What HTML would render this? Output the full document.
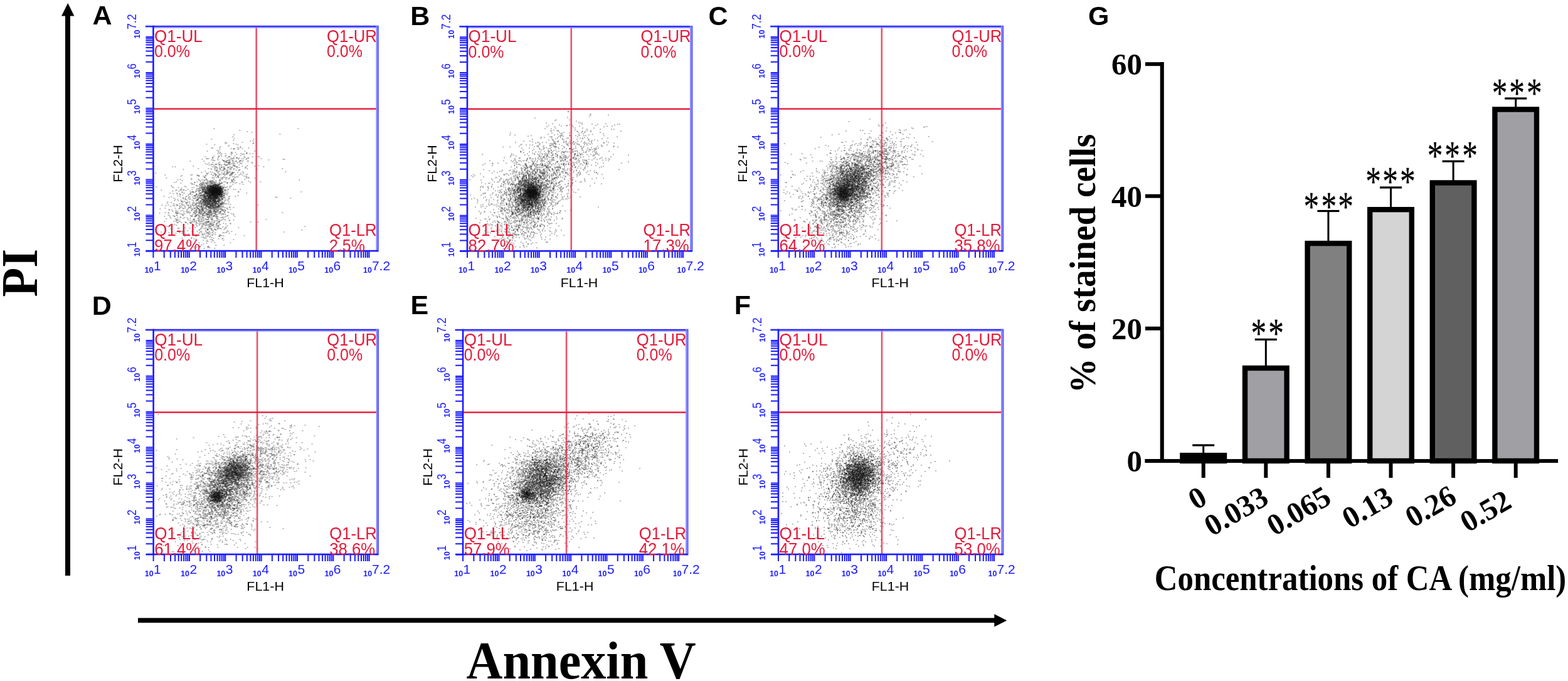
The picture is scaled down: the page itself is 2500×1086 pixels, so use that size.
<!DOCTYPE html><html><head><meta charset="utf-8"><title>Figure</title><style>html,body{margin:0;padding:0;background:#fff;overflow:hidden;}svg{display:block;}</style></head><body>
<svg width="2500" height="1086" viewBox="0 0 2500 1086">
<defs><filter id="soft" x="-5%" y="-5%" width="110%" height="110%"><feGaussianBlur stdDeviation="0.6"/></filter></defs>
<rect width="2500" height="1086" fill="#fff"/>
<rect x="104" y="24" width="8" height="894" fill="#000"/>
<polygon points="108.2,5 98,25.5 118.4,25.5" fill="#000"/>
<rect x="220" y="985.5" width="1367" height="7.6" fill="#000"/>
<polygon points="1605.3,989.5 1585.3,979.2 1585.3,999.4" fill="#000"/>
<text x="0" y="0" transform="translate(58.7,473.6) rotate(-90)" font-family="Liberation Serif, serif" font-weight="bold" font-size="83" textLength="76.6" lengthAdjust="spacingAndGlyphs">PI</text>
<text x="743.5" y="1081.8" font-family="Liberation Serif, serif" font-weight="bold" font-size="84" textLength="366.3" lengthAdjust="spacingAndGlyphs">Annexin V</text>
<text x="147.5" y="38.9" font-family="Liberation Sans, sans-serif" font-weight="bold" font-size="43">A</text>
<text x="654.2" y="39.6" font-family="Liberation Sans, sans-serif" font-weight="bold" font-size="43">B</text>
<text x="1129.5" y="39.6" font-family="Liberation Sans, sans-serif" font-weight="bold" font-size="43">C</text>
<text x="146.8" y="501.9" font-family="Liberation Sans, sans-serif" font-weight="bold" font-size="43">D</text>
<text x="654.6" y="501.4" font-family="Liberation Sans, sans-serif" font-weight="bold" font-size="43">E</text>
<text x="1170.8" y="501.4" font-family="Liberation Sans, sans-serif" font-weight="bold" font-size="43">F</text>
<text x="1735.1" y="40" font-family="Liberation Sans, sans-serif" font-weight="bold" font-size="43">G</text>
<g transform="translate(244.4,42.1)">
<g stroke="#000" stroke-width="2" stroke-opacity="0.27" fill="none" filter="url(#soft)"><path d="M149 168h2m-25 8h2m0 3h2m11 6h2m-51 9h2m8 9h2m37 1h2m0 0h2m-1 0h2m-39 1h2m-1 2h2m4 0h2m3 1h2m-18 1h2m27 0h2m-50 2h2m39 0h2m-25 2h2m17 1h2m3 0h2m-16 1h2m4 2h2m1 0h2m-3 3h2m7 3h2m-7 2h2m-13 3h2m95 4h2m-100 1h2m11 0h2m-2 0h2m-4 2h2m1 0h2m-25 5h2m42 0h2m2 1h2m-25 1h2m-10 1h2m5 1h2m16 0h2m-109 1h2m40 0h2m45 0h2m-38 1h2m-2 0h2m13 0h2m-2 0h2m-34 2h2m10 0h2m82 0h2m-87 2h2m7 0h2m-20 1h2m-5 1h2m1 0h2m18 0h2m-1 0h2m0 0h2m-13 1h2m6 0h2m0 0h2m-1 1h2m-19 1h2m9 0h2m-1 0h2m-1 0h2m1 0h2m9 0h2m-60 1h2m28 0h2m1 0h2m5 0h2m2 0h2m-1 0h2m0 0h2m6 0h2m1 0h2m-27 1h2m3 0h2m3 0h2m3 0h2m-1 0h2m0 0h2m1 0h2m-1 0h2m-2 0h2m3 0h2m-32 1h2m-1 0h2m0 0h2m0 0h2m-1 0h2m2 0h2m0 0h2m-2 0h2m0 0h2m-1 0h2m-2 0h2m-2 0h2m0 0h2m0 0h2m0 0h2m-2 0h2m-1 0h2m0 0h2m-1 0h2m-1 0h2m-23 1h2m1 0h2m0 0h2m-2 0h2m2 0h2m-2 0h2m3 0h2m3 0h2m0 0h2m2 0h2m-27 1h2m-1 0h2m3 0h2m0 0h2m-1 0h2m-2 0h2m4 0h2m-1 0h2m-2 0h2m-1 0h2m-2 0h2m-1 0h2m-2 0h2m4 0h2m26 0h2m-98 1h2m34 0h2m1 0h2m4 0h2m0 0h2m0 0h2m-1 0h2m1 0h2m1 0h2m-1 0h2m4 0h2m-2 0h2m-38 1h2m14 0h2m0 0h2m-1 0h2m0 0h2m-1 0h2m-1 0h2m-2 0h2m0 0h2m1 0h2m-2 0h2m0 0h2m-2 0h2m1 0h2m-2 0h2m-2 0h2m0 0h2m-1 0h2m-1 0h2m-36 1h2m4 0h2m0 0h2m3 0h2m1 0h2m5 0h2m-1 0h2m-2 0h2m-2 0h2m1 0h2m0 0h2m2 0h2m2 0h2m-29 1h2m8 0h2m-1 0h2m-2 0h2m-1 0h2m-2 0h2m-1 0h2m0 0h2m-2 0h2m-2 0h2m-1 0h2m0 0h2m-1 0h2m2 0h2m-1 0h2m27 0h2m-54 1h2m0 0h2m1 0h2m0 0h2m3 0h2m-1 0h2m-2 0h2m0 0h2m-1 0h2m4 0h2m0 0h2m-1 0h2m-2 0h2m-17 1h2m-2 0h2m1 0h2m-1 0h2m-1 0h2m0 0h2m4 0h2m-26 1h2m7 0h2m-1 0h2m0 0h2m-2 0h2m-1 0h2m-2 0h2m-2 0h2m-2 0h2m-1 0h2m0 0h2m-1 0h2m-1 0h2m-1 0h2m-1 0h2m2 0h2m3 0h2m0 0h2m-47 1h2m21 0h2m0 0h2m1 0h2m-1 0h2m-1 0h2m4 0h2m-1 0h2m1 0h2m5 0h2m-38 1h2m4 0h2m11 0h2m-2 0h2m-1 0h2m-1 0h2m1 0h2m-2 0h2m-2 0h2m12 0h2m-25 1h2m-2 0h2m2 0h2m0 0h2m-1 0h2m9 0h2m-48 1h2m18 0h2m6 0h2m-1 0h2m0 0h2m0 0h2m0 0h2m6 0h2m2 0h2m15 0h2m-50 1h2m5 0h2m0 0h2m3 0h2m2 0h2m-12 1h2m0 0h2m0 0h2m3 0h2m0 0h2m9 0h2m-82 1h2m40 0h2m11 0h2m1 0h2m0 0h2m-1 0h2m-1 0h2m1 0h2m-1 0h2m2 0h2m-2 0h2m-24 1h2m0 0h2m8 0h2m1 0h2m10 0h2m-52 1h2m23 0h2m7 0h2m2 0h2m8 0h2m-2 0h2m2 0h2m-41 1h2m9 0h2m4 0h2m1 0h2m-1 0h2m-2 0h2m20 0h2m-32 1h2m-1 0h2m8 0h2m-1 0h2m1 0h2m2 0h2m-2 0h2m0 0h2m-21 1h2m10 0h2m1 0h2m-22 1h2m3 0h2m-36 1h2m35 0h2m19 0h2m-27 1h2m10 0h2m0 1h2m-1 0h2m-2 0h2m0 0h2m4 0h2m-21 1h2m2 0h2m-46 1h2m31 0h2m6 0h2m1 0h2m4 0h2m4 1h2m-43 1h2m7 0h2m16 0h2m3 0h2m7 0h2m-11 1h2m5 0h2m-27 1h2m18 0h2m-53 1h2m17 0h2m32 0h2m15 0h2m-108 1h2m49 1h2m23 0h2m8 0h2m5 1h2m-39 1h2m4 1h2m3 0h2m8 0h2m1 0h2m9 0h2m-34 1h2m15 0h2m14 0h2m-2 0h2m-49 1h2m7 0h2m7 0h2m15 0h2m-68 1h2m41 0h2m14 0h2m10 0h2m-48 1h2m36 1h2m3 0h2m3 1h2m9 0h2m17 0h2m-40 1h2m-26 1h2m0 0h2m26 0h2m3 0h2m-36 1h2m18 0h2m-50 1h2m18 1h2m59 0h2m-39 1h2m-44 1h2m44 0h2m-51 1h2m40 0h2m46 0h2m-87 2h2m43 1h2m-31 1h2m41 0h2m-28 2h2m29 1h2m-25 1h2m-64 2h2m92 1h2m-40 1h2m4 0h2m4 2h2m11 0h2m-11 2h2m-50 2h2m1 0h2m69 0h2m-53 7h2m74 0h2m-57 2h2m-5 7h2m-9 4h2"/><path d="M158 183h2m-46 2h2m12 11h2m-29 2h2m3 3h2m40 1h2m3 1h2m-59 4h2m19 3h2m4 0h2m25 0h2m-12 1h2m6 0h2m-41 2h2m31 1h2m-86 1h2m52 0h2m19 2h2m1 0h2m-50 1h2m43 0h2m-20 4h2m50 0h2m-48 2h2m-1 0h2m-13 1h2m5 0h2m-23 1h2m22 1h2m-76 1h2m78 0h2m35 0h2m-56 2h2m9 3h2m-7 1h2m-14 1h2m6 0h2m-29 1h2m5 0h2m-25 1h2m70 0h2m-73 1h2m11 0h2m-13 1h2m70 0h2m-12 1h2m-40 1h2m-15 2h2m-2 0h2m39 2h2m-36 2h2m25 3h2m-36 1h2m-21 1h2m13 0h2m10 0h2m-1 0h2m-1 0h2m-18 1h2m16 0h2m-1 0h2m-1 0h2m-31 1h2m22 0h2m5 0h2m1 0h2m-22 1h2m5 0h2m14 0h2m-2 0h2m0 0h2m-32 1h2m-1 0h2m14 0h2m1 0h2m3 0h2m2 0h2m-34 1h2m5 0h2m2 0h2m3 0h2m1 0h2m2 0h2m-2 0h2m-2 0h2m-1 0h2m1 0h2m0 0h2m0 0h2m-2 0h2m-33 1h2m13 0h2m1 0h2m0 0h2m1 0h2m-1 0h2m1 0h2m2 0h2m-1 0h2m-1 0h2m-2 0h2m-40 1h2m18 0h2m-1 0h2m-1 0h2m-2 0h2m0 0h2m5 0h2m-2 0h2m6 0h2m-49 1h2m18 0h2m4 0h2m-1 0h2m-1 0h2m2 0h2m1 0h2m-2 0h2m-2 0h2m-2 0h2m1 0h2m-2 0h2m5 0h2m-61 1h2m36 0h2m-1 0h2m5 0h2m-1 0h2m-1 0h2m-2 0h2m-2 0h2m0 0h2m-2 0h2m0 0h2m-1 0h2m-1 0h2m-2 0h2m1 0h2m-55 1h2m41 0h2m0 0h2m-2 0h2m-1 0h2m-2 0h2m-1 0h2m-2 0h2m0 0h2m-2 0h2m-1 0h2m-1 0h2m-2 0h2m1 0h2m-2 0h2m-1 0h2m-41 1h2m18 0h2m2 0h2m-1 0h2m-1 0h2m-2 0h2m1 0h2m2 0h2m-1 0h2m1 0h2m-1 0h2m-27 1h2m0 0h2m4 0h2m2 0h2m-1 0h2m-1 0h2m-1 0h2m-2 0h2m-1 0h2m-2 0h2m-2 0h2m-1 0h2m-2 0h2m-2 0h2m-2 0h2m-1 0h2m-1 0h2m-1 0h2m-2 0h2m-2 0h2m-2 0h2m0 0h2m0 0h2m-2 0h2m-1 0h2m-2 0h2m-1 0h2m-49 1h2m2 0h2m17 0h2m1 0h2m3 0h2m-1 0h2m-2 0h2m0 0h2m-1 0h2m-1 0h2m-2 0h2m0 0h2m0 0h2m-2 0h2m-14 1h2m-1 0h2m5 0h2m1 0h2m-2 0h2m-1 0h2m-2 0h2m2 0h2m-68 1h2m51 0h2m1 0h2m-1 0h2m-1 0h2m0 0h2m-1 0h2m4 0h2m-2 0h2m0 0h2m-2 0h2m-19 1h2m2 0h2m-2 0h2m1 0h2m0 0h2m-1 0h2m-1 0h2m-2 0h2m-1 0h2m-1 0h2m0 0h2m-1 0h2m-19 1h2m2 0h2m1 0h2m0 0h2m0 0h2m5 0h2m1 0h2m0 0h2m-1 0h2m-50 1h2m15 0h2m1 0h2m5 0h2m-2 0h2m4 0h2m8 0h2m-29 1h2m5 0h2m0 0h2m0 0h2m-1 0h2m0 0h2m-2 0h2m2 0h2m-72 1h2m27 0h2m22 0h2m15 0h2m0 0h2m-2 0h2m1 0h2m2 0h2m-26 1h2m2 0h2m0 0h2m4 0h2m2 0h2m10 0h2m-29 1h2m9 0h2m1 0h2m0 0h2m-44 1h2m16 0h2m6 0h2m-2 0h2m13 0h2m-1 0h2m-33 1h2m5 0h2m7 0h2m16 0h2m5 0h2m-51 1h2m6 0h2m10 0h2m-1 0h2m7 0h2m3 0h2m-2 0h2m-12 1h2m8 0h2m4 0h2m-29 1h2m3 0h2m12 0h2m1 0h2m-1 0h2m13 0h2m-26 1h2m0 0h2m4 0h2m-2 0h2m0 0h2m-17 1h2m13 0h2m-18 1h2m-1 0h2m3 0h2m16 0h2m2 0h2m-14 1h2m2 0h2m7 0h2m0 0h2m3 0h2m-76 1h2m56 0h2m-33 1h2m20 0h2m-59 1h2m31 0h2m19 0h2m0 0h2m4 0h2m2 0h2m-64 1h2m43 1h2m0 0h2m5 0h2m4 0h2m2 0h2m-7 1h2m-84 1h2m57 0h2m4 0h2m32 0h2m-57 2h2m10 0h2m-2 0h2m36 0h2m-85 1h2m41 0h2m3 0h2m23 0h2m-68 2h2m60 0h2m-65 1h2m17 0h2m19 0h2m0 0h2m9 0h2m-72 1h2m38 0h2m7 0h2m17 0h2m0 0h2m-50 1h2m54 0h2m-32 1h2m6 0h2m9 0h2m-2 1h2m3 1h2m-61 1h2m28 0h2m15 0h2m-20 1h2m33 0h2m13 1h2m-41 1h2m-1 0h2m13 1h2m-55 1h2m57 0h2m-3 1h2m-57 1h2m19 0h2m40 1h2m-85 1h2m147 1h2m-130 1h2m53 0h2m-18 1h2m36 1h2m-32 1h2m-2 1h2m17 0h2m-13 1h2m-5 1h2m4 1h2m-48 1h2m34 3h2m10 0h2m-17 3h2m39 0h2m-40 2h2m-1 1h2m4 3h2m10 0h2m-24 1h2m22 0h2m-1 0h2m-61 1h2m41 2h2m15 2h2m-57 5h2m36 0h2m18 5h2m-28 2h2m-2 2h2"/><path d="M230 163h2m-76 6h2m-53 28h2m-13 12h2m49 0h2m-4 2h2m-68 1h2m41 0h2m84 0h2m-111 2h2m16 1h2m24 1h2m-30 1h2m-33 2h2m40 0h2m-27 1h2m4 0h2m-16 1h2m3 1h2m28 0h2m13 1h2m-113 1h2m62 0h2m4 1h2m6 0h2m-39 2h2m37 2h2m19 0h2m3 0h2m-31 1h2m-9 1h2m-9 2h2m13 0h2m24 0h2m-52 1h2m21 2h2m14 0h2m-27 1h2m21 0h2m13 0h2m-14 1h2m-45 3h2m33 0h2m-9 1h2m-4 1h2m-67 1h2m16 0h2m22 0h2m38 1h2m-81 1h2m38 1h2m6 0h2m56 0h2m-21 2h2m-37 1h2m18 0h2m-39 1h2m19 0h2m4 0h2m-32 1h2m25 0h2m-3 1h2m-30 1h2m9 0h2m-1 0h2m5 0h2m0 0h2m-49 1h2m19 0h2m13 0h2m7 0h2m0 0h2m3 0h2m0 0h2m3 0h2m-19 1h2m-1 0h2m-1 0h2m1 0h2m-1 0h2m-2 0h2m-68 1h2m47 0h2m3 0h2m4 0h2m-2 0h2m2 0h2m-1 0h2m-2 0h2m8 0h2m-16 1h2m-1 0h2m-1 0h2m1 0h2m0 0h2m-1 0h2m0 0h2m0 0h2m-35 1h2m4 0h2m9 0h2m0 0h2m-2 0h2m-2 0h2m0 0h2m-2 0h2m-1 0h2m0 0h2m1 0h2m1 0h2m0 0h2m-1 0h2m-52 1h2m25 0h2m2 0h2m5 0h2m0 0h2m1 0h2m0 0h2m-1 0h2m-2 0h2m-2 0h2m2 0h2m-2 0h2m-2 0h2m0 0h2m-1 0h2m-61 1h2m28 0h2m12 0h2m0 0h2m-2 0h2m0 0h2m-1 0h2m-1 0h2m1 0h2m-1 0h2m3 0h2m-74 1h2m51 0h2m-2 0h2m0 0h2m-2 0h2m2 0h2m-1 0h2m-1 0h2m-1 0h2m-2 0h2m0 0h2m2 0h2m-1 0h2m-24 1h2m0 0h2m2 0h2m4 0h2m-2 0h2m-1 0h2m-2 0h2m-2 0h2m-1 0h2m-1 0h2m-2 0h2m-1 0h2m-2 0h2m0 0h2m2 0h2m4 0h2m-24 1h2m1 0h2m-2 0h2m2 0h2m-2 0h2m-2 0h2m1 0h2m-1 0h2m-2 0h2m-1 0h2m3 0h2m-2 0h2m0 0h2m1 0h2m-31 1h2m0 0h2m1 0h2m6 0h2m-1 0h2m-1 0h2m-1 0h2m0 0h2m-2 0h2m-1 0h2m0 0h2m-2 0h2m3 0h2m0 0h2m-63 1h2m8 0h2m36 0h2m2 0h2m-1 0h2m-1 0h2m0 0h2m-2 0h2m-1 0h2m9 0h2m-35 1h2m1 0h2m-1 0h2m1 0h2m0 0h2m-2 0h2m0 0h2m-2 0h2m-2 0h2m4 0h2m-2 0h2m-1 0h2m-2 0h2m-1 0h2m-1 0h2m-2 0h2m1 0h2m-1 0h2m-1 0h2m-26 1h2m9 0h2m-1 0h2m2 0h2m1 0h2m-15 1h2m-2 0h2m1 0h2m0 0h2m0 0h2m5 0h2m-2 0h2m-39 1h2m6 0h2m1 0h2m-1 0h2m8 0h2m-1 0h2m1 0h2m1 0h2m1 0h2m-1 0h2m-1 0h2m1 0h2m-41 1h2m12 0h2m1 0h2m10 0h2m-2 0h2m4 0h2m-1 0h2m1 0h2m-1 0h2m-56 1h2m42 0h2m-2 0h2m1 0h2m94 0h2m-123 1h2m4 0h2m7 0h2m0 0h2m2 0h2m-2 0h2m2 0h2m0 0h2m-21 1h2m14 0h2m2 0h2m-17 1h2m7 0h2m11 0h2m10 0h2m-72 1h2m30 0h2m11 0h2m2 0h2m1 0h2m-35 1h2m0 0h2m8 0h2m20 0h2m3 0h2m-71 1h2m33 0h2m5 0h2m0 0h2m5 0h2m6 0h2m-14 1h2m-2 0h2m0 0h2m-68 1h2m58 0h2m12 0h2m0 0h2m-32 1h2m11 0h2m10 0h2m4 0h2m3 0h2m6 0h2m-49 1h2m4 0h2m3 0h2m16 0h2m1 0h2m-1 0h2m-1 0h2m-69 1h2m45 0h2m7 0h2m0 0h2m-2 0h2m4 0h2m-2 0h2m12 0h2m-33 1h2m2 0h2m1 0h2m6 0h2m0 0h2m8 0h2m-1 0h2m-72 1h2m-1 0h2m22 0h2m15 0h2m-1 0h2m8 0h2m4 0h2m6 0h2m-1 0h2m-27 2h2m1 0h2m5 0h2m1 0h2m-2 0h2m4 0h2m1 0h2m1 0h2m-51 1h2m15 0h2m12 0h2m14 0h2m-1 0h2m-15 1h2m8 0h2m0 0h2m3 0h2m3 0h2m-56 1h2m29 0h2m-2 1h2m5 0h2m8 0h2m-85 1h2m27 0h2m35 0h2m-57 1h2m36 0h2m1 0h2m0 0h2m15 0h2m11 0h2m-22 1h2m21 0h2m-34 1h2m14 0h2m0 0h2m8 0h2m-19 1h2m-2 0h2m-83 2h2m26 0h2m36 1h2m8 0h2m17 0h2m-15 1h2m18 0h2m-67 1h2m39 0h2m28 1h2m-86 1h2m57 1h2m17 2h2m-58 3h2m64 0h2m-91 2h2m50 0h2m2 0h2m7 0h2m5 0h2m-24 1h2m16 3h2m-24 1h2m1 1h2m-19 1h2m23 0h2m9 0h2m-40 1h2m12 0h2m25 1h2m-13 2h2m7 1h2m-17 1h2m-27 3h2m31 1h2m-61 2h2m53 0h2m14 2h2m-48 5h2m-4 13h2m13 2h2"/><path d="M127 182h2m-45 6h2m20 4h2m50 11h2m-22 3h2m4 2h2m-59 3h2m5 2h2m-1 1h2m34 1h2m-29 2h2m-1 0h2m20 2h2m-44 1h2m17 1h2m2 4h2m-9 1h2m20 0h2m21 0h2m-57 1h2m-1 1h2m23 3h2m5 4h2m-15 1h2m-31 2h2m-41 1h2m83 0h2m-49 1h2m19 0h2m22 0h2m20 0h2m-57 1h2m26 0h2m25 1h2m11 0h2m-58 3h2m18 1h2m-49 1h2m14 0h2m-31 2h2m12 0h2m1 0h2m7 0h2m34 0h2m-51 1h2m13 0h2m10 0h2m-2 2h2m19 0h2m14 0h2m-66 1h2m10 0h2m3 0h2m4 0h2m-2 0h2m-12 1h2m7 0h2m-13 1h2m1 0h2m-1 0h2m0 0h2m1 0h2m2 0h2m-100 1h2m77 0h2m1 0h2m7 0h2m2 0h2m1 0h2m-1 0h2m7 0h2m-50 1h2m17 0h2m7 0h2m4 0h2m3 0h2m16 0h2m-36 1h2m1 0h2m3 0h2m2 0h2m0 0h2m-1 0h2m-2 0h2m4 0h2m-1 0h2m-2 0h2m-26 1h2m4 0h2m0 0h2m-1 0h2m-1 0h2m-2 0h2m-1 0h2m-1 0h2m0 0h2m2 0h2m-1 0h2m-2 0h2m-1 0h2m-20 1h2m6 0h2m-1 0h2m-2 0h2m-1 0h2m1 0h2m-1 0h2m-1 0h2m0 0h2m-70 1h2m40 0h2m3 0h2m7 0h2m0 0h2m-1 0h2m7 0h2m2 0h2m5 0h2m-31 1h2m0 0h2m1 0h2m-1 0h2m4 0h2m-2 0h2m-1 0h2m-2 0h2m-1 0h2m-2 0h2m0 0h2m4 0h2m-32 1h2m11 0h2m-2 0h2m-2 0h2m-1 0h2m-2 0h2m-1 0h2m0 0h2m-2 0h2m0 0h2m-2 0h2m0 0h2m0 0h2m-2 0h2m-2 0h2m-1 0h2m-2 0h2m-1 0h2m1 0h2m-1 0h2m-2 0h2m-1 0h2m-38 1h2m13 0h2m1 0h2m-1 0h2m-1 0h2m0 0h2m0 0h2m-1 0h2m-1 0h2m-1 0h2m-2 0h2m-1 0h2m-2 0h2m-2 0h2m-1 0h2m-1 0h2m-2 0h2m-1 0h2m-1 0h2m-1 0h2m-2 0h2m-2 0h2m-1 0h2m6 0h2m-71 1h2m19 0h2m9 0h2m3 0h2m1 0h2m-2 0h2m1 0h2m-2 0h2m-1 0h2m1 0h2m4 0h2m-2 0h2m-1 0h2m-2 0h2m-1 0h2m1 0h2m0 0h2m1 0h2m-36 1h2m-2 0h2m9 0h2m0 0h2m5 0h2m2 0h2m-1 0h2m-2 0h2m1 0h2m-2 0h2m-2 0h2m-2 0h2m1 0h2m-66 1h2m42 0h2m-1 0h2m9 0h2m-1 0h2m1 0h2m-2 0h2m-2 0h2m-1 0h2m0 0h2m-1 0h2m-2 0h2m-1 0h2m-28 1h2m-1 0h2m6 0h2m-1 0h2m1 0h2m2 0h2m3 0h2m0 0h2m2 0h2m-21 1h2m5 0h2m-1 0h2m3 0h2m8 0h2m-36 1h2m2 0h2m8 0h2m1 0h2m-2 0h2m1 0h2m2 0h2m-29 1h2m4 0h2m2 0h2m1 0h2m-2 0h2m-1 0h2m1 0h2m-2 0h2m3 0h2m-1 0h2m-1 0h2m1 0h2m6 0h2m-50 1h2m22 0h2m2 0h2m3 0h2m0 0h2m-2 0h2m-1 0h2m-2 0h2m19 0h2m-74 1h2m7 0h2m17 0h2m10 0h2m0 0h2m4 0h2m-51 1h2m36 0h2m-1 0h2m-1 0h2m6 0h2m-1 0h2m121 0h2m-149 1h2m11 0h2m2 0h2m7 0h2m-1 0h2m4 0h2m3 0h2m-60 1h2m36 0h2m5 0h2m0 0h2m-18 1h2m5 0h2m2 1h2m0 0h2m8 0h2m-1 0h2m-29 1h2m4 0h2m4 0h2m-15 1h2m2 0h2m4 0h2m13 0h2m-77 1h2m47 0h2m7 0h2m-1 0h2m3 0h2m6 0h2m-81 1h2m53 0h2m0 0h2m6 0h2m4 0h2m-1 0h2m-1 0h2m4 0h2m1 0h2m-64 1h2m44 0h2m16 0h2m-20 1h2m13 0h2m-46 1h2m29 0h2m0 0h2m73 0h2m-149 1h2m12 0h2m40 0h2m6 0h2m1 1h2m11 0h2m-13 1h2m-1 0h2m3 0h2m2 0h2m-42 1h2m9 0h2m17 0h2m11 0h2m3 0h2m-47 1h2m1 0h2m-26 1h2m30 0h2m3 0h2m-11 2h2m8 0h2m17 0h2m-26 1h2m15 0h2m8 0h2m-35 1h2m44 0h2m-28 1h2m17 0h2m-85 1h2m51 0h2m3 0h2m6 0h2m22 0h2m-27 1h2m23 0h2m-31 1h2m3 0h2m36 0h2m-51 1h2m19 0h2m-33 1h2m-1 0h2m14 0h2m-6 1h2m35 0h2m-31 2h2m-48 1h2m56 0h2m-2 2h2m-20 1h2m25 0h2m67 0h2m-118 1h2m0 0h2m-32 1h2m35 0h2m23 0h2m-23 1h2m14 0h2m-44 1h2m12 0h2m1 0h2m18 0h2m1 1h2m4 0h2m-38 1h2m-29 2h2m55 0h2m3 0h2m-7 3h2m43 2h2m-99 1h2m0 0h2m-15 1h2m68 0h2m-14 2h2m-11 2h2m10 0h2m-78 1h2m75 0h2m-67 1h2m89 0h2m-72 1h2m37 1h2m9 0h2m-20 1h2m26 2h2m-17 1h2m-13 2h2m30 4h2m-18 1h2m-23 9h2"/><path d="M159 180h2m-7 3h2m-18 10h2m-35 1h2m21 1h2m-37 15h2m41 0h2m13 0h2m-18 1h2m-2 1h2m71 0h2m-99 2h2m4 0h2m19 0h2m-14 2h2m1 3h2m-37 1h2m21 0h2m-4 1h2m-9 2h2m-13 1h2m-1 0h2m32 0h2m-15 1h2m-16 1h2m6 0h2m18 0h2m-24 1h2m15 0h2m-25 1h2m-1 0h2m15 0h2m-26 2h2m-11 2h2m21 0h2m2 1h2m-116 1h2m108 2h2m-2 2h2m-21 4h2m55 0h2m-44 2h2m-39 1h2m31 0h2m-20 2h2m16 0h2m-42 2h2m37 0h2m11 0h2m3 0h2m-81 1h2m44 1h2m14 0h2m-46 1h2m25 1h2m9 0h2m0 0h2m-13 1h2m-2 0h2m3 0h2m3 0h2m-1 0h2m-2 0h2m0 0h2m-15 1h2m6 0h2m-1 0h2m-24 1h2m8 0h2m8 0h2m0 0h2m0 0h2m3 0h2m-29 1h2m-1 0h2m3 0h2m7 0h2m0 0h2m-2 0h2m0 0h2m-1 0h2m2 0h2m-2 0h2m9 0h2m-31 1h2m2 0h2m1 0h2m5 0h2m-2 0h2m0 0h2m0 0h2m0 0h2m-22 1h2m2 0h2m4 0h2m1 0h2m2 0h2m-2 0h2m0 0h2m1 0h2m-32 1h2m-1 0h2m8 0h2m4 0h2m-1 0h2m1 0h2m0 0h2m-1 0h2m-2 0h2m-2 0h2m-1 0h2m0 0h2m-17 1h2m0 0h2m-2 0h2m2 0h2m-2 0h2m-1 0h2m-1 0h2m2 0h2m0 0h2m-1 0h2m-2 0h2m-2 0h2m-18 1h2m-2 0h2m1 0h2m-1 0h2m-2 0h2m-2 0h2m0 0h2m0 0h2m-2 0h2m-2 0h2m0 0h2m-2 0h2m-1 0h2m-1 0h2m0 0h2m1 0h2m-21 1h2m0 0h2m-1 0h2m4 0h2m-2 0h2m-1 0h2m-1 0h2m-2 0h2m0 0h2m-1 0h2m-1 0h2m-1 0h2m-1 0h2m-1 0h2m0 0h2m-46 1h2m18 0h2m4 0h2m-1 0h2m3 0h2m0 0h2m-1 0h2m-2 0h2m0 0h2m-2 0h2m-1 0h2m-2 0h2m-2 0h2m-2 0h2m-2 0h2m-1 0h2m-1 0h2m1 0h2m2 0h2m-36 1h2m5 0h2m0 0h2m1 0h2m3 0h2m-1 0h2m-1 0h2m-1 0h2m-2 0h2m-1 0h2m-2 0h2m1 0h2m0 0h2m-2 0h2m-2 0h2m1 0h2m-1 0h2m-2 0h2m-1 0h2m-2 0h2m-1 0h2m-36 1h2m10 0h2m-2 0h2m13 0h2m-1 0h2m-1 0h2m-2 0h2m1 0h2m-2 0h2m-26 1h2m4 0h2m5 0h2m0 0h2m-2 0h2m6 0h2m0 0h2m-2 0h2m-28 1h2m6 0h2m1 0h2m-1 0h2m-2 0h2m-1 0h2m-1 0h2m-1 0h2m-1 0h2m3 0h2m1 0h2m-1 0h2m-21 1h2m3 0h2m2 0h2m-2 0h2m-2 0h2m-1 0h2m0 0h2m-1 0h2m0 0h2m0 0h2m-2 0h2m0 0h2m0 0h2m-33 1h2m3 0h2m-2 0h2m3 0h2m1 0h2m7 0h2m5 0h2m0 0h2m-57 1h2m19 0h2m14 0h2m-1 0h2m4 0h2m-1 0h2m3 0h2m1 0h2m2 0h2m-69 1h2m39 0h2m3 0h2m-1 0h2m-1 0h2m-1 0h2m2 0h2m-1 0h2m-1 0h2m0 0h2m0 0h2m4 0h2m-85 1h2m41 0h2m33 0h2m-39 1h2m8 0h2m1 0h2m0 0h2m9 0h2m0 0h2m2 0h2m4 0h2m15 0h2m-39 1h2m2 0h2m1 0h2m5 0h2m-1 0h2m0 0h2m-64 1h2m38 0h2m-2 0h2m7 0h2m1 1h2m2 0h2m1 0h2m10 0h2m4 0h2m-50 1h2m11 0h2m1 0h2m0 0h2m9 0h2m0 0h2m-56 1h2m45 0h2m0 0h2m-2 0h2m1 0h2m5 0h2m-33 1h2m9 0h2m2 0h2m5 0h2m-13 1h2m6 0h2m-18 1h2m6 0h2m8 0h2m-15 1h2m4 0h2m2 0h2m1 0h2m2 0h2m-17 1h2m17 0h2m-1 0h2m18 0h2m-93 1h2m39 0h2m6 0h2m3 0h2m10 0h2m-68 1h2m60 0h2m8 0h2m-78 1h2m73 0h2m-1 0h2m-36 1h2m21 0h2m-38 1h2m11 0h2m11 0h2m4 0h2m2 0h2m3 0h2m28 0h2m-88 1h2m27 0h2m4 0h2m17 0h2m-22 1h2m0 0h2m9 0h2m1 0h2m0 0h2m6 0h2m2 0h2m-2 0h2m-16 1h2m13 0h2m1 0h2m-51 1h2m21 0h2m24 0h2m-38 1h2m13 0h2m-7 1h2m11 0h2m-30 1h2m3 0h2m6 0h2m16 0h2m-37 1h2m15 0h2m15 1h2m-63 1h2m26 0h2m11 0h2m8 1h2m24 0h2m-49 1h2m4 0h2m-38 1h2m42 0h2m-11 1h2m41 0h2m-32 1h2m-38 1h2m28 0h2m-18 3h2m-28 1h2m81 1h2m-57 1h2m37 1h2m-68 1h2m11 0h2m28 0h2m-25 1h2m-6 1h2m66 0h2m-52 2h2m25 0h2m-24 1h2m23 1h2m-2 2h2m-29 1h2m13 0h2m12 0h2m-33 2h2m161 1h2m-162 4h2m6 0h2m7 0h2m-9 6h2m16 0h2m-25 3h2m0 0h2m10 0h2m-30 1h2m-1 13h2"/><path d="M96 163h2m103 9h2m-76 23h2m-26 6h2m18 2h2m0 0h2m-12 3h2m15 4h2m-49 1h2m24 3h2m12 0h2m-47 1h2m49 0h2m-12 1h2m15 2h2m-20 1h2m-30 1h2m18 0h2m5 0h2m-58 3h2m39 8h2m10 0h2m-31 3h2m50 0h2m2 0h2m-35 1h2m4 1h2m31 0h2m-133 1h2m75 0h2m24 0h2m-29 1h2m6 0h2m-25 1h2m-4 5h2m-5 2h2m17 0h2m-3 2h2m5 1h2m7 0h2m44 0h2m-82 2h2m22 0h2m-1 1h2m-16 1h2m10 0h2m0 0h2m4 0h2m-2 0h2m-39 1h2m30 0h2m-1 0h2m-24 1h2m10 0h2m-1 0h2m-2 0h2m3 0h2m-1 0h2m2 0h2m17 0h2m-36 1h2m-1 0h2m4 0h2m3 0h2m2 0h2m0 0h2m-14 1h2m-1 0h2m0 0h2m4 0h2m1 0h2m-35 1h2m3 0h2m1 0h2m4 0h2m-1 0h2m3 0h2m-2 0h2m0 0h2m0 0h2m-2 0h2m1 0h2m4 0h2m-20 1h2m-1 0h2m3 0h2m-2 0h2m5 0h2m-10 1h2m2 0h2m-1 0h2m-2 0h2m-1 0h2m2 0h2m0 0h2m2 0h2m8 0h2m-108 1h2m70 0h2m-1 0h2m-2 0h2m0 0h2m4 0h2m-1 0h2m0 0h2m-1 0h2m-2 0h2m-1 0h2m2 0h2m-2 0h2m3 0h2m-38 1h2m0 0h2m7 0h2m4 0h2m-2 0h2m0 0h2m2 0h2m-2 0h2m-1 0h2m-2 0h2m-2 0h2m0 0h2m1 0h2m-2 0h2m0 0h2m2 0h2m-2 0h2m-31 1h2m2 0h2m0 0h2m6 0h2m-1 0h2m0 0h2m1 0h2m-2 0h2m0 0h2m-1 0h2m2 0h2m1 0h2m-47 1h2m-1 0h2m12 0h2m10 0h2m1 0h2m-1 0h2m-1 0h2m-2 0h2m-1 0h2m0 0h2m-1 0h2m-1 0h2m-2 0h2m1 0h2m-2 0h2m0 0h2m-1 0h2m-25 1h2m-1 0h2m6 0h2m1 0h2m-2 0h2m0 0h2m-1 0h2m-1 0h2m-1 0h2m-2 0h2m-1 0h2m1 0h2m2 0h2m-1 0h2m0 0h2m-28 1h2m-1 0h2m-1 0h2m0 0h2m-1 0h2m-2 0h2m1 0h2m-1 0h2m-1 0h2m-1 0h2m-2 0h2m-1 0h2m-1 0h2m-2 0h2m-1 0h2m-2 0h2m-2 0h2m-2 0h2m-1 0h2m0 0h2m0 0h2m0 0h2m-2 0h2m-2 0h2m-1 0h2m-36 1h2m2 0h2m-2 0h2m9 0h2m-1 0h2m3 0h2m0 0h2m-1 0h2m-1 0h2m-1 0h2m-1 0h2m2 0h2m-1 0h2m0 0h2m2 0h2m-35 1h2m13 0h2m-2 0h2m-2 0h2m-1 0h2m-2 0h2m-2 0h2m-1 0h2m-1 0h2m2 0h2m2 0h2m1 0h2m-27 1h2m0 0h2m4 0h2m-2 0h2m0 0h2m3 0h2m-1 0h2m-2 0h2m-1 0h2m-1 0h2m0 0h2m-2 0h2m1 0h2m-2 0h2m2 0h2m-55 1h2m22 0h2m4 0h2m1 0h2m2 0h2m2 0h2m-1 0h2m-1 0h2m-1 0h2m-1 0h2m-21 1h2m5 0h2m1 0h2m-1 0h2m-2 0h2m-1 0h2m-1 0h2m-1 0h2m-1 0h2m2 0h2m-1 0h2m-2 0h2m-9 1h2m3 0h2m-22 1h2m6 0h2m3 0h2m-2 0h2m2 0h2m-1 0h2m1 0h2m-19 1h2m5 0h2m0 0h2m-2 0h2m-1 0h2m-1 0h2m0 0h2m2 0h2m0 0h2m0 0h2m-2 0h2m-16 1h2m7 0h2m-1 0h2m3 0h2m-30 1h2m14 0h2m10 0h2m-28 1h2m-1 0h2m3 0h2m1 0h2m8 0h2m4 0h2m-6 1h2m-1 0h2m-54 1h2m27 0h2m9 0h2m4 0h2m2 0h2m-2 0h2m-21 1h2m8 0h2m8 0h2m-50 1h2m-1 0h2m25 0h2m14 0h2m1 0h2m-17 1h2m-1 0h2m1 0h2m-1 0h2m11 0h2m-12 1h2m7 0h2m13 0h2m-82 1h2m46 0h2m1 0h2m2 0h2m13 0h2m-1 0h2m1 0h2m-57 1h2m19 0h2m14 0h2m-1 0h2m1 0h2m1 0h2m-33 1h2m7 0h2m-1 0h2m16 0h2m1 0h2m-2 0h2m-30 1h2m3 0h2m18 0h2m5 0h2m2 0h2m-20 1h2m3 0h2m4 0h2m-60 1h2m21 1h2m1 2h2m52 0h2m-45 1h2m9 0h2m5 0h2m-56 1h2m30 0h2m-25 1h2m2 0h2m32 0h2m-11 1h2m122 1h2m-135 1h2m13 0h2m1 0h2m14 0h2m-61 1h2m31 0h2m11 0h2m15 0h2m-34 2h2m9 0h2m1 0h2m6 0h2m-2 0h2m-34 1h2m30 0h2m-85 1h2m42 0h2m3 0h2m4 0h2m27 0h2m-14 1h2m-38 1h2m32 0h2m20 0h2m-84 1h2m71 0h2m-1 1h2m-16 1h2m3 0h2m0 0h2m10 1h2m-40 1h2m-30 1h2m32 0h2m7 2h2m-1 0h2m-7 1h2m2 0h2m18 4h2m-27 1h2m-2 0h2m7 0h2m10 1h2m-35 1h2m38 1h2m4 2h2m-60 2h2m-11 1h2m0 1h2m67 0h2m-20 1h2m10 0h2m8 1h2m-24 2h2m-22 1h2m23 6h2m-33 6h2m23 9h2"/><path d="M128 173h2m-16 14h2m11 0h2m2 1h2m1 1h2m-33 10h2m19 2h2m-18 2h2m4 0h2m32 0h2m-27 2h2m-22 2h2m15 1h2m35 0h2m9 0h2m-76 2h2m37 0h2m-43 3h2m89 0h2m-67 1h2m17 1h2m-45 2h2m20 0h2m1 1h2m-18 1h2m34 0h2m-1 0h2m-44 1h2m8 1h2m4 0h2m1 1h2m9 0h2m19 0h2m-46 2h2m5 0h2m19 0h2m70 3h2m-106 1h2m19 0h2m11 2h2m-19 2h2m-1 1h2m7 0h2m-5 2h2m3 1h2m-71 1h2m36 0h2m3 0h2m-8 2h2m2 0h2m7 1h2m17 1h2m-13 2h2m-25 1h2m-8 3h2m-56 1h2m58 0h2m26 0h2m-93 1h2m56 0h2m-1 0h2m-8 1h2m3 0h2m37 0h2m-33 2h2m-15 1h2m13 0h2m0 0h2m-1 0h2m-2 0h2m-78 1h2m61 0h2m2 0h2m1 0h2m2 0h2m-2 0h2m-15 1h2m7 0h2m-14 1h2m0 0h2m1 0h2m0 0h2m4 0h2m-14 1h2m-1 0h2m-1 0h2m0 0h2m-1 0h2m-1 0h2m-1 0h2m-1 0h2m-1 0h2m2 0h2m-2 0h2m0 0h2m-2 0h2m1 0h2m3 0h2m-13 1h2m-1 0h2m3 0h2m-2 0h2m1 0h2m0 0h2m-32 1h2m2 0h2m11 0h2m0 0h2m-58 1h2m23 0h2m8 0h2m9 0h2m1 0h2m-2 0h2m-1 0h2m-1 0h2m-1 0h2m-2 0h2m-1 0h2m-2 0h2m2 0h2m4 0h2m0 0h2m3 0h2m-41 1h2m10 0h2m2 0h2m1 0h2m-2 0h2m2 0h2m0 0h2m0 0h2m0 0h2m-15 1h2m4 0h2m1 0h2m1 0h2m-2 0h2m1 0h2m-1 0h2m-1 0h2m0 0h2m2 0h2m-30 1h2m7 0h2m-1 0h2m3 0h2m2 0h2m-1 0h2m-2 0h2m4 0h2m-68 1h2m31 0h2m10 0h2m0 0h2m0 0h2m-1 0h2m-1 0h2m-2 0h2m1 0h2m-1 0h2m0 0h2m0 0h2m-2 0h2m-1 0h2m3 0h2m23 0h2m-47 1h2m-1 0h2m-2 0h2m-1 0h2m1 0h2m-1 0h2m-2 0h2m-1 0h2m0 0h2m0 0h2m-1 0h2m-78 1h2m53 0h2m0 0h2m6 0h2m-1 0h2m0 0h2m-1 0h2m-1 0h2m2 0h2m0 0h2m-1 0h2m-1 0h2m0 0h2m10 0h2m-36 1h2m2 0h2m-1 0h2m0 0h2m1 0h2m1 0h2m-1 0h2m-2 0h2m1 0h2m0 0h2m-1 0h2m-1 0h2m-1 0h2m-18 1h2m-1 0h2m-1 0h2m0 0h2m-2 0h2m-1 0h2m1 0h2m1 0h2m1 0h2m-1 0h2m1 0h2m-68 1h2m44 0h2m-2 0h2m-1 0h2m1 0h2m0 0h2m-1 0h2m2 0h2m0 0h2m1 0h2m-34 1h2m15 0h2m8 0h2m3 0h2m28 0h2m-120 1h2m66 0h2m5 0h2m7 0h2m-1 0h2m4 0h2m-40 1h2m26 0h2m2 0h2m-1 0h2m0 0h2m-34 1h2m8 0h2m4 0h2m6 0h2m-1 0h2m0 0h2m-1 0h2m2 0h2m6 0h2m-59 1h2m6 0h2m5 0h2m-1 0h2m9 0h2m5 0h2m0 0h2m7 0h2m-2 0h2m7 0h2m3 0h2m-40 1h2m5 0h2m6 0h2m0 0h2m-2 0h2m2 0h2m2 0h2m-69 1h2m34 0h2m14 0h2m-1 0h2m5 0h2m1 0h2m-1 0h2m2 0h2m-2 0h2m14 0h2m-77 1h2m32 0h2m0 0h2m10 0h2m1 0h2m-2 0h2m9 0h2m-74 1h2m53 0h2m0 0h2m-1 0h2m2 0h2m-23 1h2m-2 0h2m7 0h2m4 0h2m0 0h2m3 0h2m0 0h2m1 0h2m-49 1h2m1 0h2m16 0h2m12 0h2m-2 0h2m8 0h2m-2 0h2m1 0h2m0 0h2m-60 1h2m26 0h2m5 0h2m3 0h2m5 0h2m4 0h2m2 0h2m-42 1h2m21 0h2m0 0h2m2 0h2m0 0h2m11 0h2m-36 1h2m1 0h2m16 0h2m2 0h2m7 0h2m0 0h2m-44 1h2m13 0h2m-71 1h2m30 0h2m-1 0h2m18 0h2m17 0h2m-1 0h2m1 0h2m-36 1h2m38 0h2m-48 1h2m50 0h2m-59 1h2m4 0h2m22 0h2m-2 0h2m0 0h2m6 0h2m2 0h2m9 0h2m20 0h2m-44 1h2m-47 1h2m53 0h2m5 0h2m-20 1h2m-13 1h2m17 0h2m11 0h2m-1 0h2m16 0h2m-34 1h2m8 0h2m3 0h2m-39 1h2m2 0h2m22 0h2m-56 1h2m25 0h2m8 1h2m15 0h2m7 0h2m1 0h2m0 0h2m4 0h2m4 0h2m-22 1h2m6 0h2m-73 1h2m34 0h2m1 1h2m22 0h2m-42 3h2m-1 0h2m34 0h2m-1 0h2m-65 1h2m40 0h2m11 0h2m8 0h2m7 2h2m-39 2h2m12 1h2m22 1h2m-6 2h2m-1 0h2m-71 1h2m49 0h2m14 0h2m-2 0h2m-15 2h2m-25 1h2m24 0h2m6 0h2m-24 1h2m7 1h2m-7 1h2m156 1h2m-157 5h2m-14 3h2m36 2h2m-64 2h2m37 1h2m-8 4h2m25 2h2m-33 3h2m12 0h2m-8 11h2m-9 2h2"/><path d="M159 186h2m-27 7h2m-2 3h2m-12 5h2m13 2h2m-37 4h2m-24 1h2m37 0h2m3 3h2m0 0h2m17 1h2m-10 2h2m-26 1h2m20 0h2m-13 3h2m-6 2h2m12 1h2m23 2h2m-16 1h2m-3 1h2m-42 2h2m8 2h2m0 0h2m-17 3h2m37 0h2m-27 2h2m-34 1h2m28 1h2m7 0h2m-27 1h2m-56 1h2m25 0h2m48 0h2m8 2h2m-27 1h2m1 1h2m3 0h2m-46 2h2m10 1h2m40 2h2m-58 1h2m19 0h2m7 0h2m11 0h2m12 0h2m-69 2h2m15 0h2m5 0h2m8 0h2m-2 0h2m-1 0h2m-1 0h2m-36 1h2m12 0h2m29 0h2m-11 1h2m3 0h2m-6 1h2m3 0h2m-24 1h2m6 0h2m3 0h2m-1 0h2m6 0h2m-17 1h2m4 0h2m-23 1h2m1 0h2m13 0h2m-1 0h2m12 0h2m-69 1h2m36 0h2m1 0h2m11 0h2m-1 0h2m3 0h2m-2 0h2m14 0h2m-73 1h2m34 0h2m6 0h2m5 0h2m1 0h2m-1 0h2m-1 0h2m3 0h2m0 0h2m-20 1h2m3 0h2m-1 0h2m-1 0h2m-1 0h2m-1 0h2m-1 0h2m-29 1h2m5 0h2m8 0h2m0 0h2m2 0h2m-2 0h2m0 0h2m-1 0h2m0 0h2m-1 0h2m0 0h2m-1 0h2m13 0h2m-48 1h2m14 0h2m-1 0h2m-1 0h2m2 0h2m-2 0h2m-1 0h2m0 0h2m-1 0h2m-2 0h2m-2 0h2m-1 0h2m-2 0h2m5 0h2m0 0h2m3 0h2m-38 1h2m7 0h2m0 0h2m-2 0h2m-1 0h2m-1 0h2m-1 0h2m-2 0h2m0 0h2m1 0h2m-2 0h2m-1 0h2m-2 0h2m-2 0h2m-2 0h2m1 0h2m-1 0h2m-2 0h2m-1 0h2m0 0h2m-67 1h2m16 0h2m26 0h2m2 0h2m-2 0h2m-2 0h2m-1 0h2m5 0h2m-2 0h2m-1 0h2m0 0h2m-2 0h2m-1 0h2m-43 1h2m16 0h2m12 0h2m-2 0h2m-1 0h2m-1 0h2m-2 0h2m0 0h2m-1 0h2m-2 0h2m-1 0h2m-1 0h2m0 0h2m-2 0h2m-1 0h2m-2 0h2m-18 1h2m5 0h2m-2 0h2m0 0h2m-2 0h2m-2 0h2m1 0h2m2 0h2m1 0h2m-1 0h2m1 0h2m-75 1h2m34 0h2m0 0h2m7 0h2m0 0h2m3 0h2m-1 0h2m-1 0h2m-1 0h2m0 0h2m-1 0h2m-2 0h2m-2 0h2m-2 0h2m-1 0h2m-1 0h2m-1 0h2m1 0h2m-2 0h2m0 0h2m2 0h2m2 0h2m33 0h2m-68 1h2m4 0h2m3 0h2m0 0h2m-1 0h2m-2 0h2m7 0h2m1 0h2m-1 0h2m-69 1h2m14 0h2m1 0h2m22 0h2m5 0h2m1 0h2m2 0h2m0 0h2m4 0h2m0 0h2m-25 1h2m3 0h2m0 0h2m-2 0h2m-1 0h2m-58 1h2m51 0h2m3 0h2m10 0h2m1 0h2m-26 1h2m0 0h2m19 0h2m-26 1h2m11 0h2m-1 0h2m-1 0h2m-26 1h2m2 0h2m8 0h2m15 0h2m-60 1h2m29 0h2m5 0h2m0 0h2m12 0h2m4 0h2m-48 1h2m1 0h2m14 0h2m1 0h2m6 0h2m-1 0h2m3 0h2m-23 1h2m3 0h2m5 0h2m12 0h2m-21 1h2m0 0h2m5 0h2m9 0h2m-45 1h2m15 0h2m4 0h2m3 0h2m1 0h2m0 0h2m6 0h2m-1 0h2m-2 0h2m11 0h2m-45 1h2m6 0h2m-1 0h2m1 0h2m0 0h2m6 0h2m-2 0h2m3 0h2m-30 1h2m2 0h2m3 0h2m1 0h2m10 0h2m-1 0h2m3 0h2m3 0h2m9 0h2m-26 1h2m-54 1h2m6 0h2m8 0h2m9 0h2m14 0h2m7 0h2m-1 0h2m5 0h2m-41 1h2m17 0h2m2 0h2m7 0h2m-26 1h2m-1 0h2m0 0h2m13 0h2m-2 0h2m13 0h2m-57 1h2m30 0h2m6 0h2m0 0h2m5 0h2m-1 0h2m-21 1h2m4 0h2m15 0h2m-50 1h2m37 0h2m8 0h2m-31 1h2m4 0h2m11 0h2m-13 1h2m1 0h2m2 0h2m2 0h2m3 0h2m16 0h2m-54 1h2m11 0h2m12 0h2m6 0h2m-59 1h2m29 0h2m0 0h2m1 0h2m8 0h2m4 0h2m-2 1h2m13 1h2m-6 1h2m-82 1h2m52 0h2m-38 1h2m-15 1h2m1 0h2m13 0h2m9 0h2m15 0h2m9 0h2m5 0h2m-64 1h2m65 0h2m-27 1h2m12 0h2m-25 1h2m29 0h2m-80 1h2m11 0h2m45 0h2m0 0h2m5 1h2m2 0h2m31 1h2m-54 1h2m8 0h2m13 0h2m9 0h2m-22 1h2m-75 2h2m50 0h2m1 0h2m15 0h2m-30 1h2m47 0h2m-1 1h2m-40 1h2m-17 1h2m9 0h2m4 0h2m-22 1h2m-16 1h2m13 0h2m13 0h2m9 0h2m24 1h2m-33 1h2m1 0h2m3 0h2m2 0h2m-21 1h2m12 0h2m4 1h2m7 1h2m-35 1h2m18 1h2m-4 1h2m26 1h2m-35 1h2m8 1h2m-2 1h2m-16 6h2m7 1h2m-22 3h2m35 0h2m-13 5h2m32 0h2m-45 6h2m13 3h2m-14 2h2"/><path d="M116 186h2m-21 3h2m24 6h2m16 0h2m18 4h2m-33 2h2m0 3h2m-5 3h2m35 1h2m-41 1h2m42 2h2m-50 1h2m-5 2h2m-7 2h2m11 0h2m-14 1h2m2 1h2m35 0h2m-59 2h2m-14 1h2m37 0h2m0 1h2m-3 1h2m-96 1h2m139 0h2m-52 1h2m-40 2h2m24 0h2m34 0h2m-51 3h2m-20 1h2m-8 2h2m48 0h2m-32 1h2m21 0h2m-24 1h2m39 1h2m-81 1h2m44 0h2m40 0h2m-79 1h2m9 3h2m20 0h2m8 0h2m-95 1h2m105 2h2m-48 2h2m16 0h2m28 0h2m-42 1h2m-13 2h2m17 0h2m42 0h2m-64 1h2m28 0h2m-20 1h2m-1 0h2m2 0h2m-14 1h2m11 0h2m-4 1h2m6 0h2m-31 1h2m0 0h2m8 0h2m14 0h2m-14 1h2m1 0h2m6 0h2m-1 0h2m19 0h2m-35 1h2m1 0h2m4 0h2m-1 0h2m0 0h2m1 0h2m-46 1h2m31 0h2m-1 0h2m-2 0h2m-2 0h2m-1 0h2m0 0h2m3 0h2m6 0h2m-25 1h2m-1 0h2m5 0h2m-1 0h2m0 0h2m-2 0h2m-1 0h2m-1 0h2m0 0h2m0 0h2m-1 0h2m-29 1h2m11 0h2m-2 0h2m-1 0h2m1 0h2m-1 0h2m-2 0h2m-1 0h2m-2 0h2m-2 0h2m-1 0h2m-2 0h2m0 0h2m-2 0h2m0 0h2m-1 0h2m-2 0h2m-1 0h2m3 0h2m-29 1h2m1 0h2m1 0h2m-2 0h2m1 0h2m-1 0h2m1 0h2m-2 0h2m-1 0h2m-1 0h2m2 0h2m-2 0h2m0 0h2m-24 1h2m6 0h2m0 0h2m-1 0h2m-1 0h2m0 0h2m1 0h2m-1 0h2m-2 0h2m0 0h2m-2 0h2m0 0h2m0 0h2m-12 1h2m2 0h2m-1 0h2m-2 0h2m-1 0h2m-1 0h2m-2 0h2m0 0h2m0 0h2m-1 0h2m-80 1h2m50 0h2m0 0h2m1 0h2m-2 0h2m0 0h2m0 0h2m-1 0h2m1 0h2m-2 0h2m-2 0h2m-2 0h2m0 0h2m-2 0h2m0 0h2m2 0h2m-14 1h2m3 0h2m0 0h2m-1 0h2m-2 0h2m1 0h2m-2 0h2m-1 0h2m-2 0h2m4 0h2m124 0h2m-148 1h2m1 0h2m-1 0h2m-1 0h2m-1 0h2m-1 0h2m-1 0h2m-2 0h2m-1 0h2m-1 0h2m-2 0h2m-2 0h2m-1 0h2m-21 1h2m1 0h2m3 0h2m0 0h2m1 0h2m-2 0h2m1 0h2m-1 0h2m0 0h2m-2 0h2m2 0h2m1 0h2m-78 1h2m50 0h2m6 0h2m-1 0h2m0 0h2m0 0h2m-1 0h2m3 0h2m-2 0h2m-1 0h2m-1 0h2m3 0h2m-43 1h2m2 0h2m12 0h2m1 0h2m8 0h2m-1 0h2m0 0h2m0 0h2m-60 1h2m22 0h2m-1 0h2m2 0h2m11 0h2m-2 0h2m3 0h2m0 0h2m0 0h2m-2 0h2m1 0h2m-1 0h2m-1 0h2m0 0h2m-1 0h2m-42 1h2m7 0h2m-1 0h2m1 0h2m5 0h2m-1 0h2m2 0h2m5 0h2m-2 0h2m0 0h2m0 0h2m1 0h2m-1 0h2m-37 1h2m11 0h2m0 0h2m8 0h2m-2 0h2m-1 0h2m8 0h2m-38 1h2m8 0h2m8 0h2m1 0h2m2 0h2m-1 0h2m0 0h2m5 0h2m-25 1h2m10 0h2m-2 0h2m0 0h2m0 0h2m-1 0h2m-1 0h2m-22 1h2m3 0h2m-1 0h2m2 0h2m-47 1h2m33 0h2m-2 0h2m3 0h2m1 0h2m2 0h2m0 0h2m0 0h2m3 0h2m-26 1h2m3 0h2m2 0h2m-2 0h2m-1 0h2m0 0h2m0 0h2m-26 1h2m7 0h2m9 0h2m5 0h2m5 0h2m-37 1h2m28 0h2m-54 1h2m45 0h2m2 0h2m3 0h2m2 0h2m-2 0h2m-1 0h2m-38 1h2m8 0h2m7 0h2m-2 0h2m5 0h2m-4 1h2m-40 1h2m10 0h2m1 0h2m8 0h2m25 0h2m-18 1h2m-13 1h2m-2 0h2m5 0h2m4 0h2m-2 0h2m1 0h2m-77 1h2m38 0h2m17 0h2m2 0h2m3 0h2m-10 1h2m12 0h2m11 0h2m-53 1h2m15 0h2m6 0h2m1 0h2m2 0h2m3 0h2m6 0h2m-23 1h2m2 0h2m4 0h2m0 0h2m14 0h2m-46 1h2m26 0h2m-42 1h2m34 0h2m-1 0h2m0 0h2m-41 1h2m14 0h2m34 0h2m-14 1h2m12 0h2m-34 1h2m31 0h2m-66 1h2m12 0h2m18 0h2m20 0h2m10 0h2m-25 1h2m13 0h2m-36 1h2m15 1h2m1 0h2m2 0h2m21 0h2m-64 1h2m17 1h2m5 0h2m22 0h2m1 0h2m-50 1h2m22 0h2m-17 1h2m4 0h2m-5 4h2m-29 1h2m-13 1h2m16 0h2m16 1h2m12 0h2m-17 2h2m-12 2h2m6 2h2m1 0h2m17 2h2m2 0h2m-61 1h2m55 1h2m22 0h2m-9 2h2m-5 3h2m-12 1h2m0 1h2m-19 1h2m11 0h2m20 0h2m-50 1h2m-30 2h2m30 0h2m-3 1h2m7 0h2m10 3h2m-9 1h2m-12 2h2m1 0h2m-36 2h2m13 0h2m22 5h2m11 2h2m23 0h2m-48 4h2"/><path d="M137 166h2m-47 14h2m64 7h2m-40 3h2m-3 1h2m17 1h2m-46 2h2m55 0h2m-18 1h2m-52 4h2m58 0h2m1 3h2m-45 1h2m-5 8h2m46 3h2m-2 2h2m-33 1h2m0 0h2m33 0h2m-45 3h2m-10 1h2m-8 3h2m30 0h2m3 1h2m-20 1h2m-22 1h2m12 0h2m-17 2h2m13 0h2m23 0h2m-38 1h2m18 1h2m-21 2h2m20 0h2m0 0h2m-26 1h2m-6 1h2m17 0h2m-19 6h2m-42 2h2m53 1h2m-32 1h2m145 0h2m-139 2h2m-2 1h2m17 0h2m24 0h2m-53 1h2m-2 0h2m-7 1h2m-1 0h2m1 0h2m18 0h2m-7 1h2m32 0h2m-66 2h2m6 0h2m10 0h2m-1 0h2m16 0h2m-28 2h2m2 0h2m2 0h2m3 0h2m5 0h2m-79 1h2m60 0h2m1 0h2m-1 0h2m-2 0h2m-1 0h2m0 0h2m-2 0h2m17 0h2m-43 1h2m-1 0h2m11 0h2m4 0h2m-2 0h2m-24 1h2m7 0h2m1 0h2m6 0h2m0 0h2m-2 0h2m0 0h2m1 0h2m-1 0h2m4 0h2m-34 1h2m12 0h2m-2 0h2m0 0h2m-2 0h2m2 0h2m0 0h2m3 0h2m-1 0h2m-1 0h2m-1 0h2m0 0h2m-30 1h2m1 0h2m5 0h2m2 0h2m-1 0h2m0 0h2m-2 0h2m1 0h2m-1 0h2m0 0h2m1 0h2m19 0h2m1 0h2m-88 1h2m34 0h2m-1 0h2m-1 0h2m4 0h2m2 0h2m-2 0h2m-2 0h2m2 0h2m-1 0h2m-1 0h2m-1 0h2m0 0h2m-2 0h2m1 0h2m-2 0h2m-1 0h2m3 0h2m-37 1h2m11 0h2m-1 0h2m-1 0h2m-1 0h2m-1 0h2m-1 0h2m-1 0h2m-1 0h2m0 0h2m-2 0h2m-1 0h2m-2 0h2m-1 0h2m3 0h2m0 0h2m0 0h2m3 0h2m-48 1h2m11 0h2m2 0h2m5 0h2m-1 0h2m-1 0h2m-2 0h2m-1 0h2m1 0h2m-1 0h2m-2 0h2m-1 0h2m-1 0h2m-2 0h2m-1 0h2m2 0h2m0 0h2m0 0h2m6 0h2m-30 1h2m-1 0h2m-2 0h2m-1 0h2m-2 0h2m2 0h2m-1 0h2m-2 0h2m-2 0h2m-1 0h2m-2 0h2m1 0h2m-2 0h2m-2 0h2m-1 0h2m-1 0h2m0 0h2m-2 0h2m-2 0h2m-1 0h2m-29 1h2m4 0h2m-1 0h2m2 0h2m-1 0h2m-1 0h2m-1 0h2m0 0h2m-1 0h2m-1 0h2m0 0h2m-1 0h2m1 0h2m-1 0h2m0 0h2m-22 1h2m5 0h2m0 0h2m0 0h2m1 0h2m-2 0h2m-1 0h2m0 0h2m-1 0h2m7 0h2m-56 1h2m8 0h2m16 0h2m8 0h2m-1 0h2m1 0h2m0 0h2m-49 1h2m18 0h2m2 0h2m6 0h2m6 0h2m-2 0h2m4 0h2m-2 0h2m-1 0h2m-1 0h2m1 0h2m-1 0h2m-42 1h2m17 0h2m-1 0h2m-2 0h2m1 0h2m-1 0h2m0 0h2m0 0h2m2 0h2m2 0h2m2 0h2m-35 1h2m1 0h2m6 0h2m2 0h2m-2 0h2m0 0h2m-2 0h2m0 0h2m-2 0h2m-2 0h2m-1 0h2m-2 0h2m-1 0h2m-1 0h2m6 0h2m2 0h2m-2 0h2m-33 1h2m2 0h2m13 0h2m-2 0h2m6 0h2m1 0h2m12 0h2m-43 1h2m-1 0h2m5 0h2m2 0h2m1 0h2m0 0h2m5 0h2m2 0h2m-23 1h2m8 0h2m6 0h2m0 0h2m87 0h2m-126 1h2m12 0h2m0 0h2m1 0h2m-1 1h2m-2 0h2m-1 1h2m2 0h2m-46 1h2m25 0h2m13 0h2m-1 0h2m-22 1h2m6 0h2m3 0h2m-47 1h2m34 0h2m2 0h2m0 0h2m13 0h2m-40 1h2m28 0h2m-2 0h2m14 0h2m-33 1h2m-1 0h2m1 0h2m12 0h2m13 0h2m-28 1h2m0 0h2m-37 1h2m14 0h2m10 0h2m0 0h2m10 0h2m12 0h2m-49 1h2m4 0h2m-2 0h2m11 1h2m2 0h2m-1 0h2m10 0h2m7 0h2m-66 1h2m21 0h2m26 0h2m8 0h2m-1 0h2m-38 1h2m15 0h2m1 0h2m1 0h2m-2 0h2m-18 1h2m0 0h2m11 0h2m18 0h2m-63 2h2m19 0h2m9 0h2m8 0h2m5 0h2m2 0h2m-33 1h2m11 0h2m2 0h2m-18 1h2m10 0h2m17 0h2m-2 0h2m-80 1h2m26 1h2m34 0h2m4 1h2m0 0h2m0 1h2m-28 1h2m-2 0h2m4 1h2m-38 1h2m79 0h2m-81 1h2m51 0h2m-33 1h2m-44 1h2m20 0h2m30 0h2m-55 2h2m14 0h2m41 0h2m12 0h2m-23 1h2m-1 1h2m9 0h2m-2 0h2m-28 1h2m11 0h2m-3 1h2m25 0h2m-25 1h2m12 1h2m5 0h2m-18 1h2m0 0h2m-4 1h2m67 0h2m-105 1h2m15 0h2m26 0h2m6 1h2m16 0h2m-34 1h2m8 0h2m-34 2h2m25 1h2m-40 4h2m21 0h2m31 0h2m-40 1h2m8 0h2m5 0h2m-22 2h2m133 3h2m-123 1h2m-1 1h2m-34 1h2m23 1h2m48 0h2m-21 2h2m-49 5h2m24 1h2m-7 1h2m-14 10h2m14 2h2"/></g>
<rect x="163" y="0" width="2.6" height="358" fill="#e41b3a" opacity="0.75"/>
<rect x="0" y="130.3" width="357" height="2.4" fill="#e41b3a"/>
<rect x="-12.6" y="-1.3" width="370.9" height="2.7" fill="#2e2eff"/>
<rect x="1" y="1.4" width="355" height="1.4" fill="#9a9aff"/>
<rect x="-1.3" y="-1.3" width="2.6" height="360.6" fill="#1a1aff"/>
<rect x="355.1" y="-1.3" width="2.2" height="360.6" fill="#8585ff"/>
<rect x="357.3" y="-1.3" width="2.2" height="360.6" fill="#5c5cff"/>
<rect x="-12" y="356.7" width="370.3" height="2.6" fill="#1a1aff"/>
<path d="M0 359v10M-12 358.3h11M17.3 359v10M-12 341.2h11M27.4 359v10M-12 331.2h11M34.5 359v10M-12 324h11M40.1 359v10M-12 318.5h11M44.6 359v10M-12 314h11M48.5 359v10M-12 310.2h11M51.8 359v10M-12 306.9h11M54.7 359v10M-12 304h11M57.4 359v10M-12 301.4h11M74.6 359v10M-12 284.3h11M84.7 359v10M-12 274.3h11M91.9 359v10M-12 267.1h11M97.4 359v10M-12 261.6h11M102 359v10M-12 257.1h11M105.8 359v10M-12 253.3h11M109.1 359v10M-12 250h11M112.1 359v10M-12 247.1h11M114.7 359v10M-12 244.5h11M132 359v10M-12 227.4h11M142.1 359v10M-12 217.4h11M149.2 359v10M-12 210.2h11M154.8 359v10M-12 204.7h11M159.3 359v10M-12 200.2h11M163.2 359v10M-12 196.4h11M166.5 359v10M-12 193.1h11M169.4 359v10M-12 190.2h11M172.1 359v10M-12 187.6h11M189.3 359v10M-12 170.5h11M199.4 359v10M-12 160.5h11M206.6 359v10M-12 153.3h11M212.1 359v10M-12 147.8h11M216.7 359v10M-12 143.3h11M220.5 359v10M-12 139.5h11M223.8 359v10M-12 136.2h11M226.8 359v10M-12 133.3h11M229.4 359v10M-12 130.7h11M246.7 359v10M-12 113.6h11M256.8 359v10M-12 103.6h11M263.9 359v10M-12 96.4h11M269.5 359v10M-12 90.9h11M274 359v10M-12 86.4h11M277.9 359v10M-12 82.6h11M281.2 359v10M-12 79.3h11M284.1 359v10M-12 76.4h11M286.8 359v10M-12 73.8h11M304 359v10M-12 56.7h11M314.1 359v10M-12 46.7h11M321.3 359v10M-12 39.5h11M326.8 359v10M-12 34h11M331.4 359v10M-12 29.5h11M335.2 359v10M-12 25.7h11M338.5 359v10M-12 22.4h11M341.5 359v10M-12 19.5h11M344.1 359v10M-12 16.9h11" stroke="#1a1aff" stroke-width="2" fill="none"/>
<text x="0" y="393" font-family="Liberation Sans, sans-serif" fill="#1a1aff"><tspan font-size="12.5" font-weight="bold" text-anchor="end">10</tspan></text>
<text x="0.5" y="389" font-family="Liberation Sans, sans-serif" font-size="21" fill="#1a1aff">1</text>
<text x="57.4" y="393" font-family="Liberation Sans, sans-serif" fill="#1a1aff"><tspan font-size="12.5" font-weight="bold" text-anchor="end">10</tspan></text>
<text x="57.9" y="389" font-family="Liberation Sans, sans-serif" font-size="21" fill="#1a1aff">2</text>
<text x="114.7" y="393" font-family="Liberation Sans, sans-serif" fill="#1a1aff"><tspan font-size="12.5" font-weight="bold" text-anchor="end">10</tspan></text>
<text x="115.2" y="389" font-family="Liberation Sans, sans-serif" font-size="21" fill="#1a1aff">3</text>
<text x="172.1" y="393" font-family="Liberation Sans, sans-serif" fill="#1a1aff"><tspan font-size="12.5" font-weight="bold" text-anchor="end">10</tspan></text>
<text x="172.6" y="389" font-family="Liberation Sans, sans-serif" font-size="21" fill="#1a1aff">4</text>
<text x="229.4" y="393" font-family="Liberation Sans, sans-serif" fill="#1a1aff"><tspan font-size="12.5" font-weight="bold" text-anchor="end">10</tspan></text>
<text x="229.9" y="389" font-family="Liberation Sans, sans-serif" font-size="21" fill="#1a1aff">5</text>
<text x="286.8" y="393" font-family="Liberation Sans, sans-serif" fill="#1a1aff"><tspan font-size="12.5" font-weight="bold" text-anchor="end">10</tspan></text>
<text x="287.2" y="389" font-family="Liberation Sans, sans-serif" font-size="21" fill="#1a1aff">6</text>
<text x="348.5" y="393" font-family="Liberation Sans, sans-serif" font-size="12.5" font-weight="bold" text-anchor="end" fill="#1a1aff">10</text>
<text x="348.5" y="389" font-family="Liberation Sans, sans-serif" font-size="21" fill="#1a1aff">7.2</text>
<g transform="translate(0,353.3) rotate(-90)"><text x="0" y="-21.4" font-family="Liberation Sans, sans-serif" font-size="12.5" font-weight="bold" text-anchor="end" fill="#1a1aff">10</text><text transform="translate(0.5,-27.4) scale(0.8,1)" font-family="Liberation Sans, sans-serif" font-size="21" fill="#1a1aff">1</text></g>
<g transform="translate(0,296.4) rotate(-90)"><text x="0" y="-21.4" font-family="Liberation Sans, sans-serif" font-size="12.5" font-weight="bold" text-anchor="end" fill="#1a1aff">10</text><text transform="translate(0.5,-27.4) scale(0.8,1)" font-family="Liberation Sans, sans-serif" font-size="21" fill="#1a1aff">2</text></g>
<g transform="translate(0,239.5) rotate(-90)"><text x="0" y="-21.4" font-family="Liberation Sans, sans-serif" font-size="12.5" font-weight="bold" text-anchor="end" fill="#1a1aff">10</text><text transform="translate(0.5,-27.4) scale(0.8,1)" font-family="Liberation Sans, sans-serif" font-size="21" fill="#1a1aff">3</text></g>
<g transform="translate(0,182.6) rotate(-90)"><text x="0" y="-21.4" font-family="Liberation Sans, sans-serif" font-size="12.5" font-weight="bold" text-anchor="end" fill="#1a1aff">10</text><text transform="translate(0.5,-27.4) scale(0.8,1)" font-family="Liberation Sans, sans-serif" font-size="21" fill="#1a1aff">4</text></g>
<g transform="translate(0,125.7) rotate(-90)"><text x="0" y="-21.4" font-family="Liberation Sans, sans-serif" font-size="12.5" font-weight="bold" text-anchor="end" fill="#1a1aff">10</text><text transform="translate(0.5,-27.4) scale(0.8,1)" font-family="Liberation Sans, sans-serif" font-size="21" fill="#1a1aff">5</text></g>
<g transform="translate(0,68.8) rotate(-90)"><text x="0" y="-21.4" font-family="Liberation Sans, sans-serif" font-size="12.5" font-weight="bold" text-anchor="end" fill="#1a1aff">10</text><text transform="translate(0.5,-27.4) scale(0.8,1)" font-family="Liberation Sans, sans-serif" font-size="21" fill="#1a1aff">6</text></g>
<g transform="translate(0,5.5) rotate(-90)"><text x="0" y="-21.4" font-family="Liberation Sans, sans-serif" font-size="12.5" font-weight="bold" text-anchor="end" fill="#1a1aff">10</text><text transform="translate(0.5,-27.4) scale(0.85,1)" font-family="Liberation Sans, sans-serif" font-size="21" fill="#1a1aff">7.2</text></g>
<text x="178.5" y="415.9" text-anchor="middle" font-family="Liberation Sans, sans-serif" font-size="19.5" textLength="59.5" lengthAdjust="spacingAndGlyphs">FL1-H</text>
<text x="0" y="0" transform="translate(-49.5,218.8) rotate(-90)" text-anchor="middle" font-family="Liberation Sans, sans-serif" font-size="19.5" textLength="59.5" lengthAdjust="spacingAndGlyphs">FL2-H</text>
<text x="1.6" y="25.2" font-family="Liberation Sans, sans-serif" font-size="28" fill="#e41b3a" textLength="76.8" lengthAdjust="spacingAndGlyphs">Q1-UL</text>
<text x="1.6" y="49.3" font-family="Liberation Sans, sans-serif" font-size="28" fill="#e41b3a" textLength="56.9" lengthAdjust="spacingAndGlyphs">0.0%</text>
<text x="276.6" y="25.2" font-family="Liberation Sans, sans-serif" font-size="28" fill="#e41b3a" textLength="79.9" lengthAdjust="spacingAndGlyphs">Q1-UR</text>
<text x="276.6" y="49.3" font-family="Liberation Sans, sans-serif" font-size="28" fill="#e41b3a" textLength="56.9" lengthAdjust="spacingAndGlyphs">0.0%</text>
<text x="1.6" y="334" font-family="Liberation Sans, sans-serif" font-size="28" fill="#e41b3a" textLength="72.5" lengthAdjust="spacingAndGlyphs">Q1-LL</text>
<text x="1.6" y="358.5" font-family="Liberation Sans, sans-serif" font-size="28" fill="#e41b3a" textLength="73.1" lengthAdjust="spacingAndGlyphs">97.4%</text>
<text x="280.6" y="334" font-family="Liberation Sans, sans-serif" font-size="28" fill="#e41b3a" textLength="75.5" lengthAdjust="spacingAndGlyphs">Q1-LR</text>
<text x="280.6" y="358.5" font-family="Liberation Sans, sans-serif" font-size="28" fill="#e41b3a" textLength="56.9" lengthAdjust="spacingAndGlyphs">2.5%</text>
</g>
<g transform="translate(745,42.3)">
<g stroke="#000" stroke-width="2" stroke-opacity="0.27" fill="none" filter="url(#soft)"><path d="M160 135h2m-3 10h2m7 15h2m-47 3h2m61 6h2m-38 1h2m10 0h2m35 2h2m-8 1h2m-45 1h2m-56 1h2m54 0h2m25 3h2m42 0h2m-51 2h2m16 1h2m-55 3h2m52 2h2m-55 1h2m21 0h2m25 0h2m-23 1h2m6 0h2m-43 1h2m42 2h2m-126 1h2m83 0h2m11 1h2m6 2h2m-47 2h2m76 0h2m-69 1h2m15 1h2m78 0h2m-143 1h2m103 0h2m8 0h2m-95 3h2m10 0h2m20 0h2m29 0h2m-46 1h2m24 0h2m24 0h2m-46 1h2m25 1h2m10 0h2m-50 1h2m28 0h2m-38 1h2m35 0h2m1 0h2m52 1h2m-66 1h2m-77 1h2m116 1h2m-122 2h2m32 0h2m40 0h2m10 3h2m9 0h2m11 0h2m-34 1h2m-10 1h2m-41 1h2m3 0h2m-1 0h2m-39 1h2m17 1h2m21 0h2m8 0h2m87 1h2m-149 1h2m37 0h2m16 0h2m14 0h2m-50 1h2m5 0h2m68 0h2m-79 1h2m66 1h2m-52 1h2m0 0h2m6 0h2m60 0h2m-100 1h2m15 0h2m14 0h2m24 0h2m-6 2h2m-72 1h2m14 0h2m19 0h2m28 0h2m-93 1h2m78 0h2m9 0h2m2 0h2m-48 1h2m24 0h2m-25 1h2m18 0h2m58 0h2m-105 1h2m11 0h2m8 0h2m21 0h2m-118 2h2m94 0h2m16 0h2m1 0h2m-22 1h2m21 1h2m-21 1h2m32 0h2m-68 1h2m10 0h2m4 0h2m8 0h2m1 0h2m-1 0h2m12 0h2m14 0h2m-86 1h2m39 0h2m4 0h2m33 0h2m-37 1h2m-1 0h2m5 0h2m17 0h2m25 0h2m11 0h2m-148 1h2m38 0h2m28 0h2m7 0h2m2 0h2m-8 1h2m-16 1h2m14 0h2m24 0h2m-81 1h2m8 0h2m27 0h2m13 0h2m4 0h2m70 0h2m-99 1h2m8 0h2m13 1h2m-1 0h2m24 0h2m8 0h2m21 0h2m-85 1h2m3 0h2m1 0h2m4 0h2m9 0h2m1 0h2m1 0h2m17 0h2m-51 1h2m6 0h2m3 0h2m1 0h2m12 0h2m7 0h2m2 0h2m-43 1h2m-1 0h2m0 0h2m4 0h2m-2 0h2m10 0h2m28 0h2m-1 0h2m-59 1h2m17 0h2m6 0h2m1 0h2m7 0h2m-32 1h2m4 0h2m0 0h2m4 0h2m4 0h2m1 0h2m14 0h2m-58 1h2m5 0h2m-1 0h2m11 0h2m1 0h2m-1 0h2m-1 0h2m-24 1h2m12 0h2m6 0h2m-1 0h2m0 0h2m-1 0h2m2 0h2m17 0h2m-96 1h2m61 0h2m-1 0h2m-1 0h2m0 0h2m1 0h2m-1 0h2m16 0h2m1 0h2m9 0h2m-39 1h2m-1 0h2m5 0h2m6 0h2m11 0h2m-50 1h2m13 0h2m1 0h2m3 0h2m1 0h2m0 0h2m-2 0h2m-1 0h2m-1 0h2m7 0h2m4 0h2m-66 1h2m20 0h2m5 0h2m7 0h2m2 0h2m-2 0h2m-1 0h2m2 0h2m-2 0h2m2 0h2m-21 1h2m1 0h2m-1 0h2m0 0h2m-1 0h2m0 0h2m0 0h2m-2 0h2m1 0h2m1 0h2m21 0h2m-69 1h2m24 0h2m-1 0h2m1 0h2m1 0h2m-1 0h2m-1 0h2m1 0h2m-1 0h2m-2 0h2m-1 0h2m0 0h2m5 0h2m1 0h2m-58 1h2m5 0h2m17 0h2m7 0h2m-1 0h2m-1 0h2m2 0h2m-1 0h2m0 0h2m-2 0h2m0 0h2m0 0h2m-52 1h2m19 0h2m11 0h2m0 0h2m2 0h2m0 0h2m-2 0h2m0 0h2m17 0h2m0 0h2m-33 1h2m-1 0h2m-1 0h2m-2 0h2m2 0h2m0 0h2m-2 0h2m-1 0h2m-1 0h2m0 0h2m0 0h2m-1 0h2m10 0h2m-64 1h2m12 0h2m9 0h2m2 0h2m0 0h2m10 0h2m-1 0h2m-2 0h2m-1 0h2m-1 0h2m1 0h2m0 0h2m-28 1h2m7 0h2m1 0h2m1 0h2m-1 0h2m0 0h2m-2 0h2m-2 0h2m-1 0h2m0 0h2m-2 0h2m0 0h2m-1 0h2m-1 0h2m7 0h2m0 0h2m-34 1h2m3 0h2m3 0h2m2 0h2m-2 0h2m1 0h2m-1 0h2m0 0h2m-1 0h2m-1 0h2m0 0h2m20 0h2m-65 1h2m10 0h2m3 0h2m3 0h2m1 0h2m-2 0h2m-2 0h2m6 0h2m-1 0h2m6 0h2m-23 1h2m4 0h2m-1 0h2m-2 0h2m0 0h2m-1 0h2m-1 0h2m-2 0h2m-2 0h2m-1 0h2m-2 0h2m21 0h2m-51 1h2m5 0h2m-1 0h2m-2 0h2m-2 0h2m4 0h2m2 0h2m1 0h2m3 0h2m-1 0h2m-1 0h2m-2 0h2m-2 0h2m-1 0h2m-2 0h2m24 0h2m15 0h2m-1 0h2m-128 1h2m57 0h2m4 0h2m3 0h2m1 0h2m-1 0h2m0 0h2m2 0h2m1 0h2m3 0h2m-2 0h2m8 0h2m9 0h2m-37 1h2m1 0h2m5 0h2m0 0h2m0 0h2m-63 1h2m3 0h2m27 0h2m4 0h2m8 0h2m1 0h2m21 0h2m-71 1h2m37 0h2m-2 0h2m10 0h2m3 0h2m35 0h2m-106 1h2m44 0h2m2 0h2m11 0h2m-1 0h2m7 0h2m12 0h2m-58 1h2m-2 0h2m6 0h2m11 0h2m-1 0h2m31 0h2m-55 1h2m-1 0h2m5 0h2m5 0h2m8 0h2m7 0h2m-29 1h2m5 0h2m14 0h2m-26 1h2m-1 0h2m3 0h2m4 0h2m-2 0h2m1 0h2m7 0h2m-1 0h2m1 0h2m-65 1h2m36 0h2m-1 0h2m0 0h2m3 0h2m1 0h2m4 0h2m-1 0h2m4 0h2m3 0h2m22 0h2m-59 1h2m11 0h2m5 0h2m7 0h2m-21 1h2m-2 0h2m4 0h2m5 0h2m-68 1h2m13 0h2m35 0h2m18 0h2m-68 1h2m35 0h2m-1 0h2m1 0h2m-2 0h2m0 0h2m8 0h2m-25 1h2m39 0h2m-42 1h2m16 0h2m4 0h2m1 0h2m-16 1h2m19 0h2m-61 1h2m32 0h2m5 0h2m4 0h2m-55 1h2m34 0h2m-35 1h2m35 0h2m5 0h2m6 0h2m-39 1h2m8 0h2m4 0h2m1 0h2m0 0h2m14 0h2m41 1h2m6 0h2m-139 1h2m34 0h2m32 0h2m-2 0h2m13 0h2m3 0h2m5 0h2m-18 1h2m6 0h2m38 1h2m-86 1h2m6 0h2m35 1h2m-10 1h2m20 0h2m2 0h2m-34 1h2m9 0h2m-62 1h2m22 1h2m15 0h2m0 0h2m35 1h2m-41 1h2m0 0h2m-77 1h2m62 0h2m6 0h2m-58 1h2m26 0h2m2 0h2m48 0h2m-47 2h2m15 0h2m-6 1h2m20 0h2m2 0h2m-10 1h2m-41 1h2m34 0h2m-22 1h2m13 0h2m3 1h2m4 0h2m7 0h2m-4 3h2m-28 3h2m-45 1h2m25 0h2m34 1h2m-44 1h2m-43 4h2m28 1h2m39 3h2m-16 1h2m-34 3h2m10 0h2m8 0h2m5 0h2m16 2h2m4 1h2m-45 7h2m41 2h2m-9 3h2m-34 4h2"/><path d="M196 141h2m-91 5h2m64 5h2m-40 4h2m45 1h2m-35 3h2m78 5h2m-87 2h2m0 3h2m63 0h2m-85 3h2m13 0h2m-1 4h2m29 0h2m61 0h2m-92 1h2m33 1h2m-51 1h2m-17 6h2m103 0h2m-118 1h2m50 0h2m-29 1h2m63 0h2m-66 1h2m-43 1h2m95 0h2m-82 2h2m0 0h2m24 0h2m32 0h2m33 0h2m-97 1h2m25 0h2m91 0h2m-90 1h2m45 1h2m-88 2h2m26 1h2m68 0h2m-83 2h2m-39 1h2m48 0h2m-48 1h2m62 0h2m-22 1h2m30 0h2m-72 1h2m25 0h2m5 0h2m-25 1h2m62 0h2m-59 1h2m8 0h2m2 1h2m27 0h2m-36 1h2m2 0h2m19 1h2m19 1h2m-71 1h2m111 0h2m-41 1h2m-20 1h2m-23 1h2m0 0h2m60 0h2m-112 1h2m30 0h2m-37 1h2m31 0h2m9 0h2m17 0h2m-79 1h2m33 0h2m34 0h2m23 1h2m5 1h2m13 0h2m-164 1h2m90 0h2m9 0h2m4 0h2m14 0h2m53 0h2m-70 1h2m49 0h2m-81 1h2m5 0h2m4 0h2m78 1h2m-29 1h2m12 0h2m-115 1h2m68 0h2m-59 1h2m38 0h2m77 0h2m-48 1h2m21 0h2m-30 1h2m-61 1h2m9 0h2m-41 1h2m37 0h2m8 0h2m23 0h2m-51 1h2m18 0h2m23 0h2m-71 1h2m51 1h2m9 0h2m-31 1h2m0 0h2m6 0h2m-1 0h2m68 0h2m-95 1h2m24 0h2m52 0h2m-158 1h2m100 0h2m10 0h2m71 0h2m-112 1h2m26 0h2m-1 0h2m19 1h2m26 0h2m1 0h2m-87 1h2m4 0h2m-12 1h2m43 0h2m38 0h2m-168 1h2m80 0h2m8 0h2m4 0h2m22 0h2m16 0h2m-42 1h2m12 0h2m-38 1h2m23 0h2m10 0h2m5 0h2m-65 1h2m37 1h2m27 0h2m-62 1h2m11 0h2m-2 0h2m-15 1h2m11 0h2m22 0h2m16 0h2m1 0h2m-30 1h2m0 0h2m-16 1h2m14 0h2m35 0h2m-85 1h2m31 0h2m4 0h2m-1 0h2m-2 0h2m18 0h2m-6 1h2m-67 1h2m4 0h2m8 0h2m10 0h2m5 0h2m9 0h2m3 0h2m2 0h2m6 0h2m-80 1h2m37 0h2m-2 0h2m22 0h2m5 0h2m44 0h2m-86 1h2m26 0h2m1 0h2m9 0h2m-39 1h2m-2 0h2m26 0h2m11 0h2m4 0h2m-35 1h2m3 0h2m0 0h2m0 0h2m2 0h2m1 0h2m50 0h2m4 0h2m-142 1h2m57 0h2m14 0h2m-2 0h2m-1 0h2m-2 0h2m2 0h2m-1 0h2m-2 0h2m0 0h2m6 0h2m32 0h2m-91 1h2m18 0h2m13 0h2m1 0h2m2 0h2m0 0h2m-36 1h2m17 0h2m4 0h2m-56 1h2m23 0h2m-1 0h2m11 0h2m23 0h2m-2 0h2m25 0h2m3 0h2m-64 1h2m7 0h2m-2 0h2m8 0h2m0 0h2m5 0h2m0 0h2m7 0h2m0 0h2m1 0h2m-42 1h2m15 0h2m0 0h2m-1 0h2m3 0h2m-2 0h2m-2 0h2m-1 0h2m1 0h2m-1 0h2m0 0h2m-1 0h2m4 0h2m14 0h2m12 0h2m-106 1h2m-2 0h2m19 0h2m0 0h2m13 0h2m0 0h2m5 0h2m2 0h2m-1 0h2m1 0h2m3 0h2m0 0h2m2 0h2m-2 0h2m-18 1h2m-1 0h2m-2 0h2m0 0h2m-2 0h2m-2 0h2m-2 0h2m-1 0h2m-2 0h2m-2 0h2m-1 0h2m1 0h2m-1 0h2m-1 0h2m-1 0h2m0 0h2m0 0h2m-1 0h2m4 0h2m-59 1h2m19 0h2m9 0h2m3 0h2m0 0h2m0 0h2m-1 0h2m-2 0h2m-1 0h2m-2 0h2m-1 0h2m-1 0h2m-2 0h2m-2 0h2m-1 0h2m-2 0h2m2 0h2m4 0h2m-27 1h2m-1 0h2m4 0h2m-2 0h2m-1 0h2m-1 0h2m5 0h2m-2 0h2m-1 0h2m-2 0h2m-1 0h2m-1 0h2m1 0h2m-25 1h2m-1 0h2m1 0h2m-2 0h2m-1 0h2m-2 0h2m0 0h2m-1 0h2m-1 0h2m5 0h2m0 0h2m2 0h2m-74 1h2m32 0h2m-1 0h2m21 0h2m-2 0h2m-1 0h2m-2 0h2m-1 0h2m1 0h2m-2 0h2m1 0h2m-2 0h2m2 0h2m2 0h2m-20 1h2m0 0h2m2 0h2m-1 0h2m-2 0h2m-1 0h2m-2 0h2m-1 0h2m1 0h2m0 0h2m25 0h2m-40 1h2m1 0h2m1 0h2m-1 0h2m0 0h2m1 0h2m0 0h2m5 0h2m8 0h2m12 0h2m-62 1h2m9 0h2m3 0h2m-2 0h2m-1 0h2m-2 0h2m-2 0h2m-1 0h2m4 0h2m0 0h2m4 0h2m-26 1h2m-1 0h2m2 0h2m-1 0h2m-1 0h2m4 0h2m2 0h2m1 0h2m-85 1h2m49 0h2m11 0h2m-1 0h2m1 0h2m2 0h2m1 0h2m8 0h2m3 0h2m-39 1h2m0 0h2m8 0h2m6 0h2m3 0h2m0 0h2m1 0h2m-34 1h2m14 0h2m5 0h2m2 0h2m-1 0h2m-1 0h2m32 0h2m17 0h2m-66 1h2m-2 0h2m1 0h2m-1 0h2m8 0h2m10 0h2m-95 1h2m55 0h2m3 0h2m19 0h2m13 0h2m2 0h2m15 0h2m-76 1h2m14 0h2m7 0h2m-37 1h2m18 0h2m1 0h2m-1 0h2m3 0h2m11 0h2m-1 0h2m10 0h2m-27 1h2m-63 1h2m53 0h2m-1 0h2m30 0h2m-16 1h2m-29 1h2m2 0h2m11 0h2m2 0h2m7 0h2m-2 0h2m10 0h2m18 0h2m-83 1h2m12 0h2m7 0h2m2 0h2m7 0h2m-2 0h2m2 0h2m36 0h2m-102 1h2m24 0h2m11 0h2m-1 0h2m6 0h2m8 0h2m22 0h2m-47 1h2m-1 0h2m1 0h2m8 0h2m8 0h2m-1 0h2m1 0h2m-2 0h2m2 0h2m2 0h2m6 0h2m-38 1h2m2 0h2m-10 1h2m14 0h2m5 0h2m4 0h2m6 0h2m-70 1h2m-2 0h2m39 0h2m31 0h2m-71 1h2m31 0h2m21 0h2m8 0h2m-16 1h2m-13 1h2m15 0h2m-74 1h2m22 0h2m8 0h2m10 0h2m8 0h2m7 1h2m7 0h2m3 0h2m7 1h2m-62 1h2m8 0h2m34 0h2m-47 1h2m7 0h2m6 0h2m4 0h2m6 0h2m8 0h2m-34 1h2m5 0h2m16 0h2m-6 1h2m11 0h2m24 0h2m-33 1h2m-30 1h2m27 0h2m2 0h2m-55 1h2m34 0h2m5 0h2m-13 1h2m12 0h2m-8 1h2m-55 1h2m43 0h2m-33 1h2m11 0h2m-20 1h2m55 0h2m-81 2h2m85 0h2m-103 1h2m25 1h2m33 0h2m19 1h2m6 0h2m-48 1h2m22 0h2m-2 0h2m-61 3h2m15 0h2m16 0h2m3 3h2m32 0h2m4 1h2m3 0h2m-22 1h2m-34 3h2m-11 3h2m5 1h2m-27 2h2m53 0h2m2 6h2m-20 1h2m-7 2h2m17 1h2m-31 9h2m-1 0h2m11 3h2m16 0h2"/><path d="M220 155h2m17 1h2m-11 3h2m-61 3h2m23 5h2m-51 8h2m-18 1h2m1 0h2m24 2h2m-59 2h2m24 1h2m13 2h2m7 1h2m-16 2h2m76 0h2m-84 1h2m-1 0h2m2 1h2m-56 6h2m115 0h2m-75 5h2m24 0h2m-60 1h2m28 0h2m0 0h2m-3 1h2m18 1h2m27 0h2m-5 1h2m4 0h2m-64 1h2m59 0h2m-91 1h2m82 1h2m-35 1h2m84 1h2m-108 1h2m12 0h2m31 0h2m-76 2h2m7 0h2m13 0h2m2 0h2m22 0h2m52 0h2m7 0h2m-89 1h2m46 0h2m-97 2h2m19 3h2m78 0h2m10 1h2m54 0h2m-143 1h2m-28 1h2m2 0h2m32 0h2m1 1h2m13 0h2m-13 2h2m-5 1h2m3 0h2m-31 1h2m42 0h2m-54 1h2m57 0h2m-22 1h2m15 0h2m-39 1h2m44 0h2m-64 1h2m48 0h2m30 0h2m10 0h2m15 1h2m-106 1h2m7 0h2m13 0h2m0 0h2m65 0h2m-115 1h2m28 0h2m40 0h2m-32 1h2m34 0h2m-85 1h2m17 0h2m43 0h2m23 0h2m-59 1h2m5 1h2m22 0h2m-2 0h2m-46 2h2m20 0h2m11 0h2m4 0h2m18 0h2m-80 1h2m5 0h2m3 0h2m1 0h2m5 0h2m57 0h2m-133 1h2m117 0h2m-49 1h2m11 0h2m55 0h2m-1 0h2m-80 1h2m-2 0h2m27 0h2m13 0h2m-56 1h2m15 0h2m8 0h2m5 0h2m38 0h2m42 0h2m-91 1h2m3 0h2m3 0h2m-64 1h2m33 0h2m0 0h2m7 0h2m31 0h2m48 0h2m-124 1h2m16 0h2m8 0h2m3 0h2m-15 1h2m7 0h2m2 0h2m29 0h2m7 0h2m33 0h2m-92 1h2m13 0h2m1 0h2m3 0h2m-23 1h2m6 0h2m4 0h2m-1 0h2m12 0h2m19 0h2m10 0h2m19 0h2m-103 1h2m23 0h2m17 0h2m5 0h2m11 0h2m70 0h2m-134 1h2m12 0h2m-1 0h2m2 0h2m3 0h2m0 0h2m6 0h2m60 0h2m-96 1h2m18 0h2m5 0h2m17 0h2m17 0h2m-82 1h2m34 0h2m2 0h2m3 0h2m7 0h2m7 0h2m0 0h2m-47 1h2m9 0h2m0 0h2m11 0h2m-1 0h2m-1 0h2m6 0h2m1 0h2m-80 1h2m44 0h2m5 0h2m-1 0h2m-2 0h2m32 0h2m-47 1h2m14 0h2m-1 0h2m3 0h2m9 0h2m1 0h2m13 0h2m-53 1h2m9 0h2m0 0h2m1 0h2m2 0h2m2 0h2m0 0h2m-1 0h2m-2 0h2m-1 0h2m-1 0h2m16 0h2m15 0h2m1 0h2m-84 1h2m28 0h2m1 0h2m3 0h2m11 0h2m5 0h2m-62 1h2m15 0h2m13 0h2m-1 0h2m-2 0h2m-1 0h2m-2 0h2m-1 0h2m-1 0h2m-1 0h2m2 0h2m12 0h2m-47 1h2m3 0h2m8 0h2m-2 0h2m5 0h2m1 0h2m0 0h2m-2 0h2m-2 0h2m0 0h2m-1 0h2m-2 0h2m1 0h2m-1 0h2m26 0h2m-73 1h2m12 0h2m15 0h2m-2 0h2m4 0h2m0 0h2m-2 0h2m-1 0h2m-1 0h2m-2 0h2m-2 0h2m0 0h2m-1 0h2m0 0h2m-18 1h2m-1 0h2m2 0h2m0 0h2m2 0h2m-2 0h2m1 0h2m4 0h2m3 0h2m0 0h2m-1 0h2m-33 1h2m2 0h2m2 0h2m-2 0h2m-2 0h2m-2 0h2m-1 0h2m-1 0h2m-2 0h2m-1 0h2m-2 0h2m1 0h2m-2 0h2m-2 0h2m0 0h2m4 0h2m34 0h2m-58 1h2m1 0h2m-1 0h2m-1 0h2m4 0h2m-2 0h2m1 0h2m-1 0h2m-1 0h2m-2 0h2m-45 1h2m27 0h2m-2 0h2m-2 0h2m1 0h2m0 0h2m1 0h2m-2 0h2m-1 0h2m1 0h2m2 0h2m58 0h2m-101 1h2m17 0h2m1 0h2m0 0h2m1 0h2m2 0h2m7 0h2m-30 1h2m6 0h2m0 0h2m-1 0h2m0 0h2m0 0h2m-2 0h2m-1 0h2m-2 0h2m0 0h2m-1 0h2m-1 0h2m-1 0h2m0 0h2m-2 0h2m0 0h2m-50 1h2m11 0h2m16 0h2m1 0h2m-2 0h2m1 0h2m3 0h2m2 0h2m-1 0h2m1 0h2m-1 0h2m-79 1h2m65 0h2m-1 0h2m-2 0h2m-2 0h2m6 0h2m-2 0h2m-26 1h2m-1 0h2m-1 0h2m-1 0h2m3 0h2m0 0h2m0 0h2m1 0h2m-1 0h2m2 0h2m-1 0h2m0 0h2m-1 0h2m-29 1h2m-1 0h2m14 0h2m0 0h2m-2 0h2m-2 0h2m0 0h2m0 0h2m-1 0h2m1 0h2m26 0h2m-56 1h2m12 0h2m-1 0h2m-2 0h2m2 0h2m3 0h2m-50 1h2m26 0h2m2 0h2m9 0h2m-1 0h2m-2 0h2m2 0h2m-2 0h2m-22 1h2m1 0h2m2 0h2m7 0h2m3 0h2m1 0h2m18 0h2m-130 1h2m57 0h2m23 0h2m-2 0h2m1 0h2m1 0h2m0 0h2m-1 0h2m-1 0h2m3 0h2m-1 0h2m0 0h2m-69 1h2m33 0h2m-1 0h2m-1 0h2m4 0h2m0 0h2m0 0h2m7 0h2m-2 0h2m0 0h2m0 0h2m16 0h2m16 0h2m-85 1h2m20 0h2m5 0h2m2 0h2m1 0h2m3 0h2m0 0h2m0 0h2m4 0h2m25 0h2m-78 1h2m64 0h2m-43 1h2m-1 0h2m11 0h2m1 0h2m3 0h2m-24 1h2m7 0h2m18 0h2m32 0h2m-58 1h2m-1 0h2m16 0h2m1 0h2m0 0h2m1 0h2m-32 1h2m-1 0h2m6 0h2m18 0h2m-64 1h2m-1 0h2m25 0h2m1 0h2m0 0h2m11 0h2m-1 0h2m-1 0h2m-1 0h2m-79 1h2m20 0h2m35 0h2m5 0h2m1 0h2m0 0h2m-24 1h2m11 0h2m0 0h2m7 0h2m1 0h2m12 0h2m-24 1h2m10 0h2m30 0h2m-29 1h2m19 0h2m-44 1h2m6 0h2m3 0h2m105 0h2m-134 1h2m7 0h2m17 0h2m-17 1h2m8 0h2m2 0h2m-24 1h2m17 0h2m17 0h2m-59 1h2m27 0h2m37 0h2m-54 1h2m12 0h2m-1 0h2m-42 1h2m4 0h2m18 0h2m24 0h2m15 0h2m-47 1h2m33 0h2m-17 1h2m-2 0h2m-27 1h2m10 0h2m-1 0h2m13 0h2m-25 1h2m28 0h2m-34 1h2m6 0h2m-29 1h2m12 0h2m26 1h2m-3 1h2m19 0h2m-52 1h2m-23 1h2m49 0h2m6 0h2m0 2h2m-25 1h2m55 0h2m-31 1h2m-39 1h2m17 0h2m2 0h2m-38 1h2m21 0h2m-40 1h2m9 0h2m11 1h2m12 0h2m42 3h2m-43 1h2m-2 0h2m-7 2h2m59 0h2m-66 2h2m-12 1h2m28 1h2m-26 1h2m-19 1h2m17 1h2m33 0h2m7 1h2m5 0h2m-52 1h2m-16 1h2m37 0h2m32 0h2m-34 2h2m-42 1h2m17 0h2m50 0h2m-42 3h2m-28 1h2m43 1h2m-17 1h2m-40 1h2m27 0h2m-25 7h2"/><path d="M182 154h2m58 2h2m-98 1h2m69 3h2m-18 2h2m8 2h2m-42 1h2m-41 1h2m8 0h2m9 3h2m29 2h2m-85 3h2m83 3h2m-45 1h2m-10 3h2m60 2h2m-32 3h2m-38 1h2m41 0h2m-90 1h2m58 0h2m30 1h2m42 0h2m-157 3h2m113 2h2m-70 1h2m53 0h2m-6 1h2m31 0h2m-60 1h2m-39 1h2m-21 1h2m49 4h2m-114 1h2m86 0h2m12 1h2m9 0h2m63 0h2m-135 1h2m27 0h2m15 1h2m24 0h2m-13 1h2m17 0h2m-20 1h2m-33 2h2m11 0h2m-3 3h2m111 0h2m-49 1h2m-102 3h2m110 1h2m-58 1h2m-42 1h2m19 0h2m12 0h2m16 0h2m17 0h2m21 0h2m-66 1h2m28 0h2m-63 1h2m6 0h2m42 0h2m-47 1h2m30 0h2m10 0h2m8 0h2m-57 1h2m10 0h2m16 1h2m35 2h2m-78 1h2m66 0h2m-94 1h2m6 0h2m-34 1h2m50 0h2m15 0h2m2 0h2m33 0h2m17 0h2m-56 2h2m39 0h2m47 0h2m-168 1h2m63 0h2m-43 1h2m21 0h2m33 0h2m-35 1h2m6 0h2m49 0h2m15 0h2m-75 1h2m-82 1h2m37 1h2m40 0h2m21 0h2m-34 1h2m17 0h2m-1 0h2m19 0h2m-47 1h2m12 0h2m22 0h2m-20 1h2m6 0h2m-40 1h2m19 0h2m1 0h2m10 0h2m3 0h2m5 0h2m18 0h2m-63 1h2m-39 1h2m67 0h2m2 0h2m0 0h2m0 0h2m-24 1h2m1 0h2m10 0h2m4 0h2m-8 1h2m76 0h2m-147 1h2m46 0h2m16 0h2m-45 1h2m6 0h2m20 0h2m-1 0h2m3 0h2m10 0h2m2 0h2m26 0h2m-62 1h2m16 0h2m27 0h2m3 0h2m-70 1h2m2 0h2m22 0h2m0 0h2m1 0h2m-1 0h2m-1 0h2m-38 1h2m1 0h2m14 0h2m4 0h2m52 0h2m-74 1h2m19 0h2m3 0h2m3 0h2m58 0h2m-115 1h2m31 0h2m0 0h2m8 0h2m0 0h2m6 0h2m3 0h2m29 0h2m-61 1h2m10 0h2m4 0h2m3 0h2m-2 0h2m32 0h2m-87 1h2m17 0h2m11 0h2m0 0h2m4 0h2m10 0h2m4 0h2m0 0h2m10 0h2m-50 1h2m13 0h2m0 0h2m3 0h2m0 0h2m6 0h2m37 0h2m-75 1h2m4 0h2m1 0h2m8 0h2m4 0h2m-2 0h2m10 0h2m-38 1h2m2 0h2m12 0h2m-1 0h2m7 0h2m1 0h2m-43 1h2m2 0h2m21 0h2m-2 0h2m3 0h2m0 0h2m2 0h2m1 0h2m0 0h2m-95 1h2m10 0h2m34 0h2m8 0h2m3 0h2m5 0h2m4 0h2m0 0h2m-1 0h2m-2 0h2m0 0h2m0 0h2m0 0h2m-1 0h2m-1 0h2m6 0h2m31 0h2m-76 1h2m7 0h2m8 0h2m3 0h2m0 0h2m1 0h2m0 0h2m0 0h2m-26 1h2m6 0h2m0 0h2m2 0h2m-1 0h2m0 0h2m-2 0h2m1 0h2m-1 0h2m-2 0h2m-2 0h2m-2 0h2m9 0h2m-42 1h2m6 0h2m5 0h2m4 0h2m0 0h2m0 0h2m-2 0h2m-2 0h2m-1 0h2m2 0h2m0 0h2m0 0h2m4 0h2m4 0h2m-49 1h2m0 0h2m1 0h2m13 0h2m-1 0h2m1 0h2m-1 0h2m-2 0h2m0 0h2m-1 0h2m-1 0h2m-2 0h2m0 0h2m-2 0h2m-1 0h2m2 0h2m2 0h2m-54 1h2m10 0h2m1 0h2m12 0h2m5 0h2m-1 0h2m4 0h2m-2 0h2m-1 0h2m-2 0h2m-2 0h2m0 0h2m-1 0h2m0 0h2m17 0h2m-46 1h2m-1 0h2m9 0h2m1 0h2m0 0h2m-2 0h2m-1 0h2m-1 0h2m1 0h2m-1 0h2m-2 0h2m-54 1h2m6 0h2m1 0h2m13 0h2m3 0h2m-1 0h2m0 0h2m0 0h2m1 0h2m-1 0h2m-2 0h2m5 0h2m-1 0h2m2 0h2m0 0h2m0 0h2m-66 1h2m23 0h2m1 0h2m10 0h2m1 0h2m2 0h2m0 0h2m-2 0h2m-1 0h2m-1 0h2m-1 0h2m-1 0h2m-2 0h2m2 0h2m1 0h2m0 0h2m14 0h2m5 0h2m-48 1h2m9 0h2m0 0h2m-2 0h2m-2 0h2m-1 0h2m1 0h2m-2 0h2m-1 0h2m5 0h2m-2 0h2m-47 1h2m2 0h2m24 0h2m2 0h2m0 0h2m-1 0h2m-1 0h2m0 0h2m9 0h2m-38 1h2m5 0h2m0 0h2m2 0h2m-2 0h2m-1 0h2m-1 0h2m0 0h2m-2 0h2m3 0h2m-2 0h2m-2 0h2m-1 0h2m-1 0h2m4 0h2m-78 1h2m42 0h2m6 0h2m6 0h2m8 0h2m0 0h2m-2 0h2m0 0h2m-32 1h2m10 0h2m-1 0h2m0 0h2m-2 0h2m-1 0h2m0 0h2m2 0h2m0 0h2m-1 0h2m7 0h2m-49 1h2m13 0h2m6 0h2m0 0h2m-1 0h2m9 0h2m-1 0h2m1 0h2m-15 1h2m7 0h2m1 0h2m2 0h2m8 0h2m-21 1h2m1 0h2m1 0h2m-64 1h2m26 0h2m8 0h2m2 0h2m1 0h2m-1 0h2m-1 0h2m2 0h2m18 0h2m-63 1h2m28 0h2m5 0h2m1 0h2m9 0h2m-33 1h2m5 0h2m16 0h2m5 0h2m0 0h2m-1 0h2m-60 1h2m27 0h2m2 0h2m3 0h2m1 0h2m1 0h2m12 0h2m26 0h2m-46 1h2m4 0h2m3 0h2m-20 1h2m8 0h2m3 0h2m14 0h2m-42 1h2m-1 0h2m7 0h2m-2 0h2m9 0h2m1 0h2m6 0h2m-23 1h2m6 0h2m1 0h2m3 0h2m0 0h2m-47 1h2m22 0h2m8 0h2m0 0h2m-1 0h2m3 0h2m-32 1h2m20 0h2m-79 1h2m73 0h2m30 0h2m-43 1h2m3 0h2m9 0h2m12 1h2m16 0h2m-37 1h2m21 0h2m-68 1h2m37 0h2m18 0h2m-55 1h2m30 0h2m3 0h2m3 0h2m4 1h2m-61 1h2m37 0h2m17 0h2m6 0h2m-54 1h2m12 0h2m0 0h2m45 0h2m-110 1h2m38 0h2m41 0h2m2 0h2m-34 1h2m18 1h2m7 0h2m-35 1h2m20 0h2m-2 0h2m32 0h2m-60 1h2m14 0h2m-47 1h2m53 0h2m4 0h2m-43 1h2m25 0h2m7 1h2m-8 1h2m9 1h2m8 0h2m-51 1h2m0 1h2m25 0h2m-3 1h2m-51 1h2m25 0h2m-2 0h2m21 0h2m-4 3h2m10 0h2m-5 1h2m31 0h2m-49 1h2m30 0h2m-61 1h2m35 0h2m-63 1h2m79 0h2m-107 1h2m53 0h2m7 0h2m2 0h2m-3 1h2m-10 1h2m11 1h2m4 0h2m-10 1h2m-16 2h2m11 0h2m-1 0h2m2 0h2m-16 1h2m1 0h2m-30 1h2m50 0h2m20 0h2m-25 1h2m17 1h2m-24 1h2m-27 1h2m6 2h2m21 3h2m-45 1h2m66 0h2m-86 5h2m29 0h2m12 3h2m39 0h2m-1 0h2m-41 5h2"/><path d="M224 141h2m-19 15h2m25 1h2m-107 1h2m47 1h2m-42 1h2m93 4h2m-39 3h2m-11 1h2m-39 4h2m-3 2h2m12 0h2m13 0h2m37 0h2m-86 2h2m79 3h2m-23 1h2m-31 1h2m-29 2h2m5 0h2m11 0h2m16 0h2m-9 1h2m-59 1h2m59 0h2m14 1h2m-57 4h2m-53 1h2m149 0h2m-71 3h2m42 0h2m-20 3h2m-59 1h2m49 0h2m-16 1h2m-59 1h2m52 0h2m33 0h2m-80 2h2m-11 1h2m90 0h2m-38 1h2m-103 1h2m121 2h2m-15 1h2m-39 1h2m2 0h2m0 0h2m29 0h2m-100 1h2m32 0h2m51 0h2m-2 1h2m-16 1h2m-21 1h2m25 0h2m24 0h2m-134 1h2m43 0h2m44 0h2m9 1h2m-84 1h2m64 0h2m-19 1h2m-10 1h2m66 0h2m1 0h2m-30 2h2m-72 1h2m90 0h2m12 0h2m-125 1h2m34 0h2m7 0h2m4 3h2m1 0h2m14 0h2m-51 1h2m3 0h2m7 1h2m23 0h2m-111 1h2m78 1h2m14 0h2m7 0h2m10 0h2m-29 1h2m38 0h2m16 0h2m20 0h2m-65 1h2m19 0h2m-61 1h2m7 0h2m14 0h2m30 0h2m-37 1h2m58 0h2m24 0h2m-97 1h2m38 0h2m-88 1h2m21 0h2m0 0h2m7 0h2m6 0h2m4 0h2m48 1h2m32 0h2m-116 1h2m25 0h2m20 0h2m6 0h2m-12 1h2m-50 1h2m9 0h2m18 0h2m0 2h2m3 0h2m26 0h2m-43 1h2m11 0h2m87 0h2m-120 1h2m12 0h2m19 0h2m18 0h2m-93 1h2m8 0h2m0 0h2m16 0h2m26 0h2m-24 1h2m2 0h2m2 0h2m-13 1h2m17 0h2m6 0h2m13 0h2m3 0h2m7 0h2m-79 1h2m7 0h2m15 0h2m22 0h2m10 0h2m-78 1h2m31 0h2m1 0h2m2 1h2m13 0h2m-1 0h2m12 0h2m-63 1h2m33 0h2m2 0h2m2 0h2m0 0h2m-2 0h2m35 0h2m-52 1h2m5 0h2m-1 0h2m2 0h2m37 0h2m70 0h2m-134 1h2m6 0h2m-2 0h2m6 0h2m3 0h2m-28 1h2m23 0h2m43 0h2m-73 1h2m6 0h2m7 0h2m-1 0h2m0 0h2m18 0h2m-96 1h2m81 0h2m-1 0h2m4 0h2m25 0h2m-70 1h2m-2 0h2m34 0h2m-1 0h2m4 0h2m-95 1h2m77 0h2m-1 0h2m-1 0h2m5 0h2m-1 0h2m4 0h2m4 0h2m7 0h2m-41 1h2m4 0h2m-1 0h2m6 0h2m-2 0h2m0 0h2m2 0h2m24 0h2m7 0h2m-77 1h2m8 0h2m-2 0h2m17 0h2m13 0h2m-58 1h2m23 0h2m4 0h2m1 0h2m0 0h2m1 0h2m-2 0h2m-2 0h2m0 0h2m-1 0h2m1 0h2m-2 0h2m-2 0h2m0 0h2m-1 0h2m-1 0h2m0 0h2m2 0h2m9 0h2m32 0h2m-88 1h2m8 0h2m2 0h2m1 0h2m7 0h2m0 0h2m-1 0h2m-2 0h2m0 0h2m1 0h2m-39 1h2m4 0h2m-1 0h2m17 0h2m0 0h2m-1 0h2m-2 0h2m-1 0h2m-2 0h2m-1 0h2m4 0h2m2 0h2m-2 0h2m1 0h2m14 0h2m28 0h2m-81 1h2m0 0h2m9 0h2m-2 0h2m-2 0h2m1 0h2m-1 0h2m0 0h2m2 0h2m-1 0h2m-1 0h2m10 0h2m-2 0h2m-2 0h2m5 0h2m-43 1h2m5 0h2m-1 0h2m0 0h2m1 0h2m-1 0h2m-1 0h2m0 0h2m-2 0h2m2 0h2m1 0h2m-1 0h2m5 0h2m-37 1h2m8 0h2m1 0h2m1 0h2m0 0h2m-2 0h2m-2 0h2m-1 0h2m0 0h2m-2 0h2m-1 0h2m-2 0h2m1 0h2m0 0h2m5 0h2m18 0h2m-110 1h2m50 0h2m9 0h2m-2 0h2m2 0h2m1 0h2m0 0h2m-1 0h2m-1 0h2m-1 0h2m-1 0h2m3 0h2m0 0h2m2 0h2m-57 1h2m23 0h2m2 0h2m0 0h2m-1 0h2m0 0h2m4 0h2m-2 0h2m0 0h2m2 0h2m-2 0h2m-2 0h2m-2 0h2m-1 0h2m0 0h2m2 0h2m0 0h2m-33 1h2m6 0h2m5 0h2m-1 0h2m0 0h2m1 0h2m0 0h2m-2 0h2m1 0h2m8 0h2m-2 0h2m-42 1h2m0 0h2m12 0h2m0 0h2m0 0h2m0 0h2m1 0h2m-2 0h2m2 0h2m2 0h2m20 0h2m-75 1h2m18 0h2m0 0h2m9 0h2m2 0h2m-2 0h2m3 0h2m-2 0h2m-1 0h2m9 0h2m-31 1h2m2 0h2m1 0h2m4 0h2m0 0h2m-1 0h2m5 0h2m12 0h2m-79 1h2m47 0h2m0 0h2m0 0h2m-1 0h2m0 0h2m-1 0h2m-1 0h2m-2 0h2m9 0h2m24 0h2m-76 1h2m15 0h2m7 0h2m-1 0h2m1 0h2m0 0h2m-1 0h2m5 0h2m3 0h2m0 0h2m-107 1h2m72 0h2m7 0h2m3 0h2m28 0h2m-72 1h2m9 0h2m16 0h2m15 0h2m4 0h2m0 0h2m8 0h2m0 0h2m-68 1h2m20 0h2m4 0h2m0 0h2m5 0h2m6 0h2m4 0h2m-1 0h2m18 0h2m-48 1h2m1 0h2m0 0h2m0 0h2m3 0h2m1 0h2m-1 0h2m26 0h2m-54 1h2m3 0h2m3 0h2m8 0h2m0 0h2m3 0h2m10 0h2m-22 1h2m-2 0h2m12 0h2m1 0h2m-35 1h2m3 0h2m8 0h2m5 0h2m3 0h2m4 0h2m10 0h2m-65 1h2m15 0h2m10 0h2m5 0h2m3 0h2m3 0h2m9 0h2m-64 1h2m32 0h2m4 0h2m1 0h2m6 0h2m-72 1h2m23 0h2m16 0h2m38 0h2m20 0h2m-67 1h2m3 0h2m12 0h2m3 0h2m31 0h2m-42 1h2m-2 0h2m7 0h2m0 0h2m10 0h2m-53 1h2m-1 0h2m3 0h2m15 0h2m12 0h2m3 0h2m2 0h2m-90 1h2m4 0h2m45 0h2m17 0h2m-2 0h2m4 0h2m3 0h2m-38 1h2m25 0h2m-2 0h2m-47 1h2m-2 0h2m21 0h2m4 0h2m6 0h2m22 0h2m2 0h2m-39 1h2m12 0h2m24 0h2m4 1h2m-53 1h2m2 0h2m10 0h2m1 0h2m-2 0h2m11 0h2m-28 1h2m15 0h2m10 0h2m-58 1h2m49 0h2m-39 1h2m11 0h2m-13 1h2m27 0h2m-17 2h2m3 0h2m3 0h2m12 1h2m3 0h2m1 0h2m15 0h2m-54 1h2m-6 1h2m4 0h2m30 0h2m-41 1h2m16 1h2m6 3h2m23 2h2m-51 2h2m-4 1h2m-35 1h2m60 0h2m-32 1h2m23 0h2m-35 1h2m12 3h2m13 0h2m12 0h2m-69 1h2m34 0h2m40 0h2m3 0h2m-51 1h2m25 0h2m-7 1h2m-4 1h2m31 0h2m-86 3h2m45 1h2m53 0h2m-98 2h2m33 0h2m-35 3h2m15 0h2m7 2h2m17 0h2m14 1h2m13 0h2m-74 6h2m62 1h2m-76 2h2m24 0h2m-23 8h2"/><path d="M141 149h2m-18 5h2m71 2h2m-42 2h2m6 0h2m15 4h2m-37 9h2m66 0h2m-41 2h2m-32 1h2m36 0h2m-36 6h2m33 4h2m-112 1h2m47 0h2m59 0h2m-3 1h2m46 0h2m-78 2h2m54 1h2m-84 1h2m5 2h2m-7 1h2m49 0h2m-88 1h2m22 0h2m81 0h2m-45 1h2m-44 1h2m83 0h2m-25 1h2m-47 1h2m-10 1h2m24 1h2m5 0h2m24 0h2m-3 1h2m-25 1h2m37 2h2m27 0h2m-54 1h2m74 0h2m-81 1h2m20 0h2m-49 1h2m-1 1h2m-97 1h2m94 0h2m-1 0h2m-5 1h2m5 0h2m12 1h2m-100 1h2m86 0h2m11 1h2m5 0h2m-68 1h2m0 0h2m30 0h2m36 0h2m-88 1h2m52 1h2m97 0h2m-128 1h2m72 0h2m-101 1h2m57 0h2m50 0h2m-57 2h2m16 0h2m-157 1h2m93 0h2m1 0h2m45 0h2m-132 1h2m47 0h2m16 0h2m13 0h2m43 1h2m-30 1h2m27 0h2m44 0h2m-76 1h2m4 0h2m-40 1h2m15 1h2m9 0h2m-45 1h2m12 0h2m44 0h2m-99 1h2m11 0h2m21 0h2m37 0h2m12 0h2m-40 1h2m-54 1h2m48 0h2m16 0h2m17 0h2m35 0h2m-63 1h2m-1 1h2m48 0h2m9 0h2m24 0h2m-117 1h2m25 0h2m0 0h2m6 0h2m29 0h2m-53 2h2m30 0h2m-48 1h2m2 0h2m7 0h2m-1 0h2m-36 1h2m39 1h2m1 0h2m-46 1h2m18 0h2m17 0h2m-45 1h2m80 0h2m-59 1h2m11 0h2m0 0h2m14 0h2m89 0h2m-131 1h2m14 0h2m34 0h2m-76 1h2m3 0h2m25 0h2m7 0h2m-1 0h2m-25 1h2m6 0h2m3 0h2m14 0h2m-29 1h2m0 1h2m1 0h2m41 0h2m-80 1h2m0 0h2m30 0h2m-2 0h2m2 0h2m1 0h2m13 0h2m-1 0h2m5 0h2m-100 1h2m47 0h2m13 0h2m12 1h2m2 0h2m11 0h2m41 0h2m-134 1h2m68 0h2m-17 1h2m9 0h2m6 0h2m12 0h2m4 0h2m-56 1h2m13 0h2m0 0h2m17 0h2m3 0h2m3 0h2m0 0h2m7 0h2m-23 1h2m-2 0h2m-2 0h2m0 0h2m-2 0h2m-54 1h2m30 0h2m8 0h2m-1 0h2m1 0h2m0 0h2m10 0h2m-40 1h2m1 0h2m5 0h2m6 0h2m4 0h2m0 0h2m0 0h2m-2 0h2m4 0h2m-1 0h2m11 0h2m6 0h2m-36 1h2m1 0h2m0 0h2m0 0h2m-1 0h2m-1 0h2m-1 0h2m-2 0h2m7 0h2m-17 1h2m2 0h2m9 0h2m33 0h2m-83 1h2m16 0h2m5 0h2m0 0h2m-1 0h2m-1 0h2m-1 0h2m6 0h2m-2 0h2m3 0h2m-32 1h2m10 0h2m1 0h2m-1 0h2m-1 0h2m-1 0h2m-2 0h2m-1 0h2m-2 0h2m3 0h2m-2 0h2m2 0h2m5 0h2m29 0h2m14 0h2m-77 1h2m-1 0h2m1 0h2m3 0h2m-1 0h2m0 0h2m12 0h2m-28 1h2m2 0h2m-1 0h2m0 0h2m1 0h2m0 0h2m-2 0h2m-2 0h2m2 0h2m23 0h2m-43 1h2m1 0h2m0 0h2m-2 0h2m-1 0h2m-1 0h2m-2 0h2m0 0h2m1 0h2m-2 0h2m0 0h2m-1 0h2m-1 0h2m-1 0h2m-56 1h2m20 0h2m16 0h2m-1 0h2m-2 0h2m4 0h2m-1 0h2m-1 0h2m-2 0h2m-2 0h2m-1 0h2m0 0h2m-2 0h2m-1 0h2m0 0h2m0 0h2m-63 1h2m37 0h2m7 0h2m-2 0h2m-2 0h2m0 0h2m-2 0h2m-1 0h2m-2 0h2m-2 0h2m-1 0h2m-2 0h2m0 0h2m-1 0h2m-2 0h2m-2 0h2m-1 0h2m-1 0h2m0 0h2m19 0h2m-74 1h2m33 0h2m1 0h2m0 0h2m-1 0h2m-2 0h2m0 0h2m0 0h2m-1 0h2m-1 0h2m-2 0h2m1 0h2m0 0h2m48 0h2m-67 1h2m0 0h2m0 0h2m-1 0h2m-1 0h2m1 0h2m1 0h2m20 0h2m12 0h2m-80 1h2m22 0h2m0 0h2m1 0h2m1 0h2m4 0h2m0 0h2m16 0h2m-37 1h2m5 0h2m1 0h2m0 0h2m4 0h2m0 0h2m-2 0h2m-2 0h2m3 0h2m0 0h2m4 0h2m-41 1h2m3 0h2m-1 0h2m0 0h2m1 0h2m-1 0h2m0 0h2m-1 0h2m0 0h2m3 0h2m-1 0h2m5 0h2m-1 0h2m-2 0h2m-23 1h2m1 0h2m-1 0h2m-1 0h2m0 0h2m-2 0h2m-1 0h2m0 0h2m-1 0h2m-1 0h2m-1 0h2m2 0h2m-1 0h2m42 0h2m-103 1h2m27 0h2m7 0h2m9 0h2m-1 0h2m9 0h2m5 0h2m2 0h2m32 0h2m3 0h2m-91 1h2m24 0h2m-2 0h2m0 0h2m0 0h2m2 0h2m-57 1h2m13 0h2m3 0h2m0 0h2m4 0h2m1 0h2m8 0h2m2 0h2m-1 0h2m-22 1h2m2 0h2m4 0h2m8 0h2m16 0h2m-52 1h2m16 0h2m1 0h2m0 0h2m8 0h2m4 0h2m1 0h2m-37 1h2m15 0h2m-1 0h2m2 0h2m2 0h2m1 0h2m-39 1h2m18 0h2m0 0h2m1 0h2m11 0h2m3 0h2m35 0h2m-59 1h2m10 0h2m-1 0h2m2 0h2m4 0h2m30 0h2m-57 1h2m2 0h2m7 0h2m0 0h2m-1 0h2m1 0h2m7 0h2m-105 1h2m31 0h2m20 0h2m26 0h2m0 0h2m-2 0h2m28 0h2m-34 1h2m-1 0h2m14 0h2m-79 1h2m25 0h2m21 0h2m6 1h2m1 0h2m1 0h2m10 0h2m1 0h2m-51 1h2m18 0h2m-1 0h2m11 0h2m12 0h2m-28 2h2m1 0h2m3 0h2m12 0h2m-36 1h2m9 0h2m5 0h2m1 0h2m15 0h2m-10 1h2m-52 1h2m31 0h2m18 0h2m-52 1h2m23 0h2m0 0h2m4 0h2m6 0h2m-1 0h2m30 0h2m-67 2h2m22 0h2m-1 0h2m9 0h2m-34 1h2m10 0h2m21 1h2m-36 1h2m-2 0h2m3 0h2m11 0h2m1 0h2m8 0h2m7 0h2m-75 1h2m32 0h2m10 0h2m11 0h2m3 0h2m2 0h2m25 0h2m-74 1h2m30 0h2m-2 0h2m-28 1h2m47 1h2m15 0h2m-50 1h2m8 0h2m4 0h2m12 0h2m-41 1h2m-32 1h2m22 0h2m14 0h2m33 0h2m-54 1h2m58 0h2m-72 1h2m7 0h2m-1 0h2m5 0h2m17 0h2m-47 1h2m38 1h2m54 0h2m-64 1h2m42 0h2m-48 1h2m50 0h2m-109 2h2m-14 2h2m28 0h2m31 2h2m-18 3h2m43 0h2m3 0h2m-31 1h2m-1 0h2m15 1h2m-25 1h2m21 0h2m14 1h2m-50 2h2m3 0h2m23 0h2m-26 1h2m8 2h2m41 0h2m-37 1h2m2 0h2m-2 0h2m-13 5h2m61 0h2m-13 1h2m-87 5h2m-14 5h2m15 0h2m45 1h2m-44 2h2m21 5h2"/><path d="M160 136h2m0 13h2m-25 1h2m81 9h2m-98 1h2m9 5h2m-6 2h2m9 0h2m31 3h2m-63 8h2m40 0h2m31 0h2m-42 1h2m45 3h2m-111 1h2m52 1h2m11 0h2m39 1h2m-85 3h2m70 0h2m-3 3h2m26 0h2m0 0h2m-20 2h2m-78 1h2m5 1h2m27 0h2m23 0h2m19 1h2m-38 1h2m5 1h2m-23 2h2m-22 1h2m49 0h2m-83 1h2m37 2h2m46 0h2m9 2h2m-56 1h2m21 0h2m-73 2h2m19 0h2m14 0h2m-3 1h2m30 0h2m-74 1h2m5 0h2m-10 1h2m12 0h2m54 0h2m-35 1h2m22 0h2m7 0h2m12 1h2m-64 1h2m4 0h2m19 0h2m-35 1h2m-51 2h2m68 0h2m-93 1h2m51 0h2m9 0h2m43 0h2m3 0h2m4 0h2m-60 1h2m15 0h2m35 0h2m-55 1h2m65 0h2m-73 1h2m6 0h2m14 0h2m-23 1h2m-6 1h2m26 0h2m14 0h2m-59 1h2m55 0h2m3 0h2m-58 2h2m8 0h2m18 0h2m16 0h2m10 0h2m1 0h2m-61 2h2m14 0h2m17 1h2m-17 1h2m-34 1h2m10 0h2m24 0h2m-46 1h2m7 0h2m36 0h2m-45 1h2m38 0h2m-55 1h2m48 0h2m1 0h2m-64 1h2m21 0h2m18 0h2m2 0h2m4 0h2m59 0h2m-110 1h2m26 0h2m38 1h2m10 0h2m15 0h2m-67 1h2m23 1h2m-78 1h2m32 0h2m5 0h2m8 0h2m4 0h2m11 0h2m-32 1h2m9 0h2m23 1h2m39 0h2m21 0h2m-102 1h2m32 0h2m-23 1h2m-20 1h2m4 0h2m28 0h2m9 0h2m30 0h2m-15 1h2m-1 0h2m-56 1h2m85 0h2m-72 1h2m22 0h2m-51 1h2m2 0h2m-1 0h2m3 0h2m5 0h2m3 0h2m23 0h2m-58 1h2m0 0h2m0 0h2m26 0h2m30 0h2m-61 1h2m5 0h2m0 0h2m5 0h2m-1 0h2m0 0h2m-2 0h2m1 0h2m2 0h2m11 0h2m5 0h2m-46 1h2m2 0h2m5 0h2m9 0h2m3 0h2m6 0h2m-1 0h2m-31 1h2m2 0h2m-1 0h2m5 0h2m6 0h2m12 0h2m-95 1h2m46 0h2m8 0h2m-2 0h2m9 0h2m2 0h2m12 0h2m-30 1h2m10 0h2m2 0h2m-1 0h2m6 0h2m-86 1h2m57 0h2m-1 0h2m3 0h2m5 0h2m-2 0h2m-23 1h2m2 0h2m6 0h2m8 0h2m3 0h2m0 0h2m-35 1h2m3 0h2m9 0h2m-1 0h2m7 0h2m2 0h2m-1 0h2m-22 1h2m0 0h2m4 0h2m-1 0h2m-1 0h2m7 0h2m25 0h2m5 0h2m-73 1h2m23 0h2m0 0h2m0 0h2m0 0h2m-2 0h2m-1 0h2m0 0h2m-1 0h2m-2 0h2m0 0h2m19 0h2m-59 1h2m4 0h2m7 0h2m-1 0h2m3 0h2m3 0h2m-1 0h2m0 0h2m-2 0h2m-1 0h2m-2 0h2m-1 0h2m-1 0h2m-1 0h2m-2 0h2m4 0h2m-56 1h2m32 0h2m0 0h2m2 0h2m-1 0h2m-2 0h2m2 0h2m-1 0h2m0 0h2m0 0h2m-1 0h2m-60 1h2m9 0h2m20 0h2m-2 0h2m7 0h2m2 0h2m1 0h2m3 0h2m-2 0h2m-2 0h2m-1 0h2m-2 0h2m2 0h2m0 0h2m2 0h2m-78 1h2m43 0h2m5 0h2m-1 0h2m-1 0h2m-1 0h2m-2 0h2m0 0h2m-2 0h2m0 0h2m0 0h2m-2 0h2m-1 0h2m2 0h2m0 0h2m-2 0h2m-1 0h2m-2 0h2m1 0h2m0 0h2m23 0h2m-66 1h2m9 0h2m-1 0h2m2 0h2m4 0h2m-2 0h2m0 0h2m-2 0h2m3 0h2m-1 0h2m-1 0h2m-2 0h2m-2 0h2m-1 0h2m0 0h2m3 0h2m-48 1h2m19 0h2m0 0h2m0 0h2m2 0h2m-2 0h2m-1 0h2m-1 0h2m-2 0h2m-1 0h2m-2 0h2m1 0h2m-2 0h2m-2 0h2m-2 0h2m0 0h2m-1 0h2m5 0h2m0 0h2m8 0h2m-49 1h2m8 0h2m8 0h2m-1 0h2m0 0h2m3 0h2m0 0h2m-1 0h2m7 0h2m-99 1h2m38 0h2m23 0h2m1 0h2m2 0h2m3 0h2m-1 0h2m-1 0h2m0 0h2m-1 0h2m-2 0h2m-1 0h2m-1 0h2m-1 0h2m-1 0h2m0 0h2m1 0h2m-1 0h2m-1 0h2m-63 1h2m37 0h2m1 0h2m2 0h2m2 0h2m-2 0h2m0 0h2m12 0h2m-37 1h2m2 0h2m6 0h2m0 0h2m-1 0h2m-1 0h2m-1 0h2m-1 0h2m-2 0h2m0 0h2m0 0h2m28 0h2m-90 1h2m49 0h2m0 0h2m-1 0h2m-1 0h2m2 0h2m10 0h2m19 0h2m-88 1h2m35 0h2m1 0h2m1 0h2m1 0h2m5 0h2m4 0h2m0 0h2m-34 1h2m0 0h2m3 0h2m8 0h2m2 0h2m2 0h2m-42 1h2m14 0h2m5 0h2m-1 0h2m-1 0h2m1 0h2m3 0h2m6 0h2m-2 0h2m47 0h2m-145 1h2m59 0h2m1 0h2m6 0h2m0 0h2m-1 0h2m-1 0h2m-2 0h2m2 0h2m-2 0h2m3 0h2m7 0h2m11 0h2m-67 1h2m20 0h2m-1 0h2m5 0h2m-1 0h2m-1 0h2m2 0h2m6 0h2m2 0h2m6 0h2m8 0h2m-33 1h2m3 0h2m8 0h2m-1 0h2m-40 1h2m13 0h2m0 0h2m35 0h2m-42 1h2m49 0h2m-60 1h2m5 0h2m6 0h2m0 0h2m0 0h2m0 0h2m3 0h2m5 0h2m3 0h2m-33 1h2m-1 0h2m15 0h2m18 0h2m8 0h2m-73 1h2m30 0h2m-1 0h2m-1 0h2m1 0h2m33 0h2m-38 1h2m-78 1h2m76 0h2m-1 0h2m-20 1h2m2 0h2m33 0h2m0 0h2m-38 1h2m15 0h2m7 0h2m20 0h2m-72 1h2m26 0h2m22 0h2m-1 0h2m-30 1h2m4 0h2m15 0h2m-45 1h2m8 0h2m-6 1h2m4 0h2m44 0h2m-38 1h2m5 0h2m-24 1h2m5 0h2m9 0h2m67 0h2m-107 1h2m22 0h2m5 0h2m19 0h2m-86 1h2m81 0h2m14 0h2m-92 1h2m42 0h2m-1 0h2m5 0h2m10 0h2m-31 1h2m14 0h2m11 0h2m-48 1h2m15 0h2m-1 0h2m47 0h2m5 0h2m13 0h2m-45 1h2m-63 1h2m36 0h2m12 0h2m-28 2h2m10 0h2m-1 0h2m-47 2h2m79 0h2m-45 1h2m78 1h2m-66 1h2m-1 0h2m40 0h2m-27 1h2m-13 1h2m-22 1h2m-16 1h2m20 0h2m28 0h2m-48 1h2m25 1h2m11 0h2m33 1h2m-107 1h2m21 0h2m-9 2h2m28 0h2m31 0h2m-41 2h2m15 1h2m13 0h2m-46 1h2m32 2h2m11 0h2m-62 1h2m87 0h2m-84 3h2m42 1h2m6 2h2m-38 1h2m19 2h2m-2 2h2m-15 2h2m-30 1h2m44 3h2m-9 3h2m-37 3h2m7 0h2m27 0h2m3 0h2m7 6h2"/><path d="M162 157h2m-24 5h2m48 4h2m-17 2h2m5 0h2m-3 1h2m-49 1h2m66 11h2m-105 2h2m52 2h2m8 0h2m52 0h2m-81 1h2m17 0h2m0 2h2m14 0h2m-56 2h2m8 0h2m27 0h2m-37 3h2m4 1h2m-2 1h2m30 0h2m2 1h2m26 0h2m-55 4h2m14 0h2m-1 0h2m44 0h2m-137 3h2m132 0h2m-10 1h2m-48 1h2m2 1h2m-79 1h2m38 0h2m-51 1h2m114 0h2m-61 1h2m29 0h2m14 0h2m-37 1h2m-22 2h2m107 0h2m-76 1h2m33 1h2m-56 1h2m39 0h2m-45 1h2m9 0h2m25 1h2m-132 1h2m33 0h2m16 1h2m22 0h2m5 0h2m3 0h2m51 0h2m9 0h2m-113 1h2m26 0h2m53 0h2m-82 1h2m66 0h2m-61 1h2m31 0h2m-27 1h2m-13 1h2m54 0h2m23 0h2m-95 1h2m38 0h2m6 0h2m0 0h2m50 1h2m4 0h2m-102 1h2m47 1h2m0 1h2m-105 1h2m50 0h2m7 0h2m8 0h2m18 0h2m36 0h2m-114 1h2m29 2h2m30 0h2m-21 1h2m6 0h2m3 0h2m27 0h2m0 0h2m15 0h2m-58 1h2m-93 1h2m78 0h2m42 0h2m11 0h2m66 0h2m-102 1h2m24 0h2m-1 0h2m-54 1h2m29 0h2m14 0h2m-36 1h2m11 0h2m-38 1h2m12 0h2m-6 1h2m17 0h2m-34 1h2m-2 0h2m26 0h2m-68 1h2m48 1h2m8 0h2m5 0h2m14 0h2m4 0h2m5 0h2m-47 1h2m4 0h2m-27 1h2m20 0h2m18 0h2m-1 0h2m9 0h2m-36 1h2m1 0h2m1 0h2m8 0h2m0 0h2m9 0h2m-54 1h2m12 0h2m8 0h2m-2 0h2m5 0h2m30 0h2m-49 1h2m10 0h2m-1 0h2m2 0h2m-1 0h2m15 0h2m21 0h2m-110 1h2m0 0h2m81 0h2m0 0h2m4 0h2m-64 1h2m15 0h2m22 0h2m20 0h2m31 0h2m-105 1h2m33 0h2m2 0h2m3 0h2m-5 1h2m2 0h2m-2 0h2m-18 1h2m4 0h2m3 0h2m7 0h2m-2 0h2m9 0h2m6 0h2m68 0h2m-118 1h2m37 0h2m44 0h2m-51 1h2m5 0h2m0 0h2m-61 1h2m5 0h2m20 0h2m1 0h2m0 0h2m4 0h2m16 0h2m-58 1h2m7 0h2m14 0h2m8 0h2m2 0h2m-1 0h2m-2 0h2m27 0h2m-57 1h2m4 0h2m-2 0h2m0 0h2m5 0h2m2 0h2m0 0h2m4 0h2m10 0h2m28 0h2m-98 1h2m26 0h2m-1 0h2m-1 0h2m6 0h2m1 0h2m-2 0h2m-1 0h2m0 0h2m0 0h2m0 0h2m0 0h2m1 0h2m0 0h2m-1 0h2m-1 0h2m-20 1h2m1 0h2m-2 0h2m-1 0h2m5 0h2m-2 0h2m-1 0h2m0 0h2m1 0h2m-1 0h2m10 0h2m-77 1h2m2 0h2m20 0h2m4 0h2m-2 0h2m13 0h2m0 0h2m0 0h2m0 0h2m1 0h2m3 0h2m-21 1h2m0 0h2m1 0h2m2 0h2m-1 0h2m-2 0h2m2 0h2m-1 0h2m-1 0h2m0 0h2m-30 1h2m6 0h2m4 0h2m2 0h2m-2 0h2m-2 0h2m-1 0h2m0 0h2m-2 0h2m1 0h2m2 0h2m-2 0h2m0 0h2m-2 0h2m8 0h2m3 0h2m6 0h2m-61 1h2m20 0h2m-1 0h2m0 0h2m-2 0h2m0 0h2m-2 0h2m0 0h2m0 0h2m12 0h2m-36 1h2m2 0h2m-1 0h2m0 0h2m-2 0h2m-2 0h2m1 0h2m-1 0h2m-2 0h2m0 0h2m-2 0h2m7 0h2m-2 0h2m-2 0h2m-1 0h2m5 0h2m1 0h2m-36 1h2m11 0h2m-1 0h2m-2 0h2m-2 0h2m-1 0h2m-2 0h2m-2 0h2m1 0h2m-2 0h2m-1 0h2m0 0h2m0 0h2m2 0h2m0 0h2m14 0h2m-86 1h2m19 0h2m31 0h2m-1 0h2m-2 0h2m0 0h2m-1 0h2m-1 0h2m-2 0h2m-1 0h2m-2 0h2m-1 0h2m0 0h2m4 0h2m-50 1h2m36 0h2m-1 0h2m-1 0h2m-2 0h2m-2 0h2m-1 0h2m3 0h2m-39 1h2m4 0h2m4 0h2m2 0h2m0 0h2m-2 0h2m1 0h2m-1 0h2m0 0h2m-1 0h2m-2 0h2m1 0h2m-2 0h2m10 0h2m42 0h2m-83 1h2m6 0h2m4 0h2m1 0h2m-1 0h2m1 0h2m-1 0h2m5 0h2m-1 0h2m-2 0h2m-2 0h2m0 0h2m-26 1h2m-2 0h2m9 0h2m5 0h2m-1 0h2m3 0h2m-2 0h2m-41 1h2m13 0h2m12 0h2m-1 0h2m1 0h2m0 0h2m0 0h2m-1 0h2m16 0h2m-43 1h2m0 0h2m9 0h2m3 0h2m27 0h2m16 0h2m-73 1h2m4 0h2m4 0h2m-2 0h2m4 0h2m-28 1h2m8 0h2m3 0h2m0 0h2m-1 0h2m-1 0h2m-1 0h2m12 0h2m-1 0h2m-2 0h2m12 0h2m-59 1h2m7 0h2m1 0h2m7 0h2m8 0h2m-2 0h2m1 0h2m8 0h2m-2 0h2m8 0h2m19 0h2m-68 1h2m13 0h2m4 0h2m-1 0h2m0 0h2m-32 1h2m18 0h2m9 0h2m8 0h2m6 0h2m0 0h2m0 0h2m-33 1h2m11 0h2m2 0h2m1 0h2m8 0h2m-35 1h2m11 0h2m3 0h2m9 0h2m9 0h2m-49 1h2m-1 0h2m3 0h2m16 0h2m-2 0h2m7 0h2m-47 1h2m14 0h2m5 0h2m2 0h2m-1 0h2m2 0h2m8 0h2m-49 1h2m7 0h2m22 0h2m5 0h2m17 0h2m-68 1h2m33 0h2m1 0h2m12 0h2m8 0h2m13 0h2m5 0h2m-61 1h2m-2 0h2m1 0h2m23 0h2m7 0h2m-45 1h2m27 0h2m3 0h2m-42 1h2m28 0h2m8 0h2m-57 1h2m4 0h2m8 0h2m26 0h2m-71 1h2m47 0h2m33 0h2m-35 1h2m0 0h2m-13 1h2m28 0h2m-23 1h2m-1 0h2m12 0h2m3 0h2m12 0h2m2 0h2m-66 1h2m44 0h2m-30 1h2m28 0h2m11 0h2m-90 1h2m45 0h2m9 0h2m-23 1h2m48 0h2m-39 1h2m8 0h2m11 0h2m41 0h2m-124 1h2m90 0h2m-64 1h2m29 0h2m18 0h2m3 1h2m-16 1h2m34 0h2m-51 1h2m30 0h2m-2 0h2m-47 1h2m33 0h2m14 0h2m22 0h2m-75 2h2m43 1h2m-29 1h2m-25 1h2m21 0h2m-1 0h2m28 1h2m-45 1h2m46 0h2m-16 1h2m-59 1h2m17 1h2m-40 1h2m34 0h2m7 1h2m27 0h2m10 0h2m-1 0h2m-82 1h2m23 0h2m18 0h2m8 1h2m-43 1h2m67 0h2m-28 2h2m-61 2h2m56 0h2m-18 1h2m-9 1h2m12 0h2m-12 2h2m-46 1h2m31 0h2m17 0h2m18 0h2m-15 1h2m-6 1h2m11 0h2m32 0h2m-31 2h2m-42 1h2m11 0h2m-17 4h2m53 2h2m-54 1h2m-6 2h2m61 2h2m-54 2h2m13 0h2"/><path d="M190 164h2m-9 3h2m-117 3h2m-3 3h2m6 0h2m85 1h2m8 0h2m14 0h2m-68 3h2m16 2h2m41 0h2m-32 2h2m52 1h2m-47 1h2m30 0h2m25 0h2m-86 1h2m30 0h2m-58 1h2m23 2h2m-56 2h2m17 0h2m45 1h2m-16 1h2m-32 1h2m131 0h2m-69 2h2m-59 1h2m76 1h2m-107 1h2m111 1h2m-10 1h2m-87 1h2m6 0h2m32 0h2m16 0h2m-17 1h2m16 2h2m10 1h2m-112 1h2m134 0h2m-78 1h2m-1 0h2m7 0h2m-12 3h2m-52 1h2m72 0h2m61 0h2m-95 1h2m48 0h2m-53 1h2m6 0h2m79 1h2m3 0h2m-128 1h2m67 0h2m-37 1h2m-26 1h2m-27 1h2m23 0h2m34 1h2m-38 1h2m2 0h2m59 0h2m-22 1h2m1 0h2m-62 1h2m72 1h2m-74 1h2m33 0h2m-17 1h2m10 0h2m3 0h2m39 0h2m-79 1h2m13 0h2m-20 1h2m54 0h2m25 0h2m-75 1h2m-2 1h2m31 0h2m-16 1h2m4 0h2m14 0h2m-67 1h2m-4 2h2m14 0h2m7 0h2m7 0h2m-24 1h2m11 0h2m55 0h2m-44 1h2m25 0h2m-74 1h2m46 0h2m9 0h2m8 0h2m-85 1h2m61 0h2m-64 1h2m37 0h2m0 0h2m14 0h2m2 0h2m-1 0h2m-46 1h2m38 0h2m2 0h2m-19 1h2m-1 0h2m11 0h2m1 0h2m-7 1h2m38 0h2m-113 1h2m42 0h2m3 0h2m44 0h2m0 0h2m-90 1h2m55 0h2m1 0h2m1 0h2m20 0h2m-39 1h2m-1 0h2m1 0h2m-16 1h2m-17 1h2m24 0h2m22 0h2m-35 1h2m8 0h2m20 0h2m-45 1h2m17 1h2m-9 1h2m-1 0h2m0 0h2m6 0h2m-1 0h2m1 0h2m3 0h2m-21 1h2m5 0h2m-23 1h2m4 0h2m7 0h2m10 0h2m16 0h2m-63 1h2m13 0h2m5 0h2m11 0h2m3 0h2m3 0h2m-35 1h2m22 0h2m8 0h2m4 0h2m5 0h2m-40 1h2m6 0h2m3 0h2m9 0h2m-60 1h2m37 0h2m8 0h2m1 0h2m-1 0h2m1 0h2m6 0h2m19 0h2m10 0h2m-127 1h2m22 0h2m39 0h2m10 0h2m0 0h2m-2 0h2m2 0h2m0 0h2m-1 0h2m14 0h2m-45 1h2m-1 0h2m13 0h2m-1 0h2m0 0h2m7 0h2m-27 1h2m2 0h2m2 0h2m6 0h2m0 0h2m-2 0h2m0 0h2m1 0h2m0 0h2m23 0h2m-54 1h2m1 0h2m1 0h2m-1 0h2m14 0h2m-2 0h2m4 0h2m7 0h2m-1 0h2m-60 1h2m24 0h2m0 0h2m-1 0h2m0 0h2m-1 0h2m1 0h2m1 0h2m-2 0h2m1 0h2m-2 0h2m-1 0h2m12 0h2m53 0h2m-95 1h2m2 0h2m2 0h2m-2 0h2m-1 0h2m0 0h2m5 0h2m-1 0h2m-2 0h2m-2 0h2m1 0h2m-1 0h2m-2 0h2m-2 0h2m-39 1h2m2 0h2m13 0h2m3 0h2m-1 0h2m-1 0h2m0 0h2m0 0h2m0 0h2m2 0h2m-1 0h2m7 0h2m-41 1h2m2 0h2m14 0h2m-2 0h2m4 0h2m-2 0h2m-1 0h2m-2 0h2m-2 0h2m-1 0h2m0 0h2m1 0h2m1 0h2m3 0h2m9 0h2m-34 1h2m-1 0h2m0 0h2m-2 0h2m1 0h2m-1 0h2m-1 0h2m8 0h2m0 0h2m51 0h2m-87 1h2m8 0h2m-1 0h2m-1 0h2m1 0h2m0 0h2m-2 0h2m-1 0h2m-1 0h2m0 0h2m-1 0h2m4 0h2m1 0h2m-92 1h2m43 0h2m0 0h2m19 0h2m-1 0h2m1 0h2m1 0h2m-1 0h2m-2 0h2m-1 0h2m-1 0h2m-2 0h2m-1 0h2m-1 0h2m-1 0h2m1 0h2m2 0h2m-91 1h2m44 0h2m18 0h2m4 0h2m1 0h2m-2 0h2m1 0h2m-1 0h2m-2 0h2m-1 0h2m-2 0h2m-2 0h2m-2 0h2m0 0h2m3 0h2m1 0h2m-1 0h2m-33 1h2m7 0h2m4 0h2m-2 0h2m2 0h2m-1 0h2m-2 0h2m0 0h2m-2 0h2m-1 0h2m0 0h2m6 0h2m-52 1h2m2 0h2m8 0h2m0 0h2m6 0h2m2 0h2m-2 0h2m-2 0h2m3 0h2m1 0h2m-2 0h2m-24 1h2m2 0h2m12 0h2m-2 0h2m-1 0h2m-1 0h2m18 0h2m-2 0h2m-46 1h2m6 0h2m-2 0h2m2 0h2m1 0h2m3 0h2m-1 0h2m1 0h2m-2 0h2m1 0h2m2 0h2m-1 0h2m2 0h2m-63 1h2m13 0h2m6 0h2m11 0h2m2 0h2m0 0h2m2 0h2m1 0h2m0 0h2m3 0h2m69 0h2m-102 1h2m9 0h2m5 0h2m2 0h2m3 0h2m-2 0h2m8 0h2m-37 1h2m18 0h2m8 0h2m-36 1h2m16 0h2m2 0h2m2 0h2m-1 0h2m0 0h2m2 0h2m-29 1h2m17 0h2m-70 1h2m32 0h2m20 0h2m-1 0h2m4 0h2m3 0h2m-2 0h2m5 0h2m4 0h2m1 0h2m-91 1h2m55 0h2m9 0h2m5 0h2m5 0h2m0 0h2m10 0h2m-73 1h2m22 0h2m6 0h2m2 0h2m7 0h2m1 0h2m-1 0h2m-29 2h2m5 0h2m6 0h2m27 0h2m0 0h2m-21 1h2m2 0h2m-2 0h2m3 0h2m-81 1h2m49 0h2m6 0h2m8 0h2m4 0h2m-1 0h2m15 0h2m-31 1h2m-1 0h2m11 0h2m-79 1h2m-1 0h2m57 0h2m1 0h2m2 0h2m17 0h2m-70 1h2m18 0h2m6 0h2m20 0h2m4 0h2m41 0h2m-107 1h2m43 0h2m10 0h2m-30 1h2m10 0h2m-2 0h2m1 0h2m12 0h2m-40 1h2m26 0h2m-1 0h2m-2 0h2m4 0h2m13 0h2m-38 1h2m3 0h2m2 0h2m1 0h2m-40 1h2m39 0h2m-1 0h2m-2 0h2m11 0h2m-53 1h2m13 0h2m4 0h2m2 0h2m20 0h2m5 0h2m1 0h2m-29 1h2m7 0h2m-33 1h2m22 0h2m1 0h2m53 0h2m-58 1h2m3 0h2m3 0h2m0 0h2m1 0h2m3 0h2m0 0h2m-11 1h2m4 0h2m17 0h2m0 1h2m-61 1h2m52 0h2m-59 1h2m-2 0h2m0 0h2m-1 0h2m8 0h2m8 0h2m4 0h2m11 0h2m19 0h2m-38 1h2m2 0h2m-14 1h2m0 1h2m3 0h2m-5 1h2m-34 1h2m13 1h2m17 0h2m13 0h2m11 0h2m-15 1h2m0 0h2m4 0h2m-93 1h2m6 0h2m76 0h2m-17 1h2m2 0h2m21 0h2m-50 2h2m5 0h2m19 1h2m-58 1h2m39 0h2m-31 1h2m28 2h2m15 0h2m-72 1h2m61 1h2m3 1h2m8 1h2m-63 1h2m13 0h2m18 0h2m14 0h2m-41 3h2m50 1h2m-94 2h2m36 1h2m8 1h2m29 1h2m-33 1h2m40 1h2m-42 1h2m0 0h2m7 2h2m-19 3h2m58 2h2m-85 4h2m4 6h2m27 3h2m-22 2h2"/><path d="M195 140h2m-3 3h2m-19 10h2m0 1h2m-23 4h2m44 0h2m-73 5h2m39 4h2m68 0h2m-108 6h2m-23 4h2m17 4h2m43 2h2m-80 1h2m10 3h2m53 0h2m23 1h2m-98 1h2m58 0h2m-49 1h2m26 1h2m-22 1h2m31 0h2m26 0h2m-43 1h2m3 2h2m4 0h2m48 0h2m-31 4h2m-23 1h2m22 0h2m27 1h2m-80 2h2m12 0h2m64 0h2m-65 2h2m25 0h2m-58 1h2m11 0h2m46 0h2m-62 2h2m4 0h2m-11 1h2m89 0h2m-97 1h2m8 1h2m52 0h2m50 0h2m-112 1h2m34 0h2m54 0h2m-70 1h2m15 0h2m28 0h2m-1 0h2m-153 1h2m32 0h2m10 0h2m0 0h2m5 0h2m1 0h2m58 1h2m34 0h2m-7 1h2m5 0h2m-145 2h2m41 1h2m72 0h2m-14 1h2m2 0h2m-59 3h2m7 0h2m76 1h2m-76 1h2m1 0h2m-25 1h2m-20 1h2m8 0h2m28 1h2m12 0h2m110 0h2m-133 1h2m3 0h2m47 0h2m-31 1h2m-39 1h2m-26 1h2m27 0h2m40 0h2m-53 1h2m3 0h2m22 1h2m27 0h2m25 1h2m-99 1h2m76 0h2m-62 1h2m-2 0h2m40 0h2m-54 1h2m5 0h2m10 0h2m2 0h2m8 0h2m5 0h2m-44 1h2m9 1h2m16 0h2m11 0h2m10 0h2m-66 1h2m0 0h2m17 0h2m38 0h2m-53 1h2m-10 1h2m16 0h2m19 0h2m17 0h2m-137 1h2m91 0h2m11 0h2m-21 1h2m3 0h2m70 0h2m-118 1h2m37 0h2m-1 0h2m-1 0h2m8 0h2m-1 0h2m7 0h2m10 0h2m23 0h2m-92 1h2m22 0h2m23 0h2m-2 0h2m19 0h2m20 0h2m-69 1h2m1 0h2m23 0h2m-10 1h2m10 0h2m4 0h2m9 0h2m-55 1h2m52 0h2m-47 1h2m36 0h2m-56 1h2m-1 0h2m33 0h2m-21 1h2m0 0h2m1 0h2m4 0h2m9 0h2m18 0h2m-34 1h2m-2 0h2m-1 0h2m1 0h2m2 0h2m30 0h2m18 0h2m-72 1h2m0 0h2m0 0h2m2 0h2m0 0h2m3 0h2m7 0h2m-2 0h2m20 0h2m-100 1h2m56 0h2m0 0h2m7 0h2m-1 0h2m4 0h2m21 0h2m18 0h2m-66 1h2m4 0h2m2 0h2m1 0h2m1 0h2m-2 0h2m3 0h2m5 0h2m4 0h2m-47 1h2m3 0h2m11 0h2m-2 0h2m-2 0h2m-2 0h2m-1 0h2m2 0h2m0 0h2m1 0h2m23 0h2m-73 1h2m13 0h2m15 0h2m12 0h2m-1 0h2m-1 0h2m33 0h2m-72 1h2m8 0h2m6 0h2m5 0h2m0 0h2m3 0h2m0 0h2m-62 1h2m25 0h2m4 0h2m2 0h2m2 0h2m-1 0h2m0 0h2m0 0h2m-2 0h2m-1 0h2m-1 0h2m-2 0h2m-1 0h2m0 0h2m-1 0h2m-2 0h2m-1 0h2m-1 0h2m-2 0h2m-2 0h2m0 0h2m2 0h2m2 0h2m14 0h2m6 0h2m-66 1h2m9 0h2m1 0h2m2 0h2m1 0h2m-1 0h2m-2 0h2m-1 0h2m-2 0h2m-1 0h2m0 0h2m1 0h2m0 0h2m29 0h2m-47 1h2m4 0h2m-2 0h2m1 0h2m-1 0h2m-2 0h2m-1 0h2m-1 0h2m-2 0h2m-2 0h2m-2 0h2m-1 0h2m-1 0h2m-2 0h2m-2 0h2m6 0h2m31 0h2m-76 1h2m2 0h2m0 0h2m0 0h2m12 0h2m0 0h2m-2 0h2m-1 0h2m-2 0h2m1 0h2m9 0h2m7 0h2m12 0h2m13 0h2m-99 1h2m24 0h2m10 0h2m-1 0h2m3 0h2m1 0h2m-2 0h2m-1 0h2m-1 0h2m0 0h2m-2 0h2m0 0h2m-2 0h2m0 0h2m-2 0h2m-2 0h2m0 0h2m0 0h2m15 0h2m-104 1h2m39 0h2m7 0h2m16 0h2m-1 0h2m-1 0h2m-2 0h2m0 0h2m4 0h2m1 0h2m-1 0h2m-22 1h2m-1 0h2m3 0h2m1 0h2m1 0h2m-2 0h2m-2 0h2m3 0h2m-2 0h2m1 0h2m2 0h2m43 0h2m-105 1h2m27 0h2m2 0h2m4 0h2m7 0h2m4 0h2m0 0h2m0 0h2m0 0h2m6 0h2m24 0h2m-147 1h2m39 0h2m41 0h2m-2 0h2m-1 0h2m6 0h2m1 0h2m0 0h2m-1 0h2m-2 0h2m0 0h2m-1 0h2m2 0h2m-56 1h2m31 0h2m-1 0h2m4 0h2m0 0h2m-1 0h2m4 0h2m-1 0h2m-1 0h2m-1 0h2m-37 1h2m6 0h2m1 0h2m3 0h2m-1 0h2m7 0h2m-1 0h2m-2 0h2m-2 0h2m0 0h2m-2 0h2m0 0h2m-1 0h2m-1 0h2m8 0h2m0 0h2m-44 1h2m16 0h2m5 0h2m0 0h2m2 0h2m4 0h2m-34 1h2m5 0h2m6 0h2m-1 0h2m5 0h2m0 0h2m2 0h2m4 0h2m-42 1h2m9 0h2m11 0h2m5 0h2m-45 1h2m10 0h2m8 0h2m12 0h2m0 0h2m-1 0h2m13 0h2m36 0h2m-81 1h2m19 0h2m6 0h2m0 0h2m-1 0h2m-1 0h2m-21 1h2m-2 0h2m12 0h2m-1 0h2m2 0h2m0 0h2m2 0h2m0 0h2m-104 1h2m48 0h2m25 0h2m1 0h2m2 0h2m0 0h2m4 0h2m-31 1h2m4 0h2m0 0h2m4 0h2m-22 1h2m0 0h2m8 0h2m-1 0h2m2 0h2m4 0h2m-1 0h2m4 0h2m-1 0h2m0 0h2m29 0h2m-73 1h2m3 0h2m12 0h2m-1 0h2m5 0h2m6 0h2m3 0h2m4 0h2m19 0h2m-64 1h2m4 0h2m14 0h2m1 0h2m0 0h2m9 0h2m1 0h2m9 0h2m-54 1h2m27 0h2m-2 0h2m4 0h2m-46 1h2m23 0h2m3 0h2m9 0h2m-1 0h2m3 0h2m-30 1h2m17 0h2m-9 1h2m27 0h2m-29 1h2m1 0h2m3 0h2m6 0h2m4 0h2m-107 1h2m56 0h2m6 0h2m9 0h2m0 0h2m5 0h2m-1 0h2m0 0h2m-1 0h2m-10 1h2m0 0h2m4 0h2m8 0h2m-6 1h2m0 0h2m-1 0h2m-58 1h2m7 0h2m47 0h2m1 0h2m4 1h2m-36 1h2m13 0h2m-45 1h2m26 0h2m-42 2h2m-7 1h2m101 0h2m-92 1h2m13 0h2m24 0h2m5 0h2m11 0h2m-36 1h2m12 0h2m-9 2h2m-24 1h2m26 0h2m-47 2h2m47 0h2m10 1h2m-9 1h2m-44 1h2m9 0h2m5 0h2m34 2h2m12 0h2m-11 1h2m-42 1h2m43 0h2m-89 1h2m6 0h2m33 0h2m10 0h2m30 0h2m-75 2h2m73 0h2m3 0h2m-57 2h2m26 0h2m-55 1h2m65 0h2m-42 1h2m9 3h2m-19 1h2m17 0h2m-42 1h2m-8 1h2m24 0h2m11 0h2m24 0h2m-53 1h2m77 1h2m-83 2h2m-36 2h2m44 0h2m12 1h2m-7 1h2m-16 2h2m36 0h2m-3 2h2m-55 3h2m45 1h2m-37 4h2m38 1h2"/></g>
<rect x="164.5" y="0" width="2.6" height="358" fill="#e41b3a" opacity="0.75"/>
<rect x="0" y="130.3" width="357" height="2.4" fill="#e41b3a"/>
<rect x="-12.6" y="-1.3" width="370.9" height="2.7" fill="#2e2eff"/>
<rect x="1" y="1.4" width="355" height="1.4" fill="#9a9aff"/>
<rect x="-1.3" y="-1.3" width="2.6" height="360.6" fill="#1a1aff"/>
<rect x="355.1" y="-1.3" width="2.2" height="360.6" fill="#8585ff"/>
<rect x="357.3" y="-1.3" width="2.2" height="360.6" fill="#5c5cff"/>
<rect x="-12" y="356.7" width="370.3" height="2.6" fill="#1a1aff"/>
<path d="M0 359v10M-12 358.3h11M17.3 359v10M-12 341.2h11M27.4 359v10M-12 331.2h11M34.5 359v10M-12 324h11M40.1 359v10M-12 318.5h11M44.6 359v10M-12 314h11M48.5 359v10M-12 310.2h11M51.8 359v10M-12 306.9h11M54.7 359v10M-12 304h11M57.4 359v10M-12 301.4h11M74.6 359v10M-12 284.3h11M84.7 359v10M-12 274.3h11M91.9 359v10M-12 267.1h11M97.4 359v10M-12 261.6h11M102 359v10M-12 257.1h11M105.8 359v10M-12 253.3h11M109.1 359v10M-12 250h11M112.1 359v10M-12 247.1h11M114.7 359v10M-12 244.5h11M132 359v10M-12 227.4h11M142.1 359v10M-12 217.4h11M149.2 359v10M-12 210.2h11M154.8 359v10M-12 204.7h11M159.3 359v10M-12 200.2h11M163.2 359v10M-12 196.4h11M166.5 359v10M-12 193.1h11M169.4 359v10M-12 190.2h11M172.1 359v10M-12 187.6h11M189.3 359v10M-12 170.5h11M199.4 359v10M-12 160.5h11M206.6 359v10M-12 153.3h11M212.1 359v10M-12 147.8h11M216.7 359v10M-12 143.3h11M220.5 359v10M-12 139.5h11M223.8 359v10M-12 136.2h11M226.8 359v10M-12 133.3h11M229.4 359v10M-12 130.7h11M246.7 359v10M-12 113.6h11M256.8 359v10M-12 103.6h11M263.9 359v10M-12 96.4h11M269.5 359v10M-12 90.9h11M274 359v10M-12 86.4h11M277.9 359v10M-12 82.6h11M281.2 359v10M-12 79.3h11M284.1 359v10M-12 76.4h11M286.8 359v10M-12 73.8h11M304 359v10M-12 56.7h11M314.1 359v10M-12 46.7h11M321.3 359v10M-12 39.5h11M326.8 359v10M-12 34h11M331.4 359v10M-12 29.5h11M335.2 359v10M-12 25.7h11M338.5 359v10M-12 22.4h11M341.5 359v10M-12 19.5h11M344.1 359v10M-12 16.9h11" stroke="#1a1aff" stroke-width="2" fill="none"/>
<text x="0" y="393" font-family="Liberation Sans, sans-serif" fill="#1a1aff"><tspan font-size="12.5" font-weight="bold" text-anchor="end">10</tspan></text>
<text x="0.5" y="389" font-family="Liberation Sans, sans-serif" font-size="21" fill="#1a1aff">1</text>
<text x="57.4" y="393" font-family="Liberation Sans, sans-serif" fill="#1a1aff"><tspan font-size="12.5" font-weight="bold" text-anchor="end">10</tspan></text>
<text x="57.9" y="389" font-family="Liberation Sans, sans-serif" font-size="21" fill="#1a1aff">2</text>
<text x="114.7" y="393" font-family="Liberation Sans, sans-serif" fill="#1a1aff"><tspan font-size="12.5" font-weight="bold" text-anchor="end">10</tspan></text>
<text x="115.2" y="389" font-family="Liberation Sans, sans-serif" font-size="21" fill="#1a1aff">3</text>
<text x="172.1" y="393" font-family="Liberation Sans, sans-serif" fill="#1a1aff"><tspan font-size="12.5" font-weight="bold" text-anchor="end">10</tspan></text>
<text x="172.6" y="389" font-family="Liberation Sans, sans-serif" font-size="21" fill="#1a1aff">4</text>
<text x="229.4" y="393" font-family="Liberation Sans, sans-serif" fill="#1a1aff"><tspan font-size="12.5" font-weight="bold" text-anchor="end">10</tspan></text>
<text x="229.9" y="389" font-family="Liberation Sans, sans-serif" font-size="21" fill="#1a1aff">5</text>
<text x="286.8" y="393" font-family="Liberation Sans, sans-serif" fill="#1a1aff"><tspan font-size="12.5" font-weight="bold" text-anchor="end">10</tspan></text>
<text x="287.2" y="389" font-family="Liberation Sans, sans-serif" font-size="21" fill="#1a1aff">6</text>
<text x="348.5" y="393" font-family="Liberation Sans, sans-serif" font-size="12.5" font-weight="bold" text-anchor="end" fill="#1a1aff">10</text>
<text x="348.5" y="389" font-family="Liberation Sans, sans-serif" font-size="21" fill="#1a1aff">7.2</text>
<g transform="translate(0,353.3) rotate(-90)"><text x="0" y="-21.4" font-family="Liberation Sans, sans-serif" font-size="12.5" font-weight="bold" text-anchor="end" fill="#1a1aff">10</text><text transform="translate(0.5,-27.4) scale(0.8,1)" font-family="Liberation Sans, sans-serif" font-size="21" fill="#1a1aff">1</text></g>
<g transform="translate(0,296.4) rotate(-90)"><text x="0" y="-21.4" font-family="Liberation Sans, sans-serif" font-size="12.5" font-weight="bold" text-anchor="end" fill="#1a1aff">10</text><text transform="translate(0.5,-27.4) scale(0.8,1)" font-family="Liberation Sans, sans-serif" font-size="21" fill="#1a1aff">2</text></g>
<g transform="translate(0,239.5) rotate(-90)"><text x="0" y="-21.4" font-family="Liberation Sans, sans-serif" font-size="12.5" font-weight="bold" text-anchor="end" fill="#1a1aff">10</text><text transform="translate(0.5,-27.4) scale(0.8,1)" font-family="Liberation Sans, sans-serif" font-size="21" fill="#1a1aff">3</text></g>
<g transform="translate(0,182.6) rotate(-90)"><text x="0" y="-21.4" font-family="Liberation Sans, sans-serif" font-size="12.5" font-weight="bold" text-anchor="end" fill="#1a1aff">10</text><text transform="translate(0.5,-27.4) scale(0.8,1)" font-family="Liberation Sans, sans-serif" font-size="21" fill="#1a1aff">4</text></g>
<g transform="translate(0,125.7) rotate(-90)"><text x="0" y="-21.4" font-family="Liberation Sans, sans-serif" font-size="12.5" font-weight="bold" text-anchor="end" fill="#1a1aff">10</text><text transform="translate(0.5,-27.4) scale(0.8,1)" font-family="Liberation Sans, sans-serif" font-size="21" fill="#1a1aff">5</text></g>
<g transform="translate(0,68.8) rotate(-90)"><text x="0" y="-21.4" font-family="Liberation Sans, sans-serif" font-size="12.5" font-weight="bold" text-anchor="end" fill="#1a1aff">10</text><text transform="translate(0.5,-27.4) scale(0.8,1)" font-family="Liberation Sans, sans-serif" font-size="21" fill="#1a1aff">6</text></g>
<g transform="translate(0,5.5) rotate(-90)"><text x="0" y="-21.4" font-family="Liberation Sans, sans-serif" font-size="12.5" font-weight="bold" text-anchor="end" fill="#1a1aff">10</text><text transform="translate(0.5,-27.4) scale(0.85,1)" font-family="Liberation Sans, sans-serif" font-size="21" fill="#1a1aff">7.2</text></g>
<text x="178.5" y="415.9" text-anchor="middle" font-family="Liberation Sans, sans-serif" font-size="19.5" textLength="59.5" lengthAdjust="spacingAndGlyphs">FL1-H</text>
<text x="0" y="0" transform="translate(-49.5,218.8) rotate(-90)" text-anchor="middle" font-family="Liberation Sans, sans-serif" font-size="19.5" textLength="59.5" lengthAdjust="spacingAndGlyphs">FL2-H</text>
<text x="1.6" y="25.2" font-family="Liberation Sans, sans-serif" font-size="28" fill="#e41b3a" textLength="76.8" lengthAdjust="spacingAndGlyphs">Q1-UL</text>
<text x="1.6" y="49.3" font-family="Liberation Sans, sans-serif" font-size="28" fill="#e41b3a" textLength="56.9" lengthAdjust="spacingAndGlyphs">0.0%</text>
<text x="276.6" y="25.2" font-family="Liberation Sans, sans-serif" font-size="28" fill="#e41b3a" textLength="79.9" lengthAdjust="spacingAndGlyphs">Q1-UR</text>
<text x="276.6" y="49.3" font-family="Liberation Sans, sans-serif" font-size="28" fill="#e41b3a" textLength="56.9" lengthAdjust="spacingAndGlyphs">0.0%</text>
<text x="1.6" y="334" font-family="Liberation Sans, sans-serif" font-size="28" fill="#e41b3a" textLength="72.5" lengthAdjust="spacingAndGlyphs">Q1-LL</text>
<text x="1.6" y="358.5" font-family="Liberation Sans, sans-serif" font-size="28" fill="#e41b3a" textLength="73.1" lengthAdjust="spacingAndGlyphs">82.7%</text>
<text x="280.6" y="334" font-family="Liberation Sans, sans-serif" font-size="28" fill="#e41b3a" textLength="75.5" lengthAdjust="spacingAndGlyphs">Q1-LR</text>
<text x="280.6" y="358.5" font-family="Liberation Sans, sans-serif" font-size="28" fill="#e41b3a" textLength="73.1" lengthAdjust="spacingAndGlyphs">17.3%</text>
</g>
<g transform="translate(1240.8,42.1)">
<g stroke="#000" stroke-width="2" stroke-opacity="0.27" fill="none" filter="url(#soft)"><path d="M160 159h2m52 4h2m-109 4h2m83 2h2m4 3h2m9 0h2m-39 7h2m-14 1h2m-9 3h2m-24 2h2m37 0h2m-49 2h2m24 1h2m7 0h2m8 0h2m-44 2h2m37 0h2m17 0h2m-40 2h2m52 0h2m-55 1h2m15 0h2m13 1h2m-37 1h2m22 0h2m-27 2h2m83 1h2m-79 1h2m29 0h2m6 1h2m-68 1h2m40 0h2m5 0h2m-28 2h2m-32 1h2m42 0h2m-1 1h2m23 0h2m-7 1h2m10 0h2m-97 1h2m16 0h2m7 0h2m58 0h2m-54 1h2m30 0h2m-1 0h2m-71 1h2m72 0h2m-41 1h2m31 1h2m-63 1h2m19 0h2m22 0h2m5 0h2m19 0h2m17 0h2m-69 2h2m43 0h2m-33 1h2m18 0h2m-70 1h2m13 0h2m17 0h2m20 0h2m15 0h2m-64 1h2m-1 0h2m28 0h2m6 0h2m46 0h2m-94 1h2m1 1h2m0 0h2m13 0h2m5 0h2m25 0h2m5 0h2m-1 0h2m-81 1h2m12 0h2m38 0h2m5 0h2m-58 1h2m40 0h2m1 0h2m9 0h2m-47 1h2m7 0h2m0 0h2m7 0h2m0 1h2m10 0h2m5 0h2m3 0h2m2 0h2m-62 1h2m37 0h2m41 0h2m-76 1h2m34 0h2m3 0h2m6 0h2m17 0h2m-65 1h2m8 0h2m19 0h2m22 0h2m7 0h2m16 0h2m-128 1h2m61 0h2m3 0h2m-15 1h2m44 0h2m-28 1h2m-2 0h2m10 0h2m-110 1h2m61 0h2m18 0h2m3 0h2m1 0h2m29 0h2m0 0h2m-51 1h2m40 0h2m0 0h2m23 0h2m-40 1h2m46 0h2m-106 1h2m45 0h2m-43 1h2m8 0h2m1 0h2m10 0h2m0 0h2m0 0h2m13 0h2m10 0h2m-58 1h2m3 0h2m41 0h2m43 0h2m-87 1h2m10 0h2m25 0h2m-1 0h2m38 0h2m-182 1h2m21 0h2m41 0h2m30 0h2m12 0h2m5 0h2m5 0h2m11 0h2m3 0h2m-47 1h2m4 0h2m10 0h2m15 0h2m3 0h2m8 0h2m-82 1h2m13 0h2m24 0h2m3 0h2m3 0h2m8 0h2m7 0h2m-74 1h2m32 0h2m8 0h2m1 0h2m3 0h2m14 0h2m-1 0h2m44 0h2m-85 1h2m0 0h2m-2 0h2m21 0h2m11 0h2m-74 1h2m35 0h2m11 0h2m0 0h2m2 0h2m3 0h2m5 0h2m-44 1h2m10 0h2m12 0h2m12 0h2m8 0h2m6 0h2m-71 1h2m17 0h2m-1 0h2m-1 0h2m-2 0h2m9 0h2m1 0h2m0 0h2m5 0h2m-58 1h2m8 0h2m27 0h2m9 0h2m9 0h2m1 0h2m-2 0h2m-62 1h2m19 0h2m4 0h2m2 0h2m4 0h2m-17 1h2m4 0h2m2 0h2m26 0h2m1 0h2m-77 1h2m10 0h2m9 0h2m7 0h2m11 0h2m11 0h2m2 0h2m-1 0h2m1 0h2m7 0h2m4 0h2m58 0h2m-107 1h2m5 0h2m2 0h2m5 0h2m6 0h2m-46 1h2m21 0h2m6 0h2m0 0h2m11 0h2m0 0h2m5 0h2m-18 1h2m8 0h2m45 0h2m-97 1h2m-1 0h2m25 0h2m6 0h2m25 0h2m-58 1h2m6 0h2m6 0h2m4 0h2m0 0h2m-1 0h2m-1 0h2m16 0h2m-54 1h2m34 0h2m-21 1h2m1 0h2m0 0h2m0 0h2m4 0h2m5 0h2m-1 0h2m5 0h2m-2 0h2m1 0h2m-74 1h2m44 0h2m0 0h2m18 0h2m-32 1h2m-1 0h2m1 0h2m4 0h2m12 0h2m49 0h2m-78 1h2m12 0h2m7 0h2m0 0h2m-1 0h2m15 0h2m4 0h2m-60 1h2m13 0h2m3 0h2m3 0h2m-2 0h2m1 0h2m-1 0h2m3 0h2m8 0h2m2 0h2m-43 1h2m3 0h2m-1 0h2m-1 0h2m0 0h2m2 0h2m3 0h2m3 0h2m1 0h2m4 0h2m-23 1h2m-2 0h2m0 0h2m-1 0h2m-2 0h2m0 0h2m-2 0h2m3 0h2m-1 0h2m11 0h2m8 0h2m5 0h2m-80 1h2m22 0h2m2 0h2m-1 0h2m0 0h2m-1 0h2m-1 0h2m-1 0h2m-1 0h2m3 0h2m-1 0h2m-2 0h2m2 0h2m-2 0h2m-2 0h2m-1 0h2m10 0h2m7 0h2m24 0h2m25 0h2m9 0h2m-100 1h2m0 0h2m-2 0h2m1 0h2m-1 0h2m11 0h2m14 0h2m-50 1h2m4 0h2m4 0h2m-1 0h2m-1 0h2m-2 0h2m2 0h2m-1 0h2m-2 0h2m0 0h2m2 0h2m35 0h2m-142 1h2m68 0h2m2 0h2m5 0h2m7 0h2m2 0h2m-1 0h2m-1 0h2m10 0h2m-1 0h2m0 0h2m9 0h2m-49 1h2m2 0h2m1 0h2m-2 0h2m2 0h2m1 0h2m-1 0h2m3 0h2m-1 0h2m0 0h2m-2 0h2m1 0h2m0 0h2m2 0h2m1 0h2m13 0h2m20 0h2m-77 1h2m-1 0h2m0 0h2m-1 0h2m-2 0h2m6 0h2m2 0h2m1 0h2m1 0h2m4 0h2m-2 0h2m0 0h2m0 0h2m4 0h2m5 0h2m6 0h2m10 0h2m-74 1h2m13 0h2m0 0h2m5 0h2m3 0h2m1 0h2m1 0h2m9 0h2m-43 1h2m-1 0h2m14 0h2m1 0h2m-1 0h2m-1 0h2m7 0h2m1 0h2m2 0h2m3 0h2m5 0h2m28 0h2m-58 1h2m3 0h2m0 0h2m9 0h2m0 0h2m0 0h2m3 0h2m4 0h2m-43 1h2m2 0h2m2 0h2m-2 0h2m-1 0h2m0 0h2m-1 0h2m0 0h2m14 0h2m-2 0h2m0 0h2m-2 0h2m13 0h2m-111 1h2m50 0h2m2 0h2m1 0h2m6 0h2m2 0h2m-1 0h2m0 0h2m-2 0h2m12 0h2m14 0h2m-62 1h2m25 0h2m-2 0h2m0 0h2m3 0h2m29 0h2m27 0h2m-73 1h2m4 0h2m0 0h2m-1 0h2m6 0h2m-82 1h2m11 0h2m25 0h2m18 0h2m2 0h2m-1 0h2m-1 0h2m-41 1h2m1 0h2m22 0h2m13 0h2m8 0h2m-45 1h2m13 0h2m10 0h2m-1 0h2m1 0h2m3 0h2m0 0h2m-20 1h2m8 0h2m2 0h2m0 0h2m0 0h2m13 0h2m-73 1h2m37 0h2m6 0h2m13 0h2m5 0h2m14 0h2m-20 1h2m6 0h2m-2 0h2m-62 1h2m42 0h2m2 0h2m-52 1h2m29 0h2m7 0h2m-16 1h2m6 0h2m9 0h2m-1 1h2m-9 1h2m0 0h2m4 0h2m51 0h2m-87 1h2m45 0h2m18 0h2m-72 1h2m4 0h2m7 0h2m-12 2h2m45 0h2m6 0h2m0 1h2m-27 1h2m17 0h2m-53 1h2m29 0h2m-13 1h2m-2 1h2m30 0h2m-53 1h2m9 0h2m52 0h2m-82 1h2m-1 0h2m50 0h2m-35 1h2m13 0h2m6 0h2m11 0h2m-43 1h2m12 0h2m31 0h2m-62 1h2m20 0h2m-9 1h2m30 0h2m-38 1h2m13 1h2m33 1h2m-56 1h2m34 0h2m-58 1h2m53 0h2m-44 3h2m1 0h2m12 0h2m13 0h2m-81 1h2m27 0h2m16 1h2m48 0h2m-33 1h2m2 0h2m21 0h2m-37 1h2m-18 1h2m14 0h2m6 0h2m-15 1h2m8 1h2m7 1h2m20 1h2m14 1h2m8 0h2m-86 1h2m20 1h2m-7 3h2m36 0h2m13 1h2m25 0h2m-42 1h2m18 0h2m-43 1h2m25 1h2m-73 1h2m12 1h2m28 0h2m-13 2h2m9 0h2m-8 1h2m15 0h2m-24 1h2m19 1h2m3 3h2m-33 1h2m-34 1h2m18 2h2m88 0h2m-62 3h2m-35 4h2m27 0h2"/><path d="M236 160h2m-66 2h2m20 8h2m-35 4h2m13 2h2m61 0h2m-75 1h2m-1 5h2m4 0h2m-26 1h2m-44 1h2m72 0h2m12 0h2m-67 5h2m29 0h2m-47 1h2m-39 1h2m48 6h2m46 0h2m-74 1h2m35 0h2m9 0h2m0 0h2m44 0h2m-113 1h2m52 0h2m11 1h2m16 1h2m5 0h2m1 0h2m-80 2h2m59 0h2m0 0h2m-40 1h2m27 0h2m63 0h2m-84 1h2m17 0h2m-28 1h2m7 0h2m9 0h2m-6 1h2m14 0h2m15 0h2m4 0h2m-68 1h2m22 0h2m13 0h2m-57 1h2m87 0h2m-87 1h2m-13 1h2m-5 1h2m20 0h2m15 0h2m34 0h2m-2 0h2m-93 1h2m35 0h2m3 1h2m1 0h2m30 0h2m-73 1h2m68 0h2m-34 1h2m57 0h2m-61 1h2m39 0h2m-54 1h2m42 0h2m19 0h2m-170 1h2m96 0h2m8 0h2m1 1h2m-1 0h2m29 0h2m23 0h2m13 0h2m-75 1h2m7 0h2m-11 1h2m16 0h2m35 0h2m-105 1h2m3 0h2m10 0h2m33 0h2m50 0h2m-3 1h2m-88 1h2m23 0h2m-1 0h2m1 0h2m8 0h2m-48 1h2m8 0h2m2 0h2m7 0h2m12 0h2m19 0h2m21 0h2m-54 1h2m19 0h2m6 0h2m5 0h2m9 0h2m8 0h2m-79 1h2m28 0h2m8 0h2m-29 1h2m4 0h2m-56 1h2m42 0h2m27 0h2m8 0h2m-124 1h2m74 0h2m2 0h2m25 0h2m14 0h2m17 0h2m-74 1h2m9 0h2m89 0h2m-93 1h2m13 0h2m20 0h2m-1 0h2m0 0h2m17 0h2m-41 1h2m0 0h2m3 0h2m1 0h2m5 0h2m-56 1h2m5 0h2m19 0h2m13 0h2m2 0h2m0 0h2m8 0h2m0 0h2m29 0h2m-77 1h2m3 0h2m16 0h2m56 0h2m-112 1h2m24 0h2m14 0h2m8 0h2m-1 0h2m76 0h2m-102 1h2m6 0h2m41 0h2m-62 1h2m7 0h2m6 0h2m4 1h2m2 0h2m91 0h2m-128 1h2m20 0h2m4 0h2m-2 0h2m-2 0h2m9 0h2m-50 1h2m5 0h2m5 0h2m0 0h2m10 0h2m4 0h2m6 0h2m-52 1h2m10 0h2m24 0h2m-1 0h2m1 0h2m3 0h2m-1 0h2m1 0h2m0 0h2m1 0h2m-1 0h2m13 0h2m21 0h2m-58 1h2m3 0h2m-1 0h2m-1 0h2m-1 0h2m-1 0h2m5 0h2m13 0h2m14 0h2m0 0h2m-55 1h2m-1 0h2m0 0h2m15 0h2m-52 1h2m10 0h2m16 0h2m-1 0h2m20 0h2m9 0h2m42 0h2m-113 1h2m33 0h2m2 0h2m2 0h2m28 0h2m-56 1h2m22 0h2m-1 0h2m18 0h2m-1 0h2m39 0h2m-171 1h2m68 0h2m12 0h2m13 0h2m6 0h2m2 0h2m32 0h2m-64 1h2m4 0h2m8 0h2m-2 0h2m20 0h2m-2 0h2m21 0h2m35 0h2m-125 1h2m24 0h2m6 0h2m15 0h2m8 0h2m9 0h2m-56 1h2m2 0h2m4 0h2m13 0h2m18 0h2m-37 1h2m9 0h2m-2 0h2m1 0h2m1 0h2m1 0h2m10 0h2m4 0h2m-49 1h2m9 0h2m2 0h2m-1 0h2m5 0h2m8 0h2m20 0h2m-63 1h2m5 0h2m6 0h2m5 0h2m2 0h2m6 0h2m6 0h2m7 0h2m1 0h2m0 0h2m12 0h2m-74 1h2m14 0h2m0 0h2m5 0h2m4 0h2m10 0h2m1 0h2m-1 0h2m2 0h2m31 0h2m17 0h2m-89 1h2m1 0h2m4 0h2m10 0h2m4 0h2m-1 0h2m8 0h2m-35 1h2m6 0h2m10 0h2m-1 0h2m-1 0h2m-1 0h2m-2 0h2m-1 0h2m-38 1h2m3 0h2m-2 0h2m2 0h2m1 0h2m-1 0h2m-1 0h2m2 0h2m-1 0h2m-2 0h2m3 0h2m7 0h2m8 0h2m6 0h2m6 0h2m-67 1h2m2 0h2m2 0h2m-1 0h2m-1 0h2m4 0h2m4 0h2m-2 0h2m3 0h2m-1 0h2m8 0h2m-1 0h2m-2 0h2m0 0h2m1 0h2m-1 0h2m-46 1h2m10 0h2m2 0h2m-1 0h2m3 0h2m-1 0h2m3 0h2m-1 0h2m1 0h2m2 0h2m3 0h2m0 0h2m4 0h2m3 0h2m-40 1h2m1 0h2m-1 0h2m-1 0h2m19 0h2m3 0h2m-46 1h2m7 0h2m0 0h2m0 0h2m-1 0h2m1 0h2m-1 0h2m2 0h2m-1 0h2m-1 0h2m8 0h2m11 0h2m-2 0h2m-1 0h2m-47 1h2m-1 0h2m-1 0h2m4 0h2m2 0h2m-1 0h2m2 0h2m-2 0h2m-1 0h2m0 0h2m2 0h2m9 0h2m-80 1h2m21 0h2m7 0h2m5 0h2m11 0h2m1 0h2m-2 0h2m-1 0h2m3 0h2m25 0h2m-77 1h2m31 0h2m1 0h2m8 0h2m10 0h2m1 0h2m6 0h2m0 0h2m0 0h2m6 0h2m-65 1h2m11 0h2m-1 0h2m1 0h2m2 0h2m2 0h2m2 0h2m-1 0h2m-2 0h2m-2 0h2m3 0h2m1 0h2m16 0h2m-40 1h2m0 0h2m0 0h2m-2 0h2m-2 0h2m-1 0h2m2 0h2m0 0h2m12 0h2m19 0h2m6 0h2m-77 1h2m17 0h2m-1 0h2m-1 0h2m2 0h2m-2 0h2m-1 0h2m3 0h2m2 0h2m-1 0h2m-30 1h2m13 0h2m-1 0h2m-1 0h2m3 0h2m-1 0h2m-2 0h2m-1 0h2m11 0h2m17 0h2m-51 1h2m7 0h2m-2 0h2m0 0h2m-1 0h2m1 0h2m1 0h2m3 0h2m24 0h2m-73 1h2m12 0h2m8 0h2m1 0h2m4 0h2m-2 0h2m-1 0h2m1 0h2m-2 0h2m22 0h2m-71 1h2m9 0h2m29 0h2m0 0h2m-1 0h2m3 0h2m8 0h2m9 0h2m5 0h2m-78 1h2m1 0h2m29 0h2m7 0h2m21 0h2m15 0h2m-69 1h2m16 0h2m4 0h2m-2 0h2m11 0h2m-21 1h2m0 0h2m11 0h2m3 0h2m-2 0h2m15 0h2m-47 1h2m1 0h2m9 0h2m9 0h2m-2 0h2m11 0h2m-25 1h2m-6 1h2m9 0h2m-26 1h2m29 0h2m4 0h2m-40 1h2m19 0h2m-13 1h2m18 0h2m13 0h2m24 0h2m-90 1h2m22 1h2m12 0h2m14 0h2m-2 0h2m30 0h2m-73 1h2m11 0h2m-26 1h2m25 0h2m-1 0h2m14 0h2m15 0h2m-47 1h2m7 0h2m4 0h2m16 0h2m-22 1h2m-44 1h2m64 0h2m-62 1h2m48 0h2m-22 1h2m2 0h2m-6 1h2m5 0h2m-62 1h2m37 0h2m9 0h2m2 0h2m47 0h2m-58 1h2m1 0h2m2 0h2m4 0h2m-15 1h2m-1 0h2m-19 1h2m10 0h2m7 0h2m33 0h2m-79 1h2m28 0h2m4 0h2m23 1h2m24 0h2m-69 1h2m57 1h2m-78 1h2m18 0h2m18 0h2m2 0h2m25 3h2m-46 2h2m41 0h2m-40 2h2m-63 1h2m32 0h2m73 0h2m-69 1h2m-30 1h2m25 0h2m65 0h2m-78 1h2m29 0h2m3 1h2m4 0h2m9 2h2m37 0h2m-74 1h2m53 0h2m-58 1h2m27 0h2m-40 3h2m8 0h2m6 0h2m12 0h2m47 0h2m-101 1h2m-5 1h2m18 3h2m0 0h2m-28 1h2m80 0h2m-68 1h2m23 1h2m-40 2h2m1 0h2m85 1h2m-77 1h2m90 1h2m-60 2h2m8 0h2m23 0h2m14 0h2m-62 2h2m-7 3h2m5 0h2m10 0h2m-79 1h2m-17 1h2m66 2h2m-14 2h2m22 1h2m14 0h2m21 0h2m-18 4h2"/><path d="M118 183h2m20 3h2m14 0h2m20 1h2m3 1h2m-26 1h2m-86 1h2m125 0h2m-90 1h2m32 0h2m21 0h2m22 0h2m-42 1h2m-52 2h2m7 0h2m33 0h2m60 4h2m-29 1h2m-48 1h2m31 0h2m-48 3h2m6 0h2m41 0h2m12 0h2m-74 1h2m11 0h2m24 0h2m4 0h2m-114 1h2m76 0h2m13 0h2m14 2h2m2 0h2m-54 1h2m84 0h2m-96 1h2m25 0h2m11 0h2m7 0h2m-14 1h2m-43 1h2m3 0h2m89 0h2m-67 1h2m0 1h2m-9 1h2m3 0h2m12 0h2m-43 1h2m8 0h2m9 0h2m-35 1h2m30 0h2m-1 0h2m35 0h2m17 0h2m-2 0h2m14 0h2m-106 2h2m32 0h2m1 0h2m49 0h2m-100 1h2m7 1h2m29 0h2m-1 0h2m28 0h2m3 0h2m-1 0h2m2 0h2m14 1h2m-99 1h2m1 0h2m16 0h2m1 0h2m22 0h2m0 0h2m15 0h2m12 0h2m-58 1h2m12 0h2m16 0h2m23 0h2m14 0h2m-85 1h2m13 0h2m18 0h2m-1 0h2m20 0h2m3 0h2m-44 1h2m5 1h2m49 0h2m6 0h2m-82 1h2m27 0h2m6 0h2m-29 1h2m31 0h2m1 0h2m-35 1h2m4 0h2m-9 1h2m-1 0h2m2 0h2m48 0h2m-91 1h2m9 0h2m10 0h2m3 0h2m3 0h2m1 0h2m6 0h2m9 0h2m7 0h2m3 0h2m37 0h2m-132 1h2m9 0h2m45 0h2m-2 0h2m6 0h2m1 0h2m3 0h2m14 0h2m46 0h2m-127 1h2m45 0h2m18 0h2m-30 1h2m3 0h2m55 0h2m-78 1h2m0 0h2m18 0h2m2 0h2m-1 0h2m5 0h2m5 0h2m2 0h2m24 0h2m-150 1h2m75 0h2m4 0h2m27 0h2m4 0h2m-57 1h2m11 0h2m6 0h2m2 0h2m7 0h2m28 0h2m0 0h2m-39 1h2m9 0h2m0 0h2m-1 0h2m-1 0h2m8 0h2m2 0h2m-100 1h2m22 0h2m33 0h2m-2 0h2m19 0h2m1 0h2m6 0h2m-56 1h2m38 0h2m-2 0h2m6 0h2m9 0h2m-83 1h2m9 0h2m10 0h2m17 0h2m-1 0h2m5 0h2m21 0h2m11 0h2m-57 1h2m91 0h2m-102 1h2m1 0h2m13 0h2m0 0h2m10 0h2m21 0h2m-58 1h2m0 0h2m2 0h2m18 0h2m4 0h2m3 0h2m4 0h2m-2 0h2m16 0h2m5 0h2m-74 1h2m0 0h2m19 0h2m6 0h2m-1 0h2m35 0h2m-49 1h2m21 0h2m-2 0h2m-27 1h2m11 0h2m-1 0h2m0 0h2m-2 0h2m8 0h2m35 0h2m-80 1h2m11 0h2m30 0h2m-36 1h2m1 0h2m16 0h2m7 0h2m-2 0h2m-60 1h2m4 0h2m18 0h2m2 0h2m4 0h2m4 0h2m0 0h2m25 0h2m14 0h2m-69 1h2m7 0h2m8 0h2m1 0h2m5 0h2m9 0h2m3 0h2m12 0h2m-87 1h2m23 0h2m32 0h2m40 0h2m-92 1h2m27 0h2m-1 0h2m2 0h2m-1 0h2m1 0h2m0 0h2m4 0h2m6 0h2m18 0h2m11 0h2m-65 1h2m-2 0h2m5 0h2m-1 0h2m10 0h2m8 0h2m-76 1h2m6 0h2m29 0h2m15 0h2m2 0h2m4 0h2m2 0h2m0 0h2m14 0h2m43 0h2m-125 1h2m25 0h2m11 0h2m-1 0h2m2 0h2m16 0h2m0 0h2m1 0h2m-26 1h2m0 0h2m-1 0h2m4 0h2m-1 0h2m14 0h2m9 0h2m-42 1h2m1 0h2m2 0h2m-2 0h2m-2 0h2m8 0h2m-2 0h2m12 0h2m14 0h2m5 0h2m-89 1h2m16 0h2m1 0h2m11 0h2m-1 0h2m-1 0h2m7 0h2m14 0h2m3 0h2m11 0h2m-95 1h2m46 0h2m0 0h2m-2 0h2m4 0h2m1 0h2m16 0h2m0 0h2m-103 1h2m54 0h2m6 0h2m3 0h2m2 0h2m6 0h2m-2 0h2m9 0h2m7 0h2m16 0h2m-65 1h2m2 0h2m1 0h2m-2 0h2m1 0h2m5 0h2m7 0h2m-1 0h2m-1 0h2m2 0h2m0 0h2m-2 0h2m6 0h2m4 0h2m-52 1h2m1 0h2m1 0h2m1 0h2m-1 0h2m-2 0h2m-1 0h2m1 0h2m-2 0h2m0 0h2m3 0h2m8 0h2m14 0h2m-37 1h2m-2 0h2m0 0h2m1 0h2m2 0h2m18 0h2m-37 1h2m6 0h2m-2 0h2m-2 0h2m-1 0h2m-2 0h2m-2 0h2m13 0h2m5 0h2m3 0h2m4 0h2m3 0h2m-126 1h2m63 0h2m0 0h2m8 0h2m1 0h2m2 0h2m0 0h2m1 0h2m6 0h2m18 0h2m3 0h2m-1 0h2m1 0h2m5 0h2m20 0h2m0 0h2m-165 1h2m76 0h2m6 0h2m0 0h2m0 0h2m0 0h2m-2 0h2m-2 0h2m-1 0h2m2 0h2m-2 0h2m-2 0h2m2 0h2m3 0h2m5 0h2m1 0h2m-106 1h2m52 0h2m2 0h2m5 0h2m10 0h2m3 0h2m-1 0h2m-2 0h2m5 0h2m7 0h2m0 0h2m4 0h2m-37 1h2m-1 0h2m-1 0h2m-2 0h2m0 0h2m3 0h2m2 0h2m-1 0h2m6 0h2m1 0h2m-22 1h2m11 0h2m-24 1h2m4 0h2m4 0h2m-1 0h2m2 0h2m2 0h2m0 0h2m7 0h2m-1 0h2m1 0h2m1 0h2m-47 1h2m12 0h2m3 0h2m-2 0h2m41 0h2m-72 1h2m8 0h2m13 0h2m-1 0h2m3 0h2m1 0h2m38 0h2m-94 1h2m43 0h2m8 0h2m-1 0h2m29 0h2m-58 1h2m1 0h2m4 0h2m11 0h2m10 0h2m5 0h2m-36 1h2m4 0h2m3 0h2m0 0h2m6 0h2m-1 0h2m4 0h2m2 0h2m-76 1h2m18 0h2m-1 0h2m3 0h2m24 0h2m-1 0h2m45 0h2m-148 1h2m60 0h2m26 0h2m10 0h2m12 0h2m4 0h2m-34 1h2m3 0h2m1 0h2m5 0h2m-1 0h2m24 0h2m-88 1h2m37 0h2m0 0h2m4 0h2m13 0h2m-45 1h2m13 0h2m18 1h2m10 0h2m-59 1h2m3 0h2m5 0h2m16 0h2m23 0h2m0 0h2m-34 1h2m13 0h2m-16 1h2m55 0h2m-74 1h2m34 0h2m-1 0h2m-63 1h2m57 0h2m4 0h2m34 0h2m-66 1h2m-26 1h2m15 0h2m17 0h2m-2 0h2m4 0h2m29 0h2m-20 1h2m18 0h2m36 0h2m-66 1h2m1 0h2m-96 1h2m70 0h2m16 0h2m-14 1h2m27 0h2m8 0h2m-34 1h2m7 0h2m16 0h2m-2 1h2m-24 1h2m3 1h2m28 0h2m-68 2h2m25 0h2m-30 1h2m0 0h2m9 0h2m0 0h2m-1 0h2m-12 1h2m20 0h2m12 0h2m-66 1h2m30 1h2m-28 1h2m53 0h2m7 0h2m-16 1h2m7 0h2m-53 1h2m16 0h2m10 0h2m7 0h2m0 1h2m11 0h2m-83 1h2m29 0h2m6 0h2m13 0h2m19 0h2m6 0h2m-61 1h2m2 0h2m-35 2h2m130 0h2m-82 1h2m4 0h2m2 1h2m-36 1h2m-1 0h2m36 0h2m-28 1h2m28 0h2m-18 2h2m3 0h2m4 0h2m-24 1h2m-28 1h2m27 0h2m2 0h2m15 1h2m10 0h2m-36 2h2m-17 1h2m-16 2h2m27 0h2m-2 1h2m7 0h2m-5 1h2m0 0h2m13 0h2m0 2h2m-4 1h2m2 1h2m-72 2h2m74 1h2m-86 2h2m20 0h2m48 1h2m-29 2h2m1 0h2m-32 2h2m40 0h2m-1 0h2m-34 1h2m34 3h2m18 0h2m-34 3h2"/><path d="M112 152h2m119 8h2m-49 10h2m-7 3h2m-38 3h2m0 2h2m14 3h2m16 5h2m-55 1h2m26 1h2m-41 1h2m61 1h2m-35 2h2m-85 1h2m87 0h2m-30 3h2m44 1h2m-58 1h2m14 0h2m44 0h2m7 0h2m-34 1h2m3 0h2m-19 1h2m-16 1h2m20 0h2m48 0h2m-94 1h2m22 1h2m3 0h2m22 0h2m-71 1h2m73 0h2m5 0h2m-99 1h2m31 0h2m19 1h2m-1 0h2m3 0h2m21 0h2m-35 1h2m5 0h2m55 0h2m-52 1h2m27 0h2m31 0h2m-89 1h2m20 0h2m0 0h2m68 0h2m-172 1h2m78 0h2m62 0h2m-1 0h2m-68 1h2m-87 1h2m63 0h2m56 0h2m10 0h2m-51 1h2m49 0h2m-21 2h2m-1 0h2m5 0h2m-59 1h2m47 0h2m31 0h2m-30 1h2m-32 1h2m32 0h2m9 0h2m-57 1h2m8 0h2m47 0h2m-56 1h2m-2 0h2m-1 0h2m0 0h2m36 0h2m-53 2h2m7 0h2m-22 1h2m21 0h2m11 0h2m14 0h2m-38 1h2m15 0h2m5 0h2m8 0h2m12 0h2m8 0h2m-78 1h2m14 0h2m-1 0h2m5 0h2m-2 0h2m27 0h2m11 0h2m6 0h2m-97 1h2m45 0h2m10 0h2m30 0h2m-70 1h2m0 0h2m8 0h2m11 0h2m3 0h2m1 0h2m13 0h2m-5 1h2m13 0h2m42 0h2m-123 1h2m29 0h2m-1 0h2m6 0h2m7 0h2m12 0h2m-13 1h2m-36 1h2m22 0h2m5 0h2m28 0h2m-46 1h2m1 0h2m6 0h2m38 0h2m-108 1h2m8 0h2m9 0h2m13 0h2m16 0h2m31 0h2m-59 1h2m37 0h2m-39 1h2m9 0h2m3 0h2m4 0h2m16 0h2m3 0h2m1 0h2m-2 0h2m1 0h2m8 0h2m7 0h2m-56 1h2m-1 0h2m4 0h2m-2 0h2m5 0h2m4 0h2m21 0h2m-134 1h2m87 0h2m6 0h2m15 0h2m19 0h2m-53 1h2m15 0h2m-76 1h2m73 0h2m16 0h2m2 0h2m-1 0h2m-40 1h2m4 0h2m-1 0h2m2 0h2m-1 0h2m3 0h2m3 0h2m-1 0h2m22 0h2m-139 1h2m87 0h2m13 0h2m12 0h2m-48 1h2m0 0h2m-1 0h2m-2 0h2m1 0h2m19 0h2m2 0h2m27 0h2m24 0h2m-130 1h2m44 0h2m0 0h2m0 0h2m26 0h2m-2 0h2m-33 1h2m15 0h2m21 0h2m-47 1h2m-2 0h2m13 0h2m-1 0h2m4 0h2m5 0h2m7 0h2m-57 1h2m-2 0h2m17 0h2m3 0h2m6 0h2m9 0h2m0 0h2m4 0h2m15 0h2m-2 0h2m3 0h2m11 0h2m17 0h2m3 0h2m-79 1h2m0 0h2m-1 0h2m15 0h2m1 0h2m2 0h2m3 0h2m-49 1h2m13 0h2m2 0h2m2 0h2m65 0h2m-93 1h2m31 0h2m-1 0h2m6 0h2m2 0h2m-58 1h2m14 0h2m4 0h2m4 0h2m9 0h2m15 0h2m-49 1h2m5 0h2m1 0h2m12 0h2m1 0h2m11 0h2m6 0h2m-43 1h2m4 0h2m-1 0h2m26 0h2m-53 1h2m3 0h2m7 0h2m1 0h2m3 0h2m0 0h2m-1 0h2m2 0h2m4 0h2m12 0h2m0 0h2m-42 1h2m2 0h2m0 0h2m16 0h2m5 0h2m7 0h2m7 0h2m-43 1h2m1 0h2m0 0h2m3 0h2m0 0h2m1 0h2m2 0h2m3 0h2m11 0h2m-50 1h2m-1 0h2m5 0h2m5 0h2m-1 0h2m8 0h2m3 0h2m5 0h2m19 0h2m3 0h2m-80 1h2m4 0h2m11 0h2m9 0h2m-1 0h2m-1 0h2m6 0h2m4 0h2m18 0h2m-62 1h2m-1 0h2m15 0h2m0 0h2m1 0h2m0 0h2m-2 0h2m1 0h2m4 0h2m26 0h2m2 0h2m6 0h2m-100 1h2m3 0h2m17 0h2m9 0h2m8 0h2m1 0h2m16 0h2m1 0h2m-57 1h2m1 0h2m3 0h2m15 0h2m0 0h2m-1 0h2m1 0h2m1 0h2m5 0h2m9 0h2m8 0h2m14 0h2m-75 1h2m5 0h2m7 0h2m0 0h2m7 0h2m3 0h2m12 0h2m23 0h2m-68 1h2m6 0h2m7 0h2m2 0h2m1 0h2m3 0h2m1 0h2m1 0h2m17 0h2m18 0h2m-92 1h2m9 0h2m-1 0h2m5 0h2m12 0h2m-2 0h2m0 0h2m-1 0h2m-2 0h2m-2 0h2m4 0h2m4 0h2m0 0h2m-2 0h2m2 0h2m14 0h2m-91 1h2m37 0h2m0 0h2m-1 0h2m5 0h2m2 0h2m-1 0h2m0 0h2m1 0h2m0 0h2m0 0h2m17 0h2m-49 1h2m12 0h2m-1 0h2m3 0h2m5 0h2m6 0h2m0 0h2m-27 1h2m1 0h2m9 0h2m6 0h2m11 0h2m-74 1h2m30 0h2m3 0h2m10 0h2m5 0h2m6 0h2m2 0h2m-43 1h2m0 0h2m1 0h2m5 0h2m4 0h2m0 0h2m0 0h2m-1 0h2m0 0h2m3 0h2m8 0h2m-40 1h2m5 0h2m0 0h2m-1 0h2m0 0h2m1 0h2m-1 0h2m0 0h2m4 0h2m2 0h2m0 0h2m2 0h2m-35 1h2m8 0h2m0 0h2m-1 0h2m1 0h2m2 0h2m3 0h2m4 0h2m6 0h2m-81 1h2m31 0h2m12 0h2m5 0h2m-1 0h2m-2 0h2m-2 0h2m-2 0h2m-1 0h2m2 0h2m1 0h2m0 0h2m0 0h2m-1 0h2m17 0h2m-39 1h2m0 0h2m2 0h2m3 0h2m2 0h2m-2 0h2m18 0h2m-41 1h2m0 0h2m-1 0h2m6 0h2m0 0h2m0 0h2m0 0h2m6 0h2m5 0h2m-1 0h2m14 0h2m-53 1h2m-1 0h2m-2 0h2m4 0h2m1 0h2m-1 0h2m1 0h2m3 0h2m9 0h2m10 0h2m-51 1h2m4 0h2m7 0h2m1 0h2m-2 0h2m0 0h2m13 0h2m-1 0h2m1 0h2m4 0h2m-31 1h2m3 0h2m-2 0h2m-26 1h2m25 0h2m16 0h2m-66 1h2m23 0h2m19 0h2m0 0h2m15 0h2m-61 1h2m17 0h2m0 0h2m4 0h2m16 0h2m-79 1h2m60 0h2m22 0h2m-20 1h2m19 0h2m-27 1h2m2 0h2m4 0h2m1 0h2m5 1h2m-2 0h2m13 0h2m-77 1h2m49 0h2m-32 1h2m8 0h2m2 0h2m22 0h2m-54 1h2m17 0h2m30 0h2m14 0h2m-65 1h2m21 0h2m3 0h2m3 0h2m26 0h2m-31 1h2m2 0h2m-2 0h2m32 0h2m-19 1h2m-44 1h2m10 0h2m48 0h2m2 0h2m-18 1h2m-97 1h2m27 0h2m23 0h2m54 0h2m-58 1h2m-2 0h2m2 0h2m23 0h2m5 0h2m-78 1h2m4 0h2m10 0h2m44 0h2m-17 1h2m14 0h2m8 0h2m0 0h2m-69 1h2m34 0h2m14 0h2m23 0h2m-16 1h2m-52 1h2m11 1h2m4 0h2m6 0h2m-3 1h2m-14 1h2m6 0h2m73 0h2m-114 1h2m6 0h2m10 0h2m-1 1h2m21 0h2m5 0h2m34 1h2m-75 1h2m13 0h2m10 0h2m2 1h2m0 1h2m-50 2h2m27 0h2m10 0h2m49 0h2m-94 1h2m128 0h2m-76 1h2m-14 1h2m-32 1h2m19 0h2m-14 2h2m9 1h2m-29 1h2m-6 1h2m21 0h2m54 0h2m-39 1h2m-48 1h2m45 0h2m11 0h2m-55 1h2m6 0h2m-5 1h2m54 0h2m-13 1h2m5 0h2m-10 4h2m-35 3h2m-1 3h2m2 1h2m-5 3h2m17 0h2m17 0h2m-3 2h2m-8 8h2m-25 4h2m23 0h2"/><path d="M159 157h2m-24 14h2m32 7h2m-1 0h2m42 0h2m-46 2h2m-1 0h2m-13 3h2m-64 2h2m67 1h2m1 0h2m-43 1h2m25 1h2m35 0h2m-56 3h2m17 0h2m1 0h2m14 2h2m-3 1h2m-9 2h2m4 1h2m-96 1h2m40 0h2m35 0h2m2 0h2m15 0h2m-24 1h2m-28 1h2m29 0h2m-39 1h2m17 0h2m15 0h2m1 0h2m-12 1h2m5 0h2m-84 1h2m59 1h2m67 0h2m-80 1h2m37 0h2m-57 1h2m1 0h2m35 2h2m10 0h2m-64 1h2m27 0h2m12 0h2m9 0h2m16 0h2m-140 1h2m59 0h2m17 0h2m39 1h2m-42 1h2m16 0h2m1 0h2m23 0h2m-31 1h2m3 0h2m-42 2h2m80 0h2m-104 1h2m20 1h2m-2 1h2m33 0h2m3 0h2m7 2h2m13 0h2m-64 1h2m11 0h2m13 0h2m10 0h2m-26 1h2m44 0h2m-85 1h2m34 0h2m15 0h2m1 0h2m12 0h2m0 0h2m13 0h2m-87 1h2m38 0h2m21 0h2m23 0h2m-56 1h2m65 0h2m-102 1h2m30 0h2m-2 0h2m16 0h2m12 0h2m42 0h2m-103 1h2m15 0h2m22 0h2m-52 1h2m0 0h2m5 0h2m14 0h2m19 0h2m16 0h2m10 0h2m23 0h2m-123 1h2m51 0h2m0 0h2m20 0h2m1 0h2m-54 1h2m7 0h2m3 0h2m3 0h2m9 0h2m1 0h2m31 0h2m-1 0h2m-1 0h2m-77 1h2m31 0h2m21 0h2m25 0h2m-141 1h2m67 0h2m7 0h2m-1 0h2m6 0h2m1 0h2m19 0h2m-2 0h2m7 0h2m-59 1h2m21 0h2m6 0h2m7 0h2m27 0h2m-97 1h2m29 0h2m20 0h2m1 0h2m18 0h2m20 0h2m-57 1h2m3 0h2m-1 0h2m-30 1h2m24 0h2m7 0h2m47 0h2m-61 1h2m11 0h2m7 0h2m-57 1h2m23 0h2m5 0h2m5 0h2m-44 1h2m31 0h2m4 0h2m4 0h2m16 0h2m-39 1h2m65 0h2m-89 1h2m24 0h2m0 0h2m-1 0h2m8 0h2m15 0h2m-61 1h2m14 0h2m2 0h2m22 0h2m15 0h2m-73 1h2m31 0h2m-1 0h2m1 0h2m11 0h2m9 0h2m14 0h2m-53 1h2m1 0h2m12 0h2m16 0h2m13 0h2m-49 1h2m-1 0h2m8 0h2m-2 0h2m2 0h2m7 0h2m3 0h2m1 0h2m-94 1h2m16 0h2m46 0h2m-1 0h2m10 0h2m23 0h2m-72 1h2m1 0h2m15 0h2m-2 0h2m5 0h2m11 0h2m1 0h2m13 0h2m-35 1h2m8 0h2m0 0h2m5 0h2m9 0h2m14 0h2m26 0h2m-167 1h2m91 0h2m-2 0h2m12 0h2m8 0h2m2 0h2m50 0h2m-109 1h2m-1 0h2m21 0h2m3 0h2m0 0h2m7 0h2m-57 1h2m30 0h2m6 0h2m-1 0h2m1 0h2m1 0h2m14 0h2m-28 1h2m6 0h2m16 0h2m0 0h2m5 0h2m-47 1h2m-1 0h2m11 0h2m2 0h2m12 0h2m2 0h2m18 0h2m27 0h2m0 0h2m-78 1h2m-2 0h2m7 0h2m2 0h2m18 0h2m5 0h2m24 0h2m6 0h2m-96 1h2m13 0h2m11 0h2m5 0h2m1 0h2m32 0h2m-62 1h2m-1 0h2m-2 0h2m8 0h2m2 0h2m0 0h2m11 0h2m7 0h2m5 0h2m-63 1h2m16 0h2m2 0h2m9 0h2m-16 1h2m-2 0h2m0 0h2m0 0h2m2 0h2m-1 0h2m0 0h2m-1 0h2m6 0h2m4 0h2m6 0h2m23 0h2m-81 1h2m9 0h2m-1 0h2m6 0h2m2 0h2m8 0h2m4 0h2m23 0h2m4 0h2m-64 1h2m12 0h2m0 0h2m0 0h2m-1 0h2m-2 0h2m0 0h2m3 0h2m-1 0h2m3 0h2m-1 0h2m3 0h2m-97 1h2m58 0h2m1 0h2m3 0h2m1 0h2m3 0h2m1 0h2m0 0h2m1 0h2m3 0h2m14 0h2m-46 1h2m3 0h2m11 0h2m-1 0h2m-1 0h2m15 0h2m37 0h2m-139 1h2m63 0h2m1 0h2m0 0h2m1 0h2m1 0h2m-2 0h2m2 0h2m49 0h2m-85 1h2m19 0h2m0 0h2m0 0h2m0 0h2m3 0h2m-1 0h2m6 0h2m7 0h2m4 0h2m0 0h2m0 0h2m1 0h2m1 0h2m-65 1h2m11 0h2m-1 0h2m-2 0h2m2 0h2m-1 0h2m0 0h2m-1 0h2m0 0h2m-1 0h2m-1 0h2m6 0h2m1 0h2m24 0h2m-57 1h2m2 0h2m1 0h2m4 0h2m0 0h2m-2 0h2m2 0h2m-1 0h2m-1 0h2m17 0h2m-1 0h2m6 0h2m44 0h2m-129 1h2m37 0h2m0 0h2m-1 0h2m4 0h2m-2 0h2m5 0h2m1 0h2m0 0h2m23 0h2m-86 1h2m29 0h2m6 0h2m-2 0h2m-1 0h2m1 0h2m1 0h2m-1 0h2m2 0h2m1 0h2m0 0h2m7 0h2m0 0h2m3 0h2m5 0h2m7 0h2m-104 1h2m25 0h2m23 0h2m8 0h2m3 0h2m-1 0h2m1 0h2m0 0h2m-2 0h2m4 0h2m1 0h2m15 0h2m-62 1h2m14 0h2m0 0h2m-1 0h2m-1 0h2m-2 0h2m2 0h2m-2 0h2m-2 0h2m2 0h2m0 0h2m-1 0h2m5 0h2m11 0h2m-77 1h2m9 0h2m17 0h2m3 0h2m5 0h2m1 0h2m2 0h2m-1 0h2m-2 0h2m21 0h2m-36 1h2m19 0h2m-1 0h2m9 0h2m0 0h2m2 0h2m-71 1h2m34 0h2m1 0h2m-1 0h2m29 0h2m-108 1h2m51 0h2m10 0h2m7 0h2m-2 0h2m11 0h2m-57 1h2m21 0h2m9 0h2m9 0h2m13 0h2m4 0h2m-79 1h2m27 0h2m17 0h2m1 0h2m-1 0h2m10 0h2m2 0h2m0 0h2m-2 0h2m-63 1h2m1 0h2m26 0h2m10 0h2m10 0h2m4 0h2m-47 1h2m68 0h2m-62 1h2m1 0h2m12 0h2m0 0h2m10 0h2m-43 1h2m12 0h2m11 0h2m0 0h2m1 0h2m6 0h2m28 0h2m-98 1h2m20 0h2m19 0h2m-1 0h2m41 0h2m7 0h2m-75 1h2m11 0h2m26 0h2m14 0h2m-63 1h2m-1 0h2m7 0h2m42 0h2m1 0h2m27 0h2m-107 1h2m40 0h2m23 0h2m-46 1h2m29 0h2m3 0h2m22 0h2m0 0h2m-52 1h2m4 0h2m54 0h2m-114 1h2m46 0h2m15 0h2m2 0h2m6 0h2m8 0h2m-32 1h2m-1 0h2m2 0h2m-38 1h2m49 0h2m15 0h2m-112 1h2m96 0h2m8 0h2m-50 1h2m12 1h2m-3 1h2m4 0h2m-1 0h2m13 0h2m5 0h2m-30 1h2m25 0h2m1 0h2m-75 1h2m17 0h2m26 0h2m15 0h2m-32 2h2m44 0h2m-55 1h2m84 0h2m-81 1h2m17 1h2m-16 1h2m25 0h2m-29 1h2m3 0h2m15 0h2m-18 1h2m22 0h2m27 0h2m-93 1h2m11 0h2m40 0h2m-82 1h2m85 0h2m-55 2h2m22 1h2m30 0h2m27 0h2m-55 1h2m4 0h2m-53 1h2m30 0h2m-6 1h2m27 0h2m4 0h2m-52 1h2m27 0h2m-39 2h2m26 0h2m30 2h2m-33 1h2m22 0h2m-35 1h2m17 1h2m37 0h2m-44 2h2m-3 1h2m6 3h2m-2 0h2m2 0h2m-53 2h2m17 0h2m13 0h2m16 0h2m-85 1h2m64 1h2m15 1h2m-72 4h2m18 0h2m33 2h2m-43 2h2m61 0h2m28 0h2m-56 1h2m61 0h2m-78 2h2m-9 2h2m50 0h2m-10 3h2m-32 7h2"/><path d="M231 161h2m-41 4h2m-64 1h2m62 0h2m-30 4h2m-24 1h2m50 9h2m-24 1h2m-35 4h2m18 0h2m-154 2h2m130 2h2m44 0h2m-53 1h2m28 1h2m0 0h2m7 0h2m32 0h2m-30 2h2m-2 0h2m-18 2h2m-1 0h2m-76 2h2m61 1h2m-13 1h2m21 0h2m1 0h2m-24 1h2m2 0h2m8 0h2m30 0h2m19 0h2m-86 2h2m24 0h2m3 1h2m-47 1h2m0 0h2m48 0h2m-66 1h2m54 0h2m8 0h2m-32 3h2m12 0h2m13 0h2m6 0h2m-79 1h2m22 0h2m-1 0h2m27 0h2m-13 1h2m17 1h2m10 0h2m-96 1h2m50 0h2m12 0h2m3 0h2m25 0h2m-84 1h2m53 0h2m7 1h2m-32 1h2m5 0h2m0 0h2m26 0h2m23 0h2m-116 1h2m27 1h2m4 0h2m28 0h2m19 1h2m-57 1h2m47 0h2m16 0h2m7 0h2m-110 1h2m40 0h2m76 0h2m-94 1h2m15 0h2m64 0h2m5 0h2m-76 1h2m14 0h2m1 0h2m-38 1h2m3 0h2m-1 0h2m57 0h2m-74 1h2m3 0h2m25 0h2m-36 1h2m20 0h2m10 0h2m-2 0h2m-9 1h2m0 0h2m5 0h2m-51 1h2m1 0h2m9 0h2m15 0h2m19 0h2m4 0h2m27 0h2m2 0h2m-67 1h2m1 0h2m5 0h2m5 0h2m9 0h2m28 0h2m5 0h2m-100 1h2m18 0h2m79 0h2m-71 1h2m18 0h2m19 0h2m-60 1h2m-1 0h2m9 0h2m2 0h2m-1 0h2m5 0h2m2 0h2m-1 0h2m30 0h2m-70 1h2m23 0h2m11 0h2m10 0h2m2 0h2m-35 1h2m-1 0h2m12 0h2m0 0h2m0 0h2m4 0h2m22 0h2m-57 1h2m44 0h2m13 0h2m-91 1h2m21 0h2m28 0h2m-1 0h2m-2 0h2m4 0h2m93 0h2m-123 1h2m0 0h2m14 0h2m42 0h2m-92 1h2m17 0h2m25 0h2m6 0h2m3 0h2m7 0h2m-62 1h2m2 0h2m1 0h2m-1 0h2m13 0h2m41 0h2m-80 1h2m10 0h2m19 0h2m12 0h2m3 0h2m-1 0h2m16 0h2m17 0h2m-69 1h2m10 0h2m18 0h2m5 0h2m0 0h2m-41 1h2m17 0h2m50 0h2m-56 1h2m-2 0h2m3 0h2m-1 0h2m0 0h2m-31 1h2m21 0h2m16 0h2m0 0h2m-46 1h2m6 0h2m-1 0h2m1 0h2m6 0h2m2 0h2m5 0h2m8 0h2m-51 1h2m16 0h2m3 0h2m-1 0h2m6 0h2m5 0h2m-1 0h2m-1 0h2m6 0h2m8 0h2m17 0h2m-62 1h2m20 0h2m-2 0h2m2 0h2m-47 1h2m14 0h2m7 0h2m-2 0h2m7 0h2m5 0h2m-75 1h2m28 0h2m13 0h2m16 0h2m3 0h2m13 0h2m-1 0h2m0 0h2m28 0h2m-83 1h2m10 0h2m1 0h2m4 0h2m6 0h2m7 0h2m-2 0h2m-1 0h2m3 0h2m-1 0h2m5 0h2m-52 1h2m-1 0h2m9 0h2m1 0h2m-1 0h2m-2 0h2m0 0h2m-24 1h2m4 0h2m16 0h2m23 0h2m9 0h2m-50 1h2m5 0h2m-2 0h2m-1 0h2m4 0h2m11 0h2m1 0h2m-24 1h2m0 0h2m4 0h2m19 0h2m5 0h2m-37 1h2m1 0h2m16 0h2m4 0h2m6 0h2m12 0h2m0 0h2m-140 1h2m71 0h2m28 0h2m-115 1h2m81 0h2m8 0h2m1 0h2m1 0h2m31 0h2m-53 1h2m0 0h2m3 0h2m-1 0h2m-2 0h2m0 0h2m1 0h2m-2 0h2m0 0h2m-2 0h2m-1 0h2m19 0h2m0 0h2m-2 0h2m-1 0h2m4 0h2m-108 1h2m54 0h2m-2 0h2m4 0h2m2 0h2m-1 0h2m3 0h2m3 0h2m1 0h2m3 0h2m1 0h2m0 0h2m9 0h2m25 0h2m30 0h2m-108 1h2m6 0h2m9 0h2m10 0h2m1 0h2m2 0h2m0 0h2m9 0h2m-42 1h2m11 0h2m0 0h2m-2 0h2m4 0h2m0 0h2m37 0h2m-94 1h2m2 0h2m9 0h2m4 0h2m4 0h2m1 0h2m-1 0h2m3 0h2m3 0h2m1 0h2m-2 0h2m2 0h2m-1 0h2m12 0h2m27 0h2m-69 1h2m7 0h2m-1 0h2m-2 0h2m-1 0h2m-1 0h2m9 0h2m2 0h2m1 0h2m53 0h2m-82 1h2m-1 0h2m3 0h2m-2 0h2m-1 0h2m0 0h2m7 0h2m0 0h2m0 0h2m32 0h2m29 0h2m-173 1h2m75 0h2m6 0h2m1 0h2m-1 0h2m-2 0h2m-1 0h2m-1 0h2m12 0h2m12 0h2m0 0h2m-44 1h2m2 0h2m-2 0h2m1 0h2m-1 0h2m-2 0h2m1 0h2m-1 0h2m0 0h2m29 0h2m-63 1h2m13 0h2m5 0h2m2 0h2m-1 0h2m0 0h2m-2 0h2m-1 0h2m-2 0h2m2 0h2m0 0h2m1 0h2m34 0h2m-115 1h2m2 0h2m21 0h2m22 0h2m0 0h2m3 0h2m1 0h2m-1 0h2m3 0h2m-2 0h2m0 0h2m-1 0h2m35 0h2m-57 1h2m1 0h2m-1 0h2m3 0h2m-2 0h2m3 0h2m0 0h2m1 0h2m1 0h2m10 0h2m33 0h2m-77 1h2m14 0h2m2 0h2m-1 0h2m4 0h2m-2 0h2m3 0h2m-37 1h2m5 0h2m2 0h2m7 0h2m-1 0h2m-1 0h2m-1 0h2m1 0h2m1 0h2m20 0h2m-100 1h2m39 0h2m15 0h2m10 0h2m11 0h2m-38 1h2m17 0h2m5 0h2m8 0h2m6 0h2m0 0h2m11 0h2m-55 1h2m7 0h2m-1 0h2m-1 0h2m3 0h2m1 0h2m-1 0h2m18 0h2m13 0h2m3 0h2m-93 1h2m19 0h2m18 0h2m-1 0h2m-1 0h2m-24 1h2m11 0h2m10 0h2m18 0h2m-1 0h2m12 0h2m-76 1h2m3 0h2m31 0h2m5 0h2m1 0h2m3 0h2m10 0h2m-44 1h2m9 0h2m-1 0h2m11 0h2m16 0h2m-2 0h2m2 0h2m-40 1h2m13 0h2m13 0h2m-2 0h2m16 0h2m-62 1h2m25 0h2m4 0h2m6 0h2m18 0h2m18 0h2m-67 1h2m37 0h2m-69 1h2m1 0h2m8 0h2m-1 0h2m2 0h2m23 0h2m-1 0h2m9 0h2m-1 0h2m-42 1h2m5 0h2m1 0h2m11 0h2m-31 1h2m10 0h2m5 0h2m2 0h2m3 1h2m10 0h2m-30 1h2m6 0h2m-2 0h2m-2 0h2m13 0h2m7 0h2m-25 1h2m69 0h2m-95 1h2m6 0h2m7 0h2m4 0h2m4 0h2m4 0h2m-37 1h2m29 0h2m-12 1h2m13 0h2m5 0h2m4 0h2m15 0h2m-46 2h2m-20 1h2m9 0h2m0 0h2m0 0h2m-1 0h2m-1 0h2m10 0h2m-89 1h2m82 0h2m-109 1h2m76 0h2m12 0h2m0 0h2m-22 1h2m9 0h2m13 0h2m8 0h2m5 0h2m3 0h2m-24 2h2m-56 1h2m27 0h2m41 0h2m-65 1h2m2 0h2m19 0h2m57 1h2m-127 1h2m54 0h2m61 0h2m-48 1h2m27 0h2m4 0h2m-25 2h2m27 0h2m-42 1h2m33 1h2m-55 1h2m32 0h2m24 0h2m-68 1h2m12 0h2m29 1h2m-19 1h2m-4 2h2m8 0h2m-5 1h2m21 0h2m-56 1h2m-16 1h2m13 1h2m-5 2h2m7 1h2m-17 2h2m35 1h2m-20 3h2m-7 1h2m-16 1h2m75 0h2m-40 1h2m19 0h2m-25 1h2m0 0h2m7 0h2m-35 2h2m24 2h2m-52 1h2m85 1h2m-132 1h2m41 2h2m14 0h2m29 1h2m-20 4h2m-19 4h2"/><path d="M203 165h2m-71 1h2m11 1h2m45 2h2m-100 3h2m65 2h2m23 4h2m-48 3h2m101 3h2m-85 2h2m4 3h2m42 0h2m7 0h2m-119 1h2m33 0h2m5 3h2m27 0h2m22 1h2m-30 1h2m1 0h2m46 2h2m-124 2h2m49 0h2m11 2h2m-84 1h2m40 0h2m15 0h2m8 0h2m-44 1h2m-91 1h2m89 0h2m20 0h2m19 1h2m60 0h2m-79 1h2m51 0h2m-60 1h2m-14 1h2m16 0h2m47 0h2m-80 1h2m17 0h2m14 0h2m5 0h2m0 0h2m-31 1h2m21 0h2m4 0h2m8 0h2m-31 1h2m35 0h2m1 0h2m-87 1h2m53 0h2m6 0h2m47 0h2m9 0h2m-68 1h2m9 0h2m19 0h2m-1 0h2m-71 1h2m29 0h2m32 0h2m-72 1h2m31 0h2m1 0h2m0 0h2m23 0h2m-69 1h2m4 0h2m14 0h2m2 0h2m1 0h2m36 0h2m24 0h2m-94 1h2m66 0h2m-57 1h2m0 0h2m10 1h2m0 0h2m9 0h2m24 0h2m-70 1h2m7 0h2m-1 0h2m33 0h2m10 0h2m22 0h2m-84 1h2m18 0h2m2 1h2m-2 0h2m0 0h2m-8 1h2m11 0h2m0 0h2m40 0h2m-98 1h2m43 0h2m24 0h2m-42 1h2m16 0h2m0 0h2m23 0h2m-25 1h2m51 0h2m-98 1h2m20 0h2m16 0h2m0 0h2m-33 1h2m3 0h2m8 0h2m2 0h2m9 0h2m-1 0h2m24 0h2m-15 1h2m13 0h2m18 0h2m-84 1h2m18 0h2m27 0h2m11 0h2m-1 0h2m5 0h2m-61 1h2m8 0h2m-2 0h2m4 0h2m2 0h2m11 0h2m21 0h2m-72 1h2m1 0h2m7 0h2m25 0h2m3 0h2m-45 1h2m2 0h2m14 0h2m1 0h2m-2 0h2m3 0h2m5 0h2m-1 0h2m7 0h2m8 0h2m-46 1h2m18 0h2m-2 0h2m33 0h2m-1 0h2m-64 1h2m10 0h2m64 0h2m-82 1h2m6 0h2m9 0h2m5 0h2m-29 1h2m12 0h2m4 0h2m20 0h2m-39 1h2m2 0h2m4 0h2m11 0h2m2 0h2m9 0h2m-43 1h2m3 0h2m-2 0h2m-1 0h2m-1 0h2m-1 0h2m0 0h2m3 0h2m3 0h2m-1 0h2m4 0h2m0 0h2m17 0h2m8 0h2m7 0h2m-68 1h2m3 0h2m1 0h2m4 0h2m2 0h2m11 0h2m0 0h2m12 0h2m11 0h2m-51 1h2m8 0h2m1 0h2m1 0h2m38 0h2m-65 1h2m26 0h2m4 0h2m0 0h2m42 0h2m-148 1h2m30 0h2m7 0h2m16 0h2m6 0h2m13 0h2m-2 0h2m1 0h2m-1 0h2m4 0h2m-21 1h2m13 0h2m37 0h2m4 0h2m-126 1h2m10 0h2m14 0h2m11 0h2m3 0h2m-2 0h2m16 0h2m36 0h2m-60 1h2m3 0h2m3 0h2m10 0h2m2 0h2m0 0h2m8 0h2m-9 1h2m0 0h2m3 0h2m30 0h2m-80 1h2m25 0h2m-1 0h2m-59 1h2m25 0h2m9 0h2m25 0h2m19 0h2m6 1h2m23 0h2m-85 1h2m0 0h2m1 0h2m13 0h2m12 0h2m0 0h2m3 0h2m-77 1h2m39 0h2m-51 1h2m36 0h2m17 0h2m-1 0h2m0 0h2m-2 0h2m4 0h2m3 0h2m14 0h2m25 0h2m-80 1h2m17 0h2m5 0h2m9 0h2m0 0h2m-2 0h2m4 0h2m3 0h2m0 0h2m6 0h2m-2 0h2m-58 1h2m8 0h2m7 0h2m0 0h2m-1 0h2m7 0h2m1 0h2m8 0h2m-1 0h2m-58 1h2m10 0h2m18 0h2m4 0h2m0 0h2m6 0h2m6 0h2m-40 1h2m7 0h2m-1 0h2m4 0h2m1 0h2m-2 0h2m0 0h2m4 0h2m28 0h2m-62 1h2m1 0h2m2 0h2m4 0h2m3 0h2m13 0h2m4 0h2m13 0h2m-61 1h2m4 0h2m0 0h2m1 0h2m10 0h2m-1 0h2m0 0h2m2 0h2m8 0h2m1 0h2m2 0h2m11 0h2m-74 1h2m14 0h2m3 0h2m6 0h2m8 0h2m4 0h2m8 0h2m-40 1h2m2 0h2m2 0h2m-1 0h2m-1 0h2m-1 0h2m-2 0h2m1 0h2m4 0h2m1 0h2m-2 0h2m15 0h2m4 0h2m0 0h2m-2 0h2m-66 1h2m9 0h2m7 0h2m-2 0h2m2 0h2m-2 0h2m25 0h2m15 0h2m27 0h2m-97 1h2m8 0h2m5 0h2m-1 0h2m2 0h2m6 0h2m2 0h2m-1 0h2m0 0h2m2 0h2m-1 0h2m11 0h2m-52 1h2m7 0h2m-2 0h2m-2 0h2m4 0h2m9 0h2m0 0h2m11 0h2m1 0h2m35 0h2m-84 1h2m7 0h2m-1 0h2m7 0h2m-1 0h2m1 0h2m3 0h2m8 0h2m5 0h2m-2 0h2m-83 1h2m48 0h2m-2 0h2m2 0h2m0 0h2m-2 0h2m8 0h2m12 0h2m4 0h2m0 0h2m-67 1h2m9 0h2m16 0h2m0 0h2m-1 0h2m2 0h2m21 0h2m3 0h2m6 0h2m-75 1h2m14 0h2m8 0h2m0 0h2m1 0h2m4 0h2m18 0h2m-40 1h2m4 0h2m5 0h2m-4 1h2m-1 0h2m0 0h2m0 0h2m6 0h2m-2 0h2m1 0h2m5 0h2m4 0h2m8 0h2m13 0h2m-110 1h2m20 0h2m26 0h2m-1 0h2m-2 0h2m-1 0h2m-2 0h2m5 0h2m-2 0h2m-1 0h2m1 0h2m-1 0h2m15 0h2m7 0h2m2 0h2m26 0h2m4 0h2m-84 1h2m6 0h2m1 0h2m-2 0h2m-2 0h2m2 0h2m-1 0h2m25 0h2m22 0h2m-124 1h2m41 0h2m14 0h2m-1 0h2m0 0h2m-1 0h2m-1 0h2m3 0h2m11 0h2m4 0h2m0 0h2m5 0h2m-60 1h2m5 0h2m1 0h2m3 0h2m5 0h2m1 0h2m-2 0h2m3 0h2m11 0h2m-17 1h2m0 0h2m22 0h2m-57 1h2m22 0h2m0 0h2m4 0h2m0 0h2m26 0h2m-49 1h2m2 0h2m2 0h2m1 0h2m0 0h2m-67 1h2m59 0h2m-1 0h2m-1 0h2m-1 0h2m42 0h2m-66 1h2m44 0h2m21 0h2m-98 1h2m11 0h2m3 0h2m15 0h2m9 0h2m-31 1h2m15 0h2m3 0h2m6 0h2m0 0h2m9 0h2m0 0h2m18 0h2m-57 1h2m14 0h2m27 0h2m-1 0h2m-46 1h2m0 0h2m16 0h2m28 0h2m-2 0h2m-47 1h2m-2 0h2m-1 0h2m20 0h2m-44 1h2m12 0h2m24 0h2m15 0h2m-51 1h2m39 0h2m7 0h2m-94 1h2m54 0h2m8 0h2m0 0h2m17 0h2m4 0h2m0 0h2m-102 1h2m72 0h2m-53 1h2m39 0h2m25 0h2m-11 1h2m-19 1h2m32 0h2m-105 1h2m36 0h2m24 0h2m-1 0h2m3 0h2m27 1h2m-25 1h2m14 0h2m-2 0h2m23 0h2m-45 1h2m11 0h2m-64 1h2m28 0h2m68 0h2m-52 1h2m6 0h2m-64 2h2m23 0h2m25 0h2m-20 2h2m0 0h2m-36 1h2m22 1h2m-2 0h2m16 0h2m25 0h2m-50 1h2m15 0h2m5 0h2m13 0h2m-33 1h2m23 1h2m-18 1h2m3 0h2m-23 1h2m35 1h2m1 0h2m4 0h2m-46 1h2m-35 2h2m69 0h2m-66 2h2m53 2h2m-15 1h2m0 1h2m-23 2h2m26 0h2m44 0h2m-17 1h2m-83 4h2m45 4h2m-27 1h2m26 0h2m1 0h2m-1 0h2m-39 3h2m35 1h2m-18 1h2m-63 2h2m26 0h2m3 0h2m25 0h2m17 3h2m-16 3h2m12 6h2m-19 4h2"/><path d="M170 154h2m40 8h2m-129 11h2m72 4h2m38 2h2m-51 3h2m17 0h2m23 2h2m-94 1h2m53 2h2m13 2h2m32 2h2m2 1h2m-63 1h2m25 0h2m-63 1h2m18 0h2m46 1h2m20 0h2m-38 2h2m13 1h2m-18 1h2m-2 0h2m0 0h2m-11 1h2m16 0h2m4 0h2m-24 1h2m0 0h2m-45 1h2m26 0h2m-24 1h2m0 0h2m51 0h2m32 2h2m-97 1h2m16 0h2m20 0h2m-35 1h2m99 0h2m-87 1h2m10 0h2m49 1h2m-78 1h2m21 0h2m13 0h2m-70 1h2m11 0h2m57 0h2m-4 1h2m-48 2h2m29 0h2m0 0h2m25 0h2m-134 1h2m13 0h2m81 0h2m39 0h2m10 0h2m-59 1h2m-140 1h2m71 0h2m67 0h2m-110 1h2m145 0h2m-86 1h2m28 0h2m21 0h2m17 0h2m-61 1h2m17 0h2m8 0h2m50 0h2m2 0h2m-104 1h2m46 0h2m10 0h2m17 0h2m-97 1h2m8 0h2m1 0h2m37 0h2m18 0h2m22 0h2m-80 3h2m20 0h2m45 0h2m-81 1h2m3 0h2m7 0h2m1 0h2m17 0h2m2 0h2m1 0h2m-20 1h2m33 0h2m-50 1h2m0 0h2m7 0h2m0 0h2m7 0h2m34 0h2m-52 1h2m10 0h2m1 0h2m2 0h2m1 0h2m20 0h2m-58 1h2m-22 1h2m15 0h2m9 0h2m1 0h2m0 0h2m7 0h2m0 0h2m21 0h2m6 0h2m-62 1h2m2 0h2m-1 0h2m3 0h2m54 0h2m-1 0h2m-27 1h2m10 0h2m6 0h2m2 0h2m8 0h2m-123 1h2m37 0h2m8 0h2m10 1h2m2 0h2m13 0h2m3 0h2m-34 1h2m3 1h2m-2 0h2m7 0h2m66 0h2m-89 1h2m11 0h2m7 0h2m2 0h2m1 0h2m9 0h2m-58 1h2m29 0h2m0 0h2m3 0h2m-2 0h2m6 0h2m11 0h2m4 0h2m-64 1h2m6 0h2m6 0h2m19 0h2m28 0h2m10 0h2m-75 1h2m2 0h2m0 0h2m14 0h2m-2 0h2m3 0h2m3 0h2m-51 1h2m20 0h2m20 0h2m6 0h2m10 0h2m-38 1h2m1 0h2m0 0h2m19 0h2m5 0h2m4 0h2m-64 1h2m8 0h2m14 0h2m0 0h2m1 0h2m3 0h2m3 0h2m9 0h2m-81 1h2m13 0h2m23 0h2m-1 0h2m2 0h2m15 0h2m-2 0h2m53 0h2m-106 1h2m16 0h2m13 0h2m-1 0h2m5 0h2m8 0h2m0 0h2m0 0h2m2 0h2m22 0h2m45 0h2m-111 1h2m1 0h2m4 0h2m12 0h2m0 0h2m4 0h2m2 0h2m10 0h2m-2 0h2m-67 1h2m13 0h2m12 0h2m5 0h2m0 0h2m0 0h2m7 0h2m16 0h2m-2 0h2m9 0h2m-52 1h2m7 0h2m-33 1h2m13 0h2m2 0h2m2 0h2m3 0h2m6 0h2m19 0h2m4 0h2m23 0h2m-71 1h2m1 0h2m1 0h2m5 0h2m-1 0h2m5 0h2m1 0h2m1 0h2m1 0h2m25 0h2m-58 1h2m5 0h2m4 0h2m3 0h2m49 0h2m-83 1h2m19 0h2m3 0h2m0 0h2m2 0h2m1 0h2m6 0h2m7 0h2m-47 1h2m-2 0h2m5 0h2m1 0h2m0 0h2m14 0h2m4 0h2m3 0h2m7 0h2m-54 1h2m19 0h2m6 0h2m-28 1h2m-1 0h2m10 0h2m0 0h2m11 0h2m1 0h2m3 0h2m28 0h2m-102 1h2m35 0h2m1 0h2m1 0h2m5 0h2m9 0h2m8 0h2m13 0h2m-65 1h2m13 0h2m2 0h2m1 0h2m6 0h2m16 0h2m-1 0h2m12 0h2m-64 1h2m-2 0h2m6 0h2m1 0h2m0 0h2m-2 0h2m1 0h2m3 0h2m3 0h2m1 0h2m2 0h2m1 0h2m-2 0h2m2 0h2m-1 0h2m-27 1h2m-1 0h2m0 0h2m3 0h2m3 0h2m-2 0h2m2 0h2m-1 0h2m6 0h2m-39 1h2m8 0h2m-1 0h2m1 0h2m5 0h2m1 0h2m20 0h2m0 0h2m13 0h2m-61 1h2m1 0h2m6 0h2m0 0h2m-1 0h2m0 0h2m5 0h2m1 0h2m-1 0h2m-89 1h2m64 0h2m3 0h2m1 0h2m-1 0h2m-1 0h2m1 0h2m-1 0h2m-2 0h2m-2 0h2m1 0h2m-79 1h2m57 0h2m1 0h2m6 0h2m-1 0h2m10 0h2m-1 0h2m0 0h2m3 0h2m1 0h2m-40 1h2m4 0h2m5 0h2m-2 0h2m3 0h2m-1 0h2m-2 0h2m-1 0h2m1 0h2m1 0h2m-1 0h2m-31 1h2m10 0h2m5 0h2m29 0h2m-60 1h2m14 0h2m-1 0h2m1 0h2m-1 0h2m-1 0h2m0 0h2m-1 0h2m3 0h2m6 0h2m-21 1h2m0 0h2m4 0h2m0 0h2m-2 0h2m-2 0h2m-2 0h2m-1 0h2m3 0h2m5 0h2m-1 0h2m6 0h2m11 0h2m-2 0h2m-77 1h2m26 0h2m3 0h2m-2 0h2m3 0h2m-1 0h2m0 0h2m59 0h2m-87 1h2m6 0h2m5 0h2m9 0h2m1 0h2m3 0h2m14 0h2m29 0h2m-74 1h2m3 0h2m-1 0h2m-2 0h2m2 0h2m-2 0h2m0 0h2m-2 0h2m0 0h2m-2 0h2m-1 0h2m5 0h2m6 0h2m-54 1h2m18 0h2m2 0h2m-1 0h2m-2 0h2m-1 0h2m-2 0h2m0 0h2m-2 0h2m1 0h2m-2 0h2m-2 0h2m5 0h2m0 0h2m0 0h2m2 0h2m-66 1h2m17 0h2m16 0h2m4 0h2m4 0h2m0 0h2m13 0h2m3 0h2m-41 1h2m17 0h2m12 0h2m-57 1h2m3 0h2m1 0h2m8 0h2m15 0h2m-1 0h2m-1 0h2m5 0h2m12 0h2m7 0h2m3 0h2m-52 1h2m2 0h2m-2 0h2m-1 0h2m0 0h2m8 0h2m6 0h2m-62 1h2m37 0h2m4 0h2m6 0h2m0 0h2m3 0h2m0 0h2m3 0h2m5 0h2m38 0h2m-77 1h2m2 0h2m6 0h2m19 0h2m-34 1h2m3 0h2m4 0h2m7 0h2m-47 1h2m16 0h2m-13 1h2m3 0h2m10 0h2m2 0h2m3 0h2m4 0h2m7 0h2m-2 0h2m7 0h2m-74 1h2m38 0h2m1 0h2m-20 1h2m22 0h2m18 0h2m-45 1h2m1 0h2m2 0h2m-2 0h2m0 0h2m2 0h2m52 0h2m-78 1h2m17 0h2m11 0h2m28 0h2m-82 1h2m39 0h2m22 0h2m18 0h2m-44 1h2m32 0h2m-39 1h2m11 0h2m-27 1h2m49 0h2m-72 1h2m31 0h2m-33 1h2m31 0h2m8 0h2m17 0h2m-20 1h2m1 0h2m41 0h2m-97 1h2m42 0h2m3 0h2m-33 1h2m-18 2h2m10 0h2m13 0h2m27 0h2m-27 1h2m34 0h2m-9 1h2m-102 1h2m69 0h2m9 0h2m4 1h2m-35 1h2m11 0h2m0 0h2m1 0h2m-37 1h2m15 0h2m32 0h2m-19 1h2m40 0h2m-77 1h2m39 0h2m0 2h2m48 0h2m-69 1h2m4 0h2m4 1h2m-23 1h2m-11 2h2m13 0h2m16 0h2m-54 1h2m26 0h2m24 0h2m30 0h2m-81 1h2m40 1h2m62 0h2m-56 2h2m50 0h2m-86 2h2m20 0h2m-51 1h2m8 0h2m34 0h2m7 0h2m-1 0h2m-24 1h2m29 0h2m-79 1h2m21 0h2m4 1h2m29 2h2m-18 1h2m36 0h2m-82 1h2m31 0h2m27 3h2m-50 1h2m21 4h2m37 1h2m-55 4h2m33 0h2m-59 1h2m51 0h2m16 1h2m-21 1h2m-27 3h2m61 2h2m-52 1h2m25 4h2"/><path d="M145 148h2m19 9h2m3 10h2m5 1h2m-16 1h2m-99 8h2m135 0h2m1 1h2m-54 2h2m-6 4h2m2 0h2m-11 1h2m3 0h2m31 2h2m-41 4h2m-9 1h2m60 0h2m-40 1h2m23 0h2m-27 1h2m53 0h2m-161 1h2m52 1h2m107 0h2m-73 1h2m-48 1h2m65 0h2m24 1h2m6 1h2m-63 1h2m-64 1h2m112 0h2m-161 1h2m128 0h2m-53 1h2m53 0h2m-60 1h2m53 0h2m-46 2h2m37 0h2m-74 1h2m71 0h2m-113 1h2m28 0h2m51 0h2m34 0h2m-28 2h2m19 0h2m2 0h2m-1 0h2m-33 1h2m-35 1h2m4 0h2m4 0h2m23 0h2m8 0h2m25 0h2m-63 1h2m1 0h2m4 0h2m26 0h2m-94 1h2m31 1h2m-15 1h2m33 0h2m43 0h2m0 0h2m1 0h2m-8 2h2m-69 2h2m10 0h2m4 0h2m-1 0h2m84 0h2m-83 1h2m4 0h2m8 0h2m19 0h2m21 0h2m6 0h2m-109 1h2m14 0h2m3 0h2m1 0h2m2 0h2m3 0h2m27 0h2m33 0h2m43 0h2m-141 1h2m0 0h2m54 0h2m8 0h2m34 0h2m-69 1h2m6 0h2m32 0h2m5 0h2m-80 1h2m17 0h2m1 0h2m11 0h2m-1 0h2m-4 1h2m13 0h2m19 0h2m-68 1h2m40 0h2m14 0h2m-73 1h2m20 0h2m25 0h2m0 0h2m8 0h2m-75 1h2m57 0h2m-1 0h2m14 0h2m19 0h2m-73 1h2m14 1h2m22 0h2m4 0h2m-70 1h2m18 0h2m2 0h2m7 0h2m0 0h2m-2 0h2m2 0h2m28 0h2m7 0h2m9 0h2m-68 1h2m18 0h2m14 0h2m-14 1h2m5 0h2m0 0h2m11 0h2m8 0h2m14 0h2m-63 1h2m2 0h2m-1 0h2m-2 0h2m0 0h2m1 0h2m5 0h2m2 0h2m1 0h2m9 0h2m12 0h2m-55 1h2m3 0h2m-1 0h2m-26 1h2m18 0h2m9 0h2m-2 0h2m1 0h2m14 0h2m16 0h2m-105 1h2m42 0h2m7 0h2m-2 0h2m6 0h2m4 0h2m9 0h2m-1 0h2m4 0h2m10 0h2m-48 1h2m7 0h2m7 0h2m6 0h2m-114 1h2m88 0h2m3 0h2m43 0h2m-74 1h2m18 0h2m11 0h2m9 0h2m1 0h2m0 0h2m4 0h2m-54 1h2m8 0h2m2 0h2m16 0h2m10 0h2m6 0h2m11 0h2m-52 1h2m13 0h2m-39 1h2m14 0h2m4 0h2m7 0h2m4 0h2m6 0h2m6 0h2m0 0h2m10 0h2m-26 1h2m0 0h2m1 0h2m-29 1h2m-1 0h2m6 0h2m6 0h2m10 0h2m2 0h2m-1 0h2m-1 0h2m-31 1h2m-1 0h2m1 0h2m8 0h2m2 0h2m5 0h2m8 0h2m-1 0h2m-39 1h2m22 0h2m-2 0h2m2 0h2m-59 1h2m7 0h2m1 0h2m65 0h2m-74 1h2m3 0h2m11 0h2m-2 0h2m1 0h2m3 0h2m6 0h2m3 0h2m12 0h2m9 0h2m-116 1h2m56 0h2m8 0h2m10 0h2m10 0h2m1 0h2m4 0h2m-2 0h2m18 0h2m-68 1h2m0 0h2m12 0h2m1 0h2m5 0h2m-2 0h2m1 0h2m17 0h2m-53 1h2m-1 0h2m9 0h2m6 0h2m3 0h2m-30 1h2m5 0h2m1 0h2m1 0h2m-2 0h2m0 0h2m1 0h2m7 0h2m0 0h2m-1 0h2m-44 1h2m-2 0h2m5 0h2m2 0h2m12 0h2m1 0h2m3 0h2m1 0h2m2 0h2m-1 0h2m-1 0h2m4 0h2m2 0h2m-79 1h2m35 0h2m2 0h2m25 0h2m15 0h2m33 0h2m-92 1h2m14 0h2m2 0h2m0 0h2m14 0h2m0 0h2m-1 0h2m3 0h2m-1 0h2m11 0h2m-55 1h2m4 0h2m1 0h2m4 0h2m3 0h2m-2 0h2m-1 0h2m3 0h2m1 0h2m17 0h2m-79 1h2m24 0h2m18 0h2m0 0h2m2 0h2m0 0h2m4 0h2m7 0h2m4 0h2m5 0h2m-115 1h2m61 0h2m3 0h2m18 0h2m4 0h2m23 0h2m-48 1h2m4 0h2m1 0h2m8 0h2m-2 0h2m0 0h2m25 0h2m-60 1h2m8 0h2m-2 0h2m0 0h2m17 0h2m22 0h2m-62 1h2m1 0h2m4 0h2m1 0h2m0 0h2m2 0h2m3 0h2m0 0h2m-1 0h2m0 0h2m12 0h2m-38 1h2m9 0h2m-2 0h2m-2 0h2m0 0h2m2 0h2m-1 0h2m-1 0h2m43 0h2m-57 1h2m-1 0h2m3 0h2m-2 0h2m0 0h2m-2 0h2m1 0h2m1 0h2m-29 1h2m-1 0h2m3 0h2m0 0h2m0 0h2m1 0h2m-1 0h2m1 0h2m5 0h2m3 0h2m-1 0h2m-1 0h2m1 0h2m-32 1h2m-1 0h2m-1 0h2m3 0h2m0 0h2m3 0h2m-1 0h2m-1 0h2m2 0h2m-2 0h2m18 0h2m-59 1h2m1 0h2m4 0h2m2 0h2m12 0h2m-2 0h2m12 0h2m7 0h2m15 0h2m14 0h2m-81 1h2m7 0h2m6 0h2m0 0h2m1 0h2m5 0h2m2 0h2m2 0h2m16 0h2m-96 1h2m55 0h2m-1 0h2m1 0h2m1 0h2m-1 0h2m-1 0h2m1 0h2m0 0h2m22 0h2m-38 1h2m-1 0h2m4 0h2m0 0h2m0 0h2m1 0h2m3 0h2m2 0h2m4 0h2m7 0h2m-63 1h2m16 0h2m0 0h2m3 0h2m0 0h2m3 0h2m9 0h2m41 0h2m-73 1h2m-2 0h2m0 0h2m-1 0h2m0 0h2m6 0h2m-2 0h2m-1 0h2m3 0h2m0 0h2m-2 0h2m19 0h2m-36 1h2m6 0h2m4 0h2m2 0h2m5 0h2m12 0h2m-62 1h2m6 0h2m1 0h2m0 0h2m-2 0h2m3 0h2m4 0h2m6 0h2m0 0h2m-2 0h2m2 0h2m-1 0h2m-34 1h2m17 0h2m0 0h2m26 0h2m-1 0h2m-55 1h2m22 0h2m-2 0h2m1 0h2m15 0h2m-65 1h2m31 0h2m-11 1h2m25 0h2m14 0h2m-42 1h2m9 0h2m3 0h2m-2 0h2m-1 0h2m10 0h2m-51 1h2m26 0h2m17 0h2m37 0h2m-102 1h2m0 0h2m48 0h2m-1 0h2m-41 1h2m36 0h2m16 0h2m4 0h2m-45 1h2m7 0h2m-1 0h2m68 0h2m-93 1h2m21 0h2m0 0h2m2 0h2m9 0h2m10 0h2m21 0h2m-71 1h2m4 0h2m20 0h2m11 0h2m-2 0h2m40 0h2m0 0h2m-91 1h2m18 0h2m11 0h2m-43 1h2m20 0h2m19 0h2m36 0h2m5 0h2m-59 1h2m11 1h2m13 0h2m28 1h2m-95 2h2m34 0h2m-16 1h2m11 0h2m32 0h2m1 0h2m-36 2h2m22 0h2m0 0h2m18 0h2m-83 1h2m12 0h2m17 0h2m-8 1h2m-9 1h2m8 0h2m21 0h2m5 0h2m-40 1h2m-1 0h2m17 0h2m-40 1h2m35 0h2m4 0h2m37 0h2m-84 1h2m11 0h2m6 0h2m26 0h2m-24 1h2m33 0h2m-50 1h2m-25 1h2m39 0h2m-47 3h2m4 0h2m35 0h2m-26 1h2m44 0h2m-21 1h2m11 0h2m1 0h2m5 0h2m-7 1h2m25 1h2m-34 1h2m-67 1h2m30 3h2m41 0h2m-16 1h2m2 1h2m-17 1h2m-41 1h2m20 1h2m-10 1h2m3 0h2m37 0h2m-37 1h2m-1 1h2m9 2h2m-2 1h2m-31 1h2m19 0h2m4 0h2m1 2h2m8 0h2m-16 1h2m-16 4h2m34 2h2m23 0h2m-77 3h2m24 0h2m-24 5h2m3 0h2m46 2h2m-88 2h2"/><path d="M166 159h2m32 7h2m-58 12h2m33 1h2m-50 1h2m8 0h2m34 3h2m7 1h2m31 1h2m-51 1h2m-6 1h2m-47 2h2m28 0h2m3 0h2m-10 2h2m-4 1h2m18 0h2m-72 2h2m14 4h2m40 0h2m-37 1h2m40 1h2m-19 3h2m27 0h2m16 1h2m-73 1h2m21 0h2m-27 1h2m62 0h2m-60 1h2m16 0h2m2 0h2m54 0h2m-84 1h2m77 1h2m-109 1h2m49 0h2m34 0h2m20 0h2m-51 1h2m-44 1h2m9 0h2m46 0h2m0 0h2m39 0h2m-179 1h2m82 0h2m15 0h2m3 0h2m18 0h2m-15 1h2m-23 2h2m10 0h2m3 0h2m-45 1h2m44 0h2m3 0h2m0 0h2m-47 1h2m27 0h2m-23 1h2m2 0h2m28 0h2m-32 1h2m-14 1h2m7 0h2m24 0h2m10 0h2m5 0h2m-63 1h2m59 0h2m-57 1h2m17 0h2m37 0h2m-68 1h2m46 0h2m8 0h2m-68 1h2m26 0h2m10 0h2m-53 1h2m15 0h2m20 0h2m40 0h2m10 0h2m-46 1h2m10 0h2m36 0h2m-85 1h2m2 0h2m8 0h2m1 0h2m6 0h2m13 0h2m14 0h2m11 0h2m11 0h2m-81 1h2m26 0h2m-37 1h2m12 0h2m13 0h2m0 0h2m33 0h2m-58 1h2m16 0h2m3 0h2m16 0h2m17 0h2m25 0h2m-109 1h2m20 0h2m2 0h2m17 0h2m0 1h2m4 0h2m5 0h2m-36 1h2m2 0h2m7 0h2m7 0h2m-33 1h2m-2 0h2m0 0h2m12 0h2m22 0h2m0 0h2m29 0h2m-92 1h2m5 0h2m17 0h2m7 0h2m1 0h2m6 0h2m-1 0h2m0 0h2m28 0h2m40 0h2m-118 1h2m3 0h2m9 0h2m16 0h2m-1 0h2m17 0h2m3 0h2m0 0h2m11 0h2m-87 1h2m5 0h2m12 0h2m17 0h2m62 0h2m-78 1h2m17 0h2m1 0h2m-37 1h2m0 0h2m11 0h2m22 0h2m5 0h2m0 0h2m-28 1h2m-2 0h2m6 0h2m3 0h2m25 0h2m33 0h2m-1 0h2m-81 1h2m-1 0h2m-1 0h2m0 0h2m0 0h2m-7 1h2m15 0h2m0 0h2m0 0h2m-1 0h2m2 0h2m-32 1h2m-1 0h2m2 0h2m2 0h2m3 0h2m-1 0h2m-1 0h2m-2 0h2m7 0h2m19 0h2m8 0h2m-87 1h2m-1 0h2m21 0h2m0 0h2m10 0h2m3 0h2m11 0h2m10 0h2m12 0h2m-87 1h2m18 0h2m12 0h2m5 0h2m17 0h2m1 0h2m-2 0h2m-49 1h2m21 0h2m4 0h2m1 0h2m2 0h2m27 0h2m-66 1h2m7 0h2m-1 0h2m2 0h2m-1 0h2m-2 0h2m-2 0h2m3 0h2m2 0h2m0 0h2m0 0h2m-2 0h2m-10 1h2m3 0h2m15 0h2m3 0h2m-103 1h2m29 0h2m30 0h2m6 0h2m5 0h2m4 0h2m0 0h2m6 0h2m-65 1h2m14 0h2m24 0h2m0 0h2m3 0h2m17 0h2m-64 1h2m5 0h2m1 0h2m7 0h2m8 0h2m12 0h2m7 0h2m-1 0h2m36 0h2m-97 1h2m5 0h2m20 0h2m-1 0h2m3 0h2m-1 0h2m6 0h2m1 0h2m0 0h2m2 0h2m8 0h2m-2 0h2m58 0h2m-110 1h2m8 0h2m3 0h2m0 0h2m15 0h2m-2 0h2m27 0h2m-78 1h2m5 0h2m17 0h2m1 0h2m7 0h2m2 0h2m-2 0h2m-1 0h2m2 0h2m-1 0h2m2 0h2m-1 0h2m2 0h2m-65 1h2m23 0h2m1 0h2m24 0h2m-2 0h2m15 0h2m3 0h2m-46 1h2m3 0h2m17 0h2m1 0h2m4 0h2m-64 1h2m16 0h2m1 0h2m-1 0h2m2 0h2m4 0h2m4 0h2m5 0h2m-29 1h2m6 0h2m0 0h2m4 0h2m-1 0h2m-2 0h2m7 0h2m-1 0h2m0 0h2m-1 0h2m2 0h2m2 0h2m0 0h2m18 0h2m-61 1h2m8 0h2m5 0h2m5 0h2m-1 0h2m1 0h2m0 0h2m10 0h2m-126 1h2m81 0h2m9 0h2m-2 0h2m3 0h2m-1 0h2m0 0h2m15 0h2m29 0h2m-71 1h2m-1 0h2m12 0h2m0 0h2m-1 0h2m-1 0h2m-1 0h2m-1 0h2m8 0h2m-2 0h2m-2 0h2m4 0h2m1 0h2m6 0h2m-84 1h2m25 0h2m9 0h2m4 0h2m1 0h2m4 0h2m-1 0h2m0 0h2m-2 0h2m1 0h2m15 0h2m-82 1h2m15 0h2m28 0h2m2 0h2m-2 0h2m2 0h2m-1 0h2m3 0h2m8 0h2m-25 1h2m-1 0h2m1 0h2m1 0h2m2 0h2m5 0h2m9 0h2m-50 1h2m2 0h2m12 0h2m2 0h2m3 0h2m-1 0h2m-1 0h2m7 0h2m3 0h2m-31 1h2m4 0h2m2 0h2m-1 0h2m-2 0h2m0 0h2m-2 0h2m0 0h2m4 0h2m-2 0h2m5 0h2m41 0h2m-110 1h2m29 0h2m3 0h2m13 0h2m1 0h2m-2 0h2m7 0h2m-2 0h2m19 0h2m1 0h2m18 0h2m8 0h2m-101 1h2m13 0h2m-2 0h2m-1 0h2m6 0h2m-2 0h2m-2 0h2m-1 0h2m7 0h2m-1 0h2m2 0h2m-1 0h2m-2 0h2m1 0h2m15 0h2m-48 1h2m5 0h2m1 0h2m6 0h2m-2 0h2m1 0h2m0 0h2m15 0h2m6 0h2m-32 1h2m5 0h2m9 0h2m7 0h2m3 0h2m4 0h2m-128 1h2m62 0h2m10 0h2m-2 0h2m3 0h2m-1 0h2m-1 0h2m-1 0h2m0 0h2m-1 0h2m-2 0h2m-33 1h2m19 0h2m10 0h2m35 0h2m-69 1h2m2 0h2m13 0h2m-1 0h2m0 0h2m-2 0h2m-1 0h2m4 0h2m2 0h2m0 0h2m2 0h2m3 0h2m-40 1h2m6 0h2m0 0h2m8 0h2m1 0h2m2 0h2m0 0h2m1 0h2m32 0h2m-73 1h2m10 0h2m14 0h2m-1 0h2m6 0h2m4 0h2m-55 1h2m28 0h2m-1 0h2m2 0h2m5 0h2m7 0h2m0 0h2m22 0h2m-66 1h2m15 0h2m3 0h2m2 0h2m4 0h2m43 0h2m-124 1h2m56 0h2m4 0h2m-2 0h2m3 0h2m-1 0h2m-1 0h2m14 0h2m-58 1h2m28 0h2m39 0h2m-59 1h2m8 0h2m21 0h2m-16 1h2m6 0h2m-2 0h2m-2 0h2m13 0h2m6 0h2m-2 0h2m-54 1h2m9 0h2m-1 0h2m8 0h2m8 0h2m-22 1h2m37 0h2m30 0h2m-64 1h2m-2 0h2m-1 0h2m9 0h2m3 0h2m-52 1h2m25 0h2m1 0h2m-38 1h2m27 0h2m3 0h2m6 0h2m13 0h2m-65 1h2m12 0h2m33 0h2m-2 0h2m0 0h2m6 0h2m-25 1h2m-1 0h2m-22 1h2m16 0h2m35 0h2m-48 1h2m32 0h2m0 0h2m2 0h2m-1 0h2m-47 1h2m51 1h2m-40 1h2m-8 1h2m12 0h2m19 0h2m-19 1h2m46 1h2m-48 1h2m11 0h2m-32 1h2m-34 1h2m37 0h2m-23 1h2m29 0h2m2 0h2m4 0h2m-8 1h2m16 0h2m40 0h2m-37 1h2m-41 1h2m-34 1h2m22 0h2m6 0h2m8 0h2m39 1h2m-66 1h2m7 0h2m31 0h2m33 0h2m-41 2h2m-40 1h2m-21 1h2m30 2h2m30 0h2m-9 2h2m-47 1h2m14 0h2m11 1h2m0 0h2m25 0h2m-4 3h2m-74 1h2m48 0h2m-62 1h2m21 1h2m24 1h2m-47 2h2m32 2h2m12 0h2m12 4h2m16 0h2m-95 3h2m80 1h2m23 0h2m-63 5h2m21 1h2"/></g>
<rect x="163.7" y="0" width="2.6" height="358" fill="#e41b3a" opacity="0.75"/>
<rect x="0" y="130.3" width="357" height="2.4" fill="#e41b3a"/>
<rect x="-12.6" y="-1.3" width="370.9" height="2.7" fill="#2e2eff"/>
<rect x="1" y="1.4" width="355" height="1.4" fill="#9a9aff"/>
<rect x="-1.3" y="-1.3" width="2.6" height="360.6" fill="#1a1aff"/>
<rect x="355.1" y="-1.3" width="2.2" height="360.6" fill="#8585ff"/>
<rect x="357.3" y="-1.3" width="2.2" height="360.6" fill="#5c5cff"/>
<rect x="-12" y="356.7" width="370.3" height="2.6" fill="#1a1aff"/>
<path d="M0 359v10M-12 358.3h11M17.3 359v10M-12 341.2h11M27.4 359v10M-12 331.2h11M34.5 359v10M-12 324h11M40.1 359v10M-12 318.5h11M44.6 359v10M-12 314h11M48.5 359v10M-12 310.2h11M51.8 359v10M-12 306.9h11M54.7 359v10M-12 304h11M57.4 359v10M-12 301.4h11M74.6 359v10M-12 284.3h11M84.7 359v10M-12 274.3h11M91.9 359v10M-12 267.1h11M97.4 359v10M-12 261.6h11M102 359v10M-12 257.1h11M105.8 359v10M-12 253.3h11M109.1 359v10M-12 250h11M112.1 359v10M-12 247.1h11M114.7 359v10M-12 244.5h11M132 359v10M-12 227.4h11M142.1 359v10M-12 217.4h11M149.2 359v10M-12 210.2h11M154.8 359v10M-12 204.7h11M159.3 359v10M-12 200.2h11M163.2 359v10M-12 196.4h11M166.5 359v10M-12 193.1h11M169.4 359v10M-12 190.2h11M172.1 359v10M-12 187.6h11M189.3 359v10M-12 170.5h11M199.4 359v10M-12 160.5h11M206.6 359v10M-12 153.3h11M212.1 359v10M-12 147.8h11M216.7 359v10M-12 143.3h11M220.5 359v10M-12 139.5h11M223.8 359v10M-12 136.2h11M226.8 359v10M-12 133.3h11M229.4 359v10M-12 130.7h11M246.7 359v10M-12 113.6h11M256.8 359v10M-12 103.6h11M263.9 359v10M-12 96.4h11M269.5 359v10M-12 90.9h11M274 359v10M-12 86.4h11M277.9 359v10M-12 82.6h11M281.2 359v10M-12 79.3h11M284.1 359v10M-12 76.4h11M286.8 359v10M-12 73.8h11M304 359v10M-12 56.7h11M314.1 359v10M-12 46.7h11M321.3 359v10M-12 39.5h11M326.8 359v10M-12 34h11M331.4 359v10M-12 29.5h11M335.2 359v10M-12 25.7h11M338.5 359v10M-12 22.4h11M341.5 359v10M-12 19.5h11M344.1 359v10M-12 16.9h11" stroke="#1a1aff" stroke-width="2" fill="none"/>
<text x="0" y="393" font-family="Liberation Sans, sans-serif" fill="#1a1aff"><tspan font-size="12.5" font-weight="bold" text-anchor="end">10</tspan></text>
<text x="0.5" y="389" font-family="Liberation Sans, sans-serif" font-size="21" fill="#1a1aff">1</text>
<text x="57.4" y="393" font-family="Liberation Sans, sans-serif" fill="#1a1aff"><tspan font-size="12.5" font-weight="bold" text-anchor="end">10</tspan></text>
<text x="57.9" y="389" font-family="Liberation Sans, sans-serif" font-size="21" fill="#1a1aff">2</text>
<text x="114.7" y="393" font-family="Liberation Sans, sans-serif" fill="#1a1aff"><tspan font-size="12.5" font-weight="bold" text-anchor="end">10</tspan></text>
<text x="115.2" y="389" font-family="Liberation Sans, sans-serif" font-size="21" fill="#1a1aff">3</text>
<text x="172.1" y="393" font-family="Liberation Sans, sans-serif" fill="#1a1aff"><tspan font-size="12.5" font-weight="bold" text-anchor="end">10</tspan></text>
<text x="172.6" y="389" font-family="Liberation Sans, sans-serif" font-size="21" fill="#1a1aff">4</text>
<text x="229.4" y="393" font-family="Liberation Sans, sans-serif" fill="#1a1aff"><tspan font-size="12.5" font-weight="bold" text-anchor="end">10</tspan></text>
<text x="229.9" y="389" font-family="Liberation Sans, sans-serif" font-size="21" fill="#1a1aff">5</text>
<text x="286.8" y="393" font-family="Liberation Sans, sans-serif" fill="#1a1aff"><tspan font-size="12.5" font-weight="bold" text-anchor="end">10</tspan></text>
<text x="287.2" y="389" font-family="Liberation Sans, sans-serif" font-size="21" fill="#1a1aff">6</text>
<text x="348.5" y="393" font-family="Liberation Sans, sans-serif" font-size="12.5" font-weight="bold" text-anchor="end" fill="#1a1aff">10</text>
<text x="348.5" y="389" font-family="Liberation Sans, sans-serif" font-size="21" fill="#1a1aff">7.2</text>
<g transform="translate(0,353.3) rotate(-90)"><text x="0" y="-21.4" font-family="Liberation Sans, sans-serif" font-size="12.5" font-weight="bold" text-anchor="end" fill="#1a1aff">10</text><text transform="translate(0.5,-27.4) scale(0.8,1)" font-family="Liberation Sans, sans-serif" font-size="21" fill="#1a1aff">1</text></g>
<g transform="translate(0,296.4) rotate(-90)"><text x="0" y="-21.4" font-family="Liberation Sans, sans-serif" font-size="12.5" font-weight="bold" text-anchor="end" fill="#1a1aff">10</text><text transform="translate(0.5,-27.4) scale(0.8,1)" font-family="Liberation Sans, sans-serif" font-size="21" fill="#1a1aff">2</text></g>
<g transform="translate(0,239.5) rotate(-90)"><text x="0" y="-21.4" font-family="Liberation Sans, sans-serif" font-size="12.5" font-weight="bold" text-anchor="end" fill="#1a1aff">10</text><text transform="translate(0.5,-27.4) scale(0.8,1)" font-family="Liberation Sans, sans-serif" font-size="21" fill="#1a1aff">3</text></g>
<g transform="translate(0,182.6) rotate(-90)"><text x="0" y="-21.4" font-family="Liberation Sans, sans-serif" font-size="12.5" font-weight="bold" text-anchor="end" fill="#1a1aff">10</text><text transform="translate(0.5,-27.4) scale(0.8,1)" font-family="Liberation Sans, sans-serif" font-size="21" fill="#1a1aff">4</text></g>
<g transform="translate(0,125.7) rotate(-90)"><text x="0" y="-21.4" font-family="Liberation Sans, sans-serif" font-size="12.5" font-weight="bold" text-anchor="end" fill="#1a1aff">10</text><text transform="translate(0.5,-27.4) scale(0.8,1)" font-family="Liberation Sans, sans-serif" font-size="21" fill="#1a1aff">5</text></g>
<g transform="translate(0,68.8) rotate(-90)"><text x="0" y="-21.4" font-family="Liberation Sans, sans-serif" font-size="12.5" font-weight="bold" text-anchor="end" fill="#1a1aff">10</text><text transform="translate(0.5,-27.4) scale(0.8,1)" font-family="Liberation Sans, sans-serif" font-size="21" fill="#1a1aff">6</text></g>
<g transform="translate(0,5.5) rotate(-90)"><text x="0" y="-21.4" font-family="Liberation Sans, sans-serif" font-size="12.5" font-weight="bold" text-anchor="end" fill="#1a1aff">10</text><text transform="translate(0.5,-27.4) scale(0.85,1)" font-family="Liberation Sans, sans-serif" font-size="21" fill="#1a1aff">7.2</text></g>
<text x="178.5" y="415.9" text-anchor="middle" font-family="Liberation Sans, sans-serif" font-size="19.5" textLength="59.5" lengthAdjust="spacingAndGlyphs">FL1-H</text>
<text x="0" y="0" transform="translate(-49.5,218.8) rotate(-90)" text-anchor="middle" font-family="Liberation Sans, sans-serif" font-size="19.5" textLength="59.5" lengthAdjust="spacingAndGlyphs">FL2-H</text>
<text x="1.6" y="25.2" font-family="Liberation Sans, sans-serif" font-size="28" fill="#e41b3a" textLength="76.8" lengthAdjust="spacingAndGlyphs">Q1-UL</text>
<text x="1.6" y="49.3" font-family="Liberation Sans, sans-serif" font-size="28" fill="#e41b3a" textLength="56.9" lengthAdjust="spacingAndGlyphs">0.0%</text>
<text x="276.6" y="25.2" font-family="Liberation Sans, sans-serif" font-size="28" fill="#e41b3a" textLength="79.9" lengthAdjust="spacingAndGlyphs">Q1-UR</text>
<text x="276.6" y="49.3" font-family="Liberation Sans, sans-serif" font-size="28" fill="#e41b3a" textLength="56.9" lengthAdjust="spacingAndGlyphs">0.0%</text>
<text x="1.6" y="334" font-family="Liberation Sans, sans-serif" font-size="28" fill="#e41b3a" textLength="72.5" lengthAdjust="spacingAndGlyphs">Q1-LL</text>
<text x="1.6" y="358.5" font-family="Liberation Sans, sans-serif" font-size="28" fill="#e41b3a" textLength="73.1" lengthAdjust="spacingAndGlyphs">64.2%</text>
<text x="280.6" y="334" font-family="Liberation Sans, sans-serif" font-size="28" fill="#e41b3a" textLength="75.5" lengthAdjust="spacingAndGlyphs">Q1-LR</text>
<text x="280.6" y="358.5" font-family="Liberation Sans, sans-serif" font-size="28" fill="#e41b3a" textLength="73.1" lengthAdjust="spacingAndGlyphs">35.8%</text>
</g>
<g transform="translate(244.6,526)">
<g stroke="#000" stroke-width="2" stroke-opacity="0.27" fill="none" filter="url(#soft)"><path d="M177 141h2m6 4h2m22 0h2m-11 5h2m-54 5h2m4 2h2m50 0h2m-60 2h2m49 2h2m-17 1h2m5 5h2m-19 1h2m7 0h2m5 0h2m-62 3h2m0 0h2m37 0h2m27 0h2m-33 5h2m42 0h2m-96 1h2m14 0h2m46 0h2m-10 3h2m50 0h2m-65 1h2m15 1h2m-72 2h2m41 1h2m0 1h2m-3 2h2m22 0h2m-62 1h2m58 0h2m7 0h2m-1 1h2m1 0h2m39 1h2m-78 1h2m20 0h2m-31 1h2m22 0h2m-42 1h2m2 0h2m1 0h2m-17 1h2m-3 1h2m10 0h2m78 0h2m-32 1h2m13 0h2m-87 1h2m38 0h2m-17 1h2m-46 1h2m58 0h2m2 0h2m18 1h2m-56 1h2m17 0h2m-12 1h2m1 0h2m20 0h2m27 0h2m-86 1h2m19 0h2m35 0h2m-2 0h2m-41 1h2m4 0h2m78 0h2m-66 1h2m22 0h2m15 0h2m-50 1h2m19 0h2m7 0h2m42 0h2m-103 1h2m29 1h2m-47 1h2m26 0h2m13 0h2m-2 0h2m16 0h2m57 0h2m-193 1h2m95 0h2m23 0h2m-30 1h2m29 0h2m43 0h2m-81 1h2m20 0h2m8 0h2m-56 1h2m23 0h2m1 0h2m13 0h2m-38 1h2m67 0h2m-59 1h2m7 0h2m3 0h2m0 0h2m-1 0h2m2 0h2m33 0h2m3 0h2m28 0h2m-137 1h2m44 0h2m11 0h2m58 0h2m-79 1h2m7 0h2m0 0h2m2 0h2m-2 0h2m3 0h2m6 0h2m56 0h2m-116 1h2m51 0h2m5 0h2m-30 1h2m1 0h2m0 0h2m2 0h2m51 0h2m22 0h2m16 0h2m17 0h2m-157 1h2m10 0h2m20 0h2m-1 0h2m-1 0h2m8 0h2m13 0h2m9 0h2m-125 1h2m50 0h2m26 0h2m11 0h2m29 0h2m22 0h2m-73 1h2m8 0h2m4 0h2m5 0h2m7 0h2m5 0h2m-38 1h2m0 0h2m3 0h2m-1 0h2m2 0h2m-44 1h2m24 0h2m-2 0h2m2 0h2m2 0h2m-1 0h2m7 0h2m2 0h2m4 0h2m31 0h2m-66 1h2m5 0h2m4 0h2m-2 0h2m1 0h2m2 0h2m-1 0h2m1 0h2m6 0h2m52 0h2m2 0h2m9 0h2m12 0h2m-150 1h2m15 0h2m13 0h2m12 0h2m0 0h2m3 0h2m0 0h2m2 0h2m-2 0h2m2 0h2m10 0h2m17 0h2m-84 1h2m-2 0h2m18 0h2m17 0h2m0 0h2m0 0h2m4 0h2m-1 0h2m8 0h2m-69 1h2m34 0h2m2 0h2m2 0h2m27 0h2m-99 1h2m27 0h2m36 0h2m3 0h2m7 0h2m-80 1h2m30 0h2m20 0h2m-1 0h2m10 0h2m6 0h2m0 0h2m14 0h2m20 0h2m-127 1h2m62 0h2m5 0h2m1 0h2m4 0h2m-1 0h2m26 0h2m1 0h2m-44 1h2m4 0h2m10 0h2m9 0h2m2 0h2m-34 1h2m12 0h2m3 0h2m8 0h2m-44 1h2m4 0h2m11 0h2m7 0h2m8 0h2m22 0h2m-53 1h2m8 0h2m2 0h2m-31 1h2m20 0h2m0 0h2m0 0h2m4 0h2m-41 1h2m14 0h2m-1 0h2m3 0h2m1 0h2m0 0h2m9 0h2m62 0h2m-142 1h2m25 0h2m6 0h2m34 0h2m2 0h2m1 0h2m-44 1h2m-1 0h2m6 0h2m5 0h2m12 0h2m4 0h2m15 0h2m2 0h2m43 0h2m-55 1h2m3 0h2m17 0h2m-81 1h2m19 0h2m-1 0h2m66 0h2m-144 1h2m52 0h2m15 0h2m11 0h2m9 0h2m11 0h2m22 0h2m20 0h2m31 0h2m-115 1h2m11 0h2m31 0h2m2 0h2m48 0h2m-122 1h2m12 0h2m3 0h2m16 0h2m4 0h2m14 0h2m-43 1h2m3 0h2m13 0h2m0 0h2m-31 1h2m16 0h2m8 0h2m-1 0h2m0 0h2m0 0h2m47 0h2m-164 1h2m21 0h2m26 0h2m31 0h2m5 0h2m-57 1h2m54 0h2m18 0h2m86 0h2m-71 1h2m-39 1h2m-17 1h2m1 0h2m3 0h2m12 0h2m28 0h2m6 0h2m-73 1h2m-12 1h2m18 0h2m-1 0h2m13 0h2m6 0h2m-28 1h2m2 0h2m-1 0h2m-1 0h2m2 0h2m11 0h2m5 0h2m1 0h2m-56 1h2m34 0h2m-22 1h2m9 0h2m10 0h2m22 0h2m-83 1h2m33 0h2m24 0h2m0 0h2m18 0h2m12 0h2m-77 1h2m17 0h2m7 0h2m26 0h2m-74 1h2m12 0h2m17 0h2m-2 0h2m1 0h2m-2 0h2m6 0h2m4 0h2m4 0h2m-55 1h2m2 0h2m18 0h2m7 0h2m0 0h2m-2 0h2m4 0h2m21 0h2m4 0h2m-90 1h2m36 0h2m-1 0h2m-2 0h2m5 0h2m0 0h2m1 0h2m-1 0h2m-2 0h2m-1 1h2m11 0h2m2 0h2m0 0h2m16 0h2m23 0h2m-66 1h2m-2 0h2m-1 0h2m-2 0h2m5 0h2m1 0h2m-39 1h2m19 0h2m0 0h2m3 0h2m-14 1h2m1 0h2m3 0h2m-2 0h2m-2 0h2m2 0h2m-1 0h2m19 0h2m47 0h2m-96 1h2m11 0h2m-2 0h2m1 0h2m0 0h2m-2 0h2m0 0h2m-2 0h2m0 0h2m9 0h2m-48 1h2m23 0h2m5 0h2m2 0h2m0 0h2m-20 1h2m2 0h2m0 0h2m4 0h2m1 0h2m-1 0h2m1 0h2m-2 0h2m2 0h2m49 0h2m-99 1h2m33 0h2m1 0h2m-1 0h2m-15 1h2m15 0h2m-23 1h2m13 0h2m1 0h2m-50 1h2m19 0h2m12 0h2m0 0h2m-2 0h2m6 0h2m30 0h2m7 0h2m-81 1h2m36 0h2m17 0h2m-1 0h2m-66 1h2m33 0h2m1 0h2m54 0h2m-77 1h2m31 0h2m14 0h2m-80 1h2m30 0h2m-16 1h2m44 0h2m7 0h2m-3 1h2m8 0h2m15 0h2m-47 1h2m1 0h2m-1 0h2m4 0h2m7 1h2m-56 1h2m-1 0h2m45 0h2m-34 1h2m35 0h2m-2 0h2m-1 0h2m-1 0h2m-82 1h2m54 0h2m36 0h2m-42 1h2m-21 1h2m50 0h2m-47 1h2m22 0h2m4 0h2m-36 1h2m11 0h2m20 0h2m17 0h2m-72 1h2m28 0h2m23 0h2m-49 1h2m18 0h2m20 0h2m24 0h2m-34 1h2m-57 1h2m24 0h2m32 0h2m13 0h2m-11 1h2m-53 1h2m17 0h2m-1 0h2m50 0h2m-19 2h2m3 0h2m-2 0h2m-44 1h2m17 0h2m19 0h2m3 0h2m-42 1h2m-10 1h2m38 0h2m-61 1h2m53 0h2m1 0h2m5 0h2m-38 1h2m65 0h2m-111 2h2m49 0h2m-32 1h2m3 1h2m11 0h2m18 1h2m4 2h2m-63 1h2m52 0h2m13 0h2m22 0h2m-60 1h2m-16 1h2m5 0h2m6 0h2m-50 1h2m24 0h2m40 2h2m-8 5h2m-63 5h2m69 0h2m23 0h2m-25 1h2m35 1h2m-86 1h2m-22 2h2m65 7h2m44 2h2m-87 4h2m49 1h2m-115 1h2"/><path d="M111 167h2m35 4h2m4 3h2m-25 1h2m43 1h2m-41 1h2m11 0h2m10 0h2m-57 5h2m49 1h2m20 0h2m2 0h2m-56 1h2m24 1h2m9 3h2m3 1h2m-138 2h2m44 0h2m20 1h2m4 0h2m16 1h2m-1 1h2m57 0h2m3 1h2m-39 1h2m5 1h2m20 0h2m-46 1h2m19 0h2m-30 1h2m16 0h2m-25 1h2m31 0h2m6 0h2m16 0h2m0 0h2m26 1h2m27 0h2m-102 1h2m-37 1h2m20 0h2m22 0h2m-64 1h2m66 0h2m-47 1h2m3 0h2m21 0h2m-27 1h2m2 0h2m49 0h2m11 0h2m23 0h2m-85 2h2m1 0h2m0 0h2m7 0h2m45 0h2m-28 1h2m36 0h2m-121 1h2m34 0h2m15 0h2m-14 1h2m-1 0h2m-2 0h2m0 0h2m-1 0h2m6 0h2m1 0h2m-6 1h2m0 0h2m-81 1h2m59 0h2m7 0h2m8 0h2m9 0h2m-1 0h2m38 0h2m-43 1h2m-37 1h2m16 0h2m-2 0h2m2 0h2m5 0h2m66 0h2m-108 1h2m16 0h2m0 0h2m6 0h2m3 0h2m0 0h2m61 0h2m3 0h2m-88 1h2m1 0h2m38 0h2m11 0h2m-2 0h2m-87 1h2m15 0h2m2 0h2m2 0h2m1 0h2m3 0h2m19 0h2m0 0h2m12 0h2m-63 1h2m9 0h2m-1 0h2m19 0h2m5 0h2m19 0h2m-86 1h2m11 0h2m17 0h2m11 0h2m7 0h2m2 0h2m4 0h2m26 0h2m-58 1h2m2 0h2m10 0h2m2 0h2m-37 1h2m13 0h2m3 0h2m5 0h2m0 0h2m28 0h2m0 0h2m24 0h2m-168 1h2m77 0h2m8 0h2m1 0h2m1 0h2m6 0h2m-1 0h2m10 0h2m-10 1h2m1 0h2m7 0h2m-61 1h2m15 0h2m2 0h2m1 0h2m-2 0h2m0 0h2m4 0h2m7 0h2m-2 0h2m0 0h2m2 0h2m-1 0h2m9 0h2m0 0h2m-128 1h2m31 0h2m56 0h2m4 0h2m0 0h2m54 0h2m-69 1h2m11 0h2m11 0h2m9 0h2m66 0h2m-153 1h2m3 0h2m50 0h2m-1 0h2m2 0h2m5 0h2m0 0h2m0 0h2m16 0h2m19 0h2m18 0h2m12 0h2m-180 1h2m87 0h2m3 0h2m4 0h2m6 0h2m-1 0h2m-61 1h2m6 0h2m24 0h2m-2 0h2m-1 0h2m10 0h2m1 0h2m0 0h2m16 0h2m4 0h2m3 0h2m-74 1h2m15 0h2m2 0h2m1 0h2m3 0h2m5 0h2m1 0h2m5 0h2m-28 1h2m-2 0h2m0 0h2m4 0h2m6 0h2m3 0h2m1 0h2m10 0h2m-70 1h2m18 0h2m15 0h2m-1 0h2m1 0h2m16 0h2m-1 0h2m0 0h2m1 0h2m-84 1h2m43 0h2m11 0h2m3 0h2m-2 0h2m3 0h2m23 0h2m30 0h2m4 0h2m-74 1h2m9 0h2m-2 0h2m30 0h2m-88 1h2m24 0h2m12 0h2m16 0h2m-1 0h2m-31 1h2m26 0h2m14 0h2m14 0h2m-107 1h2m28 0h2m21 0h2m6 0h2m1 0h2m2 0h2m-41 1h2m34 0h2m10 0h2m44 0h2m8 0h2m27 0h2m-128 1h2m8 0h2m3 0h2m20 0h2m11 0h2m-43 1h2m16 0h2m4 0h2m99 0h2m-134 1h2m6 0h2m-7 1h2m124 0h2m-133 1h2m12 0h2m17 0h2m-40 1h2m-1 0h2m9 0h2m11 0h2m6 0h2m6 0h2m-1 0h2m-26 1h2m7 0h2m-92 1h2m57 0h2m54 0h2m7 0h2m-61 1h2m18 0h2m-2 0h2m-1 0h2m15 0h2m0 0h2m2 0h2m12 0h2m-149 1h2m53 0h2m27 0h2m5 0h2m20 0h2m13 0h2m47 0h2m-114 1h2m14 0h2m0 0h2m15 0h2m33 0h2m5 0h2m-78 1h2m40 0h2m-1 0h2m33 0h2m65 0h2m-122 1h2m4 0h2m-1 0h2m12 0h2m3 0h2m30 0h2m23 0h2m2 0h2m-89 1h2m27 0h2m26 0h2m-103 1h2m53 0h2m-1 0h2m3 0h2m15 0h2m-17 1h2m-1 0h2m0 0h2m1 0h2m9 0h2m73 0h2m-168 1h2m57 0h2m26 0h2m0 0h2m-49 1h2m19 0h2m-74 1h2m71 0h2m1 0h2m-1 0h2m4 0h2m30 0h2m-58 1h2m3 0h2m-2 0h2m1 0h2m13 0h2m-53 1h2m19 0h2m5 0h2m1 0h2m13 0h2m2 0h2m0 0h2m-20 1h2m0 0h2m2 0h2m11 0h2m29 0h2m20 0h2m-140 1h2m26 0h2m17 0h2m17 0h2m-2 0h2m-1 0h2m-2 0h2m-2 0h2m0 0h2m19 0h2m20 0h2m5 0h2m9 0h2m-108 1h2m34 0h2m1 0h2m0 0h2m0 0h2m-1 0h2m3 0h2m2 0h2m2 0h2m6 0h2m17 0h2m-50 1h2m9 0h2m-1 0h2m4 0h2m-2 0h2m11 0h2m13 0h2m-74 1h2m18 0h2m8 0h2m2 0h2m4 0h2m-1 0h2m0 0h2m34 0h2m-45 1h2m2 0h2m7 0h2m-21 1h2m0 0h2m-2 0h2m1 0h2m-1 0h2m-1 0h2m4 0h2m0 0h2m-27 1h2m7 0h2m4 0h2m-1 0h2m-1 0h2m-1 0h2m-1 0h2m0 0h2m-1 0h2m1 0h2m-35 1h2m7 0h2m8 0h2m-1 0h2m-2 0h2m-2 0h2m1 0h2m-1 0h2m0 0h2m-1 0h2m1 0h2m5 0h2m4 0h2m-50 1h2m23 0h2m0 0h2m-1 0h2m-1 0h2m-1 0h2m0 0h2m5 0h2m15 0h2m29 0h2m-94 1h2m26 0h2m0 0h2m4 0h2m0 0h2m40 0h2m-42 1h2m-1 0h2m2 0h2m16 0h2m-100 1h2m55 0h2m14 0h2m0 0h2m4 0h2m57 0h2m-84 1h2m5 0h2m-2 0h2m1 0h2m10 0h2m-42 1h2m-6 1h2m31 0h2m7 0h2m-22 1h2m32 0h2m-69 1h2m57 0h2m25 0h2m-61 1h2m-1 0h2m3 0h2m5 0h2m22 0h2m1 0h2m-2 0h2m-95 1h2m56 0h2m2 0h2m-1 0h2m100 0h2m-108 1h2m4 0h2m-14 1h2m8 0h2m6 0h2m8 0h2m5 0h2m-40 1h2m33 0h2m13 0h2m20 0h2m-95 1h2m28 0h2m19 0h2m18 0h2m-67 1h2m60 0h2m-38 1h2m14 0h2m17 0h2m-28 1h2m35 1h2m-72 1h2m12 0h2m-6 1h2m-23 1h2m78 1h2m-129 2h2m60 0h2m36 1h2m7 0h2m22 1h2m-54 1h2m18 0h2m-34 4h2m14 0h2m-28 2h2m-41 1h2m97 0h2m27 0h2m-62 1h2m12 0h2m6 0h2m-53 1h2m46 1h2m-57 2h2m3 1h2m16 0h2m45 0h2m15 0h2m-73 2h2m26 0h2m-5 1h2m25 1h2m24 0h2m-14 1h2m-47 1h2m9 1h2m-37 1h2m46 0h2m-79 4h2m70 0h2m22 0h2m-51 3h2m-40 4h2m48 0h2m30 5h2m-61 1h2m-46 3h2m26 2h2m-26 4h2m33 4h2m2 5h2m10 1h2"/><path d="M147 157h2m67 4h2m-39 1h2m-34 8h2m23 3h2m46 0h2m-22 2h2m-3 1h2m-48 1h2m8 1h2m23 3h2m24 0h2m-64 2h2m1 1h2m1 1h2m4 0h2m-9 1h2m0 0h2m40 0h2m-72 1h2m2 0h2m27 0h2m23 0h2m-32 1h2m34 0h2m-49 1h2m13 0h2m9 0h2m12 0h2m2 1h2m-34 1h2m9 0h2m15 1h2m-100 1h2m38 2h2m-2 0h2m0 1h2m-47 1h2m80 2h2m-26 1h2m8 0h2m0 0h2m-17 1h2m70 0h2m-101 1h2m-1 0h2m11 0h2m-58 1h2m60 0h2m-1 1h2m2 1h2m-20 1h2m9 0h2m11 0h2m7 0h2m-60 1h2m12 0h2m13 1h2m5 0h2m14 0h2m21 0h2m-52 1h2m15 0h2m13 0h2m35 0h2m-60 2h2m-2 0h2m4 0h2m7 0h2m-42 1h2m21 0h2m28 0h2m-43 1h2m5 0h2m0 0h2m1 0h2m-1 0h2m47 0h2m-133 1h2m31 0h2m35 0h2m-1 0h2m8 0h2m45 0h2m-139 1h2m84 0h2m6 0h2m-80 1h2m39 0h2m38 0h2m1 0h2m2 0h2m-75 1h2m43 0h2m4 0h2m7 0h2m37 0h2m-2 0h2m-2 0h2m13 0h2m-84 1h2m18 0h2m0 0h2m-1 0h2m5 0h2m-33 1h2m1 0h2m2 0h2m0 0h2m3 0h2m23 0h2m6 0h2m51 0h2m1 0h2m-206 1h2m84 0h2m15 0h2m29 0h2m20 0h2m55 0h2m-175 1h2m68 0h2m0 0h2m6 0h2m2 0h2m2 0h2m1 0h2m1 0h2m43 0h2m-98 1h2m25 1h2m-1 0h2m21 0h2m-2 0h2m4 0h2m-38 1h2m6 0h2m-1 0h2m4 0h2m-2 0h2m4 0h2m0 0h2m2 0h2m2 0h2m5 0h2m-29 1h2m0 0h2m18 0h2m-1 0h2m3 0h2m21 0h2m-99 1h2m12 0h2m35 0h2m0 0h2m4 0h2m7 0h2m29 0h2m-58 1h2m4 0h2m-1 0h2m4 0h2m-1 0h2m-1 0h2m8 0h2m-1 0h2m5 0h2m30 0h2m-108 1h2m10 0h2m33 0h2m5 0h2m-2 0h2m15 0h2m2 0h2m17 0h2m10 0h2m-84 1h2m15 0h2m0 0h2m10 0h2m-1 0h2m0 0h2m0 0h2m4 0h2m41 0h2m-88 1h2m0 0h2m2 0h2m17 0h2m6 0h2m2 0h2m1 0h2m1 0h2m13 0h2m17 0h2m9 0h2m-76 1h2m-2 0h2m5 0h2m10 0h2m-2 0h2m5 0h2m4 0h2m-86 1h2m10 0h2m0 0h2m27 0h2m5 0h2m5 0h2m-1 0h2m6 0h2m7 0h2m0 0h2m4 0h2m5 0h2m-132 1h2m70 0h2m6 0h2m10 0h2m-1 0h2m4 0h2m14 0h2m3 0h2m1 0h2m11 0h2m55 0h2m-103 1h2m1 0h2m1 0h2m4 0h2m0 0h2m-11 1h2m8 0h2m9 0h2m10 0h2m-37 1h2m8 0h2m7 0h2m2 0h2m5 0h2m9 0h2m42 0h2m-114 1h2m27 0h2m2 0h2m11 0h2m54 0h2m7 0h2m-120 1h2m6 0h2m42 0h2m-1 0h2m21 0h2m-61 1h2m23 0h2m2 0h2m6 0h2m-2 0h2m-36 1h2m7 0h2m7 0h2m1 0h2m-4 1h2m14 0h2m8 0h2m-117 1h2m40 0h2m4 0h2m30 0h2m2 0h2m0 0h2m1 0h2m3 0h2m54 0h2m-86 1h2m58 0h2m20 0h2m-154 1h2m76 0h2m5 0h2m19 0h2m9 0h2m-41 1h2m2 0h2m4 1h2m1 0h2m14 0h2m-38 1h2m36 0h2m14 0h2m15 0h2m-100 1h2m31 0h2m0 0h2m9 0h2m-2 0h2m2 0h2m-50 1h2m5 0h2m28 0h2m2 0h2m29 0h2m37 0h2m-89 1h2m5 0h2m21 0h2m59 0h2m-74 1h2m17 0h2m10 0h2m0 0h2m55 0h2m-98 1h2m8 0h2m102 0h2m-166 1h2m32 0h2m5 0h2m14 0h2m-1 0h2m0 0h2m6 0h2m0 0h2m2 0h2m-110 1h2m25 0h2m28 0h2m6 0h2m7 0h2m4 0h2m4 0h2m5 0h2m-108 1h2m70 0h2m15 0h2m6 0h2m13 0h2m2 0h2m10 0h2m9 0h2m2 0h2m-67 1h2m10 0h2m15 0h2m0 0h2m-43 1h2m15 0h2m-2 0h2m-2 0h2m49 0h2m-66 1h2m16 0h2m10 0h2m-34 1h2m7 0h2m1 0h2m6 0h2m0 0h2m-2 0h2m8 0h2m15 0h2m11 0h2m-58 1h2m6 0h2m-1 0h2m7 0h2m35 0h2m-2 0h2m-60 1h2m17 0h2m2 0h2m5 0h2m-1 0h2m2 0h2m15 0h2m-47 1h2m2 0h2m13 0h2m3 0h2m27 0h2m0 0h2m-50 1h2m1 0h2m-1 0h2m7 0h2m5 0h2m43 0h2m-100 1h2m31 0h2m0 0h2m1 0h2m0 0h2m3 0h2m0 0h2m7 0h2m-65 1h2m1 0h2m1 0h2m16 0h2m4 0h2m15 0h2m23 0h2m67 0h2m-119 1h2m7 0h2m1 0h2m0 0h2m-1 0h2m3 0h2m-2 0h2m-1 0h2m2 0h2m2 0h2m17 0h2m-46 1h2m5 0h2m0 0h2m0 0h2m-1 0h2m-1 0h2m-1 0h2m1 0h2m-20 1h2m2 0h2m-1 0h2m4 0h2m1 0h2m0 0h2m-1 0h2m-2 0h2m0 0h2m-2 0h2m-1 0h2m0 0h2m12 0h2m-28 1h2m-1 0h2m-2 0h2m3 0h2m6 0h2m8 0h2m62 0h2m-142 1h2m52 0h2m1 0h2m0 0h2m1 0h2m0 0h2m3 0h2m-1 0h2m1 0h2m-23 1h2m0 0h2m-1 0h2m7 0h2m3 0h2m-1 0h2m3 0h2m-31 1h2m0 0h2m0 0h2m10 0h2m-12 1h2m2 0h2m3 0h2m4 0h2m6 0h2m12 0h2m-49 1h2m18 0h2m4 0h2m-76 1h2m90 0h2m4 0h2m12 1h2m-133 1h2m71 0h2m11 0h2m2 0h2m22 0h2m18 0h2m-87 1h2m8 0h2m36 0h2m-50 1h2m38 0h2m0 0h2m69 0h2m-124 1h2m20 0h2m18 0h2m17 0h2m14 0h2m-45 2h2m63 0h2m-114 1h2m49 0h2m3 0h2m2 0h2m-76 1h2m62 0h2m27 0h2m7 0h2m12 0h2m-18 1h2m-12 1h2m-39 1h2m23 0h2m10 0h2m-94 2h2m51 0h2m47 0h2m-22 1h2m-26 1h2m22 0h2m25 0h2m-52 1h2m2 0h2m-16 2h2m2 0h2m5 0h2m-39 1h2m38 0h2m7 0h2m2 0h2m-3 2h2m-25 1h2m8 0h2m17 1h2m-79 2h2m0 0h2m4 0h2m5 0h2m16 0h2m0 0h2m38 2h2m-26 1h2m50 0h2m-18 1h2m11 1h2m45 0h2m-105 2h2m42 0h2m-23 2h2m45 0h2m-56 1h2m1 0h2m-10 1h2m-42 1h2m12 1h2m75 0h2m-52 4h2m15 0h2m-12 2h2m-3 2h2m50 1h2m-23 2h2m-68 4h2m13 6h2m48 1h2m-41 11h2m-58 7h2"/><path d="M189 141h2m-13 8h2m1 1h2m4 3h2m30 2h2m-86 1h2m26 1h2m33 3h2m-14 2h2m-25 6h2m3 2h2m-57 1h2m81 0h2m-37 4h2m55 0h2m-62 1h2m6 2h2m-48 3h2m20 1h2m9 2h2m4 2h2m-11 1h2m18 0h2m-2 0h2m-43 2h2m104 0h2m-93 2h2m-1 0h2m31 0h2m-17 1h2m5 0h2m29 0h2m-1 1h2m3 0h2m-112 1h2m81 0h2m-12 2h2m2 0h2m33 1h2m-107 2h2m37 0h2m-19 1h2m29 0h2m42 0h2m-66 1h2m31 1h2m-51 1h2m10 0h2m-6 2h2m14 0h2m8 0h2m32 0h2m-46 1h2m-1 1h2m-36 1h2m6 0h2m5 0h2m6 0h2m-67 1h2m54 0h2m9 0h2m23 0h2m14 0h2m-82 1h2m16 0h2m7 0h2m115 0h2m-128 1h2m32 0h2m-43 1h2m-2 0h2m6 0h2m-1 0h2m15 0h2m8 0h2m-1 0h2m-28 1h2m22 0h2m-23 1h2m0 0h2m0 0h2m6 0h2m4 0h2m-1 0h2m-2 0h2m-25 1h2m10 0h2m3 0h2m7 0h2m18 0h2m20 0h2m-95 1h2m25 0h2m9 0h2m5 0h2m-2 0h2m8 0h2m19 0h2m-67 1h2m7 0h2m2 0h2m29 0h2m-71 1h2m39 0h2m0 0h2m8 0h2m-1 0h2m11 0h2m17 0h2m9 0h2m7 0h2m-105 1h2m13 0h2m15 0h2m6 0h2m5 0h2m5 0h2m80 0h2m-156 1h2m42 0h2m7 0h2m-1 0h2m5 0h2m-1 0h2m7 0h2m2 0h2m53 0h2m-92 1h2m18 0h2m0 0h2m4 0h2m51 0h2m4 0h2m36 0h2m-115 1h2m0 0h2m-1 0h2m-1 0h2m8 0h2m4 0h2m10 0h2m3 0h2m34 0h2m-1 0h2m-181 1h2m59 0h2m61 0h2m1 0h2m7 0h2m2 0h2m1 0h2m-85 1h2m31 0h2m9 0h2m2 0h2m-1 0h2m5 0h2m7 0h2m32 0h2m-58 1h2m31 0h2m6 0h2m37 0h2m-94 1h2m-2 0h2m0 0h2m-1 0h2m9 0h2m0 0h2m5 0h2m1 0h2m-1 0h2m7 0h2m-30 1h2m7 0h2m2 0h2m-1 0h2m-1 0h2m1 0h2m0 0h2m-2 0h2m-2 0h2m21 0h2m85 0h2m-159 1h2m12 0h2m5 0h2m13 0h2m14 0h2m-2 0h2m3 0h2m3 0h2m-55 1h2m13 0h2m20 0h2m-2 0h2m15 0h2m1 0h2m10 0h2m4 0h2m6 0h2m-60 1h2m11 0h2m3 0h2m1 0h2m24 0h2m-80 1h2m21 0h2m5 0h2m-1 0h2m0 0h2m3 0h2m5 0h2m11 0h2m-69 1h2m31 0h2m3 0h2m9 0h2m-2 0h2m-1 0h2m-2 0h2m5 0h2m8 0h2m11 0h2m-81 1h2m42 0h2m15 0h2m4 0h2m101 0h2m-147 1h2m10 0h2m4 0h2m9 0h2m-26 1h2m7 0h2m1 0h2m5 0h2m8 0h2m0 0h2m18 0h2m-63 1h2m18 0h2m2 0h2m7 0h2m-1 0h2m-18 1h2m-52 1h2m20 0h2m2 0h2m17 0h2m-1 0h2m-2 0h2m5 0h2m13 0h2m-2 0h2m-97 1h2m72 0h2m13 0h2m-1 0h2m2 1h2m19 0h2m-69 1h2m4 0h2m2 0h2m7 0h2m6 0h2m2 0h2m20 0h2m-44 1h2m11 0h2m2 0h2m8 0h2m10 0h2m-121 1h2m74 0h2m43 0h2m56 0h2m-164 1h2m53 0h2m7 0h2m32 0h2m82 0h2m-123 1h2m9 0h2m4 0h2m13 0h2m1 0h2m-2 0h2m9 0h2m11 0h2m-84 1h2m10 0h2m49 0h2m19 0h2m-78 1h2m17 0h2m-1 0h2m17 0h2m-1 0h2m11 0h2m12 0h2m-129 1h2m119 0h2m48 0h2m-32 1h2m-84 1h2m-1 0h2m17 0h2m9 0h2m3 0h2m14 0h2m0 0h2m-1 0h2m5 0h2m0 0h2m36 0h2m-133 1h2m46 0h2m5 0h2m-1 0h2m-2 0h2m16 0h2m6 0h2m4 0h2m3 0h2m2 0h2m-84 1h2m-1 0h2m23 0h2m9 0h2m53 0h2m1 0h2m-94 1h2m28 0h2m35 0h2m32 0h2m-106 1h2m9 0h2m4 0h2m26 0h2m12 0h2m45 0h2m-87 1h2m10 0h2m18 0h2m0 0h2m-40 1h2m23 0h2m6 0h2m1 0h2m27 0h2m-69 1h2m10 0h2m4 0h2m10 0h2m0 0h2m-42 1h2m9 0h2m8 0h2m-1 0h2m21 0h2m10 0h2m27 0h2m-71 1h2m10 0h2m-76 1h2m34 0h2m-1 0h2m21 0h2m1 0h2m8 0h2m24 0h2m14 0h2m14 0h2m9 0h2m-86 1h2m2 0h2m7 0h2m2 0h2m-1 0h2m1 0h2m13 0h2m6 0h2m-76 1h2m31 0h2m13 0h2m19 0h2m50 0h2m-91 1h2m10 0h2m-1 0h2m-1 0h2m2 0h2m9 0h2m-31 1h2m0 0h2m2 0h2m-2 0h2m-2 0h2m2 0h2m-1 0h2m-2 0h2m0 0h2m-1 0h2m-2 0h2m-1 0h2m1 0h2m0 0h2m18 0h2m-104 1h2m61 0h2m0 0h2m-1 0h2m-1 0h2m-1 0h2m3 0h2m-1 0h2m-1 0h2m-1 0h2m11 0h2m-30 1h2m2 0h2m3 0h2m0 0h2m0 0h2m1 0h2m-2 0h2m-1 0h2m6 0h2m9 0h2m-29 1h2m-1 0h2m8 0h2m0 0h2m28 0h2m3 0h2m-55 1h2m7 0h2m3 0h2m-68 1h2m46 0h2m3 0h2m3 0h2m-14 1h2m5 0h2m7 0h2m16 0h2m6 0h2m-39 1h2m2 0h2m-2 0h2m2 0h2m2 0h2m3 0h2m-2 0h2m22 0h2m-41 1h2m3 0h2m28 0h2m-53 1h2m15 0h2m0 0h2m1 0h2m5 0h2m4 0h2m-1 0h2m13 0h2m-1 0h2m29 0h2m9 0h2m-120 1h2m40 0h2m5 0h2m16 0h2m-80 1h2m73 0h2m16 0h2m-92 1h2m52 0h2m-2 0h2m-33 1h2m19 0h2m73 0h2m-134 1h2m43 0h2m16 0h2m-34 1h2m0 0h2m25 0h2m-2 0h2m34 0h2m10 0h2m1 0h2m-31 1h2m6 0h2m-8 1h2m-45 1h2m64 0h2m-1 0h2m-51 1h2m0 0h2m-1 1h2m-24 1h2m39 0h2m13 0h2m-85 1h2m44 0h2m11 1h2m-9 1h2m28 0h2m-11 1h2m-2 0h2m28 0h2m-43 1h2m29 0h2m-20 1h2m-44 1h2m1 0h2m19 0h2m-1 0h2m4 2h2m5 0h2m-5 1h2m18 2h2m-61 2h2m46 0h2m-43 2h2m67 0h2m-87 2h2m6 2h2m42 0h2m2 0h2m-8 1h2m-26 1h2m-54 1h2m17 0h2m10 0h2m48 0h2m0 1h2m-78 1h2m16 1h2m21 0h2m42 0h2m-52 1h2m10 0h2m48 0h2m-33 1h2m14 0h2m-51 1h2m48 0h2m11 3h2m-28 2h2m-22 4h2m-25 2h2m34 1h2m-25 1h2m-1 0h2m-18 1h2m19 5h2m-2 2h2m-4 3h2m-50 3h2m105 6h2"/><path d="M179 138h2m6 7h2m74 9h2m-115 3h2m27 4h2m3 0h2m-16 3h2m45 1h2m-49 5h2m-5 1h2m-53 7h2m95 0h2m-131 2h2m34 0h2m76 0h2m-4 1h2m-54 2h2m51 0h2m-8 1h2m10 1h2m-71 1h2m77 1h2m-86 3h2m44 0h2m5 0h2m-67 1h2m64 0h2m-91 1h2m143 0h2m-88 1h2m-79 1h2m38 1h2m35 1h2m-11 1h2m-1 0h2m11 0h2m11 0h2m2 0h2m11 1h2m-44 1h2m-5 1h2m9 0h2m39 0h2m-97 1h2m28 0h2m10 0h2m-2 0h2m37 0h2m10 0h2m-173 1h2m103 0h2m17 0h2m6 0h2m5 0h2m-53 1h2m33 0h2m16 0h2m-71 1h2m32 0h2m0 0h2m11 0h2m-6 2h2m26 0h2m-24 1h2m22 0h2m30 0h2m-104 1h2m25 0h2m5 0h2m-44 1h2m63 0h2m20 0h2m74 0h2m-134 1h2m-1 0h2m8 0h2m29 0h2m-73 1h2m-1 0h2m32 0h2m6 0h2m5 0h2m23 0h2m22 1h2m-1 0h2m-82 1h2m10 0h2m7 0h2m-48 1h2m23 0h2m38 0h2m7 0h2m65 0h2m-128 1h2m18 0h2m-2 0h2m2 0h2m4 0h2m30 0h2m5 0h2m30 0h2m6 0h2m-109 1h2m24 0h2m-1 0h2m10 0h2m2 0h2m-24 1h2m-1 0h2m-1 0h2m15 0h2m10 0h2m-34 1h2m10 0h2m0 0h2m0 0h2m1 0h2m-42 1h2m7 0h2m7 0h2m9 0h2m-1 0h2m4 0h2m3 0h2m34 0h2m1 0h2m-76 1h2m16 0h2m0 0h2m-1 0h2m7 0h2m6 0h2m-25 1h2m0 0h2m6 0h2m0 0h2m-2 0h2m11 0h2m5 0h2m0 0h2m47 0h2m-112 1h2m16 0h2m5 0h2m1 0h2m20 0h2m8 0h2m2 0h2m-2 0h2m13 0h2m12 0h2m2 0h2m-79 1h2m0 0h2m0 0h2m2 0h2m0 0h2m-1 0h2m4 0h2m-24 1h2m7 0h2m-1 0h2m8 0h2m-29 1h2m-2 0h2m1 0h2m19 0h2m-2 0h2m-1 0h2m-2 0h2m4 0h2m-37 1h2m2 0h2m8 0h2m0 0h2m4 0h2m1 0h2m-2 0h2m8 0h2m20 0h2m15 0h2m-88 1h2m32 0h2m0 0h2m5 0h2m-1 0h2m-1 0h2m5 0h2m54 0h2m-96 1h2m8 0h2m-1 0h2m1 0h2m12 0h2m5 0h2m-1 0h2m49 0h2m4 0h2m-99 1h2m10 0h2m6 0h2m2 0h2m4 0h2m2 0h2m-1 0h2m-1 0h2m13 0h2m2 0h2m-50 1h2m11 0h2m-2 0h2m0 0h2m8 0h2m1 0h2m-29 1h2m7 0h2m9 0h2m7 0h2m17 0h2m18 0h2m18 0h2m-130 1h2m7 0h2m32 0h2m2 0h2m5 0h2m-1 0h2m3 0h2m-2 0h2m1 0h2m0 0h2m1 0h2m7 0h2m2 0h2m-1 0h2m-63 1h2m20 0h2m21 0h2m3 0h2m-41 1h2m4 0h2m0 0h2m10 0h2m-2 0h2m4 0h2m0 0h2m1 0h2m-25 1h2m17 0h2m2 0h2m-15 1h2m5 0h2m17 0h2m-121 1h2m43 0h2m37 0h2m7 0h2m49 0h2m53 0h2m-159 1h2m51 0h2m-44 1h2m28 0h2m10 0h2m7 0h2m4 0h2m6 0h2m3 0h2m0 0h2m25 0h2m38 0h2m-144 1h2m34 0h2m5 0h2m-1 0h2m1 0h2m-29 1h2m17 0h2m14 0h2m38 0h2m-89 1h2m5 0h2m11 0h2m-1 0h2m21 0h2m2 0h2m-74 1h2m50 0h2m7 0h2m8 0h2m18 0h2m-73 1h2m4 0h2m13 0h2m3 0h2m-2 0h2m0 0h2m0 0h2m14 0h2m30 0h2m-60 1h2m6 0h2m2 0h2m4 0h2m10 0h2m8 0h2m18 0h2m-60 1h2m21 0h2m-36 1h2m32 0h2m30 0h2m-1 0h2m-117 1h2m47 0h2m35 0h2m7 0h2m14 0h2m3 0h2m-74 1h2m0 0h2m21 0h2m-44 1h2m30 0h2m12 0h2m-1 0h2m-24 1h2m1 0h2m68 0h2m-79 1h2m30 0h2m29 0h2m-142 1h2m84 0h2m9 0h2m5 0h2m10 0h2m5 0h2m59 0h2m-142 1h2m64 0h2m7 0h2m-45 1h2m-2 0h2m13 0h2m6 0h2m0 0h2m32 0h2m30 0h2m-110 1h2m5 0h2m26 0h2m-1 0h2m-1 0h2m5 0h2m-1 0h2m-2 0h2m24 0h2m-52 1h2m10 0h2m5 0h2m49 0h2m-110 1h2m17 0h2m10 0h2m9 0h2m4 0h2m25 0h2m-45 1h2m27 0h2m7 0h2m-1 0h2m-26 1h2m-2 0h2m1 0h2m-1 0h2m7 0h2m-34 1h2m8 0h2m2 0h2m4 0h2m-2 0h2m2 0h2m1 0h2m-16 1h2m1 0h2m0 0h2m1 0h2m0 0h2m5 0h2m0 0h2m4 0h2m6 0h2m-37 1h2m-1 0h2m4 0h2m2 0h2m9 0h2m6 0h2m-37 1h2m5 0h2m0 0h2m-2 0h2m3 0h2m10 0h2m6 0h2m20 0h2m5 0h2m-63 1h2m4 0h2m4 0h2m-2 0h2m4 0h2m-1 0h2m40 0h2m-104 1h2m44 0h2m2 0h2m17 0h2m8 0h2m-67 1h2m30 0h2m-1 0h2m2 0h2m0 0h2m2 0h2m2 0h2m32 0h2m-94 1h2m43 0h2m0 0h2m-2 0h2m1 0h2m4 0h2m18 0h2m25 0h2m-102 1h2m25 0h2m11 0h2m-1 0h2m-2 0h2m-2 0h2m3 0h2m0 0h2m3 0h2m51 0h2m-78 1h2m1 0h2m7 0h2m45 0h2m-52 1h2m0 0h2m-2 0h2m3 0h2m21 0h2m6 0h2m-86 1h2m34 0h2m4 0h2m2 0h2m2 0h2m3 0h2m-16 1h2m2 0h2m5 0h2m2 0h2m-1 0h2m16 0h2m-21 1h2m1 0h2m-30 1h2m-34 1h2m17 0h2m30 0h2m7 0h2m24 0h2m2 0h2m29 0h2m-132 1h2m52 0h2m3 0h2m16 0h2m-71 1h2m4 1h2m52 0h2m-1 0h2m6 0h2m8 0h2m-34 1h2m-40 1h2m45 0h2m4 1h2m-84 1h2m90 0h2m-41 1h2m2 0h2m9 0h2m19 0h2m19 0h2m-10 1h2m-62 1h2m-11 1h2m18 0h2m-11 1h2m25 0h2m-26 1h2m58 0h2m-49 1h2m7 0h2m14 1h2m1 0h2m-29 1h2m2 1h2m-68 1h2m54 0h2m28 0h2m-1 1h2m-35 1h2m28 1h2m4 0h2m-20 1h2m-42 1h2m14 0h2m16 0h2m26 0h2m-52 1h2m40 0h2m-22 2h2m-28 1h2m2 2h2m12 0h2m72 0h2m-62 3h2m6 0h2m0 0h2m10 0h2m-66 2h2m75 0h2m-55 1h2m-21 3h2m69 0h2m-61 1h2m41 0h2m-59 2h2m14 0h2m-9 2h2m26 0h2m10 0h2m-56 2h2m32 0h2m3 3h2m35 2h2m-63 2h2m10 2h2m-10 1h2m-8 2h2m6 6h2m54 1h2m-42 2h2m-11 5h2m62 2h2m-119 5h2m8 0h2"/><path d="M7 135h2m131 11h2m77 6h2m-37 3h2m18 2h2m-26 6h2m20 4h2m-59 2h2m32 3h2m12 2h2m-69 2h2m51 5h2m-8 1h2m23 0h2m-61 4h2m-7 1h2m81 1h2m-74 1h2m-41 1h2m60 0h2m75 0h2m-98 2h2m-42 1h2m110 0h2m-60 1h2m60 0h2m-82 1h2m16 0h2m13 0h2m24 0h2m-57 1h2m21 1h2m-42 1h2m53 0h2m-40 1h2m39 0h2m32 0h2m-98 1h2m28 0h2m-35 1h2m-25 1h2m29 0h2m34 0h2m-37 1h2m7 0h2m63 0h2m-101 2h2m12 0h2m9 0h2m26 0h2m-127 1h2m83 0h2m1 1h2m2 0h2m11 0h2m3 0h2m3 0h2m27 0h2m-71 1h2m17 1h2m10 0h2m4 0h2m-5 1h2m5 0h2m37 0h2m-92 2h2m0 0h2m6 0h2m16 0h2m25 0h2m1 0h2m28 0h2m-106 1h2m1 0h2m23 0h2m11 0h2m5 0h2m0 0h2m19 0h2m-88 1h2m72 0h2m-32 1h2m3 0h2m19 0h2m-1 0h2m-45 1h2m23 0h2m10 0h2m7 0h2m2 0h2m23 0h2m-46 1h2m5 0h2m6 0h2m16 0h2m4 0h2m-67 1h2m22 0h2m8 0h2m24 0h2m-36 1h2m26 0h2m13 0h2m17 0h2m-89 1h2m10 0h2m1 0h2m3 0h2m-1 0h2m0 0h2m1 0h2m2 0h2m13 0h2m-70 1h2m27 0h2m9 0h2m5 0h2m4 0h2m57 0h2m22 0h2m-110 1h2m1 0h2m0 0h2m0 0h2m11 0h2m0 0h2m12 0h2m1 0h2m0 0h2m45 0h2m22 0h2m-115 1h2m4 0h2m6 0h2m3 0h2m-2 0h2m2 0h2m-2 0h2m8 0h2m68 0h2m-112 1h2m35 0h2m2 0h2m3 0h2m-65 1h2m43 0h2m-1 0h2m9 0h2m4 0h2m55 0h2m-130 1h2m20 0h2m0 0h2m8 0h2m31 0h2m9 0h2m38 0h2m-102 1h2m29 0h2m0 0h2m8 0h2m-29 1h2m3 0h2m1 0h2m-1 0h2m5 0h2m1 0h2m-1 0h2m10 0h2m-39 1h2m1 0h2m13 0h2m5 0h2m0 0h2m1 0h2m0 0h2m16 0h2m-130 1h2m73 0h2m0 0h2m8 0h2m1 0h2m1 0h2m0 0h2m-1 0h2m7 0h2m-58 1h2m-1 0h2m34 0h2m-1 0h2m1 0h2m2 0h2m-2 0h2m4 0h2m3 0h2m3 0h2m0 0h2m2 0h2m0 0h2m-51 1h2m17 0h2m7 0h2m-2 0h2m-2 0h2m0 0h2m1 0h2m6 0h2m2 0h2m-38 1h2m2 0h2m5 0h2m-1 0h2m0 0h2m-2 0h2m4 0h2m8 0h2m-64 1h2m1 0h2m30 0h2m19 0h2m4 0h2m-1 0h2m-1 0h2m-38 1h2m12 0h2m7 0h2m7 0h2m12 0h2m-69 1h2m5 0h2m16 0h2m25 0h2m3 0h2m1 0h2m-57 1h2m24 0h2m5 0h2m-2 0h2m6 0h2m1 0h2m-2 0h2m1 0h2m1 0h2m1 0h2m1 0h2m5 0h2m21 0h2m-71 1h2m15 0h2m9 0h2m-36 1h2m69 0h2m-62 1h2m5 0h2m-21 1h2m8 0h2m4 0h2m-22 1h2m9 0h2m4 0h2m1 0h2m2 0h2m10 0h2m51 0h2m-67 1h2m-1 0h2m10 0h2m3 0h2m13 0h2m0 0h2m28 0h2m-115 1h2m43 0h2m7 0h2m-2 0h2m7 0h2m0 0h2m30 0h2m17 0h2m-55 1h2m-69 1h2m1 0h2m33 0h2m-2 0h2m38 0h2m12 0h2m-84 1h2m17 0h2m7 0h2m8 0h2m-1 0h2m7 0h2m-2 0h2m9 0h2m-46 1h2m-1 0h2m7 0h2m5 0h2m5 0h2m5 0h2m9 0h2m16 0h2m-83 1h2m-2 0h2m0 0h2m31 0h2m5 0h2m1 0h2m0 0h2m-1 0h2m18 0h2m-58 1h2m8 0h2m14 0h2m18 0h2m8 0h2m9 0h2m-72 1h2m0 0h2m14 0h2m1 0h2m16 0h2m6 0h2m3 0h2m2 0h2m2 0h2m-69 1h2m50 0h2m11 0h2m11 0h2m-58 2h2m7 0h2m16 0h2m19 0h2m10 0h2m7 0h2m-66 1h2m2 0h2m18 0h2m0 0h2m-42 1h2m25 0h2m-2 0h2m34 0h2m-57 1h2m-1 0h2m2 0h2m2 0h2m70 0h2m-83 1h2m41 0h2m-45 1h2m1 0h2m3 0h2m2 0h2m-2 0h2m1 0h2m0 0h2m42 0h2m-113 1h2m53 0h2m0 0h2m1 0h2m1 0h2m0 0h2m24 0h2m-39 1h2m6 0h2m4 0h2m2 0h2m7 0h2m2 0h2m24 0h2m0 0h2m-76 1h2m13 0h2m1 0h2m0 0h2m1 0h2m7 0h2m-2 0h2m-95 1h2m15 0h2m5 0h2m35 0h2m15 0h2m2 0h2m42 0h2m-55 1h2m5 0h2m11 0h2m55 0h2m-83 1h2m7 0h2m69 0h2m-78 1h2m0 0h2m-1 0h2m-2 0h2m1 0h2m0 0h2m2 0h2m-2 0h2m0 0h2m0 0h2m-2 0h2m-1 0h2m3 0h2m16 0h2m8 0h2m-50 1h2m1 0h2m45 0h2m-121 1h2m-2 0h2m36 0h2m27 0h2m4 0h2m4 0h2m3 0h2m3 0h2m-13 1h2m0 0h2m-13 1h2m1 0h2m4 0h2m-2 0h2m5 0h2m15 0h2m16 0h2m-120 1h2m50 0h2m17 0h2m2 0h2m0 0h2m34 0h2m5 0h2m-85 1h2m-1 0h2m0 0h2m20 0h2m6 0h2m0 0h2m1 0h2m2 0h2m9 0h2m4 0h2m6 0h2m-1 0h2m14 0h2m-98 2h2m34 0h2m8 0h2m-1 0h2m0 0h2m0 0h2m-34 2h2m15 0h2m48 0h2m-66 1h2m14 0h2m-1 0h2m17 0h2m3 0h2m-97 1h2m22 0h2m64 0h2m8 0h2m-48 1h2m12 0h2m19 0h2m-2 0h2m8 0h2m11 0h2m-49 1h2m34 0h2m-2 0h2m-14 1h2m22 0h2m2 0h2m-28 1h2m7 0h2m-41 1h2m6 0h2m6 0h2m4 0h2m27 0h2m-29 1h2m-2 0h2m14 0h2m-9 1h2m1 0h2m-1 0h2m5 0h2m19 0h2m-6 1h2m-57 1h2m-10 1h2m6 0h2m24 0h2m11 0h2m-65 1h2m46 0h2m-47 1h2m46 0h2m-16 1h2m26 0h2m0 0h2m-38 1h2m6 0h2m-64 1h2m5 0h2m38 0h2m-71 1h2m49 0h2m31 0h2m-30 1h2m13 0h2m-30 2h2m21 0h2m37 0h2m-91 2h2m55 0h2m-16 1h2m14 0h2m14 1h2m-52 3h2m8 1h2m60 1h2m38 0h2m-50 1h2m-54 1h2m7 0h2m9 1h2m-24 1h2m31 0h2m37 0h2m-20 1h2m-47 1h2m20 2h2m11 0h2m18 0h2m-82 2h2m36 2h2m63 0h2m1 2h2m-101 3h2m47 1h2m0 0h2m27 0h2m-67 5h2m-32 1h2m75 4h2m-18 1h2m6 0h2m-68 1h2m88 0h2m5 5h2m-31 1h2m-42 1h2m4 3h2m-20 5h2m-8 3h2"/><path d="M173 137h2m-21 8h2m43 4h2m18 4h2m-38 9h2m37 2h2m-40 4h2m-34 2h2m-91 2h2m119 0h2m11 0h2m28 0h2m-193 2h2m166 2h2m-55 1h2m10 1h2m26 1h2m-61 1h2m10 0h2m36 5h2m-40 3h2m31 0h2m-64 1h2m47 2h2m29 0h2m-193 1h2m164 0h2m-65 1h2m61 1h2m5 1h2m20 0h2m56 0h2m-147 1h2m85 0h2m-90 2h2m43 0h2m14 0h2m18 1h2m2 0h2m25 0h2m-87 2h2m-1 0h2m7 0h2m-33 2h2m30 0h2m34 0h2m19 0h2m-13 1h2m4 0h2m-55 1h2m-37 1h2m8 0h2m52 0h2m-74 1h2m30 0h2m23 0h2m-18 1h2m16 0h2m-82 1h2m-2 0h2m41 0h2m55 0h2m-73 2h2m5 0h2m21 0h2m21 1h2m-68 1h2m14 0h2m5 0h2m4 0h2m-35 1h2m34 0h2m-2 0h2m-1 0h2m6 0h2m30 0h2m-55 1h2m1 0h2m0 0h2m1 0h2m4 0h2m-2 0h2m-2 0h2m-68 1h2m61 0h2m4 0h2m-1 0h2m7 0h2m-25 1h2m2 0h2m-1 0h2m6 0h2m3 0h2m13 0h2m21 0h2m-61 1h2m5 0h2m3 0h2m5 0h2m-26 1h2m7 0h2m3 0h2m11 0h2m1 0h2m4 0h2m27 0h2m-89 1h2m4 0h2m10 0h2m9 0h2m4 0h2m0 0h2m1 0h2m2 0h2m-1 0h2m0 0h2m6 0h2m2 0h2m11 0h2m48 0h2m-89 1h2m0 0h2m6 0h2m0 0h2m1 0h2m-11 1h2m-2 0h2m1 0h2m-2 0h2m1 0h2m10 0h2m3 0h2m18 0h2m-2 0h2m-77 1h2m-2 0h2m15 0h2m5 0h2m17 0h2m-31 1h2m-5 1h2m8 0h2m6 0h2m47 0h2m-76 1h2m6 0h2m3 0h2m15 0h2m7 0h2m-2 0h2m31 0h2m-74 1h2m4 0h2m-2 0h2m9 0h2m1 0h2m-1 0h2m0 0h2m-1 0h2m4 0h2m31 0h2m-80 1h2m49 0h2m7 0h2m52 0h2m-126 1h2m-1 0h2m17 0h2m4 0h2m9 0h2m-1 0h2m6 0h2m0 0h2m1 0h2m11 0h2m-14 1h2m10 0h2m2 0h2m55 0h2m-101 1h2m3 0h2m-1 0h2m3 0h2m1 0h2m15 0h2m-1 0h2m0 0h2m-2 0h2m34 0h2m-56 1h2m-1 0h2m5 0h2m14 0h2m33 0h2m-107 1h2m26 0h2m3 0h2m-2 0h2m5 0h2m-1 0h2m16 0h2m-2 0h2m-39 1h2m4 0h2m-1 0h2m8 0h2m24 0h2m30 0h2m-115 1h2m27 0h2m19 0h2m13 0h2m4 0h2m2 0h2m13 0h2m21 0h2m4 0h2m-78 1h2m20 0h2m11 0h2m-1 0h2m3 0h2m24 0h2m10 0h2m-173 1h2m74 0h2m10 0h2m4 0h2m14 0h2m55 0h2m-65 1h2m8 0h2m18 0h2m1 0h2m0 0h2m18 0h2m-73 1h2m-2 0h2m7 0h2m4 0h2m0 0h2m8 0h2m18 0h2m-45 1h2m1 0h2m13 0h2m2 0h2m2 0h2m7 0h2m7 0h2m5 0h2m-82 1h2m25 0h2m5 0h2m2 0h2m6 0h2m3 0h2m1 0h2m4 0h2m10 0h2m-39 1h2m9 0h2m0 0h2m-2 0h2m1 0h2m0 0h2m40 0h2m8 0h2m-104 1h2m27 0h2m89 0h2m-101 1h2m9 0h2m3 0h2m1 0h2m5 0h2m11 0h2m29 0h2m-92 1h2m33 0h2m2 0h2m2 0h2m16 0h2m7 0h2m-87 1h2m25 0h2m29 0h2m18 0h2m-75 1h2m8 0h2m12 0h2m0 0h2m-1 0h2m0 0h2m15 0h2m21 0h2m6 0h2m19 0h2m-85 1h2m1 0h2m2 0h2m4 0h2m18 0h2m-1 0h2m2 0h2m9 0h2m24 0h2m-77 1h2m8 0h2m44 0h2m11 0h2m32 0h2m-116 1h2m45 0h2m4 0h2m43 0h2m-104 1h2m25 0h2m40 0h2m-58 1h2m-2 0h2m16 0h2m2 0h2m3 0h2m19 0h2m-62 1h2m34 0h2m27 0h2m9 0h2m-48 1h2m46 0h2m-110 1h2m3 0h2m59 0h2m2 0h2m8 0h2m-41 1h2m24 0h2m1 0h2m3 0h2m-1 0h2m10 0h2m-35 1h2m12 0h2m3 0h2m15 0h2m-45 1h2m6 0h2m-2 0h2m-1 0h2m1 0h2m19 0h2m1 0h2m6 0h2m-58 1h2m13 0h2m9 0h2m-8 1h2m0 0h2m-2 0h2m3 0h2m0 0h2m2 0h2m20 0h2m-49 1h2m-2 0h2m8 0h2m4 0h2m-1 0h2m30 0h2m-33 1h2m-1 0h2m-1 0h2m2 0h2m15 0h2m-108 1h2m52 0h2m14 0h2m2 0h2m-1 0h2m6 0h2m-1 0h2m17 0h2m7 0h2m25 0h2m-69 1h2m1 0h2m1 0h2m1 0h2m1 0h2m1 0h2m32 0h2m6 0h2m-58 1h2m-2 0h2m2 0h2m0 0h2m-1 0h2m1 0h2m-1 0h2m2 0h2m-22 1h2m0 0h2m4 0h2m2 0h2m3 0h2m-2 0h2m1 0h2m5 0h2m4 0h2m-103 1h2m57 0h2m5 0h2m5 0h2m-2 0h2m1 0h2m1 0h2m0 0h2m-1 0h2m4 0h2m9 0h2m12 0h2m-48 1h2m2 0h2m0 0h2m9 0h2m1 0h2m12 0h2m3 0h2m7 0h2m-128 1h2m17 0h2m65 0h2m8 0h2m11 0h2m-1 0h2m3 0h2m10 0h2m-54 1h2m9 0h2m-4 1h2m1 0h2m1 0h2m27 0h2m24 0h2m6 0h2m-70 1h2m2 0h2m2 0h2m-2 0h2m13 0h2m-62 1h2m21 0h2m5 0h2m14 0h2m1 0h2m39 0h2m-45 1h2m15 0h2m0 0h2m1 0h2m-87 1h2m52 0h2m2 0h2m0 0h2m-2 0h2m7 0h2m5 0h2m-26 1h2m3 0h2m11 0h2m10 0h2m9 0h2m-77 1h2m33 0h2m8 0h2m2 0h2m-74 1h2m35 0h2m-5 1h2m36 0h2m19 0h2m20 0h2m-47 1h2m-15 1h2m6 0h2m6 0h2m1 0h2m-57 1h2m34 0h2m6 0h2m26 0h2m-111 1h2m104 1h2m-56 1h2m26 0h2m2 0h2m12 0h2m3 1h2m-27 1h2m8 1h2m15 0h2m-71 1h2m41 0h2m42 0h2m5 0h2m-51 1h2m21 1h2m-101 2h2m19 0h2m17 0h2m45 0h2m-7 1h2m-4 1h2m16 0h2m-83 1h2m30 0h2m55 1h2m-58 1h2m24 0h2m34 0h2m-62 1h2m9 0h2m31 1h2m-57 1h2m11 0h2m56 0h2m-21 2h2m20 0h2m-62 1h2m15 0h2m-4 1h2m-31 1h2m31 3h2m-17 1h2m-14 1h2m40 0h2m-21 2h2m5 1h2m81 1h2m-130 1h2m5 0h2m27 1h2m44 0h2m20 1h2m-49 2h2m-6 1h2m-5 1h2m-33 1h2m-47 1h2m64 0h2m-33 1h2m42 4h2m-11 1h2m1 1h2m-57 3h2m30 0h2m21 3h2m3 0h2m2 5h2m-14 1h2m30 4h2m26 0h2"/><path d="M186 142h2m-37 10h2m88 0h2m-19 1h2m-63 2h2m72 6h2m-63 2h2m0 2h2m1 0h2m37 1h2m-5 3h2m37 0h2m-92 3h2m12 6h2m54 2h2m-137 2h2m107 0h2m40 0h2m-160 1h2m36 0h2m-46 1h2m64 0h2m-27 1h2m53 0h2m-65 2h2m69 0h2m10 0h2m-34 1h2m24 0h2m-111 1h2m27 0h2m8 0h2m7 0h2m30 0h2m-30 1h2m41 1h2m0 0h2m20 0h2m-86 1h2m40 0h2m-14 1h2m22 0h2m-41 1h2m32 0h2m24 0h2m-131 1h2m48 0h2m48 2h2m-138 1h2m64 0h2m18 0h2m61 0h2m-58 1h2m21 0h2m-21 1h2m-12 1h2m17 1h2m4 0h2m-10 1h2m19 0h2m-44 1h2m1 0h2m14 0h2m26 0h2m-31 1h2m23 0h2m-23 1h2m-9 1h2m11 0h2m7 0h2m27 0h2m-59 1h2m11 0h2m-22 1h2m11 0h2m7 0h2m11 0h2m60 0h2m-45 1h2m-65 1h2m12 0h2m1 0h2m0 0h2m2 0h2m15 0h2m-54 1h2m3 0h2m9 0h2m11 0h2m-1 0h2m1 0h2m7 0h2m25 0h2m45 0h2m-118 1h2m7 0h2m11 0h2m16 0h2m7 0h2m-47 1h2m18 0h2m8 0h2m18 0h2m-43 1h2m7 0h2m10 0h2m10 0h2m5 0h2m17 0h2m27 0h2m-87 1h2m17 0h2m-2 0h2m-1 0h2m11 0h2m-128 1h2m96 0h2m22 0h2m-1 0h2m-2 0h2m9 0h2m26 0h2m-51 1h2m1 0h2m-40 1h2m38 0h2m10 0h2m18 0h2m-53 1h2m2 0h2m4 0h2m0 0h2m3 0h2m0 0h2m61 0h2m-88 1h2m9 0h2m-1 0h2m-1 0h2m-1 0h2m12 0h2m3 0h2m33 0h2m-116 1h2m35 0h2m10 0h2m-2 0h2m-1 0h2m-1 0h2m-2 0h2m3 0h2m17 0h2m-45 1h2m13 0h2m3 0h2m2 0h2m13 0h2m6 0h2m5 0h2m-69 1h2m23 0h2m5 0h2m0 0h2m-1 0h2m-1 0h2m-2 0h2m12 0h2m8 0h2m2 0h2m47 0h2m-92 1h2m4 0h2m6 0h2m9 0h2m2 0h2m3 0h2m18 0h2m3 0h2m54 0h2m-101 1h2m40 0h2m-60 1h2m-2 0h2m23 0h2m12 0h2m-50 1h2m6 0h2m1 0h2m0 0h2m9 0h2m0 0h2m11 0h2m3 0h2m-1 0h2m-29 1h2m-2 0h2m2 0h2m-1 0h2m2 0h2m-1 0h2m13 0h2m7 0h2m12 0h2m-72 1h2m5 0h2m14 0h2m19 0h2m2 0h2m-47 1h2m16 0h2m6 0h2m1 0h2m-2 0h2m-1 0h2m7 0h2m7 0h2m20 0h2m0 0h2m3 0h2m-89 1h2m13 0h2m3 0h2m0 0h2m7 0h2m13 0h2m-42 1h2m2 0h2m12 0h2m8 0h2m6 0h2m3 0h2m-67 1h2m39 0h2m4 0h2m0 0h2m9 0h2m2 0h2m1 0h2m-84 1h2m38 0h2m7 0h2m24 0h2m-1 0h2m5 0h2m51 0h2m-139 1h2m11 0h2m30 0h2m5 0h2m-1 0h2m4 0h2m-2 0h2m1 0h2m21 0h2m2 0h2m5 0h2m-143 1h2m89 0h2m13 0h2m3 0h2m9 0h2m-1 0h2m0 0h2m3 0h2m42 0h2m-86 1h2m7 0h2m0 0h2m-2 0h2m9 0h2m1 0h2m40 0h2m48 0h2m-113 1h2m7 0h2m20 0h2m-54 1h2m5 0h2m4 0h2m11 0h2m2 0h2m3 0h2m27 0h2m-33 1h2m45 0h2m-129 1h2m32 0h2m37 0h2m31 0h2m-75 1h2m17 0h2m35 0h2m-23 1h2m5 0h2m31 0h2m45 0h2m9 0h2m-103 1h2m2 0h2m12 0h2m-14 1h2m-1 0h2m29 0h2m-49 1h2m15 0h2m3 0h2m18 0h2m4 0h2m-1 0h2m-34 1h2m2 0h2m20 0h2m45 0h2m-82 1h2m4 0h2m32 0h2m-44 1h2m-1 0h2m2 0h2m47 0h2m59 0h2m-165 1h2m30 0h2m1 0h2m30 0h2m16 0h2m-25 1h2m5 0h2m24 0h2m-87 1h2m19 0h2m40 0h2m22 0h2m49 0h2m-101 1h2m3 0h2m-1 0h2m-21 1h2m29 0h2m-32 1h2m4 0h2m5 0h2m9 0h2m2 0h2m-20 1h2m-2 0h2m3 0h2m10 0h2m37 0h2m-63 1h2m-1 0h2m4 0h2m2 0h2m7 0h2m0 0h2m2 0h2m17 0h2m-52 1h2m19 0h2m4 0h2m-24 1h2m0 0h2m0 0h2m39 0h2m-1 0h2m-67 1h2m6 0h2m10 0h2m-1 0h2m0 0h2m-2 0h2m4 0h2m32 0h2m-65 1h2m13 0h2m-1 0h2m1 0h2m2 0h2m-2 0h2m-2 0h2m8 0h2m-1 0h2m-1 0h2m19 0h2m-43 1h2m49 0h2m-133 1h2m65 0h2m4 0h2m3 0h2m6 0h2m2 0h2m2 0h2m4 0h2m0 0h2m-35 1h2m14 0h2m-1 0h2m-1 0h2m3 0h2m3 0h2m1 0h2m-1 0h2m11 0h2m-51 1h2m13 0h2m-1 0h2m0 0h2m2 0h2m-1 0h2m3 0h2m16 0h2m56 0h2m-121 1h2m23 0h2m3 0h2m1 0h2m-2 0h2m3 0h2m10 0h2m6 0h2m53 0h2m-88 1h2m25 0h2m0 0h2m20 0h2m-70 1h2m26 0h2m17 0h2m18 0h2m-37 1h2m17 0h2m-37 1h2m1 0h2m0 0h2m3 0h2m2 0h2m-2 0h2m10 0h2m15 0h2m6 0h2m-83 1h2m0 0h2m32 0h2m1 0h2m-2 0h2m9 0h2m8 0h2m-59 1h2m26 0h2m7 0h2m-2 0h2m2 0h2m1 0h2m12 0h2m13 0h2m-69 1h2m25 0h2m1 0h2m0 0h2m-1 0h2m28 0h2m5 0h2m-46 1h2m-1 0h2m3 0h2m0 0h2m3 0h2m-24 1h2m15 0h2m8 2h2m-52 1h2m12 0h2m23 0h2m12 0h2m21 0h2m-55 1h2m24 0h2m49 0h2m-97 1h2m38 0h2m11 0h2m4 0h2m-48 1h2m20 0h2m2 0h2m13 0h2m-37 1h2m20 0h2m49 0h2m-94 1h2m7 0h2m-6 1h2m29 0h2m24 0h2m-2 0h2m-35 1h2m11 0h2m-44 1h2m26 0h2m11 0h2m-20 1h2m59 0h2m-104 1h2m64 0h2m-26 1h2m-50 1h2m44 0h2m11 0h2m9 0h2m-28 1h2m23 0h2m-31 1h2m44 0h2m14 0h2m-76 1h2m-66 1h2m85 0h2m0 0h2m3 0h2m5 0h2m-30 1h2m31 0h2m-26 2h2m58 1h2m-57 1h2m22 1h2m25 1h2m13 0h2m-120 2h2m9 1h2m0 0h2m26 0h2m1 0h2m17 0h2m-59 1h2m38 0h2m-4 1h2m34 0h2m-27 3h2m-32 1h2m44 1h2m22 0h2m15 0h2m-34 1h2m-45 2h2m19 0h2m-13 2h2m113 0h2m-103 1h2m0 1h2m-30 4h2m4 0h2m-27 2h2m11 1h2m67 2h2m-103 6h2m36 0h2m-20 3h2m8 3h2m43 2h2m-16 5h2m-17 4h2"/><path d="M128 147h2m9 3h2m33 0h2m-9 1h2m48 2h2m-27 4h2m-40 6h2m19 3h2m25 0h2m-70 5h2m61 0h2m15 3h2m-34 3h2m-5 1h2m-15 1h2m2 0h2m0 0h2m-4 1h2m-1 0h2m-13 2h2m43 1h2m-17 4h2m41 0h2m-31 1h2m-98 1h2m39 0h2m15 0h2m2 0h2m14 0h2m-29 2h2m12 0h2m31 0h2m-38 3h2m6 1h2m19 0h2m-76 1h2m50 1h2m-56 1h2m26 0h2m-12 1h2m-43 2h2m5 0h2m71 0h2m10 0h2m-85 1h2m-1 0h2m29 0h2m4 0h2m37 0h2m-50 2h2m6 0h2m26 0h2m-30 1h2m-124 1h2m106 0h2m-2 0h2m4 0h2m7 1h2m100 0h2m-132 1h2m-4 1h2m14 0h2m4 0h2m4 0h2m-21 1h2m-1 0h2m78 0h2m-89 1h2m1 0h2m3 0h2m6 0h2m76 0h2m-102 1h2m5 0h2m6 0h2m-2 0h2m4 0h2m1 0h2m31 0h2m-74 1h2m23 0h2m17 0h2m2 0h2m1 0h2m13 0h2m24 0h2m-110 1h2m26 0h2m2 0h2m3 0h2m10 0h2m5 0h2m4 0h2m-27 1h2m71 0h2m-70 1h2m-1 0h2m3 0h2m-1 0h2m-2 0h2m20 0h2m13 0h2m-101 1h2m46 0h2m-1 0h2m1 0h2m10 0h2m6 0h2m-20 1h2m11 0h2m10 0h2m-63 1h2m13 0h2m7 0h2m11 0h2m8 0h2m5 0h2m2 0h2m64 0h2m-75 1h2m0 0h2m-36 1h2m2 0h2m0 0h2m15 0h2m-2 0h2m12 0h2m9 0h2m12 0h2m-93 1h2m36 0h2m8 0h2m10 0h2m0 0h2m-1 0h2m-1 0h2m15 0h2m6 0h2m22 0h2m-83 1h2m18 0h2m-2 0h2m7 0h2m4 0h2m1 0h2m-83 1h2m29 0h2m21 0h2m6 0h2m0 0h2m0 0h2m-1 0h2m2 0h2m-1 0h2m1 0h2m1 0h2m-58 1h2m4 0h2m7 0h2m8 0h2m1 0h2m-1 0h2m-1 0h2m1 0h2m6 0h2m68 0h2m-85 1h2m6 0h2m0 0h2m-2 0h2m1 0h2m-2 0h2m2 0h2m7 0h2m28 0h2m7 0h2m-115 1h2m20 0h2m10 0h2m20 0h2m25 0h2m10 0h2m-62 1h2m17 0h2m8 0h2m-1 0h2m4 0h2m-1 0h2m9 0h2m29 0h2m7 0h2m-111 1h2m12 0h2m14 0h2m10 0h2m6 0h2m-1 0h2m1 0h2m53 0h2m-100 1h2m28 0h2m7 0h2m1 0h2m4 0h2m-13 1h2m-2 0h2m1 0h2m1 0h2m8 0h2m-86 1h2m32 0h2m6 0h2m26 0h2m10 0h2m8 0h2m-41 1h2m2 0h2m2 0h2m7 0h2m16 0h2m11 0h2m6 0h2m-133 1h2m61 0h2m8 0h2m10 0h2m44 0h2m14 0h2m-81 1h2m13 0h2m-1 0h2m0 0h2m18 0h2m40 0h2m-93 1h2m15 0h2m8 0h2m1 0h2m8 0h2m1 0h2m-1 0h2m12 0h2m-80 1h2m36 0h2m2 0h2m1 0h2m1 0h2m18 0h2m-26 1h2m7 0h2m2 0h2m-35 1h2m16 0h2m6 0h2m-1 0h2m0 0h2m1 0h2m-1 0h2m8 0h2m-31 1h2m11 0h2m0 0h2m6 0h2m2 0h2m8 0h2m-142 1h2m87 0h2m11 0h2m7 0h2m5 0h2m3 0h2m19 0h2m3 0h2m-73 1h2m-1 0h2m0 0h2m9 0h2m17 0h2m2 0h2m-63 1h2m22 0h2m3 0h2m24 0h2m-2 0h2m0 0h2m14 0h2m-73 1h2m7 0h2m44 0h2m-1 0h2m18 0h2m35 0h2m-102 1h2m6 0h2m10 0h2m1 0h2m9 0h2m20 0h2m-55 1h2m11 0h2m13 0h2m14 0h2m-1 0h2m0 0h2m7 0h2m-7 1h2m-2 0h2m19 0h2m-62 1h2m25 0h2m17 0h2m-46 1h2m46 0h2m-2 0h2m-53 1h2m6 0h2m9 0h2m32 0h2m-56 1h2m12 0h2m10 0h2m58 0h2m-49 1h2m-4 1h2m7 0h2m6 0h2m-96 1h2m33 0h2m3 1h2m4 0h2m-1 0h2m7 0h2m9 0h2m10 0h2m7 0h2m57 0h2m-139 1h2m9 0h2m2 0h2m24 0h2m29 0h2m-45 1h2m16 0h2m6 0h2m2 0h2m11 0h2m-34 1h2m4 0h2m2 0h2m6 0h2m18 0h2m-45 1h2m4 0h2m4 0h2m2 0h2m-31 1h2m8 0h2m-1 0h2m3 0h2m1 0h2m33 0h2m-65 1h2m2 0h2m9 0h2m-2 0h2m2 0h2m2 0h2m1 0h2m3 0h2m22 0h2m8 0h2m3 0h2m-110 1h2m30 0h2m22 0h2m34 0h2m9 0h2m-54 1h2m1 0h2m-1 0h2m1 0h2m2 0h2m14 0h2m7 0h2m-35 1h2m-1 0h2m-1 0h2m3 0h2m1 0h2m-2 0h2m47 0h2m-56 1h2m5 0h2m-1 0h2m2 0h2m35 0h2m9 0h2m-141 1h2m68 0h2m3 0h2m0 0h2m5 0h2m-1 0h2m32 0h2m7 0h2m8 0h2m28 0h2m-104 1h2m8 0h2m6 0h2m-2 0h2m-1 0h2m0 0h2m-2 0h2m2 0h2m-1 0h2m-20 1h2m0 0h2m1 0h2m2 0h2m19 0h2m-62 1h2m-2 0h2m15 0h2m14 0h2m-1 0h2m5 0h2m17 0h2m5 0h2m-53 1h2m2 0h2m12 0h2m-1 0h2m1 0h2m40 0h2m-59 1h2m27 0h2m4 0h2m0 0h2m29 0h2m-85 1h2m11 0h2m5 0h2m20 0h2m10 0h2m7 0h2m-120 1h2m63 0h2m5 0h2m2 0h2m0 0h2m-2 0h2m0 0h2m-1 0h2m3 0h2m-58 1h2m20 0h2m25 0h2m-2 0h2m10 0h2m9 0h2m-65 1h2m18 0h2m5 0h2m12 0h2m2 0h2m32 0h2m-55 1h2m51 0h2m24 0h2m-28 1h2m-41 1h2m-52 1h2m27 0h2m8 0h2m9 0h2m3 0h2m3 0h2m49 0h2m-96 1h2m52 0h2m9 0h2m-45 1h2m15 0h2m-82 1h2m50 0h2m1 0h2m9 0h2m16 0h2m36 0h2m-117 1h2m3 2h2m46 0h2m14 0h2m9 0h2m16 0h2m-32 2h2m40 0h2m-68 2h2m5 0h2m11 0h2m-29 2h2m31 0h2m-43 1h2m47 0h2m4 1h2m11 0h2m-35 1h2m3 0h2m5 0h2m26 0h2m-18 1h2m-74 1h2m31 0h2m19 0h2m-1 0h2m11 0h2m-72 1h2m62 0h2m20 0h2m-70 1h2m33 0h2m14 0h2m-83 2h2m58 0h2m18 0h2m22 0h2m-55 1h2m16 0h2m15 0h2m-33 1h2m30 0h2m-90 1h2m58 0h2m8 1h2m-48 2h2m33 0h2m8 0h2m1 2h2m-41 1h2m21 1h2m53 0h2m-63 1h2m-1 0h2m-3 1h2m3 0h2m43 0h2m-84 1h2m18 0h2m4 1h2m65 2h2m-61 1h2m31 0h2m-26 6h2m58 3h2m-94 2h2m93 0h2m-82 5h2m38 0h2m-50 1h2m2 12h2m93 3h2"/><path d="M184 143h2m-60 13h2m89 0h2m-10 3h2m-68 2h2m27 0h2m-33 8h2m-40 1h2m55 1h2m37 1h2m-35 3h2m-15 3h2m-7 2h2m-1 3h2m12 2h2m-14 3h2m13 0h2m46 0h2m-62 1h2m43 0h2m-12 2h2m-24 1h2m30 0h2m-61 1h2m50 0h2m2 4h2m-67 1h2m44 0h2m-27 1h2m26 0h2m9 0h2m-112 1h2m105 0h2m-47 1h2m-9 1h2m27 0h2m-2 1h2m29 0h2m-174 1h2m94 0h2m61 1h2m-76 1h2m97 0h2m-164 1h2m71 0h2m1 0h2m-1 0h2m6 0h2m33 0h2m26 0h2m45 0h2m-126 1h2m2 0h2m-1 0h2m18 0h2m10 0h2m19 0h2m-51 2h2m20 0h2m19 0h2m-45 1h2m26 0h2m27 0h2m38 0h2m-98 1h2m9 0h2m14 0h2m41 0h2m-125 1h2m60 0h2m11 0h2m0 0h2m-1 0h2m-63 1h2m0 0h2m13 0h2m11 0h2m6 0h2m38 0h2m11 0h2m45 0h2m-108 1h2m3 0h2m56 0h2m-115 1h2m44 0h2m25 0h2m-25 1h2m-1 0h2m9 0h2m-10 1h2m1 0h2m0 0h2m-1 0h2m4 0h2m4 0h2m25 0h2m-65 1h2m5 0h2m8 0h2m3 0h2m3 0h2m1 0h2m-2 0h2m5 0h2m0 0h2m-21 1h2m20 0h2m8 0h2m26 0h2m-105 1h2m11 0h2m15 0h2m-2 0h2m13 0h2m-10 1h2m6 0h2m-2 0h2m9 0h2m4 0h2m-65 1h2m1 0h2m32 0h2m9 0h2m3 0h2m66 0h2m-113 1h2m5 0h2m3 0h2m5 0h2m27 0h2m0 0h2m-2 0h2m34 0h2m-147 1h2m31 0h2m69 0h2m-2 0h2m1 0h2m-49 1h2m13 0h2m0 0h2m10 0h2m1 0h2m5 0h2m2 0h2m21 0h2m41 0h2m-88 1h2m1 0h2m-1 0h2m0 0h2m1 0h2m0 0h2m-52 1h2m10 0h2m7 0h2m11 0h2m8 0h2m-1 0h2m13 0h2m-1 0h2m0 0h2m13 0h2m-103 1h2m36 0h2m9 0h2m9 0h2m13 0h2m18 0h2m34 0h2m12 0h2m-157 1h2m70 0h2m3 0h2m0 0h2m12 0h2m-1 0h2m4 0h2m3 0h2m14 0h2m22 0h2m-105 1h2m24 0h2m13 0h2m-1 0h2m37 0h2m-2 0h2m33 0h2m-111 1h2m3 0h2m-2 0h2m2 0h2m10 0h2m6 0h2m4 0h2m-1 0h2m-1 0h2m-1 0h2m1 0h2m4 0h2m-34 1h2m2 0h2m1 0h2m1 0h2m0 0h2m0 0h2m6 0h2m5 0h2m8 0h2m45 0h2m-94 1h2m10 0h2m25 0h2m-1 0h2m-2 0h2m3 0h2m6 0h2m-56 1h2m-2 0h2m2 0h2m16 0h2m0 0h2m2 0h2m2 0h2m5 0h2m33 0h2m-120 1h2m52 0h2m1 0h2m32 0h2m20 0h2m-90 1h2m2 0h2m23 0h2m0 0h2m5 0h2m0 0h2m16 0h2m-75 1h2m37 0h2m24 0h2m52 0h2m-90 1h2m7 0h2m0 0h2m33 0h2m10 0h2m-58 1h2m-2 0h2m6 0h2m8 0h2m6 0h2m1 0h2m5 0h2m2 0h2m32 0h2m-87 1h2m20 0h2m46 0h2m7 0h2m-138 1h2m75 0h2m-1 0h2m8 0h2m2 0h2m0 0h2m32 0h2m-71 1h2m19 0h2m1 0h2m-2 0h2m4 0h2m0 0h2m7 0h2m-34 1h2m13 0h2m1 0h2m9 0h2m45 0h2m-100 1h2m22 0h2m2 0h2m0 0h2m1 0h2m13 0h2m-43 1h2m12 0h2m1 0h2m7 0h2m0 0h2m3 0h2m108 0h2m-127 1h2m17 0h2m6 0h2m-2 0h2m4 0h2m-58 1h2m8 0h2m3 0h2m-47 1h2m21 0h2m17 0h2m21 0h2m-21 1h2m8 0h2m3 0h2m12 0h2m1 0h2m30 0h2m-27 1h2m-97 1h2m80 0h2m-60 1h2m33 0h2m-2 0h2m20 0h2m-10 1h2m8 0h2m14 0h2m-48 1h2m52 0h2m-91 1h2m22 0h2m7 0h2m9 0h2m0 0h2m29 0h2m-59 1h2m20 0h2m3 0h2m10 0h2m11 0h2m2 0h2m-99 1h2m41 0h2m0 0h2m10 0h2m5 0h2m6 0h2m10 0h2m17 0h2m-120 1h2m78 0h2m1 0h2m11 0h2m7 0h2m5 0h2m6 0h2m1 0h2m-65 1h2m5 0h2m-2 0h2m2 0h2m-2 0h2m-2 0h2m0 0h2m2 0h2m12 0h2m-26 1h2m6 0h2m21 0h2m22 0h2m0 0h2m4 0h2m-61 1h2m3 0h2m3 0h2m-1 0h2m2 0h2m0 0h2m1 0h2m0 0h2m-26 1h2m-1 0h2m4 0h2m-1 0h2m12 0h2m19 0h2m-47 1h2m0 0h2m-2 0h2m1 0h2m3 0h2m-1 0h2m-1 0h2m4 0h2m-1 0h2m5 0h2m0 0h2m17 0h2m-106 1h2m58 0h2m1 0h2m0 0h2m0 0h2m-1 0h2m30 0h2m-64 1h2m17 0h2m-1 0h2m-1 0h2m3 0h2m0 0h2m-2 0h2m-1 0h2m1 0h2m-1 0h2m-2 0h2m44 0h2m-60 1h2m3 0h2m4 0h2m-2 0h2m7 0h2m-2 0h2m10 0h2m1 0h2m3 0h2m-38 1h2m1 0h2m17 0h2m-22 1h2m-2 0h2m1 0h2m7 0h2m21 0h2m-48 1h2m7 0h2m3 0h2m-1 0h2m7 0h2m8 0h2m13 0h2m-2 0h2m-133 1h2m71 0h2m18 0h2m2 0h2m0 0h2m-12 1h2m0 0h2m-1 0h2m0 0h2m0 0h2m8 0h2m7 0h2m-49 1h2m24 0h2m-2 0h2m1 0h2m-58 2h2m38 0h2m15 0h2m2 0h2m-35 1h2m47 0h2m8 0h2m-37 1h2m0 0h2m14 0h2m17 0h2m-48 1h2m24 0h2m-75 1h2m24 0h2m27 0h2m2 0h2m2 0h2m-2 0h2m3 0h2m19 0h2m40 0h2m-127 1h2m75 0h2m9 0h2m-77 1h2m35 0h2m-1 0h2m3 0h2m0 0h2m7 0h2m13 0h2m-58 1h2m14 0h2m39 0h2m-2 0h2m-66 1h2m11 0h2m13 0h2m14 1h2m-23 1h2m24 0h2m1 0h2m3 0h2m0 1h2m4 0h2m0 0h2m-35 1h2m9 0h2m-16 1h2m31 0h2m-26 2h2m0 0h2m5 1h2m-4 1h2m8 1h2m-91 1h2m42 0h2m6 0h2m-62 1h2m54 0h2m18 0h2m-36 1h2m11 0h2m46 0h2m-130 1h2m74 1h2m17 0h2m6 0h2m-30 1h2m28 0h2m-40 1h2m62 0h2m13 0h2m-74 1h2m4 0h2m3 0h2m20 0h2m3 0h2m-65 1h2m1 0h2m-28 1h2m69 0h2m16 0h2m-54 1h2m59 1h2m19 0h2m-91 2h2m68 3h2m23 0h2m-86 1h2m51 0h2m-58 1h2m10 0h2m46 1h2m-46 2h2m6 1h2m1 4h2m-37 3h2m3 0h2m38 0h2m17 2h2m8 1h2m-74 3h2m-24 2h2m51 2h2m-31 1h2m-13 2h2m30 1h2m22 2h2"/></g>
<rect x="164.2" y="0" width="2.6" height="358" fill="#e41b3a" opacity="0.75"/>
<rect x="0" y="130.3" width="357" height="2.4" fill="#e41b3a"/>
<rect x="-12.6" y="-1.3" width="370.9" height="2.7" fill="#2e2eff"/>
<rect x="1" y="1.4" width="355" height="1.4" fill="#9a9aff"/>
<rect x="-1.3" y="-1.3" width="2.6" height="360.6" fill="#1a1aff"/>
<rect x="355.1" y="-1.3" width="2.2" height="360.6" fill="#8585ff"/>
<rect x="357.3" y="-1.3" width="2.2" height="360.6" fill="#5c5cff"/>
<rect x="-12" y="356.7" width="370.3" height="2.6" fill="#1a1aff"/>
<path d="M0 359v10M-12 358.3h11M17.3 359v10M-12 341.2h11M27.4 359v10M-12 331.2h11M34.5 359v10M-12 324h11M40.1 359v10M-12 318.5h11M44.6 359v10M-12 314h11M48.5 359v10M-12 310.2h11M51.8 359v10M-12 306.9h11M54.7 359v10M-12 304h11M57.4 359v10M-12 301.4h11M74.6 359v10M-12 284.3h11M84.7 359v10M-12 274.3h11M91.9 359v10M-12 267.1h11M97.4 359v10M-12 261.6h11M102 359v10M-12 257.1h11M105.8 359v10M-12 253.3h11M109.1 359v10M-12 250h11M112.1 359v10M-12 247.1h11M114.7 359v10M-12 244.5h11M132 359v10M-12 227.4h11M142.1 359v10M-12 217.4h11M149.2 359v10M-12 210.2h11M154.8 359v10M-12 204.7h11M159.3 359v10M-12 200.2h11M163.2 359v10M-12 196.4h11M166.5 359v10M-12 193.1h11M169.4 359v10M-12 190.2h11M172.1 359v10M-12 187.6h11M189.3 359v10M-12 170.5h11M199.4 359v10M-12 160.5h11M206.6 359v10M-12 153.3h11M212.1 359v10M-12 147.8h11M216.7 359v10M-12 143.3h11M220.5 359v10M-12 139.5h11M223.8 359v10M-12 136.2h11M226.8 359v10M-12 133.3h11M229.4 359v10M-12 130.7h11M246.7 359v10M-12 113.6h11M256.8 359v10M-12 103.6h11M263.9 359v10M-12 96.4h11M269.5 359v10M-12 90.9h11M274 359v10M-12 86.4h11M277.9 359v10M-12 82.6h11M281.2 359v10M-12 79.3h11M284.1 359v10M-12 76.4h11M286.8 359v10M-12 73.8h11M304 359v10M-12 56.7h11M314.1 359v10M-12 46.7h11M321.3 359v10M-12 39.5h11M326.8 359v10M-12 34h11M331.4 359v10M-12 29.5h11M335.2 359v10M-12 25.7h11M338.5 359v10M-12 22.4h11M341.5 359v10M-12 19.5h11M344.1 359v10M-12 16.9h11" stroke="#1a1aff" stroke-width="2" fill="none"/>
<text x="0" y="393" font-family="Liberation Sans, sans-serif" fill="#1a1aff"><tspan font-size="12.5" font-weight="bold" text-anchor="end">10</tspan></text>
<text x="0.5" y="389" font-family="Liberation Sans, sans-serif" font-size="21" fill="#1a1aff">1</text>
<text x="57.4" y="393" font-family="Liberation Sans, sans-serif" fill="#1a1aff"><tspan font-size="12.5" font-weight="bold" text-anchor="end">10</tspan></text>
<text x="57.9" y="389" font-family="Liberation Sans, sans-serif" font-size="21" fill="#1a1aff">2</text>
<text x="114.7" y="393" font-family="Liberation Sans, sans-serif" fill="#1a1aff"><tspan font-size="12.5" font-weight="bold" text-anchor="end">10</tspan></text>
<text x="115.2" y="389" font-family="Liberation Sans, sans-serif" font-size="21" fill="#1a1aff">3</text>
<text x="172.1" y="393" font-family="Liberation Sans, sans-serif" fill="#1a1aff"><tspan font-size="12.5" font-weight="bold" text-anchor="end">10</tspan></text>
<text x="172.6" y="389" font-family="Liberation Sans, sans-serif" font-size="21" fill="#1a1aff">4</text>
<text x="229.4" y="393" font-family="Liberation Sans, sans-serif" fill="#1a1aff"><tspan font-size="12.5" font-weight="bold" text-anchor="end">10</tspan></text>
<text x="229.9" y="389" font-family="Liberation Sans, sans-serif" font-size="21" fill="#1a1aff">5</text>
<text x="286.8" y="393" font-family="Liberation Sans, sans-serif" fill="#1a1aff"><tspan font-size="12.5" font-weight="bold" text-anchor="end">10</tspan></text>
<text x="287.2" y="389" font-family="Liberation Sans, sans-serif" font-size="21" fill="#1a1aff">6</text>
<text x="348.5" y="393" font-family="Liberation Sans, sans-serif" font-size="12.5" font-weight="bold" text-anchor="end" fill="#1a1aff">10</text>
<text x="348.5" y="389" font-family="Liberation Sans, sans-serif" font-size="21" fill="#1a1aff">7.2</text>
<g transform="translate(0,353.3) rotate(-90)"><text x="0" y="-21.4" font-family="Liberation Sans, sans-serif" font-size="12.5" font-weight="bold" text-anchor="end" fill="#1a1aff">10</text><text transform="translate(0.5,-27.4) scale(0.8,1)" font-family="Liberation Sans, sans-serif" font-size="21" fill="#1a1aff">1</text></g>
<g transform="translate(0,296.4) rotate(-90)"><text x="0" y="-21.4" font-family="Liberation Sans, sans-serif" font-size="12.5" font-weight="bold" text-anchor="end" fill="#1a1aff">10</text><text transform="translate(0.5,-27.4) scale(0.8,1)" font-family="Liberation Sans, sans-serif" font-size="21" fill="#1a1aff">2</text></g>
<g transform="translate(0,239.5) rotate(-90)"><text x="0" y="-21.4" font-family="Liberation Sans, sans-serif" font-size="12.5" font-weight="bold" text-anchor="end" fill="#1a1aff">10</text><text transform="translate(0.5,-27.4) scale(0.8,1)" font-family="Liberation Sans, sans-serif" font-size="21" fill="#1a1aff">3</text></g>
<g transform="translate(0,182.6) rotate(-90)"><text x="0" y="-21.4" font-family="Liberation Sans, sans-serif" font-size="12.5" font-weight="bold" text-anchor="end" fill="#1a1aff">10</text><text transform="translate(0.5,-27.4) scale(0.8,1)" font-family="Liberation Sans, sans-serif" font-size="21" fill="#1a1aff">4</text></g>
<g transform="translate(0,125.7) rotate(-90)"><text x="0" y="-21.4" font-family="Liberation Sans, sans-serif" font-size="12.5" font-weight="bold" text-anchor="end" fill="#1a1aff">10</text><text transform="translate(0.5,-27.4) scale(0.8,1)" font-family="Liberation Sans, sans-serif" font-size="21" fill="#1a1aff">5</text></g>
<g transform="translate(0,68.8) rotate(-90)"><text x="0" y="-21.4" font-family="Liberation Sans, sans-serif" font-size="12.5" font-weight="bold" text-anchor="end" fill="#1a1aff">10</text><text transform="translate(0.5,-27.4) scale(0.8,1)" font-family="Liberation Sans, sans-serif" font-size="21" fill="#1a1aff">6</text></g>
<g transform="translate(0,5.5) rotate(-90)"><text x="0" y="-21.4" font-family="Liberation Sans, sans-serif" font-size="12.5" font-weight="bold" text-anchor="end" fill="#1a1aff">10</text><text transform="translate(0.5,-27.4) scale(0.85,1)" font-family="Liberation Sans, sans-serif" font-size="21" fill="#1a1aff">7.2</text></g>
<text x="178.5" y="415.9" text-anchor="middle" font-family="Liberation Sans, sans-serif" font-size="19.5" textLength="59.5" lengthAdjust="spacingAndGlyphs">FL1-H</text>
<text x="0" y="0" transform="translate(-49.5,218.8) rotate(-90)" text-anchor="middle" font-family="Liberation Sans, sans-serif" font-size="19.5" textLength="59.5" lengthAdjust="spacingAndGlyphs">FL2-H</text>
<text x="1.6" y="25.2" font-family="Liberation Sans, sans-serif" font-size="28" fill="#e41b3a" textLength="76.8" lengthAdjust="spacingAndGlyphs">Q1-UL</text>
<text x="1.6" y="49.3" font-family="Liberation Sans, sans-serif" font-size="28" fill="#e41b3a" textLength="56.9" lengthAdjust="spacingAndGlyphs">0.0%</text>
<text x="276.6" y="25.2" font-family="Liberation Sans, sans-serif" font-size="28" fill="#e41b3a" textLength="79.9" lengthAdjust="spacingAndGlyphs">Q1-UR</text>
<text x="276.6" y="49.3" font-family="Liberation Sans, sans-serif" font-size="28" fill="#e41b3a" textLength="56.9" lengthAdjust="spacingAndGlyphs">0.0%</text>
<text x="1.6" y="334" font-family="Liberation Sans, sans-serif" font-size="28" fill="#e41b3a" textLength="72.5" lengthAdjust="spacingAndGlyphs">Q1-LL</text>
<text x="1.6" y="358.5" font-family="Liberation Sans, sans-serif" font-size="28" fill="#e41b3a" textLength="73.1" lengthAdjust="spacingAndGlyphs">61.4%</text>
<text x="280.6" y="334" font-family="Liberation Sans, sans-serif" font-size="28" fill="#e41b3a" textLength="75.5" lengthAdjust="spacingAndGlyphs">Q1-LR</text>
<text x="280.6" y="358.5" font-family="Liberation Sans, sans-serif" font-size="28" fill="#e41b3a" textLength="73.1" lengthAdjust="spacingAndGlyphs">38.6%</text>
</g>
<g transform="translate(738.1,526.1)">
<g stroke="#000" stroke-width="2" stroke-opacity="0.27" fill="none" filter="url(#soft)"><path d="M200 134h2m-24 8h2m60 1h2m-2 7h2m-54 8h2m25 1h2m14 0h2m12 4h2m-35 3h2m-57 1h2m51 1h2m-9 2h2m-14 1h2m-1 0h2m-33 1h2m38 0h2m35 0h2m-83 1h2m31 0h2m33 0h2m2 0h2m-129 1h2m19 0h2m10 0h2m14 0h2m55 3h2m6 0h2m-54 1h2m93 0h2m-94 1h2m51 0h2m-5 1h2m-92 1h2m51 0h2m30 0h2m-4 1h2m-96 2h2m37 0h2m21 0h2m-78 1h2m100 0h2m-101 1h2m88 0h2m-87 1h2m44 0h2m-5 2h2m-16 1h2m5 0h2m65 0h2m12 0h2m-59 2h2m18 0h2m28 0h2m-119 1h2m52 0h2m43 0h2m1 0h2m-121 1h2m110 1h2m21 1h2m8 0h2m-58 1h2m-29 1h2m-32 1h2m78 0h2m-83 1h2m46 0h2m-53 1h2m114 0h2m-148 1h2m111 0h2m-1 0h2m12 0h2m32 0h2m-86 1h2m46 0h2m-63 1h2m4 0h2m37 0h2m52 0h2m-107 1h2m28 0h2m24 0h2m-68 1h2m-26 1h2m82 0h2m-80 1h2m0 0h2m2 0h2m8 0h2m29 0h2m1 0h2m58 0h2m-107 1h2m34 0h2m1 0h2m-129 1h2m138 0h2m3 0h2m-80 1h2m6 0h2m5 0h2m2 0h2m66 0h2m32 0h2m-108 1h2m62 0h2m-123 1h2m24 0h2m40 0h2m21 0h2m-48 1h2m9 0h2m2 0h2m-2 0h2m28 0h2m-2 0h2m55 0h2m-96 1h2m29 0h2m15 0h2m21 0h2m-59 1h2m68 0h2m-88 1h2m8 0h2m26 0h2m4 0h2m12 0h2m-55 1h2m9 0h2m0 0h2m67 0h2m-80 1h2m2 0h2m13 0h2m-1 0h2m10 0h2m5 0h2m67 0h2m-137 1h2m13 0h2m-2 0h2m5 0h2m9 0h2m67 0h2m-1 0h2m-123 1h2m35 0h2m0 0h2m7 0h2m2 0h2m15 0h2m16 0h2m-32 1h2m24 0h2m22 0h2m-52 1h2m-1 0h2m1 0h2m-2 0h2m8 0h2m46 0h2m-82 1h2m59 0h2m1 0h2m5 0h2m-122 1h2m49 0h2m1 0h2m96 0h2m-110 1h2m5 0h2m36 0h2m44 0h2m3 0h2m-104 1h2m-1 0h2m73 0h2m-117 1h2m11 0h2m32 0h2m4 0h2m5 0h2m21 0h2m-2 0h2m4 0h2m-78 1h2m22 0h2m22 0h2m11 0h2m19 0h2m35 0h2m-65 1h2m57 0h2m-103 1h2m22 0h2m5 0h2m20 0h2m12 0h2m3 0h2m61 0h2m-134 1h2m3 0h2m23 0h2m0 0h2m4 0h2m1 0h2m7 0h2m-1 0h2m0 0h2m14 0h2m2 0h2m-110 1h2m44 0h2m40 0h2m12 0h2m5 0h2m1 0h2m-48 1h2m4 0h2m-2 0h2m10 0h2m4 0h2m-55 1h2m14 0h2m17 0h2m2 0h2m10 0h2m2 0h2m-20 1h2m2 0h2m-1 0h2m13 0h2m-41 1h2m9 0h2m17 0h2m19 0h2m3 0h2m-84 1h2m10 0h2m7 0h2m-1 0h2m11 0h2m-1 0h2m0 0h2m20 0h2m-5 1h2m5 0h2m-57 1h2m14 0h2m12 0h2m11 0h2m4 0h2m-48 1h2m2 0h2m13 0h2m23 0h2m-63 1h2m1 0h2m11 0h2m12 0h2m10 0h2m2 0h2m0 0h2m0 0h2m17 0h2m-120 1h2m59 0h2m14 0h2m10 0h2m2 0h2m5 0h2m13 0h2m-47 1h2m6 0h2m7 0h2m2 0h2m-1 0h2m1 0h2m23 0h2m11 0h2m-85 1h2m28 0h2m3 0h2m3 0h2m6 0h2m0 0h2m3 0h2m12 0h2m-1 0h2m8 0h2m-114 1h2m31 0h2m15 0h2m11 0h2m6 0h2m6 0h2m8 0h2m6 0h2m-1 0h2m-54 1h2m-1 0h2m5 0h2m-2 0h2m12 0h2m10 0h2m1 0h2m1 0h2m0 0h2m13 0h2m7 0h2m-98 1h2m56 0h2m8 0h2m-2 0h2m19 0h2m-60 1h2m16 0h2m18 0h2m5 0h2m16 0h2m6 0h2m3 0h2m-73 1h2m0 0h2m1 0h2m19 0h2m0 0h2m10 0h2m22 0h2m-69 1h2m13 0h2m5 0h2m4 0h2m-38 1h2m9 0h2m13 0h2m12 0h2m11 0h2m6 0h2m56 0h2m-98 1h2m7 0h2m8 0h2m22 0h2m1 0h2m-78 1h2m18 0h2m24 0h2m3 0h2m16 0h2m6 0h2m-69 1h2m10 0h2m2 0h2m-1 0h2m4 0h2m1 0h2m5 0h2m14 0h2m-1 0h2m-88 1h2m29 0h2m17 0h2m9 0h2m6 0h2m1 0h2m-37 1h2m13 0h2m8 0h2m2 0h2m1 0h2m-2 0h2m-40 1h2m20 0h2m13 0h2m3 0h2m15 0h2m-51 1h2m0 0h2m-1 0h2m9 0h2m0 0h2m18 0h2m-65 1h2m18 0h2m3 0h2m-2 0h2m2 0h2m-1 0h2m-1 0h2m-1 0h2m1 0h2m-1 0h2m2 0h2m6 0h2m9 0h2m-1 0h2m-68 1h2m-2 0h2m28 0h2m2 0h2m6 0h2m2 0h2m4 0h2m-36 1h2m5 0h2m12 0h2m18 0h2m53 0h2m-81 1h2m-1 0h2m3 0h2m1 0h2m33 0h2m26 0h2m-89 1h2m2 0h2m2 0h2m8 0h2m9 0h2m7 0h2m-37 1h2m10 0h2m11 0h2m14 0h2m-1 0h2m-60 1h2m19 0h2m0 0h2m-2 0h2m15 0h2m-1 0h2m8 0h2m0 0h2m-54 1h2m5 0h2m8 0h2m0 0h2m3 0h2m1 0h2m-1 0h2m-1 0h2m1 0h2m3 0h2m-2 0h2m17 0h2m12 0h2m-52 1h2m2 0h2m1 0h2m31 0h2m15 0h2m-52 1h2m1 0h2m0 0h2m-1 0h2m2 0h2m6 0h2m12 0h2m-25 1h2m5 0h2m-73 1h2m26 0h2m4 0h2m19 0h2m4 0h2m24 0h2m20 0h2m-104 1h2m32 0h2m25 1h2m-12 1h2m19 0h2m7 1h2m-17 1h2m2 0h2m0 0h2m-121 1h2m99 0h2m10 0h2m13 0h2m24 0h2m2 0h2m-44 1h2m-44 1h2m10 0h2m-28 1h2m24 0h2m31 0h2m-21 1h2m15 0h2m12 0h2m-43 1h2m73 0h2m8 0h2m-53 2h2m39 0h2m-43 1h2m1 0h2m-36 1h2m33 0h2m37 0h2m-71 1h2m-15 1h2m3 0h2m5 0h2m5 0h2m-51 1h2m28 0h2m99 0h2m-98 2h2m-21 1h2m13 0h2m4 0h2m8 0h2m12 0h2m11 0h2m60 0h2m-91 1h2m4 0h2m-66 1h2m73 0h2m-54 1h2m28 0h2m1 0h2m43 0h2m-92 1h2m31 0h2m18 1h2m11 0h2m-17 1h2m-44 1h2m68 0h2m-47 2h2m26 0h2m49 1h2m-92 1h2m27 0h2m17 1h2m36 1h2m-99 1h2m114 0h2m-30 1h2m17 2h2m-130 1h2m54 0h2m-24 2h2m27 0h2m13 1h2m-4 1h2m-41 1h2m38 1h2m2 0h2m22 0h2m0 1h2m-63 1h2m-88 1h2m87 0h2m28 0h2m-15 1h2m-75 1h2m74 0h2m9 0h2m-40 1h2m67 0h2m-45 3h2m-73 1h2m79 0h2m23 0h2m-84 1h2m54 0h2m23 2h2m-25 1h2m-54 1h2m24 0h2m36 0h2m43 2h2m-40 3h2m-18 7h2m-53 3h2m-10 3h2m76 0h2m-47 1h2"/><path d="M235 138h2m-24 8h2m14 0h2m8 5h2m32 2h2m-72 2h2m19 5h2m-84 1h2m25 2h2m89 2h2m-59 1h2m17 1h2m-59 1h2m28 0h2m34 0h2m-51 1h2m-42 2h2m59 0h2m7 0h2m3 1h2m-2 0h2m-30 2h2m18 0h2m29 0h2m-159 1h2m100 1h2m68 0h2m-17 1h2m-71 1h2m20 0h2m7 0h2m-17 1h2m-3 1h2m4 0h2m-22 1h2m3 0h2m-14 1h2m6 0h2m5 0h2m-34 1h2m19 0h2m13 0h2m46 0h2m-66 2h2m76 0h2m-114 1h2m71 1h2m-66 2h2m39 0h2m22 0h2m-84 2h2m32 0h2m16 0h2m-29 1h2m9 0h2m5 0h2m-48 1h2m65 0h2m20 1h2m-2 0h2m-96 1h2m36 0h2m-62 1h2m13 0h2m61 0h2m12 0h2m7 0h2m14 0h2m-86 1h2m51 0h2m6 0h2m18 3h2m-89 1h2m1 0h2m-5 1h2m60 2h2m-105 1h2m97 0h2m-42 1h2m36 0h2m-49 1h2m3 0h2m95 0h2m-153 1h2m16 0h2m13 0h2m3 0h2m10 0h2m27 0h2m23 0h2m-64 1h2m41 0h2m2 0h2m21 0h2m-118 2h2m38 0h2m0 0h2m0 0h2m2 0h2m3 0h2m28 0h2m30 0h2m4 0h2m-90 1h2m8 0h2m2 0h2m6 0h2m-31 1h2m6 0h2m11 0h2m31 0h2m30 0h2m-57 1h2m-1 0h2m2 0h2m9 0h2m46 0h2m10 0h2m-102 1h2m6 0h2m16 0h2m12 0h2m-11 1h2m36 0h2m40 0h2m-132 1h2m32 0h2m11 0h2m13 0h2m3 0h2m17 0h2m11 0h2m-61 1h2m-2 0h2m0 0h2m7 0h2m6 0h2m12 0h2m-1 0h2m35 0h2m10 0h2m-108 1h2m26 0h2m21 0h2m-48 1h2m0 0h2m8 0h2m0 0h2m57 0h2m-62 1h2m69 0h2m80 0h2m-186 1h2m17 0h2m7 0h2m3 0h2m31 0h2m-85 1h2m5 0h2m2 0h2m8 0h2m16 0h2m4 0h2m19 0h2m37 0h2m-94 1h2m62 0h2m56 0h2m16 0h2m-116 1h2m-1 0h2m14 0h2m7 0h2m16 0h2m-65 1h2m13 0h2m0 0h2m22 0h2m2 0h2m53 0h2m3 0h2m-98 1h2m32 0h2m5 0h2m5 0h2m44 0h2m-113 1h2m38 0h2m-2 0h2m2 0h2m0 0h2m22 0h2m-59 1h2m5 0h2m3 0h2m5 0h2m4 0h2m30 0h2m22 0h2m-82 1h2m12 0h2m30 0h2m-51 1h2m8 0h2m-1 0h2m1 0h2m11 0h2m12 0h2m65 0h2m-126 1h2m5 0h2m7 0h2m2 0h2m2 0h2m11 0h2m9 0h2m12 0h2m4 0h2m-63 1h2m3 0h2m26 0h2m3 0h2m14 0h2m56 0h2m-133 1h2m31 0h2m12 0h2m6 0h2m25 0h2m3 0h2m4 0h2m10 0h2m27 0h2m-102 1h2m20 0h2m15 0h2m1 0h2m2 0h2m1 0h2m38 0h2m-98 1h2m1 0h2m14 0h2m10 0h2m0 0h2m1 0h2m76 0h2m-62 1h2m4 0h2m-52 1h2m4 0h2m2 0h2m13 0h2m-2 0h2m5 0h2m0 0h2m2 0h2m3 0h2m20 0h2m-60 1h2m25 0h2m5 0h2m-53 1h2m1 0h2m16 0h2m19 0h2m10 0h2m-45 1h2m-2 0h2m5 0h2m9 0h2m0 0h2m8 0h2m-1 0h2m13 0h2m-84 1h2m42 0h2m30 0h2m-61 1h2m20 0h2m-1 0h2m0 0h2m7 0h2m16 0h2m43 0h2m-93 1h2m17 0h2m0 0h2m-1 0h2m21 0h2m-66 1h2m24 0h2m19 0h2m3 0h2m5 0h2m2 0h2m13 0h2m1 0h2m8 0h2m-118 1h2m24 0h2m10 0h2m3 0h2m5 0h2m8 0h2m2 0h2m1 0h2m24 0h2m1 0h2m-77 1h2m23 0h2m-1 0h2m8 0h2m3 0h2m3 0h2m17 0h2m-58 1h2m13 0h2m1 0h2m2 0h2m0 0h2m-1 0h2m2 0h2m2 0h2m5 0h2m0 0h2m1 0h2m3 0h2m-1 0h2m14 0h2m35 0h2m-82 1h2m15 0h2m10 0h2m-74 1h2m28 0h2m14 0h2m2 0h2m-1 0h2m-1 0h2m4 0h2m9 0h2m0 0h2m-55 1h2m25 0h2m56 0h2m-93 1h2m30 0h2m25 0h2m24 0h2m-87 1h2m1 0h2m19 0h2m-2 0h2m-1 0h2m0 0h2m35 0h2m-100 1h2m33 0h2m1 0h2m24 0h2m8 0h2m34 0h2m-60 1h2m-1 0h2m0 0h2m9 0h2m14 0h2m1 0h2m0 0h2m-2 0h2m2 0h2m31 0h2m-69 1h2m20 0h2m1 0h2m13 0h2m10 0h2m2 0h2m7 0h2m-38 1h2m14 0h2m3 0h2m-59 1h2m7 0h2m21 0h2m16 0h2m-2 0h2m9 0h2m-89 1h2m36 0h2m2 0h2m2 0h2m30 0h2m-85 1h2m31 0h2m8 0h2m4 0h2m8 0h2m16 0h2m3 0h2m-54 1h2m6 0h2m1 0h2m-1 0h2m0 0h2m-1 0h2m0 0h2m-47 1h2m28 0h2m5 0h2m-2 0h2m-2 0h2m7 0h2m4 0h2m2 0h2m0 0h2m-2 0h2m2 0h2m56 0h2m-90 1h2m-1 0h2m-1 0h2m1 0h2m3 0h2m3 0h2m6 0h2m23 0h2m-1 0h2m-72 1h2m10 0h2m12 0h2m0 0h2m0 0h2m19 0h2m1 0h2m-41 1h2m83 0h2m-126 1h2m43 0h2m-2 0h2m2 0h2m10 0h2m11 0h2m7 0h2m-67 1h2m23 0h2m0 0h2m-1 0h2m37 0h2m58 0h2m-98 1h2m21 0h2m-49 1h2m44 0h2m8 0h2m-60 1h2m19 0h2m9 0h2m3 0h2m26 0h2m11 0h2m-58 1h2m16 0h2m17 0h2m16 0h2m16 0h2m-86 1h2m9 0h2m12 0h2m13 0h2m-35 1h2m2 0h2m0 0h2m2 0h2m38 0h2m44 0h2m-95 1h2m58 0h2m-65 1h2m13 0h2m2 0h2m6 0h2m-37 1h2m-60 1h2m80 0h2m-31 1h2m30 1h2m7 1h2m24 0h2m-66 1h2m30 0h2m3 0h2m14 0h2m-30 1h2m13 0h2m-7 1h2m27 1h2m-46 1h2m-54 2h2m44 0h2m6 0h2m-61 1h2m24 0h2m20 0h2m11 0h2m-58 1h2m64 0h2m11 0h2m-15 1h2m-64 1h2m42 0h2m-2 1h2m7 0h2m7 0h2m12 0h2m17 0h2m-64 1h2m26 1h2m-45 1h2m52 0h2m0 0h2m-90 1h2m53 0h2m-21 1h2m41 0h2m8 0h2m1 0h2m53 0h2m-63 1h2m-23 1h2m-2 0h2m4 1h2m-67 1h2m17 0h2m-43 1h2m40 0h2m20 0h2m51 2h2m-72 1h2m26 0h2m22 0h2m37 2h2m-100 1h2m61 0h2m-34 1h2m7 0h2m2 0h2m-25 2h2m23 0h2m85 0h2m-86 1h2m5 0h2m-92 1h2m61 0h2m23 0h2m15 0h2m-57 1h2m74 0h2m-47 1h2m25 0h2m-67 1h2m78 1h2m-58 1h2m4 1h2m26 1h2m0 0h2m-25 2h2m-17 1h2m9 1h2m8 1h2m-7 1h2m14 0h2m-45 1h2m-26 1h2m16 0h2m17 0h2m13 1h2m-17 2h2m-15 1h2m4 1h2m19 2h2m11 0h2m-46 10h2m-80 7h2"/><path d="M209 160h2m35 4h2m-66 2h2m38 0h2m-31 2h2m-42 1h2m43 1h2m-57 1h2m19 1h2m42 0h2m14 0h2m-35 1h2m-5 4h2m-46 1h2m53 0h2m25 0h2m-42 1h2m39 0h2m-50 1h2m-70 2h2m71 0h2m11 1h2m-26 1h2m-21 1h2m43 1h2m-68 1h2m36 0h2m62 0h2m-60 2h2m-31 1h2m39 0h2m-61 1h2m-8 1h2m31 0h2m-44 1h2m-2 0h2m15 0h2m81 0h2m-38 1h2m-33 1h2m15 0h2m13 0h2m28 0h2m-109 1h2m27 0h2m51 0h2m56 3h2m-104 1h2m1 0h2m8 0h2m65 0h2m-90 1h2m19 0h2m0 0h2m39 0h2m9 0h2m-17 2h2m27 0h2m-88 1h2m25 0h2m44 0h2m-52 1h2m-1 0h2m-1 0h2m-54 2h2m3 0h2m-1 0h2m-1 0h2m20 0h2m-107 1h2m76 0h2m6 0h2m8 0h2m51 0h2m32 0h2m-95 1h2m-1 0h2m21 0h2m-4 1h2m8 0h2m15 0h2m-90 1h2m9 0h2m0 0h2m74 0h2m8 0h2m30 0h2m-68 1h2m37 0h2m-117 1h2m57 0h2m85 0h2m-129 1h2m27 0h2m36 0h2m-140 1h2m39 0h2m-2 0h2m35 0h2m5 0h2m5 0h2m3 0h2m45 0h2m-62 1h2m8 0h2m15 0h2m5 0h2m3 0h2m1 0h2m0 0h2m1 0h2m59 0h2m-120 1h2m22 0h2m2 0h2m0 0h2m3 0h2m2 0h2m41 0h2m3 0h2m-91 1h2m40 0h2m-53 1h2m57 0h2m1 0h2m-1 0h2m34 0h2m-90 1h2m20 0h2m6 0h2m4 0h2m8 0h2m6 0h2m63 0h2m-127 1h2m24 0h2m10 0h2m23 0h2m11 0h2m-68 1h2m1 0h2m3 0h2m31 0h2m9 0h2m42 0h2m5 0h2m-92 1h2m-2 0h2m1 0h2m0 0h2m0 0h2m25 0h2m0 0h2m11 0h2m17 0h2m5 0h2m-81 1h2m0 0h2m3 0h2m7 0h2m14 0h2m6 0h2m8 0h2m-29 1h2m3 0h2m-31 1h2m12 0h2m53 0h2m-101 1h2m29 0h2m24 0h2m8 0h2m26 0h2m7 0h2m-59 1h2m5 0h2m0 0h2m-1 0h2m37 0h2m-86 1h2m28 0h2m14 0h2m27 0h2m61 0h2m-113 1h2m2 0h2m30 0h2m28 0h2m-114 1h2m18 0h2m3 0h2m9 0h2m4 0h2m23 0h2m8 0h2m-32 1h2m10 0h2m0 0h2m-1 1h2m-1 0h2m-54 1h2m4 0h2m15 0h2m-1 0h2m21 0h2m4 0h2m13 0h2m-48 1h2m-1 0h2m11 0h2m21 0h2m22 0h2m31 0h2m-130 1h2m44 0h2m5 0h2m8 0h2m6 0h2m0 0h2m7 0h2m-54 1h2m13 0h2m0 0h2m0 0h2m1 0h2m20 0h2m-70 1h2m19 0h2m31 0h2m1 0h2m2 0h2m6 0h2m10 0h2m-50 1h2m7 0h2m3 0h2m5 0h2m6 0h2m9 0h2m-1 0h2m4 0h2m-38 1h2m2 0h2m9 0h2m4 0h2m2 0h2m-30 1h2m6 0h2m6 0h2m-1 0h2m-1 0h2m2 0h2m-44 1h2m7 0h2m5 0h2m26 0h2m7 0h2m11 0h2m-86 1h2m5 0h2m1 0h2m16 0h2m10 0h2m1 0h2m26 0h2m3 0h2m-69 1h2m25 0h2m6 0h2m-1 0h2m3 0h2m6 0h2m-1 0h2m-1 0h2m15 0h2m-150 1h2m81 0h2m1 0h2m5 0h2m15 0h2m-1 0h2m13 0h2m-1 0h2m5 0h2m0 0h2m-31 1h2m30 0h2m-37 1h2m8 0h2m4 0h2m-40 1h2m14 0h2m6 0h2m19 0h2m4 0h2m27 0h2m-122 1h2m40 0h2m20 0h2m35 0h2m3 0h2m-58 1h2m20 0h2m1 0h2m-42 1h2m-1 0h2m13 0h2m-1 0h2m7 0h2m9 0h2m1 0h2m11 0h2m2 0h2m-1 0h2m24 0h2m-138 1h2m75 0h2m10 0h2m19 0h2m13 0h2m-72 1h2m17 0h2m7 0h2m-2 0h2m3 0h2m-42 1h2m8 0h2m7 0h2m0 0h2m16 0h2m-25 1h2m41 0h2m1 0h2m-1 0h2m2 0h2m-83 1h2m24 0h2m-1 0h2m9 0h2m-1 0h2m5 0h2m-2 0h2m7 0h2m-22 1h2m-1 0h2m-1 0h2m4 0h2m3 0h2m16 0h2m0 0h2m23 0h2m-65 1h2m-1 0h2m-20 1h2m-1 0h2m16 0h2m-2 0h2m1 0h2m-2 0h2m-2 0h2m0 0h2m-2 0h2m19 0h2m25 0h2m-65 1h2m3 0h2m0 0h2m3 0h2m-2 0h2m0 0h2m0 0h2m0 0h2m2 0h2m15 0h2m-29 1h2m0 0h2m-1 0h2m1 0h2m3 0h2m1 0h2m0 0h2m8 0h2m8 0h2m-53 1h2m5 0h2m3 0h2m-1 0h2m1 0h2m2 0h2m0 0h2m-1 0h2m12 0h2m3 0h2m4 0h2m-43 1h2m6 0h2m0 0h2m2 0h2m29 0h2m11 0h2m-76 1h2m0 0h2m16 0h2m7 0h2m-2 0h2m-2 0h2m-1 0h2m4 0h2m2 0h2m5 0h2m2 0h2m6 0h2m2 0h2m-62 1h2m14 0h2m2 0h2m-2 0h2m0 0h2m-2 0h2m5 0h2m17 0h2m1 0h2m2 0h2m-44 1h2m2 0h2m0 0h2m-2 0h2m-1 0h2m7 0h2m-1 0h2m-27 1h2m6 0h2m0 0h2m19 0h2m6 0h2m8 0h2m5 0h2m-47 1h2m-2 0h2m10 0h2m4 0h2m22 0h2m8 0h2m-114 1h2m61 0h2m5 0h2m0 0h2m-2 0h2m-69 1h2m11 0h2m-1 0h2m8 0h2m20 0h2m11 0h2m6 0h2m33 0h2m12 0h2m58 0h2m-117 1h2m8 0h2m22 0h2m9 0h2m-104 1h2m49 0h2m4 0h2m6 0h2m51 0h2m-68 1h2m11 0h2m6 0h2m11 0h2m-1 0h2m15 0h2m100 0h2m-156 1h2m1 0h2m16 0h2m22 0h2m-58 1h2m16 0h2m13 0h2m39 0h2m-69 1h2m-46 1h2m38 0h2m15 0h2m29 0h2m-66 1h2m76 0h2m-58 1h2m-25 1h2m6 0h2m26 1h2m16 0h2m-16 1h2m24 0h2m-60 1h2m80 0h2m-69 1h2m-7 1h2m42 0h2m16 0h2m27 0h2m-71 1h2m-1 0h2m16 0h2m-46 1h2m20 0h2m41 0h2m-104 1h2m87 0h2m13 0h2m-31 1h2m-29 1h2m-18 1h2m-11 1h2m50 0h2m5 0h2m41 1h2m-103 1h2m18 0h2m33 2h2m1 0h2m-62 1h2m51 0h2m-2 1h2m-65 1h2m55 0h2m23 0h2m33 0h2m-79 3h2m37 0h2m5 1h2m16 2h2m-110 1h2m39 0h2m24 0h2m-106 1h2m87 0h2m8 0h2m-48 2h2m-6 1h2m38 0h2m41 0h2m-55 1h2m6 0h2m31 0h2m-65 1h2m31 0h2m-14 1h2m-37 3h2m39 0h2m64 0h2m-110 3h2m36 0h2m31 0h2m-51 1h2m20 0h2m7 0h2m-39 1h2m34 1h2m-58 1h2m57 0h2m15 0h2m-5 1h2m-22 2h2m-17 1h2m2 1h2m-48 1h2m58 1h2m4 0h2m-4 1h2m-37 1h2m10 0h2m15 0h2m14 0h2m-9 1h2m-39 2h2m39 0h2m-1 1h2m24 0h2m-8 1h2m-60 1h2m24 0h2m46 2h2"/><path d="M239 142h2m-26 9h2m31 0h2m-7 3h2m-5 2h2m-50 3h2m-85 1h2m87 3h2m43 0h2m-13 3h2m31 1h2m-72 1h2m-58 1h2m39 0h2m37 0h2m-16 1h2m11 0h2m-7 2h2m18 1h2m10 0h2m-49 1h2m22 0h2m-38 1h2m-29 1h2m-50 1h2m39 0h2m37 0h2m-52 1h2m26 0h2m4 0h2m86 1h2m-119 1h2m35 1h2m-38 2h2m68 0h2m-24 1h2m6 0h2m-6 1h2m-65 1h2m51 0h2m17 1h2m5 0h2m-89 1h2m17 0h2m48 0h2m-4 1h2m35 4h2m-120 2h2m4 0h2m62 0h2m3 0h2m-60 1h2m110 0h2m-135 1h2m2 0h2m67 0h2m-2 0h2m7 0h2m-62 1h2m36 0h2m40 0h2m24 0h2m-135 1h2m9 0h2m49 0h2m-61 1h2m96 0h2m-58 1h2m-1 0h2m36 0h2m-26 1h2m28 0h2m-87 1h2m26 0h2m2 0h2m1 0h2m27 0h2m-32 1h2m8 0h2m11 0h2m-11 1h2m5 0h2m15 0h2m10 0h2m-85 1h2m20 0h2m14 0h2m3 0h2m0 0h2m-34 1h2m32 0h2m1 0h2m16 0h2m54 0h2m-127 1h2m0 0h2m8 0h2m6 0h2m-1 0h2m45 0h2m0 0h2m-75 1h2m13 0h2m72 0h2m-55 1h2m7 0h2m40 0h2m-82 1h2m12 0h2m-17 1h2m3 0h2m13 0h2m3 0h2m5 0h2m61 0h2m-115 2h2m0 0h2m14 0h2m10 0h2m25 0h2m1 0h2m10 0h2m12 0h2m36 0h2m-118 1h2m7 0h2m92 0h2m-73 1h2m2 0h2m-36 1h2m-1 0h2m0 0h2m4 0h2m2 0h2m39 0h2m-42 1h2m1 0h2m4 0h2m7 0h2m2 0h2m11 0h2m6 0h2m-86 1h2m24 0h2m9 0h2m0 0h2m28 0h2m-17 1h2m93 0h2m-131 1h2m-1 0h2m-1 0h2m-1 0h2m26 0h2m21 0h2m-48 1h2m11 0h2m1 0h2m11 0h2m14 0h2m50 0h2m-78 1h2m17 0h2m-1 0h2m3 0h2m9 0h2m-62 1h2m5 0h2m8 0h2m7 0h2m3 0h2m4 0h2m-2 0h2m-42 1h2m9 0h2m39 0h2m30 0h2m-91 1h2m8 0h2m14 0h2m1 0h2m-2 0h2m1 0h2m2 0h2m8 0h2m-59 1h2m34 0h2m0 0h2m2 0h2m27 0h2m12 0h2m33 0h2m-108 1h2m3 0h2m-1 0h2m0 0h2m9 0h2m8 0h2m-2 0h2m15 0h2m4 0h2m-27 1h2m38 0h2m2 0h2m-78 1h2m13 0h2m2 0h2m8 0h2m0 0h2m2 0h2m0 0h2m-2 0h2m6 0h2m25 0h2m-78 1h2m29 0h2m8 0h2m19 0h2m6 0h2m-67 1h2m1 0h2m19 0h2m1 0h2m6 0h2m11 0h2m-2 0h2m11 0h2m6 0h2m5 0h2m-56 1h2m0 0h2m21 0h2m-48 1h2m14 0h2m0 0h2m4 0h2m6 0h2m11 0h2m2 0h2m18 0h2m-92 1h2m37 0h2m7 0h2m8 0h2m-1 0h2m6 0h2m5 0h2m8 0h2m24 0h2m-81 1h2m16 0h2m-1 0h2m6 0h2m3 0h2m-2 0h2m3 0h2m6 0h2m1 0h2m45 0h2m-80 1h2m17 0h2m0 0h2m9 0h2m28 0h2m-58 1h2m-1 0h2m0 0h2m13 0h2m3 0h2m3 0h2m1 0h2m-77 2h2m1 0h2m-2 0h2m11 0h2m13 0h2m0 0h2m-2 0h2m7 0h2m5 0h2m1 0h2m35 0h2m3 0h2m34 0h2m-105 1h2m10 0h2m8 0h2m3 0h2m-1 0h2m4 0h2m-2 0h2m16 0h2m5 0h2m48 0h2m-40 1h2m-73 1h2m13 0h2m47 0h2m-155 1h2m86 0h2m13 0h2m6 0h2m1 0h2m0 0h2m2 0h2m-1 0h2m0 0h2m15 0h2m57 0h2m-108 1h2m-1 0h2m8 0h2m0 0h2m-47 1h2m30 0h2m12 0h2m6 0h2m0 0h2m55 0h2m-114 1h2m4 0h2m7 0h2m1 0h2m3 0h2m0 0h2m0 0h2m7 0h2m-24 1h2m11 0h2m1 0h2m5 0h2m-1 0h2m9 0h2m0 0h2m9 0h2m-45 1h2m3 0h2m0 0h2m21 0h2m3 0h2m13 0h2m2 0h2m19 0h2m-83 1h2m-1 0h2m7 0h2m14 0h2m-1 0h2m3 0h2m-38 1h2m5 0h2m4 0h2m-1 0h2m21 0h2m4 0h2m-83 1h2m38 0h2m6 0h2m10 1h2m9 0h2m25 0h2m-86 1h2m19 0h2m0 0h2m11 0h2m-1 0h2m0 0h2m13 0h2m-66 1h2m44 0h2m30 0h2m4 0h2m2 0h2m24 0h2m-146 1h2m77 0h2m14 0h2m18 0h2m-56 1h2m2 0h2m-1 0h2m16 0h2m4 0h2m5 0h2m8 0h2m7 0h2m20 0h2m-79 1h2m0 0h2m-1 0h2m5 0h2m4 0h2m-1 0h2m22 0h2m2 0h2m3 0h2m-47 1h2m0 0h2m-2 0h2m1 0h2m35 0h2m-55 1h2m13 0h2m-2 0h2m1 0h2m-2 0h2m5 0h2m1 0h2m6 0h2m-2 0h2m2 0h2m4 0h2m93 0h2m-141 1h2m7 0h2m1 0h2m1 0h2m3 0h2m7 0h2m5 0h2m1 0h2m45 0h2m26 0h2m-113 1h2m2 0h2m8 0h2m17 0h2m-75 1h2m50 0h2m-1 0h2m8 0h2m1 0h2m3 0h2m-81 1h2m46 0h2m5 0h2m33 0h2m0 0h2m-40 1h2m1 0h2m2 0h2m-2 0h2m-1 0h2m17 0h2m7 0h2m-67 1h2m32 0h2m-2 0h2m4 0h2m-36 1h2m25 0h2m6 0h2m4 0h2m4 0h2m2 0h2m-52 1h2m28 0h2m-1 0h2m-1 0h2m-43 1h2m28 0h2m3 0h2m2 0h2m-2 0h2m4 0h2m0 0h2m4 0h2m16 0h2m-43 1h2m4 0h2m2 0h2m5 0h2m3 0h2m13 0h2m6 0h2m2 0h2m-44 1h2m6 0h2m13 0h2m13 0h2m-62 1h2m27 0h2m17 0h2m-17 1h2m-9 2h2m50 0h2m-84 1h2m19 0h2m0 0h2m11 0h2m41 0h2m-75 1h2m22 0h2m11 1h2m29 0h2m-19 1h2m-73 1h2m4 0h2m40 0h2m32 0h2m-20 1h2m29 0h2m12 0h2m-91 1h2m26 0h2m5 0h2m-39 1h2m47 0h2m-55 1h2m35 0h2m-23 1h2m16 1h2m13 0h2m-8 2h2m12 0h2m23 0h2m-89 1h2m50 0h2m-17 1h2m10 1h2m34 0h2m-73 1h2m10 0h2m1 1h2m35 0h2m6 0h2m32 0h2m-70 1h2m23 0h2m-68 1h2m14 0h2m28 0h2m3 0h2m40 0h2m-84 1h2m34 1h2m-14 1h2m30 0h2m-9 1h2m-37 1h2m2 0h2m22 0h2m-98 3h2m136 0h2m-90 2h2m61 0h2m-40 2h2m17 1h2m-71 1h2m83 0h2m66 2h2m-143 1h2m41 2h2m78 0h2m-131 3h2m29 0h2m31 1h2m25 1h2m-75 1h2m52 0h2m-11 1h2m-85 1h2m51 0h2m48 0h2m-66 1h2m41 0h2m-78 1h2m12 0h2m34 1h2m-25 1h2m38 0h2m-25 1h2m-1 0h2m14 0h2m31 0h2m6 2h2m-67 1h2m-29 1h2m32 0h2m-34 1h2m7 0h2m34 0h2m28 3h2m-19 4h2m21 7h2"/><path d="M177 154h2m77 2h2m-58 1h2m-3 2h2m46 4h2m-90 4h2m45 1h2m-53 1h2m27 0h2m37 0h2m-46 1h2m6 0h2m39 1h2m16 2h2m-145 2h2m107 0h2m-109 1h2m71 0h2m14 1h2m-10 1h2m29 0h2m7 1h2m-30 2h2m-86 2h2m47 0h2m39 0h2m15 0h2m-95 1h2m33 0h2m14 0h2m18 0h2m-49 1h2m19 0h2m11 0h2m-82 1h2m104 0h2m-71 1h2m54 0h2m14 1h2m-59 1h2m8 0h2m10 0h2m-32 1h2m37 0h2m10 0h2m1 0h2m1 0h2m-58 1h2m39 0h2m-30 1h2m-1 0h2m1 0h2m36 0h2m-34 1h2m33 1h2m-95 1h2m-42 1h2m47 0h2m18 0h2m14 0h2m55 0h2m0 0h2m24 0h2m-115 1h2m22 0h2m62 0h2m-81 1h2m16 0h2m16 0h2m10 0h2m17 0h2m-61 1h2m17 1h2m-73 1h2m32 0h2m4 0h2m-35 1h2m8 0h2m18 0h2m7 0h2m8 0h2m49 0h2m2 0h2m-91 1h2m3 0h2m1 0h2m1 0h2m-61 1h2m134 0h2m-27 1h2m1 0h2m26 0h2m-75 1h2m27 0h2m3 0h2m36 0h2m-79 1h2m3 0h2m11 0h2m15 0h2m28 0h2m52 0h2m-125 1h2m4 0h2m12 0h2m79 0h2m-96 1h2m-40 1h2m-11 1h2m19 0h2m40 0h2m1 0h2m39 0h2m-104 1h2m17 0h2m16 0h2m2 0h2m86 0h2m-126 1h2m6 0h2m9 0h2m7 0h2m10 0h2m19 0h2m35 0h2m-75 1h2m1 0h2m2 0h2m9 0h2m21 0h2m13 0h2m4 0h2m-82 1h2m4 0h2m15 0h2m26 0h2m-44 1h2m10 0h2m55 0h2m-69 1h2m5 0h2m1 0h2m-1 0h2m23 0h2m21 0h2m-82 1h2m3 0h2m11 0h2m26 0h2m16 1h2m-54 1h2m9 0h2m4 0h2m8 0h2m24 0h2m2 0h2m12 0h2m-95 1h2m41 0h2m2 0h2m-1 0h2m2 0h2m42 0h2m9 0h2m-70 1h2m17 0h2m-45 1h2m17 0h2m10 0h2m0 0h2m14 0h2m4 0h2m32 0h2m-99 1h2m32 0h2m12 0h2m-47 1h2m7 0h2m11 0h2m9 0h2m-1 0h2m9 0h2m6 0h2m-46 1h2m-1 0h2m8 0h2m4 0h2m-1 0h2m18 0h2m15 0h2m4 0h2m-85 1h2m22 0h2m14 0h2m4 0h2m5 0h2m9 0h2m-43 1h2m6 0h2m-1 0h2m32 0h2m2 0h2m28 0h2m-138 1h2m34 0h2m14 0h2m3 0h2m9 0h2m16 0h2m17 0h2m-71 1h2m20 0h2m12 0h2m4 0h2m34 0h2m22 0h2m-148 1h2m-1 0h2m57 0h2m32 0h2m45 0h2m-71 1h2m6 0h2m1 0h2m18 0h2m25 0h2m37 0h2m-93 1h2m10 0h2m-2 0h2m0 0h2m1 0h2m5 0h2m1 0h2m-58 1h2m-1 0h2m15 0h2m10 0h2m15 0h2m-2 0h2m3 0h2m21 0h2m-83 1h2m24 0h2m0 0h2m13 0h2m-1 0h2m7 0h2m-1 0h2m7 0h2m13 0h2m-1 0h2m-58 1h2m61 0h2m-106 1h2m30 0h2m14 0h2m30 0h2m2 0h2m-60 1h2m8 0h2m22 0h2m24 0h2m19 0h2m-121 1h2m24 0h2m16 0h2m31 0h2m5 0h2m0 0h2m4 0h2m-42 1h2m26 0h2m-2 0h2m18 0h2m61 0h2m-149 1h2m34 0h2m14 0h2m-2 0h2m10 0h2m0 0h2m18 0h2m-138 1h2m53 0h2m12 0h2m25 0h2m7 0h2m1 0h2m2 0h2m-47 1h2m11 0h2m2 0h2m4 0h2m17 0h2m30 0h2m4 0h2m-78 1h2m31 0h2m7 0h2m0 0h2m2 0h2m46 0h2m-88 1h2m1 0h2m10 0h2m40 0h2m-79 1h2m8 0h2m5 0h2m4 0h2m7 0h2m-2 0h2m3 0h2m2 0h2m4 0h2m-1 0h2m0 0h2m-2 0h2m4 0h2m3 0h2m5 0h2m7 0h2m-63 1h2m8 1h2m12 0h2m-46 1h2m16 0h2m18 0h2m12 0h2m-1 0h2m-21 1h2m-1 0h2m6 0h2m0 0h2m13 0h2m-59 1h2m6 0h2m16 0h2m10 0h2m10 0h2m3 0h2m-54 1h2m4 0h2m0 0h2m4 0h2m1 0h2m14 0h2m-2 0h2m-1 0h2m10 0h2m2 0h2m9 0h2m2 0h2m7 0h2m53 0h2m-90 1h2m4 0h2m2 0h2m-2 0h2m1 0h2m-76 1h2m30 0h2m8 0h2m1 0h2m14 0h2m12 0h2m7 0h2m-52 1h2m-7 1h2m1 0h2m40 0h2m-46 1h2m28 0h2m-1 0h2m-1 0h2m4 0h2m4 0h2m26 0h2m-100 1h2m26 0h2m-1 0h2m11 0h2m25 0h2m4 0h2m-45 1h2m1 0h2m11 0h2m-2 0h2m-32 1h2m9 0h2m-1 0h2m0 0h2m10 0h2m12 0h2m12 0h2m9 0h2m28 0h2m-95 1h2m10 0h2m5 0h2m0 0h2m19 0h2m2 0h2m0 0h2m29 0h2m-66 1h2m14 0h2m3 0h2m5 0h2m19 0h2m6 0h2m-75 1h2m9 0h2m1 0h2m0 0h2m11 0h2m5 0h2m14 0h2m19 0h2m21 0h2m-111 1h2m18 0h2m9 0h2m-2 0h2m9 0h2m17 0h2m6 0h2m11 0h2m-60 1h2m8 0h2m1 0h2m2 0h2m17 0h2m82 0h2m-120 1h2m0 0h2m-13 1h2m9 0h2m-1 0h2m8 0h2m16 0h2m-54 1h2m19 1h2m4 0h2m25 0h2m1 0h2m-58 1h2m15 0h2m-1 0h2m24 0h2m-60 2h2m36 0h2m11 0h2m9 0h2m6 0h2m-58 1h2m31 0h2m5 0h2m-51 1h2m9 0h2m0 0h2m9 0h2m34 0h2m41 0h2m-98 1h2m13 0h2m31 0h2m-2 0h2m-38 1h2m24 0h2m4 0h2m11 0h2m-74 1h2m22 0h2m16 0h2m7 0h2m17 1h2m9 1h2m-61 1h2m18 0h2m22 0h2m-55 1h2m43 0h2m-14 1h2m-59 1h2m45 0h2m5 0h2m2 0h2m-40 1h2m65 0h2m8 0h2m-101 2h2m79 0h2m-52 1h2m36 0h2m13 0h2m-5 1h2m15 0h2m8 0h2m-50 1h2m47 0h2m-93 1h2m78 0h2m-24 1h2m-35 1h2m23 0h2m-30 1h2m27 0h2m1 0h2m-49 1h2m10 1h2m76 0h2m-112 1h2m49 1h2m-1 0h2m11 0h2m17 0h2m17 0h2m-73 1h2m23 0h2m0 0h2m2 0h2m46 0h2m-114 1h2m31 0h2m42 0h2m10 0h2m-60 1h2m2 0h2m42 0h2m-57 1h2m4 1h2m-54 2h2m67 0h2m9 0h2m-1 0h2m-105 2h2m48 0h2m35 0h2m0 0h2m-13 2h2m54 0h2m38 0h2m-55 1h2m-56 1h2m35 0h2m49 0h2m-48 1h2m14 0h2m-87 2h2m110 0h2m-9 1h2m-32 1h2m35 0h2m-52 2h2m9 0h2m-50 2h2m16 0h2m30 0h2m4 0h2m-27 1h2m76 0h2m-135 2h2m130 0h2m13 1h2m-20 2h2m-118 3h2m-1 0h2m58 1h2m46 0h2m20 2h2m-72 1h2m-106 1h2m71 2h2m1 0h2m6 1h2m-52 2h2m38 1h2m-36 2h2m23 0h2m28 0h2m10 0h2m-3 5h2m-12 2h2"/><path d="M231 143h2m-2 3h2m-66 3h2m6 6h2m26 0h2m29 0h2m13 0h2m-61 7h2m-28 1h2m39 1h2m34 0h2m-51 1h2m-17 1h2m-1 3h2m35 0h2m-19 1h2m3 1h2m-82 2h2m86 0h2m29 1h2m-37 3h2m21 0h2m2 0h2m18 0h2m-131 1h2m40 0h2m24 0h2m20 0h2m-52 1h2m2 0h2m9 0h2m4 2h2m6 0h2m9 0h2m7 0h2m-18 1h2m-1 0h2m16 0h2m-92 1h2m71 2h2m15 0h2m-76 1h2m100 0h2m-89 1h2m39 0h2m-58 1h2m8 0h2m14 0h2m24 0h2m62 0h2m-74 1h2m-72 1h2m72 1h2m-50 1h2m2 0h2m44 0h2m-62 1h2m51 0h2m0 0h2m20 0h2m-94 1h2m4 0h2m8 0h2m16 0h2m20 0h2m14 0h2m-15 1h2m63 0h2m-110 1h2m99 0h2m-149 1h2m153 0h2m-105 1h2m-63 1h2m9 0h2m69 0h2m1 0h2m-79 1h2m73 0h2m88 0h2m-110 1h2m-2 0h2m0 0h2m28 0h2m-47 2h2m44 0h2m27 0h2m-91 1h2m26 0h2m6 0h2m36 0h2m-83 1h2m10 0h2m44 0h2m4 1h2m2 0h2m4 0h2m9 0h2m-111 1h2m8 0h2m60 0h2m14 0h2m-47 1h2m-33 1h2m44 0h2m14 0h2m-42 1h2m65 0h2m-81 1h2m30 0h2m-33 1h2m21 0h2m5 0h2m4 0h2m-1 0h2m40 0h2m28 0h2m-127 1h2m19 0h2m19 0h2m-1 0h2m13 0h2m6 0h2m10 0h2m31 0h2m3 0h2m9 0h2m-90 1h2m5 0h2m53 0h2m4 0h2m3 0h2m-78 1h2m16 0h2m-26 1h2m14 0h2m16 0h2m1 0h2m4 0h2m42 0h2m-112 1h2m30 0h2m0 0h2m30 0h2m-53 1h2m67 0h2m42 0h2m-87 1h2m2 0h2m-70 1h2m21 0h2m30 0h2m53 0h2m-85 1h2m18 0h2m-3 1h2m5 0h2m4 0h2m45 0h2m26 0h2m-123 1h2m17 0h2m0 0h2m11 0h2m32 0h2m4 0h2m29 0h2m-114 1h2m20 0h2m12 0h2m46 0h2m11 0h2m-104 1h2m56 0h2m38 0h2m73 0h2m-163 1h2m5 0h2m26 0h2m16 0h2m3 0h2m25 0h2m-91 1h2m5 0h2m14 0h2m19 0h2m-1 0h2m9 0h2m22 0h2m-32 1h2m78 0h2m-115 1h2m23 0h2m51 0h2m13 0h2m-120 1h2m9 0h2m25 0h2m5 0h2m-2 0h2m1 0h2m-2 1h2m0 0h2m7 0h2m1 0h2m-39 1h2m1 0h2m4 0h2m2 0h2m3 0h2m17 0h2m5 0h2m-50 1h2m2 0h2m-1 0h2m-2 0h2m19 0h2m-1 0h2m-1 0h2m0 0h2m9 0h2m3 0h2m-54 1h2m14 0h2m8 0h2m5 0h2m15 0h2m7 0h2m1 0h2m-61 1h2m-1 0h2m14 0h2m4 0h2m0 0h2m2 0h2m20 0h2m2 0h2m58 0h2m-115 1h2m-1 0h2m11 0h2m15 0h2m25 0h2m-47 1h2m23 0h2m11 0h2m4 0h2m-71 1h2m18 0h2m2 0h2m8 0h2m7 0h2m-2 0h2m7 0h2m-29 1h2m1 0h2m8 0h2m-30 1h2m32 0h2m8 0h2m3 0h2m-2 0h2m-46 1h2m9 0h2m14 0h2m25 0h2m-67 1h2m9 0h2m-2 0h2m9 0h2m6 0h2m3 0h2m9 0h2m2 0h2m1 0h2m-1 0h2m17 0h2m5 0h2m-107 1h2m36 0h2m19 0h2m0 0h2m3 0h2m0 0h2m8 0h2m22 0h2m77 0h2m-186 1h2m17 0h2m23 0h2m0 0h2m0 0h2m2 0h2m-1 0h2m1 0h2m-11 1h2m7 0h2m0 0h2m-4 1h2m6 0h2m-2 0h2m3 0h2m3 0h2m9 0h2m3 0h2m-73 1h2m20 0h2m21 0h2m3 0h2m-53 1h2m39 0h2m-1 0h2m4 0h2m7 0h2m16 0h2m60 0h2m-155 1h2m51 0h2m6 0h2m3 0h2m10 0h2m-51 1h2m9 0h2m1 0h2m2 0h2m33 0h2m28 0h2m-72 1h2m6 0h2m-38 1h2m11 0h2m7 0h2m0 0h2m1 0h2m0 0h2m3 0h2m6 0h2m11 0h2m6 0h2m-57 1h2m9 0h2m10 0h2m7 0h2m18 0h2m-72 1h2m22 0h2m7 0h2m7 0h2m2 0h2m3 0h2m2 0h2m15 0h2m25 0h2m-76 1h2m-1 0h2m7 0h2m10 0h2m17 0h2m-54 1h2m30 0h2m4 0h2m3 0h2m29 0h2m2 0h2m-63 1h2m2 0h2m42 0h2m-28 1h2m4 0h2m1 0h2m2 0h2m5 0h2m26 0h2m-77 1h2m8 0h2m6 0h2m2 0h2m-1 0h2m-52 1h2m22 0h2m6 0h2m0 0h2m-1 0h2m3 0h2m-1 0h2m2 0h2m8 0h2m11 0h2m64 0h2m-120 1h2m2 0h2m6 0h2m1 0h2m0 0h2m0 0h2m-1 0h2m-1 0h2m28 0h2m-49 1h2m7 0h2m-1 0h2m-1 0h2m-2 0h2m1 0h2m4 0h2m14 0h2m-1 0h2m8 0h2m13 0h2m12 0h2m-70 1h2m-1 0h2m-2 0h2m1 0h2m22 0h2m11 0h2m5 0h2m3 0h2m-59 1h2m7 0h2m0 0h2m3 0h2m-1 0h2m0 0h2m9 0h2m-40 1h2m-1 0h2m1 0h2m4 0h2m6 0h2m-2 0h2m-1 0h2m20 0h2m9 0h2m-42 1h2m11 0h2m-19 1h2m-1 0h2m5 0h2m-1 0h2m0 0h2m21 0h2m-30 1h2m0 0h2m14 0h2m5 0h2m1 0h2m29 0h2m-75 1h2m16 0h2m5 0h2m1 0h2m1 0h2m-31 1h2m13 0h2m4 0h2m54 0h2m-84 1h2m12 0h2m5 0h2m8 0h2m2 0h2m-4 2h2m3 0h2m-1 0h2m4 0h2m0 0h2m-24 1h2m1 0h2m-2 0h2m9 0h2m46 0h2m-34 1h2m4 0h2m-78 1h2m42 0h2m-66 1h2m57 0h2m7 0h2m18 0h2m-63 1h2m6 0h2m46 0h2m0 0h2m7 0h2m26 1h2m-158 1h2m43 1h2m17 0h2m25 0h2m16 0h2m15 0h2m-81 1h2m38 0h2m33 0h2m-50 1h2m-5 1h2m86 0h2m-39 3h2m3 0h2m-39 1h2m7 0h2m1 0h2m-48 1h2m76 0h2m-47 2h2m12 0h2m-39 2h2m9 0h2m-19 1h2m35 0h2m-53 1h2m0 0h2m24 0h2m31 0h2m16 0h2m1 1h2m-73 1h2m15 0h2m0 0h2m8 0h2m6 0h2m-8 2h2m-1 0h2m18 0h2m79 1h2m-121 3h2m-5 1h2m21 0h2m11 0h2m-12 1h2m38 0h2m-56 1h2m20 0h2m-34 1h2m44 0h2m4 0h2m3 1h2m-1 0h2m-71 1h2m4 0h2m21 0h2m-10 1h2m-35 1h2m-24 1h2m41 0h2m-1 0h2m-26 1h2m27 0h2m1 0h2m1 1h2m-14 1h2m7 1h2m32 1h2m5 0h2m22 0h2m-52 2h2m66 0h2m-72 1h2m34 0h2m4 0h2m-116 2h2m87 0h2m-63 1h2m17 0h2m20 0h2m-17 1h2m26 0h2m-10 1h2m86 1h2m-141 1h2m39 0h2m45 1h2m20 0h2m-64 1h2m41 2h2m28 0h2m-99 1h2m92 2h2m-43 2h2m12 1h2m22 1h2m-21 2h2m-62 11h2"/><path d="M231 138h2m-26 6h2m50 2h2m-4 7h2m-92 3h2m20 0h2m51 0h2m-61 2h2m70 2h2m-26 2h2m-37 2h2m24 1h2m-18 1h2m31 1h2m-35 1h2m10 0h2m-23 1h2m26 2h2m-30 4h2m3 1h2m7 0h2m-18 1h2m46 1h2m-97 1h2m10 0h2m-52 1h2m9 1h2m68 0h2m8 0h2m-37 1h2m12 1h2m-1 0h2m22 0h2m-38 2h2m42 0h2m-59 1h2m4 1h2m31 0h2m38 0h2m-163 1h2m118 0h2m11 0h2m-20 1h2m-46 2h2m4 0h2m22 0h2m28 0h2m2 0h2m6 1h2m-84 2h2m26 0h2m-35 1h2m15 0h2m-9 1h2m85 0h2m-83 1h2m47 1h2m-74 1h2m34 0h2m44 0h2m42 1h2m-154 1h2m22 0h2m53 0h2m17 0h2m17 0h2m-115 1h2m0 0h2m11 0h2m52 0h2m24 0h2m-88 1h2m6 1h2m61 0h2m-100 2h2m29 0h2m26 0h2m1 0h2m-1 0h2m6 0h2m9 0h2m-48 1h2m23 0h2m1 0h2m0 0h2m48 0h2m-72 1h2m13 0h2m49 0h2m16 0h2m-66 1h2m-35 1h2m3 0h2m17 0h2m1 0h2m4 0h2m33 0h2m-80 1h2m20 0h2m2 0h2m21 0h2m-25 1h2m34 0h2m11 0h2m-65 1h2m15 0h2m43 0h2m-81 1h2m15 0h2m7 0h2m37 0h2m14 0h2m-72 1h2m6 0h2m21 0h2m36 1h2m-62 1h2m47 0h2m41 0h2m-91 1h2m9 0h2m0 0h2m10 0h2m3 0h2m-1 0h2m27 0h2m13 0h2m-66 1h2m9 0h2m-1 0h2m0 0h2m-1 0h2m-1 0h2m96 0h2m-143 1h2m26 0h2m1 0h2m40 0h2m-63 1h2m0 0h2m7 0h2m-1 0h2m5 0h2m12 0h2m35 0h2m23 0h2m-105 1h2m4 0h2m5 0h2m6 0h2m-22 1h2m-2 0h2m-1 0h2m-1 0h2m1 0h2m-1 0h2m4 0h2m11 0h2m12 0h2m15 0h2m-124 1h2m74 0h2m7 0h2m-1 0h2m3 0h2m6 0h2m79 0h2m-134 1h2m18 0h2m4 0h2m1 0h2m-2 0h2m4 0h2m23 0h2m5 0h2m-1 0h2m-80 1h2m8 0h2m6 0h2m0 0h2m15 0h2m1 0h2m4 0h2m6 0h2m-1 0h2m7 0h2m-36 1h2m32 0h2m39 0h2m-140 1h2m139 0h2m-101 1h2m1 0h2m10 0h2m0 0h2m3 0h2m-1 0h2m12 0h2m15 0h2m17 0h2m14 0h2m-79 1h2m14 1h2m0 0h2m-1 0h2m-1 0h2m2 0h2m16 0h2m51 0h2m9 0h2m-169 1h2m52 0h2m17 0h2m13 0h2m25 0h2m-63 1h2m10 0h2m2 0h2m12 0h2m7 0h2m2 0h2m1 0h2m14 0h2m-53 1h2m20 0h2m9 0h2m15 0h2m12 0h2m-73 1h2m13 0h2m-1 0h2m11 0h2m-19 1h2m10 0h2m15 0h2m13 0h2m-58 1h2m10 0h2m3 0h2m3 0h2m13 0h2m-25 1h2m5 0h2m1 0h2m-1 0h2m-1 0h2m9 0h2m5 0h2m-58 1h2m13 0h2m4 0h2m3 0h2m0 0h2m1 0h2m9 0h2m-2 0h2m2 0h2m0 0h2m0 0h2m3 0h2m-101 1h2m61 0h2m22 0h2m-1 0h2m15 0h2m-48 1h2m15 0h2m-1 0h2m0 0h2m11 0h2m30 0h2m41 0h2m-126 1h2m17 0h2m-1 0h2m1 0h2m7 0h2m-1 0h2m0 0h2m24 0h2m27 0h2m-95 1h2m7 0h2m5 0h2m-1 0h2m14 0h2m47 0h2m-70 1h2m18 0h2m23 0h2m0 0h2m-86 1h2m21 0h2m20 0h2m7 0h2m-2 0h2m4 0h2m6 0h2m3 0h2m6 0h2m0 0h2m11 0h2m-62 1h2m11 0h2m6 0h2m-2 0h2m3 0h2m8 0h2m0 0h2m1 0h2m-1 0h2m-22 1h2m3 0h2m3 0h2m18 0h2m0 0h2m22 0h2m-89 1h2m10 0h2m4 0h2m10 0h2m-2 0h2m-13 1h2m14 0h2m16 0h2m-40 1h2m18 0h2m25 0h2m-50 1h2m0 0h2m43 0h2m3 0h2m-79 1h2m17 0h2m-28 1h2m23 0h2m17 0h2m2 0h2m11 0h2m4 0h2m-1 0h2m3 0h2m11 0h2m-67 1h2m19 0h2m7 0h2m-27 1h2m-1 0h2m22 0h2m17 0h2m-53 1h2m3 0h2m6 0h2m-2 0h2m10 0h2m25 0h2m16 0h2m-67 1h2m-1 0h2m39 0h2m-41 1h2m3 0h2m15 0h2m24 0h2m-53 1h2m1 0h2m-1 0h2m-1 0h2m15 0h2m9 0h2m-1 0h2m-1 0h2m9 0h2m1 0h2m0 0h2m-76 1h2m6 0h2m30 0h2m17 0h2m-37 1h2m0 0h2m0 0h2m8 0h2m13 0h2m7 0h2m3 0h2m6 0h2m17 0h2m-85 1h2m19 0h2m-1 0h2m14 0h2m-1 0h2m-1 0h2m6 0h2m0 0h2m28 0h2m-69 1h2m3 0h2m0 0h2m-1 0h2m0 0h2m3 0h2m-2 0h2m8 0h2m10 0h2m-1 0h2m16 0h2m-77 1h2m9 0h2m7 0h2m12 0h2m-1 0h2m18 0h2m-37 1h2m2 0h2m-2 0h2m15 0h2m36 0h2m-79 1h2m11 0h2m1 0h2m6 0h2m1 0h2m0 0h2m0 0h2m19 0h2m-34 1h2m-2 0h2m6 0h2m-1 0h2m-2 0h2m0 0h2m1 0h2m7 0h2m6 0h2m-56 1h2m6 0h2m25 0h2m15 0h2m6 0h2m-31 1h2m-13 1h2m6 0h2m4 0h2m11 0h2m1 0h2m16 0h2m-54 1h2m-3 1h2m9 0h2m11 0h2m11 0h2m9 0h2m1 0h2m-106 1h2m76 0h2m15 0h2m13 0h2m31 0h2m-82 1h2m25 0h2m32 0h2m2 0h2m-36 1h2m19 0h2m-111 1h2m39 0h2m22 0h2m19 0h2m-26 1h2m13 0h2m9 0h2m11 0h2m-93 1h2m45 0h2m38 0h2m-46 1h2m-1 0h2m28 0h2m0 0h2m-39 1h2m-1 0h2m69 0h2m-25 1h2m-80 1h2m46 0h2m-58 1h2m59 0h2m12 0h2m-1 0h2m27 0h2m-64 1h2m-1 0h2m-28 1h2m64 0h2m7 0h2m-98 1h2m13 0h2m56 0h2m37 2h2m-86 1h2m33 0h2m10 0h2m13 1h2m-84 1h2m5 0h2m30 0h2m36 0h2m64 0h2m-125 1h2m44 0h2m10 0h2m10 0h2m-48 1h2m17 0h2m-21 1h2m2 0h2m-44 1h2m7 0h2m62 0h2m-44 1h2m-30 1h2m16 0h2m58 0h2m19 0h2m-126 1h2m47 0h2m-19 1h2m2 0h2m22 0h2m2 1h2m2 0h2m28 0h2m-73 1h2m30 0h2m-9 2h2m4 0h2m6 0h2m-28 2h2m39 0h2m15 0h2m-25 1h2m15 0h2m-73 1h2m54 0h2m-90 1h2m55 0h2m11 1h2m-12 1h2m2 0h2m40 0h2m-85 1h2m51 0h2m8 1h2m-41 2h2m35 0h2m32 0h2m-15 1h2m-47 1h2m59 1h2m-47 4h2m-42 1h2m27 0h2m-58 1h2m145 0h2m-121 1h2m36 0h2m-8 1h2m21 1h2m-71 1h2m43 1h2m53 1h2m-80 2h2m-36 1h2m25 0h2m50 2h2m-48 4h2m43 2h2m22 2h2m-20 4h2m51 1h2m-137 1h2m50 4h2"/><path d="M191 142h2m60 1h2m-20 6h2m-37 1h2m-22 2h2m-21 3h2m45 2h2m-33 6h2m53 1h2m-17 1h2m-13 2h2m44 0h2m-72 2h2m17 1h2m-16 1h2m11 0h2m13 0h2m-43 1h2m17 0h2m14 1h2m13 1h2m-4 2h2m-132 1h2m119 0h2m-49 1h2m15 0h2m5 0h2m-21 1h2m19 2h2m29 0h2m-33 1h2m16 1h2m-33 1h2m18 0h2m-3 1h2m30 0h2m-27 1h2m4 0h2m1 0h2m-73 2h2m20 0h2m40 0h2m-55 1h2m15 0h2m-2 0h2m19 0h2m-30 1h2m47 0h2m-103 1h2m51 0h2m-17 1h2m6 0h2m26 0h2m3 0h2m55 0h2m-56 1h2m-1 0h2m4 0h2m25 0h2m-20 1h2m-82 1h2m-21 1h2m65 0h2m-2 0h2m44 0h2m-78 1h2m0 0h2m11 0h2m6 0h2m37 0h2m-113 1h2m24 0h2m20 0h2m-60 1h2m71 0h2m-37 1h2m48 0h2m5 0h2m21 0h2m3 0h2m-80 1h2m48 0h2m-49 1h2m20 0h2m-75 1h2m21 0h2m60 0h2m31 0h2m15 0h2m26 0h2m-119 1h2m28 0h2m47 0h2m-69 1h2m-50 1h2m18 0h2m7 0h2m79 0h2m24 0h2m-149 1h2m45 0h2m3 0h2m37 0h2m3 0h2m-51 1h2m50 0h2m-59 1h2m19 0h2m32 0h2m1 0h2m-94 1h2m32 0h2m2 0h2m1 0h2m47 0h2m-91 1h2m18 0h2m18 0h2m11 0h2m-38 1h2m3 0h2m-1 0h2m4 0h2m7 0h2m-1 0h2m42 0h2m71 0h2m-181 1h2m-32 1h2m94 0h2m13 0h2m18 0h2m-135 1h2m74 0h2m13 0h2m51 0h2m0 0h2m-122 1h2m34 0h2m20 0h2m24 0h2m34 0h2m9 0h2m-135 1h2m42 0h2m36 0h2m51 0h2m-82 1h2m5 0h2m2 0h2m5 0h2m10 0h2m-11 1h2m33 0h2m-51 1h2m-1 0h2m-51 1h2m17 0h2m19 0h2m0 0h2m6 0h2m3 0h2m-27 1h2m17 0h2m3 0h2m10 0h2m21 0h2m23 0h2m1 0h2m-90 1h2m5 0h2m-1 0h2m1 0h2m0 0h2m-1 0h2m8 0h2m21 0h2m22 0h2m31 0h2m24 0h2m-106 1h2m71 0h2m-129 1h2m37 0h2m5 0h2m7 0h2m10 0h2m10 0h2m0 0h2m-61 1h2m9 0h2m11 0h2m-1 0h2m2 0h2m7 0h2m25 0h2m48 0h2m-93 1h2m5 0h2m9 1h2m3 0h2m-21 1h2m1 0h2m1 0h2m30 0h2m-80 1h2m17 0h2m18 0h2m-2 0h2m-2 0h2m51 0h2m23 0h2m-94 1h2m0 0h2m37 0h2m-73 1h2m25 0h2m-2 0h2m-2 0h2m36 0h2m-46 1h2m26 0h2m-1 0h2m5 0h2m21 0h2m34 0h2m-103 1h2m0 0h2m-1 0h2m3 0h2m1 0h2m-1 0h2m1 0h2m2 0h2m3 0h2m4 0h2m11 0h2m3 0h2m17 0h2m0 0h2m-71 1h2m4 0h2m8 0h2m29 0h2m-2 0h2m-58 1h2m14 0h2m13 0h2m4 0h2m-2 0h2m-1 0h2m5 0h2m-1 0h2m0 0h2m3 0h2m1 0h2m2 0h2m-1 0h2m-2 0h2m20 0h2m-99 1h2m27 0h2m-1 0h2m4 0h2m19 0h2m1 0h2m29 0h2m-75 1h2m13 0h2m20 0h2m9 0h2m-32 1h2m-2 0h2m9 0h2m1 0h2m1 0h2m-1 0h2m21 0h2m-1 0h2m5 0h2m2 0h2m-66 1h2m2 0h2m21 0h2m11 0h2m-39 1h2m12 0h2m17 0h2m5 0h2m2 0h2m6 0h2m-125 1h2m18 0h2m61 0h2m9 0h2m3 0h2m3 0h2m-2 0h2m37 0h2m-72 1h2m15 0h2m2 0h2m0 0h2m3 0h2m6 0h2m-41 1h2m-1 0h2m-1 0h2m31 0h2m16 0h2m11 0h2m-113 1h2m80 0h2m-44 1h2m39 0h2m-17 1h2m10 0h2m4 0h2m14 0h2m-61 1h2m50 0h2m-75 1h2m40 0h2m12 0h2m34 0h2m-101 1h2m2 0h2m10 0h2m15 0h2m-2 0h2m26 0h2m5 0h2m0 0h2m-56 1h2m23 0h2m12 0h2m2 0h2m10 0h2m-41 1h2m5 0h2m6 0h2m24 0h2m2 0h2m2 0h2m25 0h2m9 0h2m-90 1h2m12 0h2m-72 1h2m43 0h2m42 0h2m1 0h2m-41 1h2m5 0h2m8 0h2m6 0h2m5 0h2m-35 1h2m4 0h2m-1 0h2m1 0h2m-1 0h2m-2 0h2m6 0h2m11 0h2m-1 0h2m-35 1h2m0 0h2m1 0h2m-1 0h2m-1 0h2m-2 0h2m-1 0h2m5 0h2m20 0h2m-42 1h2m1 0h2m2 0h2m-1 0h2m-1 0h2m12 0h2m-1 0h2m9 0h2m5 0h2m4 0h2m-52 1h2m1 0h2m-2 0h2m3 0h2m0 0h2m20 0h2m-2 0h2m76 0h2m-104 1h2m3 0h2m-1 0h2m3 0h2m22 0h2m23 0h2m-121 1h2m56 0h2m5 0h2m-2 0h2m-1 0h2m1 0h2m5 0h2m0 0h2m7 0h2m10 0h2m-43 1h2m0 0h2m5 0h2m24 0h2m-59 1h2m22 0h2m7 0h2m11 0h2m-1 0h2m-60 1h2m26 0h2m2 0h2m-2 0h2m2 0h2m-2 0h2m0 0h2m0 0h2m5 0h2m-49 1h2m4 0h2m12 0h2m8 0h2m-1 0h2m7 0h2m1 0h2m0 0h2m-18 1h2m0 0h2m-1 0h2m6 0h2m0 0h2m12 0h2m6 0h2m0 0h2m-39 1h2m2 0h2m1 0h2m0 0h2m-1 0h2m15 0h2m0 0h2m24 0h2m-48 1h2m-1 0h2m0 0h2m-2 0h2m13 0h2m6 0h2m0 0h2m-50 1h2m7 0h2m6 0h2m8 0h2m8 0h2m-79 1h2m21 0h2m19 0h2m4 0h2m4 0h2m7 0h2m-36 1h2m9 0h2m16 0h2m11 0h2m9 0h2m10 0h2m-59 1h2m91 0h2m-103 1h2m23 0h2m2 0h2m8 0h2m-16 1h2m3 0h2m19 0h2m-1 0h2m-34 1h2m-2 0h2m10 0h2m-2 0h2m9 0h2m13 0h2m-125 1h2m75 0h2m27 0h2m-52 1h2m2 0h2m12 0h2m-58 2h2m66 1h2m17 0h2m-88 1h2m57 0h2m34 0h2m9 0h2m-39 1h2m8 0h2m7 0h2m-26 2h2m-26 1h2m31 0h2m62 0h2m-62 1h2m23 1h2m7 0h2m-56 1h2m5 0h2m40 0h2m-114 1h2m74 0h2m-1 0h2m32 0h2m-29 2h2m62 0h2m-89 1h2m57 0h2m-102 1h2m-27 2h2m82 0h2m-13 1h2m34 0h2m31 0h2m-71 1h2m5 1h2m6 0h2m-38 1h2m40 0h2m-7 1h2m15 0h2m20 0h2m17 0h2m-37 1h2m25 0h2m-97 2h2m56 1h2m23 0h2m-44 1h2m14 0h2m54 0h2m33 0h2m-87 1h2m-14 1h2m36 0h2m-37 1h2m-28 1h2m35 0h2m82 0h2m-129 1h2m47 0h2m-57 1h2m40 0h2m-17 1h2m-3 1h2m-23 1h2m-6 1h2m34 0h2m-39 1h2m39 0h2m22 4h2m-100 4h2m85 0h2m-58 1h2m85 0h2m-70 2h2m41 4h2m-71 1h2m42 2h2m30 1h2m-11 2h2m-22 2h2m-15 1h2m5 3h2m29 0h2m23 2h2m-71 1h2"/><path d="M240 136h2m-61 1h2m18 13h2m11 0h2m-14 5h2m-7 5h2m12 0h2m7 2h2m4 1h2m-5 2h2m-66 1h2m25 4h2m7 0h2m-67 1h2m73 2h2m-23 2h2m-35 1h2m15 0h2m29 0h2m-82 2h2m47 0h2m25 1h2m-65 1h2m23 0h2m3 0h2m52 0h2m-27 2h2m-34 1h2m24 0h2m12 0h2m-156 1h2m125 0h2m59 0h2m-121 2h2m70 0h2m35 0h2m12 0h2m-131 1h2m67 0h2m31 0h2m24 0h2m-117 1h2m45 0h2m8 0h2m28 0h2m-69 2h2m88 0h2m-44 1h2m8 0h2m-71 1h2m24 0h2m17 0h2m21 0h2m23 0h2m-111 1h2m57 1h2m-25 1h2m11 0h2m20 0h2m-43 1h2m26 0h2m-24 1h2m-13 1h2m34 0h2m24 1h2m27 0h2m-82 1h2m36 1h2m-99 1h2m21 0h2m33 0h2m52 0h2m5 0h2m-73 1h2m29 0h2m36 0h2m-100 1h2m71 0h2m11 0h2m-1 0h2m14 0h2m-101 1h2m41 1h2m10 0h2m-61 1h2m16 0h2m4 0h2m19 0h2m48 0h2m-106 1h2m48 0h2m22 0h2m6 0h2m-45 1h2m19 0h2m21 0h2m-41 1h2m42 0h2m22 0h2m-93 1h2m10 0h2m2 0h2m-48 1h2m20 0h2m8 0h2m5 1h2m4 0h2m101 0h2m-108 1h2m4 0h2m-2 0h2m32 0h2m11 0h2m-101 1h2m15 0h2m1 0h2m4 0h2m18 0h2m-2 0h2m0 0h2m0 0h2m16 0h2m9 0h2m-2 0h2m18 0h2m-80 1h2m21 0h2m56 0h2m2 0h2m-97 1h2m12 0h2m46 0h2m4 0h2m-107 1h2m66 0h2m18 0h2m33 0h2m-81 1h2m17 0h2m5 0h2m25 0h2m-1 0h2m0 0h2m29 0h2m0 0h2m-82 1h2m8 0h2m1 0h2m11 0h2m-60 1h2m21 0h2m1 0h2m-1 0h2m6 0h2m5 0h2m-1 0h2m4 0h2m19 0h2m-1 0h2m-32 1h2m6 0h2m-39 1h2m27 0h2m0 0h2m22 0h2m-54 1h2m14 0h2m20 0h2m-60 1h2m24 0h2m12 0h2m0 0h2m11 0h2m0 0h2m13 0h2m49 0h2m-81 1h2m2 0h2m17 0h2m15 0h2m0 0h2m18 0h2m3 0h2m-28 1h2m-42 1h2m1 0h2m-1 0h2m25 0h2m-60 1h2m23 0h2m8 0h2m10 0h2m-48 1h2m6 0h2m70 0h2m-60 1h2m1 0h2m7 0h2m35 0h2m-101 1h2m7 0h2m33 0h2m-2 0h2m2 0h2m17 0h2m0 0h2m-35 1h2m-2 0h2m3 0h2m1 0h2m1 0h2m7 0h2m4 0h2m-10 1h2m4 0h2m6 0h2m44 0h2m12 0h2m10 0h2m-108 1h2m12 0h2m3 0h2m4 0h2m17 0h2m7 0h2m2 0h2m32 0h2m-122 1h2m32 0h2m1 0h2m3 0h2m23 0h2m9 0h2m0 0h2m-95 1h2m38 0h2m-1 0h2m14 0h2m5 0h2m6 0h2m3 0h2m21 0h2m3 0h2m-107 1h2m69 0h2m37 0h2m-107 1h2m50 0h2m4 0h2m6 0h2m29 0h2m-69 1h2m38 0h2m0 0h2m8 0h2m0 0h2m-54 1h2m0 0h2m7 0h2m64 0h2m16 0h2m-102 1h2m1 0h2m9 0h2m1 0h2m18 0h2m-2 0h2m3 0h2m42 0h2m-72 1h2m3 0h2m0 0h2m6 0h2m4 0h2m6 0h2m6 0h2m10 0h2m-70 1h2m7 0h2m4 0h2m17 0h2m10 0h2m0 0h2m23 0h2m28 0h2m-111 1h2m27 0h2m11 0h2m6 0h2m1 0h2m-59 1h2m22 0h2m5 0h2m27 0h2m0 0h2m1 0h2m6 0h2m-65 1h2m8 0h2m12 0h2m-36 1h2m23 0h2m1 0h2m7 0h2m3 0h2m0 0h2m3 0h2m2 0h2m5 0h2m-20 1h2m2 0h2m-73 1h2m33 0h2m2 0h2m6 0h2m1 0h2m2 0h2m4 0h2m18 0h2m0 0h2m12 0h2m17 0h2m-100 1h2m36 0h2m5 0h2m2 0h2m25 0h2m-51 1h2m22 0h2m14 0h2m5 0h2m4 0h2m-94 1h2m33 0h2m0 0h2m13 0h2m28 0h2m59 0h2m-169 1h2m40 0h2m21 0h2m1 0h2m2 0h2m1 0h2m5 0h2m6 0h2m-29 1h2m6 0h2m5 0h2m-2 0h2m12 0h2m3 0h2m0 0h2m19 0h2m-56 1h2m1 0h2m9 0h2m-1 0h2m4 0h2m28 0h2m25 0h2m-91 1h2m-1 0h2m0 0h2m7 0h2m9 0h2m19 0h2m2 0h2m37 0h2m-84 1h2m4 0h2m17 0h2m-1 0h2m4 0h2m15 0h2m-53 1h2m-2 0h2m7 0h2m23 0h2m3 0h2m23 0h2m-79 1h2m9 0h2m0 0h2m3 0h2m0 0h2m2 0h2m3 0h2m21 0h2m6 0h2m-47 1h2m0 0h2m1 0h2m-1 0h2m-2 0h2m6 0h2m5 0h2m8 0h2m4 0h2m-40 1h2m1 0h2m2 0h2m-1 0h2m-1 0h2m20 0h2m19 0h2m-1 0h2m-2 0h2m4 0h2m-58 1h2m1 0h2m7 0h2m-2 0h2m3 0h2m-2 0h2m5 0h2m20 0h2m0 0h2m12 0h2m-73 1h2m-2 0h2m1 0h2m3 0h2m4 0h2m5 0h2m32 0h2m-54 1h2m-2 0h2m3 0h2m-1 0h2m2 0h2m-2 0h2m0 0h2m-1 0h2m0 0h2m10 0h2m1 0h2m0 0h2m15 0h2m-1 0h2m-75 1h2m19 0h2m4 0h2m6 0h2m-1 0h2m-1 0h2m12 0h2m16 0h2m1 0h2m-66 1h2m12 0h2m6 0h2m53 0h2m-81 1h2m9 0h2m12 0h2m16 0h2m5 0h2m-71 1h2m27 0h2m30 0h2m7 0h2m6 0h2m25 0h2m-88 2h2m8 0h2m7 0h2m-2 0h2m52 0h2m-35 1h2m-28 1h2m20 0h2m61 0h2m-91 1h2m10 1h2m2 0h2m15 0h2m12 0h2m4 0h2m-68 1h2m17 0h2m27 0h2m-7 1h2m3 0h2m4 0h2m-75 1h2m37 0h2m39 0h2m-14 1h2m-84 1h2m0 0h2m80 0h2m-1 0h2m7 0h2m-33 1h2m-34 1h2m48 0h2m1 0h2m-33 1h2m-37 1h2m49 0h2m-76 1h2m85 0h2m4 0h2m-12 1h2m5 2h2m-32 1h2m30 0h2m-48 1h2m59 0h2m15 0h2m15 0h2m-94 1h2m1 0h2m38 0h2m-103 1h2m64 1h2m54 0h2m-37 1h2m-48 1h2m7 0h2m0 0h2m33 0h2m-45 1h2m5 0h2m18 0h2m-19 1h2m7 0h2m30 0h2m-27 1h2m20 0h2m-24 1h2m5 0h2m8 0h2m-20 1h2m15 0h2m1 0h2m8 0h2m0 0h2m-34 1h2m44 0h2m-6 1h2m-66 1h2m44 0h2m26 0h2m-68 2h2m19 1h2m6 0h2m25 0h2m-88 1h2m83 0h2m-48 1h2m47 2h2m-74 1h2m77 0h2m-44 1h2m20 1h2m13 0h2m-57 1h2m65 1h2m24 1h2m-108 2h2m47 0h2m23 1h2m-50 1h2m14 0h2m-4 1h2m-49 1h2m54 0h2m4 0h2m-80 1h2m85 0h2m-6 4h2m-13 4h2m9 1h2m32 0h2m40 0h2m-125 1h2m-60 1h2m118 1h2m-46 2h2m34 0h2m-76 11h2m64 1h2"/><path d="M165 151h2m17 0h2m16 0h2m59 6h2m-71 1h2m61 0h2m-69 2h2m-23 1h2m6 4h2m27 0h2m2 2h2m18 0h2m-12 1h2m-54 1h2m24 0h2m-122 2h2m149 0h2m39 0h2m-172 1h2m160 0h2m-41 1h2m-58 1h2m37 0h2m-87 2h2m4 2h2m71 0h2m12 0h2m1 4h2m-30 1h2m58 2h2m-80 1h2m-11 1h2m59 0h2m1 0h2m-67 2h2m60 0h2m-100 1h2m7 0h2m79 0h2m-147 1h2m98 0h2m58 0h2m-40 1h2m0 0h2m-30 1h2m20 0h2m-64 1h2m3 0h2m68 0h2m-62 1h2m50 0h2m10 0h2m28 0h2m-80 1h2m43 0h2m-11 1h2m7 1h2m-62 1h2m49 0h2m21 0h2m11 0h2m-79 2h2m78 0h2m-1 0h2m-77 1h2m3 0h2m9 1h2m11 0h2m33 0h2m-83 1h2m18 0h2m22 0h2m15 0h2m0 0h2m5 0h2m-143 1h2m70 0h2m20 0h2m80 0h2m-110 1h2m52 0h2m4 0h2m-85 1h2m-23 1h2m30 0h2m7 0h2m-1 0h2m8 0h2m20 0h2m-63 1h2m0 0h2m23 0h2m5 0h2m51 0h2m-79 1h2m126 0h2m-124 1h2m-1 0h2m26 0h2m31 0h2m-98 1h2m2 0h2m18 0h2m6 0h2m-1 0h2m-1 0h2m47 0h2m3 0h2m3 0h2m-50 1h2m10 0h2m17 0h2m-1 0h2m-79 1h2m29 0h2m9 0h2m-2 0h2m24 0h2m-94 1h2m61 0h2m9 0h2m-78 1h2m51 0h2m3 0h2m17 0h2m6 0h2m-1 0h2m-25 1h2m33 0h2m25 0h2m-119 1h2m55 0h2m16 0h2m-68 1h2m39 0h2m11 0h2m0 0h2m37 0h2m-42 1h2m5 0h2m4 0h2m56 0h2m-93 1h2m45 0h2m4 0h2m-66 1h2m6 0h2m21 0h2m1 0h2m20 0h2m7 0h2m-78 1h2m3 0h2m13 0h2m6 0h2m0 0h2m9 0h2m1 0h2m-2 0h2m17 0h2m25 0h2m12 0h2m-108 1h2m24 0h2m9 0h2m24 0h2m3 0h2m-46 1h2m3 0h2m6 0h2m14 0h2m12 0h2m-86 1h2m53 0h2m-1 0h2m13 0h2m4 0h2m0 0h2m15 0h2m-2 0h2m-97 1h2m22 0h2m0 0h2m25 0h2m22 0h2m-48 1h2m2 0h2m7 0h2m3 0h2m5 0h2m5 0h2m9 0h2m-1 0h2m-2 0h2m10 0h2m8 0h2m37 0h2m-130 1h2m49 0h2m12 0h2m-29 1h2m4 0h2m14 0h2m6 0h2m16 0h2m-52 1h2m5 0h2m6 0h2m7 0h2m27 0h2m-59 1h2m16 0h2m-1 0h2m20 0h2m-66 1h2m-2 0h2m32 0h2m1 0h2m11 0h2m-26 1h2m76 1h2m-84 1h2m-1 1h2m9 0h2m8 0h2m27 0h2m9 0h2m-120 1h2m54 0h2m-2 0h2m22 0h2m3 0h2m-1 0h2m2 0h2m-2 0h2m-1 0h2m-1 0h2m26 0h2m1 0h2m-136 1h2m54 0h2m16 0h2m14 0h2m-1 0h2m0 0h2m5 0h2m5 0h2m-111 1h2m46 0h2m6 0h2m18 0h2m0 0h2m-1 0h2m7 0h2m1 0h2m35 0h2m12 0h2m-126 1h2m56 0h2m8 0h2m4 0h2m20 0h2m7 0h2m-77 1h2m3 0h2m17 0h2m14 0h2m-1 0h2m8 0h2m1 0h2m14 0h2m-78 1h2m16 0h2m9 0h2m-1 0h2m-21 1h2m9 0h2m0 0h2m2 0h2m13 0h2m1 0h2m13 0h2m10 0h2m-2 0h2m-109 1h2m25 0h2m25 0h2m10 0h2m21 0h2m7 0h2m4 0h2m-48 1h2m-1 0h2m2 0h2m-2 0h2m3 0h2m14 0h2m7 0h2m52 0h2m-126 1h2m38 0h2m27 0h2m1 0h2m5 0h2m-1 0h2m5 0h2m-50 1h2m9 0h2m6 0h2m4 0h2m-1 0h2m-70 1h2m40 0h2m10 0h2m-1 0h2m3 0h2m1 0h2m5 0h2m24 0h2m-78 1h2m13 0h2m21 0h2m-1 0h2m1 0h2m-1 0h2m1 0h2m22 0h2m1 0h2m-77 1h2m35 0h2m21 0h2m8 0h2m-83 1h2m11 0h2m31 0h2m3 0h2m-27 1h2m15 0h2m3 0h2m6 0h2m-1 0h2m5 0h2m1 0h2m-44 1h2m15 0h2m11 0h2m31 0h2m3 0h2m5 0h2m-83 1h2m6 0h2m6 0h2m5 0h2m19 0h2m3 0h2m-46 1h2m2 0h2m-1 0h2m17 0h2m5 0h2m1 0h2m1 0h2m-1 0h2m4 0h2m17 0h2m-71 1h2m1 0h2m3 0h2m20 0h2m1 0h2m14 0h2m6 0h2m18 0h2m-112 1h2m30 0h2m5 0h2m4 0h2m10 0h2m7 0h2m9 0h2m-43 1h2m2 0h2m18 0h2m6 0h2m1 0h2m3 0h2m-51 1h2m-1 0h2m9 0h2m0 0h2m17 0h2m6 0h2m6 0h2m24 0h2m-71 1h2m4 0h2m-1 0h2m0 0h2m5 0h2m-63 1h2m45 0h2m4 0h2m0 0h2m5 0h2m-1 0h2m8 0h2m-46 1h2m10 0h2m5 0h2m1 0h2m3 0h2m-1 0h2m1 0h2m-2 0h2m3 0h2m3 0h2m36 0h2m-88 1h2m10 0h2m10 0h2m3 0h2m2 0h2m-2 0h2m-1 0h2m-2 0h2m2 0h2m1 0h2m14 0h2m4 0h2m-36 1h2m-2 0h2m-1 0h2m25 0h2m8 0h2m2 0h2m-93 1h2m40 0h2m5 0h2m11 0h2m0 0h2m24 0h2m-50 1h2m7 0h2m-2 0h2m6 0h2m5 0h2m13 0h2m-39 1h2m21 0h2m19 0h2m12 0h2m-50 1h2m0 0h2m3 0h2m13 0h2m6 0h2m21 0h2m-77 1h2m9 0h2m9 0h2m31 0h2m4 0h2m-120 1h2m59 0h2m6 0h2m17 0h2m3 0h2m46 0h2m-73 1h2m2 0h2m21 0h2m-33 1h2m12 0h2m27 0h2m-47 1h2m11 0h2m17 0h2m1 0h2m-1 0h2m-22 1h2m27 0h2m-56 1h2m10 0h2m39 0h2m4 0h2m-1 0h2m-42 1h2m0 0h2m22 0h2m-42 1h2m68 0h2m-75 1h2m30 0h2m21 0h2m30 0h2m-136 1h2m112 0h2m18 0h2m-111 1h2m24 0h2m50 1h2m-91 1h2m47 0h2m-16 1h2m8 0h2m6 0h2m-41 1h2m20 1h2m34 0h2m1 0h2m-54 1h2m9 1h2m47 0h2m24 0h2m-73 1h2m23 0h2m15 0h2m-64 1h2m60 0h2m11 0h2m-20 2h2m10 0h2m29 0h2m-104 1h2m-11 1h2m50 0h2m-2 0h2m8 0h2m19 0h2m-105 1h2m114 0h2m-81 1h2m37 1h2m-39 1h2m46 0h2m7 0h2m-17 1h2m-28 1h2m36 1h2m-89 1h2m16 0h2m27 0h2m-86 2h2m56 0h2m-7 2h2m90 0h2m-26 2h2m-32 1h2m4 0h2m-86 1h2m143 0h2m1 0h2m-58 1h2m30 0h2m-59 1h2m6 0h2m-21 1h2m71 0h2m-60 1h2m22 0h2m-64 1h2m37 0h2m16 0h2m14 0h2m-18 2h2m-35 1h2m63 1h2m-26 3h2m13 0h2m33 0h2m2 0h2m-90 3h2m19 2h2m48 0h2m-17 2h2m-26 2h2m-39 6h2m63 2h2m-90 2h2m54 3h2m22 1h2m-13 5h2m20 0h2m-23 1h2"/></g>
<rect x="163.7" y="0" width="2.6" height="358" fill="#e41b3a" opacity="0.75"/>
<rect x="0" y="130.3" width="357" height="2.4" fill="#e41b3a"/>
<rect x="-12.6" y="-1.3" width="370.9" height="2.7" fill="#2e2eff"/>
<rect x="1" y="1.4" width="355" height="1.4" fill="#9a9aff"/>
<rect x="-1.3" y="-1.3" width="2.6" height="360.6" fill="#1a1aff"/>
<rect x="355.1" y="-1.3" width="2.2" height="360.6" fill="#8585ff"/>
<rect x="357.3" y="-1.3" width="2.2" height="360.6" fill="#5c5cff"/>
<rect x="-12" y="356.7" width="370.3" height="2.6" fill="#1a1aff"/>
<path d="M0 359v10M-12 358.3h11M17.3 359v10M-12 341.2h11M27.4 359v10M-12 331.2h11M34.5 359v10M-12 324h11M40.1 359v10M-12 318.5h11M44.6 359v10M-12 314h11M48.5 359v10M-12 310.2h11M51.8 359v10M-12 306.9h11M54.7 359v10M-12 304h11M57.4 359v10M-12 301.4h11M74.6 359v10M-12 284.3h11M84.7 359v10M-12 274.3h11M91.9 359v10M-12 267.1h11M97.4 359v10M-12 261.6h11M102 359v10M-12 257.1h11M105.8 359v10M-12 253.3h11M109.1 359v10M-12 250h11M112.1 359v10M-12 247.1h11M114.7 359v10M-12 244.5h11M132 359v10M-12 227.4h11M142.1 359v10M-12 217.4h11M149.2 359v10M-12 210.2h11M154.8 359v10M-12 204.7h11M159.3 359v10M-12 200.2h11M163.2 359v10M-12 196.4h11M166.5 359v10M-12 193.1h11M169.4 359v10M-12 190.2h11M172.1 359v10M-12 187.6h11M189.3 359v10M-12 170.5h11M199.4 359v10M-12 160.5h11M206.6 359v10M-12 153.3h11M212.1 359v10M-12 147.8h11M216.7 359v10M-12 143.3h11M220.5 359v10M-12 139.5h11M223.8 359v10M-12 136.2h11M226.8 359v10M-12 133.3h11M229.4 359v10M-12 130.7h11M246.7 359v10M-12 113.6h11M256.8 359v10M-12 103.6h11M263.9 359v10M-12 96.4h11M269.5 359v10M-12 90.9h11M274 359v10M-12 86.4h11M277.9 359v10M-12 82.6h11M281.2 359v10M-12 79.3h11M284.1 359v10M-12 76.4h11M286.8 359v10M-12 73.8h11M304 359v10M-12 56.7h11M314.1 359v10M-12 46.7h11M321.3 359v10M-12 39.5h11M326.8 359v10M-12 34h11M331.4 359v10M-12 29.5h11M335.2 359v10M-12 25.7h11M338.5 359v10M-12 22.4h11M341.5 359v10M-12 19.5h11M344.1 359v10M-12 16.9h11" stroke="#1a1aff" stroke-width="2" fill="none"/>
<text x="0" y="393" font-family="Liberation Sans, sans-serif" fill="#1a1aff"><tspan font-size="12.5" font-weight="bold" text-anchor="end">10</tspan></text>
<text x="0.5" y="389" font-family="Liberation Sans, sans-serif" font-size="21" fill="#1a1aff">1</text>
<text x="57.4" y="393" font-family="Liberation Sans, sans-serif" fill="#1a1aff"><tspan font-size="12.5" font-weight="bold" text-anchor="end">10</tspan></text>
<text x="57.9" y="389" font-family="Liberation Sans, sans-serif" font-size="21" fill="#1a1aff">2</text>
<text x="114.7" y="393" font-family="Liberation Sans, sans-serif" fill="#1a1aff"><tspan font-size="12.5" font-weight="bold" text-anchor="end">10</tspan></text>
<text x="115.2" y="389" font-family="Liberation Sans, sans-serif" font-size="21" fill="#1a1aff">3</text>
<text x="172.1" y="393" font-family="Liberation Sans, sans-serif" fill="#1a1aff"><tspan font-size="12.5" font-weight="bold" text-anchor="end">10</tspan></text>
<text x="172.6" y="389" font-family="Liberation Sans, sans-serif" font-size="21" fill="#1a1aff">4</text>
<text x="229.4" y="393" font-family="Liberation Sans, sans-serif" fill="#1a1aff"><tspan font-size="12.5" font-weight="bold" text-anchor="end">10</tspan></text>
<text x="229.9" y="389" font-family="Liberation Sans, sans-serif" font-size="21" fill="#1a1aff">5</text>
<text x="286.8" y="393" font-family="Liberation Sans, sans-serif" fill="#1a1aff"><tspan font-size="12.5" font-weight="bold" text-anchor="end">10</tspan></text>
<text x="287.2" y="389" font-family="Liberation Sans, sans-serif" font-size="21" fill="#1a1aff">6</text>
<text x="348.5" y="393" font-family="Liberation Sans, sans-serif" font-size="12.5" font-weight="bold" text-anchor="end" fill="#1a1aff">10</text>
<text x="348.5" y="389" font-family="Liberation Sans, sans-serif" font-size="21" fill="#1a1aff">7.2</text>
<g transform="translate(0,353.3) rotate(-90)"><text x="0" y="-21.4" font-family="Liberation Sans, sans-serif" font-size="12.5" font-weight="bold" text-anchor="end" fill="#1a1aff">10</text><text transform="translate(0.5,-27.4) scale(0.8,1)" font-family="Liberation Sans, sans-serif" font-size="21" fill="#1a1aff">1</text></g>
<g transform="translate(0,296.4) rotate(-90)"><text x="0" y="-21.4" font-family="Liberation Sans, sans-serif" font-size="12.5" font-weight="bold" text-anchor="end" fill="#1a1aff">10</text><text transform="translate(0.5,-27.4) scale(0.8,1)" font-family="Liberation Sans, sans-serif" font-size="21" fill="#1a1aff">2</text></g>
<g transform="translate(0,239.5) rotate(-90)"><text x="0" y="-21.4" font-family="Liberation Sans, sans-serif" font-size="12.5" font-weight="bold" text-anchor="end" fill="#1a1aff">10</text><text transform="translate(0.5,-27.4) scale(0.8,1)" font-family="Liberation Sans, sans-serif" font-size="21" fill="#1a1aff">3</text></g>
<g transform="translate(0,182.6) rotate(-90)"><text x="0" y="-21.4" font-family="Liberation Sans, sans-serif" font-size="12.5" font-weight="bold" text-anchor="end" fill="#1a1aff">10</text><text transform="translate(0.5,-27.4) scale(0.8,1)" font-family="Liberation Sans, sans-serif" font-size="21" fill="#1a1aff">4</text></g>
<g transform="translate(0,125.7) rotate(-90)"><text x="0" y="-21.4" font-family="Liberation Sans, sans-serif" font-size="12.5" font-weight="bold" text-anchor="end" fill="#1a1aff">10</text><text transform="translate(0.5,-27.4) scale(0.8,1)" font-family="Liberation Sans, sans-serif" font-size="21" fill="#1a1aff">5</text></g>
<g transform="translate(0,68.8) rotate(-90)"><text x="0" y="-21.4" font-family="Liberation Sans, sans-serif" font-size="12.5" font-weight="bold" text-anchor="end" fill="#1a1aff">10</text><text transform="translate(0.5,-27.4) scale(0.8,1)" font-family="Liberation Sans, sans-serif" font-size="21" fill="#1a1aff">6</text></g>
<g transform="translate(0,5.5) rotate(-90)"><text x="0" y="-21.4" font-family="Liberation Sans, sans-serif" font-size="12.5" font-weight="bold" text-anchor="end" fill="#1a1aff">10</text><text transform="translate(0.5,-27.4) scale(0.85,1)" font-family="Liberation Sans, sans-serif" font-size="21" fill="#1a1aff">7.2</text></g>
<text x="178.5" y="415.9" text-anchor="middle" font-family="Liberation Sans, sans-serif" font-size="19.5" textLength="59.5" lengthAdjust="spacingAndGlyphs">FL1-H</text>
<text x="0" y="0" transform="translate(-49.5,218.8) rotate(-90)" text-anchor="middle" font-family="Liberation Sans, sans-serif" font-size="19.5" textLength="59.5" lengthAdjust="spacingAndGlyphs">FL2-H</text>
<text x="1.6" y="25.2" font-family="Liberation Sans, sans-serif" font-size="28" fill="#e41b3a" textLength="76.8" lengthAdjust="spacingAndGlyphs">Q1-UL</text>
<text x="1.6" y="49.3" font-family="Liberation Sans, sans-serif" font-size="28" fill="#e41b3a" textLength="56.9" lengthAdjust="spacingAndGlyphs">0.0%</text>
<text x="276.6" y="25.2" font-family="Liberation Sans, sans-serif" font-size="28" fill="#e41b3a" textLength="79.9" lengthAdjust="spacingAndGlyphs">Q1-UR</text>
<text x="276.6" y="49.3" font-family="Liberation Sans, sans-serif" font-size="28" fill="#e41b3a" textLength="56.9" lengthAdjust="spacingAndGlyphs">0.0%</text>
<text x="1.6" y="334" font-family="Liberation Sans, sans-serif" font-size="28" fill="#e41b3a" textLength="72.5" lengthAdjust="spacingAndGlyphs">Q1-LL</text>
<text x="1.6" y="358.5" font-family="Liberation Sans, sans-serif" font-size="28" fill="#e41b3a" textLength="73.1" lengthAdjust="spacingAndGlyphs">57.9%</text>
<text x="280.6" y="334" font-family="Liberation Sans, sans-serif" font-size="28" fill="#e41b3a" textLength="75.5" lengthAdjust="spacingAndGlyphs">Q1-LR</text>
<text x="280.6" y="358.5" font-family="Liberation Sans, sans-serif" font-size="28" fill="#e41b3a" textLength="73.1" lengthAdjust="spacingAndGlyphs">42.1%</text>
</g>
<g transform="translate(1241,526)">
<g stroke="#000" stroke-width="2" stroke-opacity="0.27" fill="none" filter="url(#soft)"><path d="M180 149h2m-43 18h2m65 1h2m-22 4h2m-8 1h2m-39 4h2m51 0h2m-59 1h2m44 2h2m-178 5h2m230 0h2m-110 1h2m0 0h2m-28 1h2m5 0h2m31 1h2m-90 1h2m104 0h2m15 0h2m-39 1h2m30 0h2m27 1h2m-95 1h2m8 1h2m15 0h2m45 0h2m-83 1h2m50 0h2m-62 2h2m-14 1h2m37 0h2m54 1h2m-76 1h2m19 0h2m15 0h2m-18 1h2m-84 2h2m99 0h2m17 0h2m-65 1h2m24 0h2m34 0h2m-56 1h2m20 0h2m-2 1h2m5 1h2m11 0h2m-19 1h2m33 0h2m27 0h2m-63 1h2m-27 1h2m0 0h2m36 0h2m113 0h2m-180 1h2m16 0h2m9 0h2m5 0h2m8 0h2m18 0h2m4 0h2m-43 1h2m3 0h2m0 0h2m0 0h2m-1 0h2m-2 0h2m4 0h2m3 0h2m-17 1h2m7 0h2m-51 1h2m11 0h2m16 0h2m22 0h2m36 0h2m19 0h2m-80 1h2m0 0h2m7 0h2m49 0h2m-81 1h2m10 0h2m4 0h2m21 0h2m5 0h2m-81 1h2m32 0h2m15 0h2m-51 1h2m53 0h2m17 0h2m18 0h2m19 0h2m-97 1h2m8 0h2m13 0h2m0 0h2m-2 0h2m3 0h2m0 0h2m-34 1h2m17 0h2m-1 0h2m1 0h2m-2 0h2m15 0h2m0 0h2m-21 1h2m-2 0h2m-1 0h2m-1 0h2m0 0h2m-1 0h2m7 0h2m-71 1h2m1 0h2m7 0h2m25 0h2m7 0h2m6 0h2m1 0h2m6 0h2m3 0h2m1 0h2m-31 1h2m14 0h2m2 0h2m5 0h2m-42 1h2m-2 0h2m6 0h2m9 0h2m-1 0h2m-1 0h2m0 0h2m-1 0h2m6 0h2m24 0h2m-45 1h2m7 0h2m0 0h2m12 0h2m4 0h2m4 0h2m-125 1h2m75 0h2m1 0h2m3 0h2m1 0h2m0 0h2m-1 0h2m1 0h2m1 0h2m2 0h2m10 0h2m-32 1h2m15 0h2m52 0h2m-92 1h2m47 0h2m2 0h2m0 0h2m-2 0h2m3 0h2m-33 1h2m-1 0h2m1 0h2m4 0h2m1 0h2m-33 1h2m25 0h2m1 0h2m2 0h2m3 0h2m6 0h2m4 0h2m-1 0h2m-57 1h2m4 0h2m2 0h2m4 0h2m-1 0h2m2 0h2m0 0h2m1 0h2m0 0h2m27 0h2m-51 1h2m-1 0h2m1 0h2m-2 0h2m-1 0h2m10 0h2m2 0h2m0 0h2m-1 0h2m19 0h2m-93 1h2m39 0h2m-1 0h2m7 0h2m0 0h2m10 0h2m1 0h2m4 0h2m17 0h2m41 0h2m3 0h2m-100 1h2m-2 0h2m5 0h2m12 0h2m-1 0h2m-72 1h2m33 0h2m12 0h2m2 0h2m5 0h2m9 0h2m-89 1h2m51 0h2m14 0h2m3 0h2m8 0h2m-1 0h2m-23 1h2m9 0h2m-1 0h2m5 0h2m1 0h2m-1 0h2m-2 0h2m4 0h2m17 0h2m9 0h2m-61 1h2m2 0h2m-1 0h2m-1 0h2m-1 0h2m7 0h2m0 0h2m-1 0h2m4 0h2m2 0h2m12 0h2m-119 1h2m59 0h2m3 0h2m14 0h2m1 0h2m-1 0h2m-2 0h2m6 0h2m1 0h2m7 0h2m26 0h2m-96 1h2m33 0h2m5 0h2m3 0h2m0 0h2m0 0h2m-1 0h2m-1 0h2m-2 0h2m1 0h2m2 0h2m2 0h2m-1 0h2m5 0h2m-43 1h2m13 0h2m-1 0h2m0 0h2m5 0h2m7 0h2m2 0h2m-19 1h2m10 0h2m18 0h2m62 0h2m-125 1h2m41 0h2m-93 1h2m61 0h2m3 0h2m1 0h2m3 0h2m66 0h2m-136 1h2m0 0h2m31 0h2m22 0h2m-1 0h2m11 0h2m-49 1h2m13 0h2m10 0h2m1 0h2m-1 0h2m4 0h2m-2 0h2m7 0h2m2 0h2m2 0h2m6 0h2m-35 1h2m0 0h2m3 0h2m0 0h2m33 0h2m-51 1h2m22 0h2m0 0h2m10 0h2m-53 1h2m15 0h2m7 0h2m3 0h2m-51 1h2m10 0h2m6 0h2m36 0h2m5 0h2m-1 0h2m-126 1h2m77 0h2m6 0h2m7 0h2m3 0h2m18 0h2m4 0h2m-142 1h2m77 0h2m35 0h2m2 0h2m-36 1h2m0 0h2m0 0h2m0 0h2m4 0h2m1 0h2m0 0h2m-2 0h2m3 0h2m2 0h2m10 0h2m1 0h2m0 0h2m2 0h2m11 1h2m-65 1h2m20 0h2m-2 0h2m3 0h2m2 0h2m13 0h2m-54 1h2m27 0h2m6 0h2m0 1h2m29 0h2m-126 1h2m86 0h2m14 0h2m-13 1h2m-2 0h2m-18 1h2m-23 1h2m17 0h2m3 0h2m6 0h2m4 0h2m14 0h2m11 0h2m-53 1h2m5 0h2m3 0h2m21 0h2m5 0h2m-32 1h2m6 0h2m-39 1h2m23 0h2m3 0h2m13 0h2m4 0h2m-25 1h2m4 0h2m2 0h2m0 0h2m-58 2h2m30 0h2m3 1h2m9 1h2m7 1h2m-52 1h2m39 0h2m-24 1h2m34 0h2m3 0h2m6 0h2m16 0h2m-89 1h2m2 0h2m38 1h2m2 0h2m4 0h2m-38 1h2m-12 2h2m23 0h2m35 0h2m-30 2h2m9 0h2m3 0h2m12 0h2m-112 2h2m41 0h2m38 0h2m19 0h2m-32 1h2m5 0h2m-35 1h2m34 0h2m5 0h2m-11 2h2m-11 1h2m19 0h2m-65 1h2m63 0h2m-30 2h2m5 2h2m11 0h2m-13 1h2m-1 0h2m20 0h2m12 1h2m-76 2h2m61 2h2m-10 1h2m-37 1h2m33 0h2m-45 2h2m18 0h2m-18 1h2m2 0h2m-10 1h2m22 0h2m22 0h2m-55 1h2m22 0h2m28 0h2m-13 1h2m5 0h2m-82 1h2m79 2h2m-44 2h2m38 3h2m-7 2h2m-44 2h2m55 1h2m-56 2h2m-4 1h2m15 0h2m-32 1h2m19 2h2m17 0h2m-7 1h2m-24 1h2m16 1h2m25 0h2m-6 2h2m20 3h2m-99 1h2m47 0h2m-21 1h2m44 3h2m-14 6h2m-34 7h2"/><path d="M191 149h2m8 1h2m-31 13h2m-32 3h2m-33 1h2m58 0h2m41 4h2m-13 1h2m-66 1h2m56 3h2m-6 2h2m2 3h2m-27 1h2m-97 5h2m108 0h2m-21 1h2m39 1h2m-93 1h2m7 0h2m9 0h2m17 2h2m44 0h2m-76 2h2m42 0h2m7 1h2m-60 1h2m-87 1h2m81 0h2m11 0h2m4 0h2m-18 1h2m-15 1h2m26 0h2m-36 1h2m7 0h2m19 0h2m6 1h2m8 1h2m-24 1h2m14 0h2m-17 1h2m22 0h2m-64 1h2m17 0h2m2 0h2m20 0h2m-15 1h2m29 0h2m-41 1h2m12 0h2m19 0h2m-40 1h2m-11 1h2m2 0h2m2 0h2m19 0h2m0 0h2m0 0h2m4 0h2m-47 1h2m102 0h2m-85 1h2m3 0h2m3 0h2m5 0h2m1 0h2m-21 1h2m3 0h2m10 0h2m100 0h2m-121 1h2m63 0h2m-67 1h2m22 0h2m0 0h2m31 0h2m-59 1h2m6 0h2m79 0h2m-119 1h2m9 0h2m4 0h2m0 0h2m1 0h2m9 0h2m11 0h2m6 0h2m33 0h2m-64 1h2m11 0h2m13 0h2m-33 1h2m12 0h2m-16 1h2m1 0h2m3 0h2m4 0h2m4 0h2m-33 1h2m14 0h2m-1 0h2m10 0h2m-1 0h2m-2 0h2m0 0h2m-34 1h2m5 0h2m16 0h2m5 0h2m6 0h2m-66 1h2m17 0h2m13 0h2m-1 0h2m3 0h2m2 0h2m4 0h2m-20 1h2m-1 0h2m-2 0h2m4 0h2m8 0h2m-1 0h2m-1 0h2m-1 0h2m-2 0h2m-1 0h2m-1 0h2m-2 0h2m4 0h2m-31 1h2m12 0h2m2 0h2m4 0h2m1 0h2m3 0h2m-27 1h2m-16 1h2m5 0h2m7 0h2m-2 0h2m2 0h2m8 0h2m1 0h2m-1 0h2m50 0h2m-96 1h2m8 0h2m0 0h2m-2 0h2m-2 0h2m1 0h2m-2 0h2m1 0h2m7 0h2m13 0h2m17 0h2m-49 1h2m-1 0h2m-1 0h2m12 0h2m8 0h2m69 0h2m-98 1h2m11 0h2m3 0h2m7 0h2m-63 1h2m20 0h2m1 0h2m-1 0h2m0 0h2m9 0h2m-1 0h2m0 0h2m0 0h2m2 0h2m0 0h2m0 0h2m22 0h2m-84 1h2m39 0h2m17 0h2m0 0h2m0 0h2m7 0h2m6 0h2m-86 1h2m13 0h2m5 0h2m19 0h2m12 0h2m1 0h2m2 0h2m5 0h2m6 0h2m16 0h2m-148 1h2m95 0h2m7 0h2m0 0h2m-2 0h2m9 0h2m5 0h2m-55 1h2m11 0h2m2 0h2m-1 0h2m2 0h2m0 0h2m6 0h2m0 0h2m40 0h2m-76 1h2m3 0h2m5 0h2m3 0h2m5 0h2m3 0h2m3 0h2m5 0h2m2 0h2m0 0h2m29 0h2m-74 1h2m2 0h2m12 0h2m-2 0h2m0 0h2m1 0h2m0 0h2m-1 0h2m-110 1h2m81 0h2m8 0h2m6 0h2m-2 0h2m0 0h2m-21 1h2m1 0h2m11 0h2m0 0h2m-2 0h2m12 0h2m9 0h2m-72 1h2m20 0h2m10 0h2m-1 0h2m11 0h2m21 0h2m3 0h2m-87 1h2m18 0h2m14 0h2m6 0h2m0 0h2m2 0h2m6 0h2m4 0h2m-1 0h2m-1 0h2m17 0h2m20 0h2m-82 1h2m11 0h2m6 0h2m-2 0h2m0 0h2m1 0h2m0 0h2m-1 0h2m-1 0h2m12 0h2m1 0h2m4 0h2m-72 1h2m13 0h2m5 0h2m25 0h2m4 0h2m-2 0h2m8 0h2m-1 0h2m-52 1h2m31 0h2m13 0h2m16 0h2m-95 1h2m38 0h2m10 0h2m-1 0h2m-1 0h2m11 0h2m-2 0h2m10 0h2m-47 1h2m12 0h2m0 0h2m8 0h2m16 0h2m37 0h2m-137 1h2m36 0h2m6 0h2m11 0h2m15 0h2m28 0h2m-52 1h2m10 0h2m0 0h2m61 0h2m5 0h2m-128 1h2m49 0h2m-2 0h2m6 0h2m0 0h2m2 0h2m-2 0h2m10 0h2m-51 1h2m21 0h2m0 0h2m17 0h2m63 0h2m-104 1h2m11 0h2m6 0h2m7 0h2m23 0h2m-53 1h2m9 0h2m5 0h2m26 0h2m6 0h2m-40 1h2m5 0h2m27 0h2m0 0h2m-86 1h2m33 0h2m8 0h2m-2 0h2m0 0h2m-10 1h2m11 0h2m6 0h2m2 0h2m-24 1h2m7 0h2m-38 1h2m0 0h2m10 0h2m10 0h2m13 0h2m22 0h2m-77 1h2m22 0h2m8 0h2m12 0h2m10 0h2m1 0h2m-47 1h2m14 0h2m11 0h2m18 0h2m2 0h2m-81 1h2m32 0h2m11 1h2m-98 1h2m50 0h2m41 0h2m37 0h2m-73 1h2m28 0h2m18 0h2m-1 0h2m-17 1h2m51 0h2m-40 1h2m-76 1h2m48 0h2m0 0h2m0 0h2m13 0h2m-50 1h2m9 0h2m76 1h2m-143 1h2m27 0h2m43 1h2m28 0h2m3 0h2m-46 1h2m10 0h2m11 0h2m12 0h2m-53 1h2m10 0h2m34 0h2m24 0h2m-35 1h2m-29 1h2m9 0h2m31 0h2m-47 1h2m-18 2h2m36 0h2m6 0h2m-28 1h2m45 0h2m-108 2h2m8 0h2m38 0h2m20 0h2m2 0h2m16 1h2m-121 2h2m41 0h2m0 2h2m59 1h2m-49 1h2m17 1h2m0 0h2m43 0h2m-80 1h2m-2 1h2m62 0h2m32 0h2m12 0h2m-118 1h2m37 0h2m6 0h2m-56 1h2m84 1h2m-58 1h2m40 0h2m-22 1h2m-13 1h2m-18 1h2m35 1h2m30 0h2m3 0h2m-36 1h2m-10 1h2m13 0h2m20 0h2m-73 1h2m25 0h2m-2 0h2m12 0h2m-32 2h2m31 0h2m13 0h2m-37 1h2m12 0h2m42 0h2m-102 1h2m47 0h2m29 0h2m-38 1h2m56 2h2m-33 3h2m14 0h2m31 1h2m-80 1h2m12 0h2m-56 1h2m52 1h2m27 1h2m0 0h2m-56 4h2m10 1h2m24 3h2m-4 5h2m-29 1h2m-41 3h2m83 6h2m39 4h2m-114 2h2"/><path d="M219 155h2m-94 5h2m20 0h2m65 2h2m-5 12h2m-57 2h2m70 2h2m-48 1h2m-81 1h2m43 5h2m34 0h2m-76 1h2m31 2h2m-1 0h2m3 0h2m4 1h2m20 0h2m19 1h2m-59 1h2m14 0h2m68 0h2m-117 2h2m37 1h2m40 0h2m-95 1h2m-40 2h2m102 1h2m-22 1h2m2 0h2m-38 1h2m74 1h2m-72 1h2m3 0h2m17 0h2m18 1h2m-68 2h2m24 0h2m-2 0h2m-1 1h2m-28 1h2m14 0h2m1 0h2m18 0h2m25 0h2m-43 1h2m7 0h2m1 0h2m-48 1h2m16 0h2m-1 0h2m20 1h2m21 0h2m-46 2h2m13 0h2m1 0h2m10 0h2m21 0h2m-47 1h2m6 0h2m-1 0h2m1 0h2m14 0h2m11 0h2m-80 1h2m33 0h2m1 0h2m2 0h2m8 0h2m0 0h2m-23 1h2m-1 0h2m2 0h2m-1 0h2m5 0h2m17 0h2m0 0h2m7 0h2m15 0h2m-65 1h2m0 0h2m43 0h2m-53 1h2m7 0h2m20 0h2m-2 0h2m52 0h2m-104 1h2m13 0h2m2 0h2m1 0h2m3 0h2m10 0h2m0 0h2m4 0h2m7 0h2m24 0h2m-99 1h2m31 0h2m-1 0h2m-1 0h2m7 0h2m20 0h2m-26 1h2m4 0h2m13 0h2m-1 0h2m4 0h2m-39 1h2m10 0h2m-1 0h2m2 0h2m8 0h2m2 0h2m-71 1h2m7 0h2m46 0h2m-1 0h2m1 0h2m7 0h2m9 0h2m-118 1h2m63 0h2m10 0h2m-1 0h2m-2 0h2m1 0h2m91 0h2m-108 1h2m13 0h2m3 0h2m1 0h2m5 0h2m13 0h2m-37 1h2m9 0h2m-1 0h2m1 0h2m0 0h2m116 0h2m-166 1h2m0 0h2m35 0h2m10 0h2m-19 1h2m6 0h2m-1 0h2m2 0h2m3 0h2m-1 0h2m26 0h2m-62 1h2m5 0h2m-1 0h2m20 0h2m-1 0h2m6 0h2m33 0h2m19 0h2m-92 1h2m-1 0h2m11 0h2m8 0h2m4 0h2m-1 0h2m-55 1h2m15 0h2m7 0h2m2 0h2m2 0h2m-2 0h2m0 0h2m16 0h2m16 0h2m4 0h2m-56 1h2m3 0h2m6 0h2m-1 0h2m12 0h2m1 0h2m-1 0h2m3 0h2m-31 1h2m0 0h2m1 0h2m1 0h2m2 0h2m4 0h2m1 0h2m0 0h2m-35 1h2m5 0h2m5 0h2m9 0h2m-1 0h2m0 0h2m9 0h2m37 0h2m-105 1h2m32 0h2m-1 0h2m-1 0h2m7 0h2m-2 0h2m4 0h2m5 0h2m32 0h2m-104 1h2m13 0h2m12 0h2m4 0h2m4 0h2m-1 0h2m-1 0h2m-1 0h2m7 0h2m-1 0h2m9 0h2m4 0h2m-102 1h2m53 0h2m10 0h2m3 0h2m-1 0h2m1 0h2m3 0h2m-1 0h2m5 0h2m8 0h2m-1 0h2m-40 1h2m0 0h2m3 0h2m-2 0h2m1 0h2m4 0h2m1 0h2m2 0h2m26 0h2m-64 1h2m5 0h2m-1 0h2m8 0h2m8 0h2m0 0h2m6 0h2m2 0h2m60 0h2m-106 1h2m20 0h2m1 0h2m2 0h2m33 0h2m-81 1h2m21 0h2m4 0h2m-1 0h2m2 0h2m-1 0h2m10 0h2m-1 0h2m4 0h2m2 0h2m4 0h2m25 0h2m-45 1h2m2 0h2m-1 0h2m35 0h2m-109 1h2m16 0h2m22 0h2m11 0h2m11 0h2m2 0h2m5 0h2m-46 1h2m24 0h2m10 0h2m-2 0h2m-36 1h2m-1 0h2m11 0h2m4 0h2m2 0h2m1 0h2m30 0h2m0 0h2m5 0h2m-61 1h2m4 0h2m2 0h2m3 0h2m1 0h2m1 0h2m19 0h2m-38 1h2m-1 0h2m5 0h2m10 0h2m-1 0h2m4 0h2m-83 1h2m26 0h2m33 0h2m0 0h2m0 0h2m-36 1h2m-1 0h2m19 0h2m-1 0h2m-2 0h2m10 0h2m0 0h2m-22 1h2m6 0h2m0 0h2m1 0h2m9 0h2m-2 0h2m0 0h2m-60 1h2m21 0h2m30 0h2m12 0h2m66 0h2m-133 1h2m25 0h2m-1 0h2m4 0h2m-1 0h2m-1 0h2m8 0h2m-102 1h2m45 0h2m31 0h2m15 0h2m1 0h2m3 0h2m-65 1h2m15 0h2m5 0h2m5 0h2m5 0h2m16 0h2m-2 0h2m40 0h2m-67 1h2m5 0h2m-2 0h2m0 0h2m6 0h2m12 0h2m-30 1h2m26 0h2m13 0h2m1 0h2m-62 2h2m25 0h2m2 0h2m4 0h2m1 0h2m-35 1h2m12 0h2m21 0h2m15 0h2m5 0h2m-37 1h2m-130 1h2m94 0h2m26 0h2m6 0h2m2 0h2m-28 1h2m9 0h2m-62 1h2m18 0h2m14 0h2m-1 0h2m15 0h2m10 0h2m-20 1h2m0 0h2m6 0h2m-48 1h2m17 0h2m8 0h2m10 0h2m9 0h2m1 1h2m-39 1h2m22 2h2m5 0h2m-51 1h2m30 0h2m16 0h2m10 0h2m-20 1h2m-23 1h2m3 0h2m19 0h2m-36 1h2m-90 2h2m108 0h2m29 0h2m-62 1h2m-26 2h2m44 0h2m37 0h2m10 0h2m0 0h2m-135 1h2m89 0h2m8 0h2m11 1h2m18 1h2m-56 1h2m6 1h2m1 1h2m7 0h2m-34 1h2m35 0h2m22 0h2m-58 1h2m4 0h2m1 0h2m36 0h2m-26 2h2m-28 1h2m52 0h2m-46 1h2m27 0h2m-29 1h2m4 0h2m9 0h2m5 0h2m-58 1h2m57 0h2m-43 3h2m13 0h2m22 0h2m-103 1h2m68 0h2m23 0h2m-35 1h2m-44 2h2m56 2h2m-1 0h2m-39 1h2m55 1h2m0 0h2m49 0h2m-101 1h2m26 0h2m-11 2h2m38 0h2m-119 1h2m64 0h2m79 3h2m-95 1h2m-33 1h2m40 0h2m30 0h2m-10 2h2m20 0h2m-65 3h2m71 1h2m-55 2h2m35 0h2m-11 4h2m9 2h2m-17 3h2m-35 1h2m-17 3h2m72 3h2m40 0h2m-90 2h2m-11 3h2m-9 1h2m47 3h2m-10 1h2m-29 10h2"/><path d="M190 154h2m-55 17h2m-7 2h2m42 4h2m-46 1h2m35 0h2m-36 2h2m39 4h2m27 0h2m-21 3h2m28 0h2m16 0h2m-125 1h2m24 0h2m-81 4h2m58 0h2m-19 1h2m29 1h2m12 0h2m-2 0h2m-5 2h2m51 0h2m-88 1h2m92 1h2m-121 1h2m23 0h2m18 0h2m-6 1h2m7 0h2m-2 0h2m84 0h2m-107 1h2m2 0h2m-1 0h2m0 0h2m25 0h2m-29 1h2m2 0h2m-2 1h2m86 0h2m-80 1h2m-21 1h2m17 1h2m-1 0h2m-55 1h2m36 0h2m4 0h2m8 0h2m80 0h2m-34 1h2m-89 1h2m13 0h2m30 0h2m-31 1h2m-81 1h2m99 0h2m24 0h2m-33 1h2m-1 0h2m22 0h2m-72 1h2m0 0h2m9 0h2m15 0h2m9 0h2m9 0h2m-21 1h2m2 0h2m6 0h2m-2 0h2m-32 1h2m18 0h2m-1 0h2m3 0h2m-1 0h2m11 0h2m-120 1h2m82 0h2m4 0h2m1 0h2m3 0h2m1 0h2m11 0h2m-85 1h2m31 0h2m12 0h2m6 0h2m8 0h2m2 0h2m3 0h2m14 0h2m1 0h2m0 0h2m4 0h2m51 0h2m-58 1h2m-47 1h2m0 0h2m0 0h2m9 0h2m14 0h2m6 0h2m-26 1h2m5 0h2m1 0h2m4 0h2m5 0h2m12 0h2m73 0h2m-133 1h2m0 0h2m0 0h2m-2 0h2m11 0h2m2 0h2m3 0h2m1 0h2m2 0h2m-1 0h2m3 0h2m8 0h2m-56 1h2m7 0h2m12 0h2m10 0h2m-1 0h2m11 0h2m-49 1h2m16 0h2m-1 0h2m6 0h2m2 0h2m8 0h2m-47 1h2m21 0h2m18 0h2m10 0h2m-99 1h2m57 0h2m0 0h2m-2 0h2m3 0h2m1 0h2m6 0h2m-2 0h2m18 0h2m-41 1h2m-2 0h2m-1 0h2m-1 0h2m0 0h2m4 0h2m8 0h2m2 0h2m2 0h2m-60 1h2m15 0h2m3 0h2m1 0h2m2 0h2m3 0h2m17 0h2m4 0h2m14 0h2m-38 1h2m6 0h2m3 0h2m5 0h2m-61 1h2m11 0h2m5 0h2m8 0h2m-1 0h2m1 0h2m7 0h2m1 0h2m3 0h2m2 0h2m-136 1h2m97 0h2m8 0h2m-2 0h2m0 0h2m2 0h2m6 0h2m1 0h2m14 0h2m-48 1h2m3 0h2m16 0h2m4 0h2m15 0h2m20 0h2m-55 1h2m2 0h2m-2 0h2m-1 0h2m2 0h2m0 0h2m-2 0h2m-41 1h2m30 0h2m-1 0h2m-1 0h2m5 0h2m4 0h2m-1 0h2m8 0h2m16 0h2m57 0h2m-133 1h2m13 0h2m0 0h2m5 0h2m1 0h2m2 0h2m20 0h2m-51 1h2m10 0h2m-1 0h2m3 0h2m2 0h2m1 0h2m3 0h2m-1 0h2m2 0h2m0 0h2m1 0h2m3 0h2m4 0h2m-1 0h2m-70 1h2m30 0h2m4 0h2m5 0h2m3 0h2m-38 1h2m17 0h2m-1 0h2m0 0h2m5 0h2m-1 0h2m6 0h2m-1 0h2m1 0h2m9 0h2m0 0h2m-47 1h2m5 0h2m-1 0h2m11 0h2m5 0h2m11 0h2m-53 1h2m8 0h2m1 0h2m-1 0h2m6 0h2m1 0h2m4 0h2m-1 0h2m4 0h2m3 0h2m-1 0h2m9 0h2m38 0h2m-81 1h2m21 0h2m9 0h2m-65 1h2m15 0h2m5 0h2m3 0h2m2 0h2m0 0h2m7 0h2m2 0h2m42 0h2m-88 1h2m12 0h2m3 0h2m8 0h2m0 0h2m9 0h2m17 0h2m21 0h2m-58 1h2m4 0h2m3 0h2m2 0h2m11 0h2m-31 1h2m8 0h2m-2 0h2m-2 0h2m5 0h2m13 0h2m12 0h2m-76 1h2m18 0h2m-1 0h2m2 0h2m7 0h2m-2 0h2m-1 0h2m-1 0h2m1 0h2m0 0h2m8 0h2m0 0h2m1 0h2m3 0h2m-40 1h2m1 0h2m6 0h2m12 0h2m26 0h2m-58 1h2m-2 0h2m45 0h2m-2 0h2m-71 1h2m21 0h2m17 0h2m-1 0h2m3 0h2m4 0h2m-34 1h2m13 0h2m-27 1h2m32 0h2m4 0h2m-1 0h2m-36 1h2m2 0h2m-34 1h2m25 0h2m16 0h2m0 0h2m9 0h2m-7 1h2m-29 1h2m4 0h2m14 0h2m-1 0h2m6 1h2m-48 1h2m38 0h2m-1 0h2m24 0h2m-52 1h2m-1 0h2m14 0h2m2 0h2m14 0h2m-68 1h2m22 0h2m26 0h2m-1 0h2m9 0h2m-49 1h2m6 0h2m1 0h2m1 0h2m25 0h2m0 0h2m-45 1h2m16 0h2m14 0h2m-43 1h2m31 0h2m-28 1h2m4 0h2m23 0h2m-34 1h2m9 0h2m18 0h2m41 1h2m-95 2h2m18 0h2m16 0h2m14 0h2m9 0h2m-68 1h2m32 0h2m-85 1h2m56 0h2m19 0h2m49 1h2m-17 1h2m11 0h2m-63 1h2m37 1h2m-28 1h2m4 0h2m34 0h2m-92 1h2m49 1h2m43 0h2m9 0h2m-74 1h2m4 0h2m14 0h2m0 0h2m17 0h2m8 0h2m-41 1h2m3 0h2m37 1h2m1 0h2m-34 1h2m-5 1h2m33 0h2m15 0h2m-72 1h2m22 1h2m-1 0h2m16 1h2m9 0h2m-1 0h2m-21 2h2m-40 1h2m-3 1h2m-1 0h2m21 0h2m16 0h2m7 0h2m-34 1h2m-11 1h2m16 1h2m19 0h2m-18 1h2m-60 1h2m29 0h2m-31 1h2m31 0h2m34 0h2m20 0h2m-21 1h2m0 1h2m10 0h2m-18 2h2m-42 2h2m18 0h2m17 0h2m-32 1h2m2 0h2m16 1h2m-94 1h2m76 1h2m-20 1h2m31 0h2m-2 0h2m-50 1h2m55 1h2m-32 1h2m16 0h2m18 0h2m-75 2h2m23 0h2m-95 2h2m98 2h2m-35 3h2m16 0h2m11 0h2m31 0h2m-87 1h2m53 0h2m22 1h2m-57 3h2m53 0h2m-36 2h2m21 1h2m-41 3h2m17 1h2m28 2h2m8 0h2m-51 1h2m-32 10h2m103 0h2m-104 3h2m41 5h2"/><path d="M172 144h2m-32 3h2m28 13h2m-63 14h2m2 1h2m30 4h2m4 4h2m-24 1h2m55 0h2m-29 1h2m-35 3h2m-39 1h2m92 0h2m-21 5h2m22 0h2m-66 1h2m-15 1h2m93 0h2m-47 1h2m31 0h2m-79 1h2m78 0h2m-60 1h2m-21 3h2m19 0h2m-38 1h2m80 0h2m-72 1h2m-10 1h2m87 0h2m-87 1h2m19 0h2m-1 0h2m1 1h2m-30 1h2m10 0h2m0 0h2m-10 1h2m4 0h2m6 0h2m2 0h2m11 0h2m-26 1h2m1 0h2m12 0h2m-1 0h2m1 0h2m-25 1h2m3 0h2m5 0h2m38 0h2m14 0h2m-85 1h2m95 0h2m-139 1h2m36 0h2m19 0h2m25 0h2m-30 1h2m0 0h2m4 0h2m28 0h2m-57 1h2m0 0h2m3 0h2m15 0h2m2 0h2m16 0h2m24 0h2m-91 1h2m2 0h2m11 0h2m44 0h2m31 0h2m-91 1h2m17 0h2m13 0h2m-2 0h2m10 0h2m6 0h2m-39 1h2m11 0h2m2 0h2m-4 1h2m5 0h2m-7 1h2m51 0h2m51 0h2m-121 1h2m27 0h2m23 0h2m-67 1h2m4 0h2m19 0h2m12 0h2m0 0h2m21 0h2m-78 1h2m8 0h2m2 0h2m33 0h2m-69 1h2m35 0h2m2 0h2m5 0h2m0 0h2m3 0h2m0 0h2m-1 0h2m-70 1h2m20 0h2m22 0h2m13 0h2m-123 1h2m98 0h2m1 0h2m-2 0h2m0 0h2m3 0h2m2 0h2m106 0h2m-125 1h2m5 0h2m2 0h2m13 0h2m1 0h2m-44 1h2m16 0h2m-2 0h2m0 0h2m5 0h2m7 0h2m24 0h2m-53 1h2m3 0h2m5 0h2m9 0h2m2 0h2m8 0h2m-50 1h2m4 0h2m3 0h2m6 0h2m1 0h2m3 0h2m2 0h2m2 0h2m0 0h2m-1 0h2m12 0h2m-35 1h2m-2 0h2m5 0h2m7 0h2m2 0h2m0 0h2m-1 0h2m9 0h2m0 0h2m0 0h2m-53 1h2m5 0h2m16 0h2m-2 0h2m1 0h2m12 0h2m-68 1h2m35 0h2m-2 0h2m-2 0h2m5 0h2m9 0h2m-2 0h2m0 0h2m-2 0h2m1 0h2m6 0h2m-1 0h2m26 0h2m30 0h2m-162 1h2m73 0h2m4 0h2m0 0h2m-1 0h2m2 0h2m0 0h2m4 0h2m-58 1h2m21 0h2m1 0h2m10 0h2m4 0h2m8 0h2m0 0h2m-43 1h2m0 0h2m2 0h2m0 0h2m6 0h2m55 0h2m-73 1h2m6 0h2m12 0h2m-1 0h2m0 0h2m-2 0h2m1 0h2m-2 0h2m14 0h2m-51 1h2m1 0h2m0 0h2m6 0h2m5 0h2m1 0h2m0 0h2m-2 0h2m3 0h2m0 0h2m0 0h2m-2 0h2m-2 0h2m6 0h2m16 0h2m-52 1h2m4 0h2m7 0h2m2 0h2m1 0h2m1 0h2m0 0h2m0 0h2m-2 0h2m5 0h2m1 0h2m-106 1h2m49 0h2m16 0h2m1 0h2m2 0h2m4 0h2m2 0h2m13 0h2m-40 1h2m3 0h2m1 0h2m-2 0h2m0 0h2m6 0h2m-2 0h2m4 0h2m12 0h2m34 0h2m39 0h2m-106 1h2m5 0h2m18 0h2m7 0h2m3 0h2m-59 1h2m2 0h2m2 0h2m-1 0h2m0 0h2m6 0h2m3 0h2m3 0h2m7 0h2m7 0h2m-26 1h2m-2 0h2m1 0h2m1 0h2m7 0h2m20 0h2m-109 1h2m30 0h2m32 0h2m0 0h2m0 0h2m0 0h2m0 0h2m2 0h2m1 0h2m0 0h2m29 0h2m9 0h2m-106 1h2m48 0h2m5 0h2m-1 0h2m37 0h2m-74 1h2m19 0h2m5 0h2m0 0h2m21 0h2m20 0h2m-94 1h2m10 0h2m5 0h2m4 0h2m3 0h2m3 0h2m20 0h2m0 0h2m-32 1h2m2 0h2m0 0h2m5 0h2m16 0h2m-92 1h2m64 0h2m10 0h2m1 0h2m-43 1h2m26 0h2m1 0h2m4 0h2m0 0h2m5 0h2m-40 1h2m6 0h2m7 0h2m3 0h2m3 0h2m8 0h2m3 0h2m-83 1h2m13 0h2m26 0h2m3 0h2m6 0h2m5 0h2m6 0h2m12 0h2m22 0h2m-160 1h2m84 0h2m6 0h2m13 0h2m-1 0h2m3 0h2m-1 0h2m3 0h2m15 0h2m-50 1h2m9 0h2m5 0h2m11 0h2m-1 0h2m0 0h2m-45 1h2m23 0h2m-17 1h2m-4 1h2m27 0h2m13 0h2m-40 1h2m-17 1h2m29 0h2m-1 0h2m-5 1h2m13 0h2m22 0h2m-98 1h2m19 0h2m16 0h2m-2 0h2m2 0h2m2 1h2m7 0h2m5 0h2m-17 1h2m3 0h2m3 0h2m-22 1h2m1 0h2m35 0h2m-61 1h2m28 0h2m38 0h2m-44 1h2m-1 0h2m1 2h2m17 0h2m14 0h2m-26 1h2m21 1h2m-39 2h2m0 0h2m10 0h2m4 0h2m-46 1h2m19 0h2m28 0h2m-47 1h2m28 0h2m5 0h2m-95 1h2m44 0h2m33 0h2m-20 1h2m14 0h2m-11 1h2m-58 1h2m78 0h2m17 1h2m-101 1h2m57 0h2m26 0h2m-57 2h2m49 0h2m12 0h2m-72 1h2m4 0h2m-21 1h2m60 0h2m13 0h2m-81 1h2m8 0h2m42 1h2m-25 1h2m20 0h2m1 0h2m24 1h2m-67 1h2m40 0h2m-24 1h2m17 0h2m3 0h2m-1 0h2m5 0h2m12 0h2m-98 1h2m2 0h2m45 0h2m-15 1h2m9 0h2m17 1h2m23 0h2m-38 1h2m10 0h2m12 0h2m17 0h2m-80 1h2m75 0h2m-40 1h2m4 0h2m-46 3h2m48 2h2m-39 3h2m44 2h2m27 0h2m-52 1h2m-10 1h2m43 1h2m-55 2h2m23 1h2m16 0h2m-54 1h2m54 0h2m-4 1h2m-39 1h2m-78 1h2m53 1h2m43 0h2m10 0h2m-35 1h2m1 0h2m-24 1h2m24 0h2m40 0h2m-11 3h2m-46 1h2m22 0h2m43 3h2m-89 1h2m37 0h2m-24 2h2m10 5h2"/><path d="M234 143h2m-57 24h2m-70 7h2m96 1h2m-60 3h2m-86 1h2m45 4h2m4 1h2m3 4h2m-58 1h2m133 1h2m-122 1h2m124 0h2m3 0h2m18 1h2m-87 1h2m83 0h2m-118 2h2m73 0h2m12 1h2m-1 0h2m-92 1h2m-17 1h2m7 0h2m3 0h2m41 0h2m-49 1h2m-12 1h2m65 1h2m-37 1h2m9 0h2m2 0h2m-26 1h2m-2 1h2m-2 0h2m-61 1h2m53 0h2m33 0h2m10 0h2m-40 1h2m-13 1h2m-1 1h2m25 0h2m-1 0h2m-24 2h2m74 0h2m-92 1h2m4 0h2m12 0h2m2 0h2m6 0h2m14 0h2m-44 1h2m19 0h2m-36 1h2m48 0h2m-48 1h2m7 0h2m0 0h2m3 0h2m2 0h2m4 0h2m-25 1h2m5 0h2m2 0h2m1 0h2m5 0h2m-25 1h2m2 0h2m2 0h2m-1 0h2m16 0h2m-74 1h2m43 0h2m12 0h2m4 0h2m-1 0h2m12 0h2m-40 1h2m-1 0h2m8 0h2m2 0h2m-13 1h2m1 0h2m4 0h2m14 0h2m4 0h2m11 0h2m17 0h2m-79 1h2m12 0h2m12 0h2m4 0h2m1 0h2m18 0h2m-55 1h2m6 0h2m8 0h2m22 0h2m2 0h2m4 0h2m-42 1h2m6 0h2m1 0h2m2 0h2m0 0h2m3 0h2m22 0h2m-52 1h2m2 0h2m12 0h2m4 0h2m8 0h2m2 0h2m0 0h2m-49 1h2m5 0h2m-2 0h2m4 0h2m4 0h2m9 0h2m-2 0h2m-1 0h2m4 0h2m75 0h2m-145 1h2m19 0h2m3 0h2m5 0h2m12 0h2m12 0h2m5 0h2m0 0h2m17 0h2m0 0h2m-59 1h2m1 0h2m1 0h2m4 0h2m1 0h2m5 0h2m0 0h2m5 0h2m2 0h2m33 0h2m-76 1h2m11 0h2m2 0h2m0 0h2m2 0h2m0 0h2m0 0h2m5 0h2m6 0h2m0 0h2m2 0h2m0 0h2m-74 1h2m31 0h2m-2 0h2m5 0h2m5 0h2m3 0h2m0 0h2m12 0h2m2 0h2m-51 1h2m3 0h2m3 0h2m-2 0h2m7 0h2m6 0h2m-1 0h2m-1 0h2m7 0h2m-128 1h2m80 0h2m-1 0h2m23 0h2m2 0h2m-1 0h2m0 0h2m1 0h2m-2 0h2m20 0h2m-56 1h2m11 0h2m8 0h2m4 0h2m6 0h2m-28 1h2m0 0h2m2 0h2m3 0h2m20 0h2m-59 1h2m14 0h2m-2 0h2m10 0h2m-2 0h2m-1 0h2m8 0h2m3 0h2m-1 0h2m-1 0h2m3 0h2m-1 0h2m-31 1h2m10 0h2m6 0h2m0 0h2m3 0h2m-56 1h2m14 0h2m28 0h2m-1 0h2m1 0h2m5 0h2m-99 1h2m70 0h2m50 0h2m-57 1h2m-1 0h2m2 0h2m1 0h2m0 0h2m4 0h2m17 0h2m7 0h2m-64 1h2m7 0h2m0 0h2m1 0h2m-2 0h2m0 0h2m2 0h2m6 0h2m1 0h2m6 0h2m-74 1h2m51 0h2m2 0h2m1 0h2m1 0h2m2 0h2m0 0h2m-1 0h2m0 0h2m-31 1h2m2 0h2m1 0h2m-1 0h2m1 0h2m6 0h2m3 0h2m-1 0h2m0 0h2m-1 0h2m-53 1h2m20 0h2m0 0h2m13 0h2m10 0h2m1 0h2m1 0h2m1 0h2m3 0h2m-45 1h2m8 0h2m5 0h2m4 0h2m-33 1h2m16 0h2m31 0h2m-85 1h2m13 0h2m1 0h2m11 0h2m3 0h2m0 0h2m4 0h2m16 0h2m2 0h2m-3 1h2m4 0h2m3 0h2m17 0h2m-79 1h2m21 0h2m22 0h2m7 0h2m2 0h2m-44 1h2m14 0h2m4 0h2m49 0h2m-67 1h2m8 0h2m5 0h2m2 0h2m-1 0h2m2 0h2m15 0h2m-41 1h2m2 0h2m1 0h2m1 0h2m3 0h2m-61 1h2m27 0h2m5 0h2m16 0h2m-34 1h2m13 0h2m12 0h2m8 0h2m4 0h2m21 0h2m1 0h2m16 0h2m-76 1h2m11 0h2m12 0h2m20 0h2m-66 1h2m4 0h2m15 0h2m16 0h2m2 0h2m1 0h2m-27 1h2m13 0h2m10 0h2m-36 1h2m0 0h2m66 0h2m8 0h2m-74 1h2m10 0h2m4 0h2m4 0h2m-50 1h2m24 0h2m10 0h2m49 0h2m-97 1h2m4 0h2m27 0h2m-1 0h2m78 0h2m-61 1h2m2 0h2m-61 1h2m23 0h2m-57 1h2m11 0h2m76 0h2m20 0h2m-72 1h2m3 0h2m23 0h2m5 0h2m-51 1h2m38 0h2m-46 1h2m44 0h2m1 0h2m10 0h2m-33 1h2m32 0h2m-146 1h2m63 0h2m2 0h2m47 0h2m9 0h2m33 0h2m-73 1h2m1 0h2m19 0h2m2 0h2m1 0h2m12 0h2m-1 0h2m20 0h2m-54 1h2m-2 0h2m17 0h2m32 0h2m-93 1h2m15 0h2m7 0h2m13 0h2m4 0h2m-16 1h2m0 0h2m10 0h2m10 0h2m32 0h2m-99 1h2m2 1h2m9 0h2m13 1h2m-1 0h2m9 0h2m0 1h2m13 0h2m-95 1h2m70 0h2m3 0h2m3 0h2m9 1h2m-6 1h2m15 0h2m-1 0h2m-32 2h2m34 0h2m-2 1h2m-36 1h2m19 0h2m4 0h2m-76 1h2m40 0h2m32 0h2m-29 1h2m9 0h2m-78 1h2m42 0h2m52 0h2m-45 1h2m21 0h2m-12 1h2m15 1h2m19 0h2m-1 0h2m-76 1h2m59 1h2m-106 1h2m92 0h2m-61 1h2m82 0h2m-103 1h2m65 1h2m-57 1h2m45 0h2m12 0h2m-30 1h2m18 1h2m17 0h2m-86 1h2m31 0h2m-8 3h2m6 0h2m20 0h2m-26 4h2m-25 1h2m18 0h2m10 2h2m14 1h2m6 1h2m-1 0h2m33 0h2m-79 1h2m93 0h2m-96 1h2m37 1h2m-27 2h2m-12 3h2m12 1h2m31 0h2m7 0h2m-61 1h2m87 0h2m-109 1h2m108 0h2m-82 4h2m27 1h2m16 1h2m-67 3h2m77 6h2m-32 3h2m-33 1h2m30 3h2"/><path d="M210 135h2m-31 5h2m-52 29h2m38 1h2m55 5h2m-85 2h2m37 3h2m31 0h2m-80 1h2m-90 1h2m76 0h2m90 0h2m-76 3h2m-7 1h2m38 2h2m-68 6h2m2 0h2m16 1h2m-21 1h2m25 0h2m0 1h2m60 0h2m-82 1h2m13 1h2m79 0h2m-97 1h2m102 0h2m-131 1h2m16 0h2m-12 1h2m43 0h2m-32 1h2m-1 0h2m1 0h2m87 0h2m-82 1h2m-1 0h2m-27 2h2m0 0h2m-1 0h2m-2 0h2m3 0h2m2 1h2m-2 0h2m1 0h2m-1 0h2m4 0h2m-30 1h2m34 0h2m-31 1h2m-36 1h2m29 0h2m7 0h2m17 0h2m103 0h2m-115 1h2m-20 1h2m1 0h2m13 0h2m-32 1h2m14 0h2m15 0h2m7 0h2m-52 1h2m21 0h2m2 0h2m4 0h2m14 0h2m-57 1h2m13 0h2m15 0h2m-1 0h2m6 0h2m3 0h2m2 0h2m-20 1h2m-1 0h2m8 0h2m22 0h2m66 0h2m-116 1h2m11 0h2m11 0h2m9 0h2m-55 1h2m9 0h2m6 0h2m-1 0h2m7 0h2m10 0h2m6 0h2m2 0h2m4 0h2m27 0h2m-77 1h2m5 0h2m6 0h2m13 0h2m-1 0h2m-48 1h2m11 0h2m12 0h2m0 0h2m5 0h2m2 0h2m0 0h2m14 0h2m-26 1h2m6 0h2m-1 0h2m2 0h2m2 0h2m15 0h2m-67 1h2m7 0h2m2 0h2m1 0h2m15 0h2m3 0h2m-13 1h2m6 0h2m-2 0h2m15 0h2m-49 1h2m4 0h2m7 0h2m3 0h2m9 0h2m0 0h2m15 0h2m-58 1h2m3 0h2m9 0h2m8 0h2m2 0h2m5 0h2m-1 0h2m2 0h2m0 0h2m1 0h2m-92 1h2m47 0h2m6 0h2m10 0h2m5 0h2m4 0h2m10 0h2m-82 1h2m47 0h2m-2 0h2m1 0h2m15 0h2m-2 0h2m-115 1h2m90 0h2m6 0h2m5 0h2m4 0h2m7 0h2m-1 0h2m-36 1h2m3 0h2m8 0h2m13 0h2m6 0h2m-1 0h2m36 0h2m-96 1h2m3 0h2m3 0h2m12 0h2m12 0h2m6 0h2m-1 0h2m0 0h2m-87 1h2m32 0h2m12 0h2m4 0h2m7 0h2m10 0h2m16 0h2m-2 0h2m11 0h2m11 0h2m19 0h2m-88 1h2m-2 0h2m2 0h2m7 0h2m-1 0h2m2 0h2m3 0h2m-1 0h2m0 0h2m1 0h2m-2 0h2m1 0h2m-53 1h2m11 0h2m14 0h2m3 0h2m3 0h2m-1 0h2m0 0h2m10 0h2m-32 1h2m3 0h2m1 0h2m0 0h2m-1 0h2m2 0h2m-60 1h2m32 0h2m-1 0h2m1 0h2m2 0h2m3 0h2m0 0h2m1 0h2m2 0h2m1 0h2m21 0h2m-70 1h2m4 0h2m12 0h2m2 0h2m1 0h2m10 0h2m1 0h2m1 0h2m27 0h2m-67 1h2m-1 0h2m1 0h2m7 0h2m1 0h2m1 0h2m0 0h2m-1 0h2m0 0h2m-2 0h2m4 0h2m-2 0h2m19 0h2m12 0h2m-54 1h2m14 0h2m28 0h2m-69 1h2m-1 0h2m29 0h2m7 0h2m-2 0h2m-41 1h2m7 0h2m12 0h2m2 0h2m5 0h2m0 0h2m3 0h2m6 0h2m-1 0h2m1 0h2m6 0h2m-65 1h2m11 0h2m5 0h2m0 0h2m2 0h2m0 0h2m2 0h2m33 0h2m0 0h2m-61 1h2m5 0h2m5 0h2m6 0h2m-2 0h2m-1 0h2m6 0h2m-1 0h2m2 0h2m2 0h2m-49 1h2m8 0h2m3 0h2m8 0h2m10 0h2m3 0h2m3 0h2m7 0h2m-57 1h2m1 0h2m20 0h2m8 0h2m0 0h2m9 0h2m3 0h2m-110 1h2m72 0h2m-1 0h2m9 0h2m9 0h2m0 0h2m25 0h2m-53 1h2m5 0h2m-1 0h2m3 0h2m-9 1h2m5 0h2m0 0h2m57 0h2m34 0h2m-144 1h2m12 0h2m15 0h2m-1 0h2m3 0h2m4 0h2m16 0h2m4 0h2m-47 1h2m45 0h2m-45 1h2m-2 0h2m5 0h2m7 0h2m8 0h2m-51 1h2m14 0h2m35 0h2m5 0h2m32 0h2m-65 1h2m-2 0h2m4 0h2m7 0h2m2 0h2m-54 1h2m34 0h2m9 0h2m12 0h2m-68 1h2m33 0h2m3 0h2m1 0h2m14 0h2m-2 0h2m-22 1h2m0 0h2m16 0h2m1 0h2m8 0h2m-54 1h2m50 0h2m-47 1h2m11 0h2m2 0h2m2 0h2m53 0h2m-82 1h2m-10 1h2m36 0h2m16 0h2m22 0h2m-59 1h2m-1 0h2m6 0h2m-1 0h2m0 0h2m15 0h2m-71 1h2m35 0h2m79 1h2m-100 1h2m20 0h2m-2 0h2m4 0h2m15 0h2m-18 1h2m1 0h2m5 0h2m38 0h2m-109 1h2m43 0h2m0 0h2m-1 0h2m-27 1h2m44 0h2m7 0h2m-53 1h2m-51 1h2m30 0h2m33 0h2m-25 1h2m42 0h2m-1 1h2m3 0h2m-96 1h2m71 0h2m66 0h2m-79 1h2m-49 3h2m-31 1h2m92 0h2m18 0h2m-35 1h2m-89 2h2m112 0h2m5 0h2m1 3h2m-67 2h2m6 0h2m-26 1h2m19 0h2m12 0h2m-44 1h2m26 0h2m-2 0h2m63 1h2m-97 3h2m96 0h2m-42 1h2m-1 0h2m-120 2h2m106 1h2m2 2h2m-41 1h2m39 0h2m0 1h2m-51 1h2m30 0h2m20 0h2m-65 1h2m46 0h2m15 0h2m69 0h2m-129 1h2m22 0h2m3 0h2m47 0h2m-25 2h2m1 0h2m26 2h2m-37 1h2m45 3h2m-149 1h2m96 0h2m-42 1h2m-1 0h2m-30 1h2m63 0h2m8 0h2m21 0h2m-25 1h2m-41 1h2m27 0h2m2 1h2m-33 1h2m-13 1h2m31 0h2m-105 2h2m108 0h2m-25 1h2m56 0h2m-52 1h2m-2 0h2m-23 1h2m-1 0h2m75 0h2m-71 1h2m3 0h2m-28 3h2m-6 3h2m47 1h2m-11 7h2m57 3h2m-58 1h2m-12 1h2m-11 2h2"/><path d="M143 153h2m79 0h2m-62 3h2m18 4h2m23 2h2m32 8h2m-133 2h2m74 2h2m-72 3h2m75 1h2m-5 1h2m-71 1h2m50 0h2m26 1h2m-71 2h2m39 0h2m0 1h2m-61 4h2m12 2h2m-117 5h2m78 0h2m33 0h2m10 1h2m29 0h2m49 0h2m-95 1h2m-14 1h2m61 0h2m17 0h2m26 3h2m-110 1h2m5 0h2m-19 1h2m14 0h2m67 0h2m-96 1h2m45 0h2m-29 1h2m5 0h2m28 0h2m-41 2h2m24 0h2m2 0h2m-17 1h2m40 0h2m-49 1h2m-16 2h2m36 0h2m2 0h2m12 0h2m-82 1h2m11 0h2m26 0h2m4 0h2m13 0h2m9 1h2m12 0h2m-67 1h2m4 0h2m8 0h2m1 0h2m-27 1h2m9 0h2m5 0h2m2 0h2m0 0h2m-1 0h2m2 0h2m21 0h2m42 0h2m-109 1h2m29 0h2m-1 0h2m2 0h2m0 0h2m44 0h2m0 0h2m-74 1h2m12 0h2m1 0h2m0 0h2m7 0h2m-25 1h2m0 0h2m0 0h2m-1 0h2m0 0h2m-1 0h2m24 0h2m-30 1h2m2 0h2m5 0h2m12 0h2m-68 1h2m43 0h2m0 0h2m-2 0h2m3 0h2m51 0h2m-113 1h2m18 0h2m9 0h2m3 0h2m9 0h2m-1 0h2m2 0h2m-15 1h2m-2 0h2m6 0h2m1 0h2m4 0h2m1 0h2m0 0h2m-46 1h2m14 0h2m5 0h2m0 0h2m0 0h2m2 0h2m-1 0h2m4 0h2m13 0h2m5 0h2m1 0h2m-59 1h2m6 0h2m-2 0h2m8 0h2m5 0h2m-2 0h2m11 0h2m3 0h2m1 0h2m0 0h2m-52 1h2m8 0h2m21 0h2m-1 0h2m15 0h2m1 0h2m-59 1h2m12 0h2m6 0h2m9 0h2m3 0h2m-1 0h2m-12 1h2m-2 0h2m-1 0h2m-1 0h2m-2 0h2m12 0h2m8 0h2m6 0h2m-125 1h2m74 0h2m7 0h2m3 0h2m1 0h2m-1 0h2m-1 0h2m2 0h2m11 0h2m-1 0h2m-45 1h2m4 0h2m-1 0h2m0 0h2m-2 0h2m-1 0h2m12 0h2m-1 0h2m8 0h2m16 0h2m-48 1h2m4 0h2m-1 0h2m6 0h2m6 0h2m-1 0h2m2 0h2m-63 1h2m19 0h2m10 0h2m0 0h2m2 0h2m2 0h2m2 0h2m12 0h2m-1 0h2m-2 0h2m5 0h2m-1 0h2m4 0h2m-52 1h2m8 0h2m0 0h2m-1 0h2m-1 0h2m5 0h2m3 0h2m-1 0h2m14 0h2m-29 1h2m12 0h2m6 0h2m55 0h2m-102 1h2m12 0h2m-1 0h2m6 0h2m-1 0h2m2 0h2m16 0h2m-2 0h2m16 0h2m-50 1h2m2 0h2m7 0h2m2 0h2m3 0h2m5 0h2m0 0h2m24 0h2m-71 1h2m5 0h2m-1 0h2m-1 0h2m14 0h2m2 0h2m21 0h2m1 0h2m-59 1h2m3 0h2m4 0h2m10 0h2m4 0h2m3 0h2m4 0h2m15 0h2m-106 1h2m60 0h2m-1 0h2m-2 0h2m-1 0h2m16 0h2m-28 1h2m7 0h2m6 0h2m20 0h2m-63 1h2m24 0h2m6 0h2m-1 0h2m0 0h2m11 0h2m-1 0h2m-1 0h2m-1 0h2m2 0h2m22 0h2m-100 1h2m12 0h2m10 0h2m1 0h2m4 0h2m12 0h2m0 0h2m6 0h2m5 0h2m1 0h2m1 0h2m-43 1h2m14 0h2m-1 0h2m4 0h2m-2 0h2m2 0h2m-2 0h2m5 0h2m-2 0h2m-37 1h2m11 0h2m1 0h2m3 0h2m-2 0h2m7 0h2m20 0h2m3 0h2m-59 1h2m3 0h2m-1 0h2m16 0h2m-2 0h2m1 0h2m-1 0h2m10 0h2m-1 0h2m-27 1h2m-2 0h2m0 0h2m4 0h2m23 0h2m12 0h2m-74 1h2m8 0h2m8 0h2m29 0h2m13 0h2m36 0h2m-97 1h2m9 0h2m2 0h2m3 0h2m7 0h2m5 0h2m-39 1h2m15 1h2m2 0h2m6 0h2m-16 1h2m2 0h2m-2 0h2m21 0h2m4 0h2m57 0h2m-96 1h2m8 0h2m4 0h2m-14 1h2m0 0h2m12 0h2m7 0h2m41 0h2m-70 1h2m7 0h2m-1 0h2m1 0h2m-1 0h2m3 0h2m-48 1h2m18 0h2m7 0h2m4 0h2m-1 0h2m1 0h2m7 0h2m13 0h2m28 0h2m-114 1h2m6 0h2m54 0h2m-89 1h2m70 0h2m0 0h2m5 0h2m0 1h2m-16 1h2m26 0h2m-30 1h2m-2 0h2m6 0h2m18 0h2m-2 0h2m3 0h2m-53 1h2m0 0h2m9 0h2m2 0h2m14 0h2m-29 1h2m8 0h2m1 0h2m13 0h2m8 0h2m-25 1h2m14 0h2m-42 1h2m23 0h2m6 1h2m-1 0h2m6 0h2m37 0h2m-83 1h2m4 0h2m1 0h2m14 0h2m52 0h2m-98 1h2m10 0h2m12 0h2m30 0h2m13 0h2m-105 1h2m44 0h2m-13 1h2m34 1h2m10 0h2m-70 1h2m23 1h2m4 0h2m33 0h2m13 0h2m34 0h2m-62 1h2m32 0h2m-2 0h2m-64 1h2m6 1h2m4 0h2m-15 1h2m24 1h2m2 1h2m-13 1h2m34 1h2m-57 1h2m33 0h2m48 0h2m-34 1h2m0 0h2m23 1h2m-83 1h2m12 2h2m33 0h2m2 0h2m-84 1h2m12 0h2m3 0h2m0 0h2m0 0h2m26 0h2m32 0h2m-28 1h2m43 0h2m-62 1h2m6 0h2m29 0h2m-68 1h2m35 1h2m17 1h2m-17 1h2m0 1h2m24 0h2m-56 1h2m40 1h2m-51 1h2m6 2h2m9 2h2m-3 1h2m41 0h2m-31 1h2m10 0h2m-55 1h2m38 0h2m-14 1h2m22 1h2m-17 2h2m26 0h2m-1 0h2m16 0h2m-73 1h2m5 2h2m73 0h2m-34 4h2m-74 1h2m5 2h2m50 3h2m22 0h2m-25 2h2m-19 1h2m29 0h2m-4 4h2m-45 1h2m23 1h2m59 1h2m-75 2h2m-37 3h2m44 1h2m11 2h2m-100 2h2m63 1h2m43 2h2"/><path d="M214 153h2m-48 13h2m3 0h2m-71 2h2m40 0h2m25 0h2m58 1h2m-28 2h2m-13 1h2m21 0h2m-9 4h2m-70 2h2m22 2h2m-70 3h2m-59 2h2m99 1h2m23 1h2m-74 1h2m38 0h2m-26 1h2m-6 1h2m102 1h2m-81 2h2m17 0h2m-70 2h2m25 1h2m32 0h2m46 1h2m-46 2h2m15 0h2m9 0h2m-60 1h2m2 0h2m4 0h2m-36 3h2m63 0h2m40 0h2m-63 1h2m75 0h2m-94 1h2m-1 1h2m-37 1h2m40 0h2m-1 0h2m-24 1h2m4 0h2m25 0h2m1 0h2m10 0h2m-79 1h2m4 0h2m3 0h2m35 0h2m0 0h2m-10 1h2m13 0h2m15 0h2m14 0h2m9 0h2m-71 1h2m-22 2h2m50 0h2m-58 1h2m18 0h2m21 0h2m5 0h2m6 0h2m10 0h2m-132 1h2m76 0h2m11 0h2m1 0h2m7 0h2m11 0h2m-2 0h2m17 0h2m-70 1h2m19 0h2m0 0h2m-1 0h2m35 0h2m-37 1h2m3 0h2m-1 0h2m-2 0h2m15 0h2m7 0h2m-39 1h2m4 0h2m1 0h2m12 0h2m65 0h2m-89 1h2m5 0h2m7 0h2m35 0h2m-130 1h2m62 0h2m3 0h2m5 0h2m0 0h2m12 0h2m0 0h2m-67 1h2m28 0h2m-2 0h2m16 0h2m7 0h2m-2 0h2m0 0h2m-30 1h2m20 0h2m7 0h2m1 0h2m-28 1h2m3 0h2m-2 0h2m1 0h2m13 0h2m0 0h2m33 0h2m-82 1h2m6 0h2m14 0h2m1 0h2m3 0h2m-1 0h2m-1 0h2m9 0h2m19 0h2m-100 1h2m51 0h2m5 0h2m19 0h2m-1 0h2m-2 0h2m-1 0h2m10 0h2m26 0h2m18 0h2m-156 1h2m71 0h2m-2 0h2m-1 0h2m0 0h2m14 0h2m15 0h2m-54 1h2m0 0h2m-1 0h2m0 0h2m-2 0h2m1 0h2m0 0h2m2 0h2m-1 0h2m8 0h2m4 0h2m3 0h2m-37 1h2m4 0h2m11 0h2m1 0h2m0 0h2m7 0h2m3 0h2m4 0h2m-51 1h2m13 0h2m4 0h2m-2 0h2m-1 0h2m7 0h2m24 0h2m33 0h2m-102 1h2m23 0h2m0 0h2m1 0h2m9 0h2m-2 0h2m42 0h2m-74 1h2m5 0h2m2 0h2m0 0h2m-1 0h2m0 0h2m13 0h2m0 0h2m15 0h2m-58 1h2m9 0h2m-2 0h2m6 0h2m1 0h2m4 0h2m5 0h2m3 0h2m-42 1h2m18 0h2m-1 0h2m1 0h2m16 0h2m-73 1h2m39 0h2m13 0h2m4 0h2m0 0h2m10 0h2m-1 0h2m-86 1h2m22 0h2m7 0h2m-1 0h2m7 0h2m9 0h2m2 0h2m-66 1h2m19 0h2m8 0h2m7 0h2m3 0h2m8 0h2m29 0h2m6 0h2m-88 1h2m39 0h2m3 0h2m5 0h2m-1 0h2m6 0h2m5 0h2m-1 0h2m-2 0h2m-1 0h2m-35 1h2m5 0h2m0 0h2m-1 0h2m3 0h2m1 0h2m1 0h2m6 0h2m9 0h2m4 0h2m-50 1h2m14 0h2m0 0h2m0 0h2m1 0h2m6 0h2m0 0h2m1 0h2m24 0h2m-62 1h2m3 0h2m2 0h2m41 0h2m-2 0h2m-77 1h2m14 0h2m4 0h2m8 0h2m-2 0h2m-2 0h2m4 0h2m0 0h2m1 0h2m13 0h2m6 0h2m11 0h2m-103 1h2m31 0h2m9 0h2m-1 0h2m7 0h2m2 0h2m14 0h2m2 0h2m45 0h2m-85 1h2m8 0h2m16 0h2m0 0h2m15 0h2m4 0h2m-57 1h2m8 0h2m1 0h2m1 0h2m0 0h2m2 0h2m9 0h2m-34 1h2m4 0h2m13 0h2m-1 0h2m-1 0h2m-1 0h2m21 0h2m-50 1h2m14 0h2m1 0h2m-1 0h2m9 0h2m9 0h2m-1 0h2m0 0h2m-90 1h2m27 0h2m25 0h2m1 0h2m1 0h2m2 0h2m0 0h2m-1 0h2m-33 1h2m3 0h2m17 0h2m1 0h2m1 0h2m4 0h2m0 0h2m-2 0h2m-99 1h2m65 0h2m10 0h2m1 0h2m11 0h2m1 0h2m-39 1h2m8 0h2m1 0h2m-1 0h2m0 0h2m-5 1h2m10 0h2m-61 1h2m55 0h2m11 0h2m17 0h2m-64 1h2m30 0h2m1 0h2m50 0h2m-77 1h2m12 0h2m0 0h2m8 0h2m-37 1h2m52 0h2m5 0h2m-47 1h2m13 0h2m53 0h2m-96 1h2m25 0h2m-1 0h2m2 0h2m3 0h2m-2 0h2m6 0h2m65 0h2m-80 1h2m4 0h2m1 0h2m0 0h2m-5 1h2m0 0h2m-9 1h2m1 0h2m-53 1h2m16 0h2m33 0h2m32 0h2m-60 1h2m17 0h2m3 1h2m2 0h2m-52 1h2m38 0h2m-42 1h2m17 0h2m16 0h2m-60 1h2m39 0h2m21 0h2m-46 1h2m35 0h2m-2 0h2m-27 1h2m11 0h2m27 1h2m-38 1h2m6 0h2m5 0h2m-13 1h2m19 0h2m1 0h2m-10 1h2m0 0h2m10 0h2m9 0h2m45 0h2m-81 1h2m18 0h2m0 0h2m18 0h2m-63 1h2m20 0h2m3 0h2m-18 2h2m29 0h2m-34 1h2m-46 1h2m9 0h2m74 0h2m-40 1h2m9 0h2m0 0h2m-15 1h2m3 0h2m22 1h2m-42 2h2m1 1h2m24 2h2m-15 2h2m2 0h2m2 0h2m51 0h2m-46 2h2m17 0h2m-44 1h2m1 0h2m3 1h2m4 3h2m-7 1h2m6 0h2m12 0h2m-109 1h2m51 0h2m25 0h2m-3 1h2m25 1h2m-47 1h2m57 0h2m10 0h2m-67 1h2m-1 0h2m53 0h2m2 2h2m-31 1h2m-56 1h2m49 0h2m4 0h2m13 1h2m-37 1h2m-4 1h2m18 1h2m-43 2h2m3 1h2m25 1h2m35 0h2m-80 1h2m31 0h2m47 0h2m-87 1h2m28 2h2m42 0h2m-65 1h2m31 0h2m-4 1h2m28 1h2m-23 2h2m-79 5h2m95 1h2m-66 4h2m64 3h2m6 10h2m-77 3h2"/><path d="M184 166h2m-74 10h2m29 3h2m-104 3h2m137 0h2m-83 1h2m27 1h2m-10 1h2m110 0h2m-111 2h2m25 2h2m63 0h2m-17 1h2m-14 2h2m-120 1h2m29 0h2m95 0h2m-44 1h2m-85 3h2m42 0h2m115 2h2m-139 1h2m77 0h2m64 0h2m-120 1h2m21 0h2m-42 1h2m19 0h2m-27 1h2m14 0h2m11 0h2m9 0h2m2 0h2m-56 1h2m35 0h2m57 0h2m-38 1h2m-41 1h2m5 0h2m13 0h2m7 0h2m-5 1h2m19 0h2m32 1h2m-101 1h2m34 0h2m40 0h2m-56 1h2m6 0h2m3 0h2m-2 0h2m18 0h2m3 0h2m-44 1h2m2 0h2m30 0h2m26 0h2m-56 1h2m5 1h2m7 0h2m13 0h2m18 0h2m-107 1h2m14 0h2m31 0h2m-9 1h2m16 0h2m-1 0h2m-1 0h2m3 0h2m-89 1h2m53 0h2m0 0h2m14 0h2m10 0h2m3 0h2m16 0h2m15 0h2m-61 1h2m15 0h2m48 0h2m-77 1h2m0 0h2m3 0h2m1 0h2m19 0h2m-48 1h2m24 0h2m5 0h2m2 0h2m1 0h2m5 0h2m11 0h2m-56 1h2m3 0h2m20 0h2m-2 0h2m57 0h2m-146 1h2m46 0h2m3 0h2m11 0h2m14 0h2m52 0h2m-78 1h2m-1 0h2m0 0h2m10 0h2m7 0h2m0 0h2m0 0h2m-1 0h2m2 0h2m1 0h2m16 0h2m-84 1h2m35 0h2m9 0h2m0 0h2m9 0h2m4 0h2m-1 0h2m-26 1h2m-1 0h2m-1 0h2m5 0h2m18 0h2m-59 1h2m13 0h2m11 0h2m9 0h2m6 0h2m-1 0h2m5 0h2m-76 1h2m22 0h2m17 0h2m-1 0h2m1 0h2m3 0h2m-1 0h2m0 0h2m7 0h2m3 0h2m2 0h2m-53 1h2m2 0h2m2 0h2m23 0h2m14 0h2m0 0h2m-1 0h2m0 0h2m-58 1h2m9 0h2m12 0h2m-1 0h2m0 0h2m10 0h2m3 0h2m2 0h2m19 0h2m-90 1h2m23 0h2m5 0h2m7 0h2m-1 0h2m-1 0h2m0 0h2m5 0h2m0 0h2m-1 0h2m-1 0h2m-47 1h2m12 0h2m3 0h2m3 0h2m1 0h2m8 0h2m1 0h2m2 0h2m-67 1h2m52 0h2m-1 0h2m-1 0h2m10 0h2m-1 0h2m2 0h2m-59 1h2m34 0h2m2 0h2m-1 0h2m-2 0h2m1 0h2m1 0h2m1 0h2m2 0h2m5 0h2m-58 1h2m16 0h2m-2 0h2m6 0h2m0 0h2m10 0h2m2 0h2m4 0h2m-2 0h2m2 0h2m6 0h2m2 0h2m11 0h2m-56 1h2m-1 0h2m3 0h2m1 0h2m2 0h2m5 0h2m13 0h2m5 0h2m4 0h2m-61 1h2m26 0h2m-2 0h2m-2 0h2m-17 1h2m2 0h2m1 0h2m7 0h2m1 0h2m3 0h2m10 0h2m33 0h2m-82 1h2m-1 0h2m13 0h2m-1 0h2m18 0h2m0 0h2m-34 1h2m12 0h2m8 0h2m-1 0h2m-2 0h2m1 0h2m1 0h2m6 0h2m4 0h2m-52 1h2m0 0h2m10 0h2m0 0h2m19 0h2m-14 1h2m4 0h2m-2 0h2m4 0h2m9 0h2m-39 1h2m0 0h2m-2 0h2m4 0h2m-1 0h2m14 0h2m-2 0h2m1 0h2m-35 1h2m0 0h2m0 0h2m21 0h2m-27 1h2m5 0h2m5 0h2m4 0h2m-39 1h2m2 0h2m4 0h2m-2 0h2m-2 0h2m7 0h2m-2 0h2m2 0h2m8 0h2m26 0h2m-66 1h2m20 0h2m0 0h2m0 0h2m-1 0h2m4 0h2m11 0h2m-1 0h2m0 0h2m3 0h2m3 0h2m-2 0h2m-1 0h2m-53 1h2m3 0h2m1 0h2m1 0h2m3 0h2m0 0h2m5 0h2m3 0h2m8 0h2m-69 1h2m28 0h2m0 0h2m-1 0h2m3 0h2m4 0h2m-1 0h2m6 0h2m3 0h2m-30 1h2m0 0h2m-1 0h2m-1 0h2m8 0h2m11 0h2m5 0h2m6 0h2m-2 0h2m6 0h2m-53 1h2m16 0h2m7 0h2m0 0h2m0 0h2m2 0h2m-2 0h2m-23 1h2m4 0h2m-1 0h2m4 0h2m-42 1h2m6 0h2m20 0h2m1 0h2m3 0h2m-10 1h2m0 0h2m12 0h2m-35 1h2m9 0h2m20 0h2m-61 1h2m35 0h2m6 0h2m8 0h2m-28 1h2m21 0h2m6 0h2m3 0h2m5 0h2m-2 0h2m16 0h2m-69 1h2m6 0h2m13 0h2m-2 0h2m1 0h2m20 0h2m-52 1h2m22 0h2m-16 1h2m14 0h2m-1 0h2m5 0h2m-56 1h2m22 0h2m48 0h2m1 0h2m-2 0h2m-32 1h2m14 0h2m-25 1h2m40 0h2m-47 1h2m4 0h2m-22 1h2m14 0h2m3 0h2m7 0h2m12 0h2m-35 1h2m26 0h2m-39 1h2m0 0h2m-3 1h2m-62 1h2m49 0h2m-2 0h2m28 1h2m-20 2h2m9 0h2m13 0h2m-47 1h2m24 0h2m-71 1h2m67 0h2m3 0h2m2 0h2m-72 1h2m43 0h2m11 0h2m-1 0h2m28 0h2m-136 1h2m117 0h2m-24 1h2m-2 0h2m6 0h2m-14 1h2m25 0h2m-35 1h2m27 1h2m14 1h2m1 0h2m-31 4h2m-32 1h2m18 0h2m7 0h2m3 0h2m21 0h2m-7 1h2m15 1h2m-78 1h2m36 0h2m12 0h2m-22 1h2m-8 1h2m5 0h2m6 0h2m-14 1h2m-38 1h2m11 0h2m-35 1h2m37 1h2m6 0h2m21 0h2m-33 1h2m27 0h2m11 0h2m11 0h2m-6 2h2m-40 2h2m16 0h2m-67 2h2m46 1h2m-15 1h2m56 0h2m-57 1h2m-34 1h2m72 0h2m-25 1h2m-64 1h2m61 0h2m-39 2h2m50 1h2m-48 2h2m-3 1h2m3 0h2m16 0h2m10 0h2m8 0h2m16 1h2m-48 1h2m2 0h2m-1 0h2m19 0h2m-71 1h2m65 2h2m11 4h2m-58 3h2m33 3h2m16 2h2m-29 7h2m-47 2h2m87 7h2m-76 2h2"/></g>
<rect x="163.7" y="0" width="2.6" height="358" fill="#e41b3a" opacity="0.75"/>
<rect x="0" y="130.3" width="357" height="2.4" fill="#e41b3a"/>
<rect x="-12.6" y="-1.3" width="370.9" height="2.7" fill="#2e2eff"/>
<rect x="1" y="1.4" width="355" height="1.4" fill="#9a9aff"/>
<rect x="-1.3" y="-1.3" width="2.6" height="360.6" fill="#1a1aff"/>
<rect x="355.1" y="-1.3" width="2.2" height="360.6" fill="#8585ff"/>
<rect x="357.3" y="-1.3" width="2.2" height="360.6" fill="#5c5cff"/>
<rect x="-12" y="356.7" width="370.3" height="2.6" fill="#1a1aff"/>
<path d="M0 359v10M-12 358.3h11M17.3 359v10M-12 341.2h11M27.4 359v10M-12 331.2h11M34.5 359v10M-12 324h11M40.1 359v10M-12 318.5h11M44.6 359v10M-12 314h11M48.5 359v10M-12 310.2h11M51.8 359v10M-12 306.9h11M54.7 359v10M-12 304h11M57.4 359v10M-12 301.4h11M74.6 359v10M-12 284.3h11M84.7 359v10M-12 274.3h11M91.9 359v10M-12 267.1h11M97.4 359v10M-12 261.6h11M102 359v10M-12 257.1h11M105.8 359v10M-12 253.3h11M109.1 359v10M-12 250h11M112.1 359v10M-12 247.1h11M114.7 359v10M-12 244.5h11M132 359v10M-12 227.4h11M142.1 359v10M-12 217.4h11M149.2 359v10M-12 210.2h11M154.8 359v10M-12 204.7h11M159.3 359v10M-12 200.2h11M163.2 359v10M-12 196.4h11M166.5 359v10M-12 193.1h11M169.4 359v10M-12 190.2h11M172.1 359v10M-12 187.6h11M189.3 359v10M-12 170.5h11M199.4 359v10M-12 160.5h11M206.6 359v10M-12 153.3h11M212.1 359v10M-12 147.8h11M216.7 359v10M-12 143.3h11M220.5 359v10M-12 139.5h11M223.8 359v10M-12 136.2h11M226.8 359v10M-12 133.3h11M229.4 359v10M-12 130.7h11M246.7 359v10M-12 113.6h11M256.8 359v10M-12 103.6h11M263.9 359v10M-12 96.4h11M269.5 359v10M-12 90.9h11M274 359v10M-12 86.4h11M277.9 359v10M-12 82.6h11M281.2 359v10M-12 79.3h11M284.1 359v10M-12 76.4h11M286.8 359v10M-12 73.8h11M304 359v10M-12 56.7h11M314.1 359v10M-12 46.7h11M321.3 359v10M-12 39.5h11M326.8 359v10M-12 34h11M331.4 359v10M-12 29.5h11M335.2 359v10M-12 25.7h11M338.5 359v10M-12 22.4h11M341.5 359v10M-12 19.5h11M344.1 359v10M-12 16.9h11" stroke="#1a1aff" stroke-width="2" fill="none"/>
<text x="0" y="393" font-family="Liberation Sans, sans-serif" fill="#1a1aff"><tspan font-size="12.5" font-weight="bold" text-anchor="end">10</tspan></text>
<text x="0.5" y="389" font-family="Liberation Sans, sans-serif" font-size="21" fill="#1a1aff">1</text>
<text x="57.4" y="393" font-family="Liberation Sans, sans-serif" fill="#1a1aff"><tspan font-size="12.5" font-weight="bold" text-anchor="end">10</tspan></text>
<text x="57.9" y="389" font-family="Liberation Sans, sans-serif" font-size="21" fill="#1a1aff">2</text>
<text x="114.7" y="393" font-family="Liberation Sans, sans-serif" fill="#1a1aff"><tspan font-size="12.5" font-weight="bold" text-anchor="end">10</tspan></text>
<text x="115.2" y="389" font-family="Liberation Sans, sans-serif" font-size="21" fill="#1a1aff">3</text>
<text x="172.1" y="393" font-family="Liberation Sans, sans-serif" fill="#1a1aff"><tspan font-size="12.5" font-weight="bold" text-anchor="end">10</tspan></text>
<text x="172.6" y="389" font-family="Liberation Sans, sans-serif" font-size="21" fill="#1a1aff">4</text>
<text x="229.4" y="393" font-family="Liberation Sans, sans-serif" fill="#1a1aff"><tspan font-size="12.5" font-weight="bold" text-anchor="end">10</tspan></text>
<text x="229.9" y="389" font-family="Liberation Sans, sans-serif" font-size="21" fill="#1a1aff">5</text>
<text x="286.8" y="393" font-family="Liberation Sans, sans-serif" fill="#1a1aff"><tspan font-size="12.5" font-weight="bold" text-anchor="end">10</tspan></text>
<text x="287.2" y="389" font-family="Liberation Sans, sans-serif" font-size="21" fill="#1a1aff">6</text>
<text x="348.5" y="393" font-family="Liberation Sans, sans-serif" font-size="12.5" font-weight="bold" text-anchor="end" fill="#1a1aff">10</text>
<text x="348.5" y="389" font-family="Liberation Sans, sans-serif" font-size="21" fill="#1a1aff">7.2</text>
<g transform="translate(0,353.3) rotate(-90)"><text x="0" y="-21.4" font-family="Liberation Sans, sans-serif" font-size="12.5" font-weight="bold" text-anchor="end" fill="#1a1aff">10</text><text transform="translate(0.5,-27.4) scale(0.8,1)" font-family="Liberation Sans, sans-serif" font-size="21" fill="#1a1aff">1</text></g>
<g transform="translate(0,296.4) rotate(-90)"><text x="0" y="-21.4" font-family="Liberation Sans, sans-serif" font-size="12.5" font-weight="bold" text-anchor="end" fill="#1a1aff">10</text><text transform="translate(0.5,-27.4) scale(0.8,1)" font-family="Liberation Sans, sans-serif" font-size="21" fill="#1a1aff">2</text></g>
<g transform="translate(0,239.5) rotate(-90)"><text x="0" y="-21.4" font-family="Liberation Sans, sans-serif" font-size="12.5" font-weight="bold" text-anchor="end" fill="#1a1aff">10</text><text transform="translate(0.5,-27.4) scale(0.8,1)" font-family="Liberation Sans, sans-serif" font-size="21" fill="#1a1aff">3</text></g>
<g transform="translate(0,182.6) rotate(-90)"><text x="0" y="-21.4" font-family="Liberation Sans, sans-serif" font-size="12.5" font-weight="bold" text-anchor="end" fill="#1a1aff">10</text><text transform="translate(0.5,-27.4) scale(0.8,1)" font-family="Liberation Sans, sans-serif" font-size="21" fill="#1a1aff">4</text></g>
<g transform="translate(0,125.7) rotate(-90)"><text x="0" y="-21.4" font-family="Liberation Sans, sans-serif" font-size="12.5" font-weight="bold" text-anchor="end" fill="#1a1aff">10</text><text transform="translate(0.5,-27.4) scale(0.8,1)" font-family="Liberation Sans, sans-serif" font-size="21" fill="#1a1aff">5</text></g>
<g transform="translate(0,68.8) rotate(-90)"><text x="0" y="-21.4" font-family="Liberation Sans, sans-serif" font-size="12.5" font-weight="bold" text-anchor="end" fill="#1a1aff">10</text><text transform="translate(0.5,-27.4) scale(0.8,1)" font-family="Liberation Sans, sans-serif" font-size="21" fill="#1a1aff">6</text></g>
<g transform="translate(0,5.5) rotate(-90)"><text x="0" y="-21.4" font-family="Liberation Sans, sans-serif" font-size="12.5" font-weight="bold" text-anchor="end" fill="#1a1aff">10</text><text transform="translate(0.5,-27.4) scale(0.85,1)" font-family="Liberation Sans, sans-serif" font-size="21" fill="#1a1aff">7.2</text></g>
<text x="178.5" y="415.9" text-anchor="middle" font-family="Liberation Sans, sans-serif" font-size="19.5" textLength="59.5" lengthAdjust="spacingAndGlyphs">FL1-H</text>
<text x="0" y="0" transform="translate(-49.5,218.8) rotate(-90)" text-anchor="middle" font-family="Liberation Sans, sans-serif" font-size="19.5" textLength="59.5" lengthAdjust="spacingAndGlyphs">FL2-H</text>
<text x="1.6" y="25.2" font-family="Liberation Sans, sans-serif" font-size="28" fill="#e41b3a" textLength="76.8" lengthAdjust="spacingAndGlyphs">Q1-UL</text>
<text x="1.6" y="49.3" font-family="Liberation Sans, sans-serif" font-size="28" fill="#e41b3a" textLength="56.9" lengthAdjust="spacingAndGlyphs">0.0%</text>
<text x="276.6" y="25.2" font-family="Liberation Sans, sans-serif" font-size="28" fill="#e41b3a" textLength="79.9" lengthAdjust="spacingAndGlyphs">Q1-UR</text>
<text x="276.6" y="49.3" font-family="Liberation Sans, sans-serif" font-size="28" fill="#e41b3a" textLength="56.9" lengthAdjust="spacingAndGlyphs">0.0%</text>
<text x="1.6" y="334" font-family="Liberation Sans, sans-serif" font-size="28" fill="#e41b3a" textLength="72.5" lengthAdjust="spacingAndGlyphs">Q1-LL</text>
<text x="1.6" y="358.5" font-family="Liberation Sans, sans-serif" font-size="28" fill="#e41b3a" textLength="73.1" lengthAdjust="spacingAndGlyphs">47.0%</text>
<text x="280.6" y="334" font-family="Liberation Sans, sans-serif" font-size="28" fill="#e41b3a" textLength="75.5" lengthAdjust="spacingAndGlyphs">Q1-LR</text>
<text x="280.6" y="358.5" font-family="Liberation Sans, sans-serif" font-size="28" fill="#e41b3a" textLength="73.1" lengthAdjust="spacingAndGlyphs">53.0%</text>
</g>
<rect x="1826" y="99.2" width="26" height="6" fill="#000"/>
<text x="1821" y="119.4" text-anchor="end" font-family="Liberation Serif, serif" font-weight="bold" font-size="49">60</text>
<rect x="1826" y="309.7" width="26" height="6" fill="#000"/>
<text x="1821" y="329.9" text-anchor="end" font-family="Liberation Serif, serif" font-weight="bold" font-size="49">40</text>
<rect x="1826" y="520.8" width="26" height="6" fill="#000"/>
<text x="1821" y="541" text-anchor="end" font-family="Liberation Serif, serif" font-weight="bold" font-size="49">20</text>
<rect x="1826" y="732" width="26" height="6" fill="#000"/>
<text x="1821" y="752.2" text-anchor="end" font-family="Liberation Serif, serif" font-weight="bold" font-size="49">0</text>
<rect x="1917.2" y="710" width="3" height="14" fill="#000"/>
<rect x="1901.2" y="708.4" width="35" height="3.2" fill="#000"/>
<rect x="2016.8" y="541.4" width="3" height="43.4" fill="#000"/>
<rect x="2000.8" y="539.8" width="35" height="3.2" fill="#000"/>
<rect x="2116.4" y="336.5" width="3" height="49.4" fill="#000"/>
<rect x="2100.4" y="334.9" width="35" height="3.2" fill="#000"/>
<rect x="2216" y="299" width="3" height="33" fill="#000"/>
<rect x="2200" y="297.4" width="35" height="3.2" fill="#000"/>
<rect x="2315.6" y="257.2" width="3" height="32.1" fill="#000"/>
<rect x="2299.6" y="255.6" width="35" height="3.2" fill="#000"/>
<rect x="2415.2" y="157" width="3" height="15.3" fill="#000"/>
<rect x="2399.2" y="155.4" width="35" height="3.2" fill="#000"/>
<rect x="1885.4" y="726.2" width="66.6" height="8.8" fill="#000" stroke="#000" stroke-width="8.4"/>
<rect x="1985" y="587" width="66.6" height="148" fill="#a09fa4" stroke="#000" stroke-width="8.4"/>
<rect x="2084.6" y="388.1" width="66.6" height="346.9" fill="#808080" stroke="#000" stroke-width="8.4"/>
<rect x="2184.2" y="334.2" width="66.6" height="400.8" fill="#d4d4d4" stroke="#000" stroke-width="8.4"/>
<rect x="2283.8" y="291.5" width="66.6" height="443.5" fill="#606060" stroke="#000" stroke-width="8.4"/>
<rect x="2383.4" y="174.5" width="66.6" height="560.5" fill="#a09fa4" stroke="#000" stroke-width="8.4"/>
<rect x="1849.7" y="99" width="6.1" height="639" fill="#000"/>
<rect x="1825.4" y="732.1" width="658.7" height="6" fill="#000"/>
<rect x="1915.7" y="735" width="6" height="27" fill="#000"/>
<rect x="2015.3" y="735" width="6" height="27" fill="#000"/>
<rect x="2114.9" y="735" width="6" height="27" fill="#000"/>
<rect x="2214.5" y="735" width="6" height="27" fill="#000"/>
<rect x="2314.1" y="735" width="6" height="27" fill="#000"/>
<rect x="2413.7" y="735" width="6" height="27" fill="#000"/>
<text transform="translate(2006.9,553.3) scale(0.76,1)" text-anchor="middle" font-family="Liberation Serif, serif" font-size="65" stroke="#000" stroke-width="0.3">*</text>
<text transform="translate(2034.6,553.3) scale(0.76,1)" text-anchor="middle" font-family="Liberation Serif, serif" font-size="65" stroke="#000" stroke-width="0.3">*</text>
<text transform="translate(2090.8,350.6) scale(0.76,1)" text-anchor="middle" font-family="Liberation Serif, serif" font-size="65" stroke="#000" stroke-width="0.3">*</text>
<text transform="translate(2118.8,350.6) scale(0.76,1)" text-anchor="middle" font-family="Liberation Serif, serif" font-size="65" stroke="#000" stroke-width="0.3">*</text>
<text transform="translate(2145.6,350.6) scale(0.76,1)" text-anchor="middle" font-family="Liberation Serif, serif" font-size="65" stroke="#000" stroke-width="0.3">*</text>
<text transform="translate(2189.6,310.6) scale(0.76,1)" text-anchor="middle" font-family="Liberation Serif, serif" font-size="65" stroke="#000" stroke-width="0.3">*</text>
<text transform="translate(2216.6,310.6) scale(0.76,1)" text-anchor="middle" font-family="Liberation Serif, serif" font-size="65" stroke="#000" stroke-width="0.3">*</text>
<text transform="translate(2244.4,310.6) scale(0.76,1)" text-anchor="middle" font-family="Liberation Serif, serif" font-size="65" stroke="#000" stroke-width="0.3">*</text>
<text transform="translate(2288,270.2) scale(0.76,1)" text-anchor="middle" font-family="Liberation Serif, serif" font-size="65" stroke="#000" stroke-width="0.3">*</text>
<text transform="translate(2315.6,270.2) scale(0.76,1)" text-anchor="middle" font-family="Liberation Serif, serif" font-size="65" stroke="#000" stroke-width="0.3">*</text>
<text transform="translate(2343.6,270.2) scale(0.76,1)" text-anchor="middle" font-family="Liberation Serif, serif" font-size="65" stroke="#000" stroke-width="0.3">*</text>
<text transform="translate(2391,170.4) scale(0.76,1)" text-anchor="middle" font-family="Liberation Serif, serif" font-size="65" stroke="#000" stroke-width="0.3">*</text>
<text transform="translate(2418.6,170.4) scale(0.76,1)" text-anchor="middle" font-family="Liberation Serif, serif" font-size="65" stroke="#000" stroke-width="0.3">*</text>
<text transform="translate(2446.4,170.4) scale(0.76,1)" text-anchor="middle" font-family="Liberation Serif, serif" font-size="65" stroke="#000" stroke-width="0.3">*</text>
<text transform="translate(1927.3,802) rotate(-30)" text-anchor="end" font-family="Liberation Serif, serif" font-weight="bold" font-size="48">0</text>
<text transform="translate(2025.6,802) rotate(-30)" text-anchor="end" font-family="Liberation Serif, serif" font-weight="bold" font-size="48">0.033</text>
<text transform="translate(2125.3,801.5) rotate(-30)" text-anchor="end" font-family="Liberation Serif, serif" font-weight="bold" font-size="48">0.065</text>
<text transform="translate(2224.4,801.8) rotate(-30)" text-anchor="end" font-family="Liberation Serif, serif" font-weight="bold" font-size="48">0.13</text>
<text transform="translate(2325.3,800.2) rotate(-30)" text-anchor="end" font-family="Liberation Serif, serif" font-weight="bold" font-size="48">0.26</text>
<text transform="translate(2412.8,807.8) rotate(-30)" text-anchor="end" font-family="Liberation Serif, serif" font-weight="bold" font-size="48">0.52</text>
<text x="0" y="0" transform="translate(1745.5,627) rotate(-90)" font-family="Liberation Serif, serif" font-weight="bold" font-size="59" textLength="413.4" lengthAdjust="spacingAndGlyphs">% of stained cells</text>
<text x="1840.8" y="941" font-family="Liberation Serif, serif" font-weight="bold" font-size="57.4" textLength="656.5" lengthAdjust="spacingAndGlyphs">Concentrations of CA (mg/ml)</text>
</svg></body></html>
